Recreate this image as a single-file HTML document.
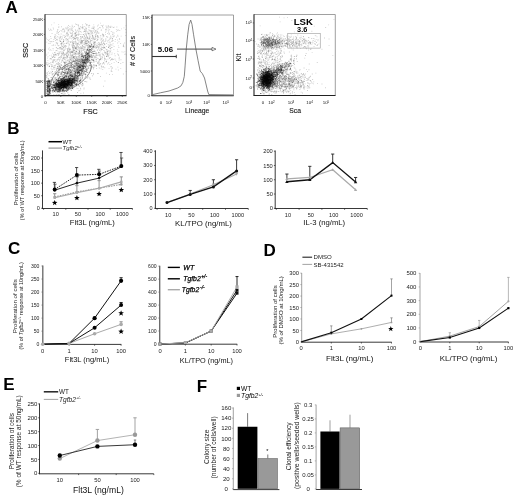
<!DOCTYPE html>
<html><head><meta charset="utf-8"><style>
html,body{margin:0;padding:0;background:#fff;width:520px;height:497px;overflow:hidden}
svg{display:block}
text{font-family:"Liberation Sans", sans-serif}
</style></head><body>
<svg style="will-change:transform" width="520" height="497" viewBox="0 0 520 497" font-family='"Liberation Sans", sans-serif'>
<defs><filter id="bl" x="0" y="0" width="1" height="1"><feGaussianBlur stdDeviation="0.45"/></filter></defs>
<rect width="520" height="497" fill="#fff"/>
<text x="5.60" y="13.20" font-size="17" font-weight="bold">A</text>
<g filter="url(#bl)">
<path d="M64.3 84.7h0.9v0.9h-0.9zM64.7 83.2h0.9v0.9h-0.9zM62.3 90.2h0.9v0.9h-0.9zM61.4 84.7h0.9v0.9h-0.9zM57.3 87.4h0.9v0.9h-0.9zM64.0 82.4h0.9v0.9h-0.9zM59.5 82.1h0.9v0.9h-0.9zM63.9 84.2h0.9v0.9h-0.9zM69.1 81.7h0.9v0.9h-0.9zM62.7 84.6h0.9v0.9h-0.9zM62.2 86.7h0.9v0.9h-0.9zM58.8 87.3h0.9v0.9h-0.9zM60.6 84.1h0.9v0.9h-0.9zM61.7 84.2h0.9v0.9h-0.9zM70.2 79.2h0.9v0.9h-0.9zM68.4 87.6h0.9v0.9h-0.9zM71.0 84.4h0.9v0.9h-0.9zM64.8 78.4h0.9v0.9h-0.9zM59.2 84.9h0.9v0.9h-0.9zM68.4 79.9h0.9v0.9h-0.9zM65.3 83.4h0.9v0.9h-0.9zM68.1 81.4h0.9v0.9h-0.9zM59.2 83.1h0.9v0.9h-0.9zM62.8 83.2h0.9v0.9h-0.9zM56.4 85.0h0.9v0.9h-0.9zM55.6 88.7h0.9v0.9h-0.9zM61.0 85.0h0.9v0.9h-0.9zM69.4 81.4h0.9v0.9h-0.9zM65.7 81.1h0.9v0.9h-0.9zM69.1 81.8h0.9v0.9h-0.9zM60.4 84.4h0.9v0.9h-0.9zM75.8 85.2h0.9v0.9h-0.9zM71.9 79.3h0.9v0.9h-0.9zM61.5 80.6h0.9v0.9h-0.9zM63.5 80.8h0.9v0.9h-0.9zM55.8 85.9h0.9v0.9h-0.9zM63.8 85.0h0.9v0.9h-0.9zM62.6 84.8h0.9v0.9h-0.9zM64.4 82.0h0.9v0.9h-0.9zM62.9 87.0h0.9v0.9h-0.9zM75.6 84.5h0.9v0.9h-0.9zM69.4 81.6h0.9v0.9h-0.9zM62.3 85.8h0.9v0.9h-0.9zM64.2 85.5h0.9v0.9h-0.9zM68.7 80.0h0.9v0.9h-0.9zM57.7 85.5h0.9v0.9h-0.9zM62.4 83.1h0.9v0.9h-0.9zM60.5 85.7h0.9v0.9h-0.9zM63.4 81.6h0.9v0.9h-0.9zM70.9 75.4h0.9v0.9h-0.9zM56.7 87.2h0.9v0.9h-0.9zM68.7 85.8h0.9v0.9h-0.9zM63.7 77.3h0.9v0.9h-0.9zM61.4 88.8h0.9v0.9h-0.9zM74.2 83.0h0.9v0.9h-0.9zM72.7 81.6h0.9v0.9h-0.9zM63.7 82.1h0.9v0.9h-0.9zM67.4 84.3h0.9v0.9h-0.9zM80.0 80.1h0.9v0.9h-0.9zM61.3 81.3h0.9v0.9h-0.9zM62.4 81.9h0.9v0.9h-0.9zM66.7 83.6h0.9v0.9h-0.9zM79.2 80.8h0.9v0.9h-0.9zM67.0 85.0h0.9v0.9h-0.9zM66.0 83.0h0.9v0.9h-0.9zM66.1 87.6h0.9v0.9h-0.9zM67.2 86.3h0.9v0.9h-0.9zM70.7 79.6h0.9v0.9h-0.9zM59.1 86.5h0.9v0.9h-0.9zM63.2 84.1h0.9v0.9h-0.9zM54.5 82.7h0.9v0.9h-0.9zM60.7 83.0h0.9v0.9h-0.9zM62.4 78.0h0.9v0.9h-0.9zM59.1 85.3h0.9v0.9h-0.9zM70.9 83.5h0.9v0.9h-0.9zM67.6 82.5h0.9v0.9h-0.9zM60.3 83.6h0.9v0.9h-0.9zM59.0 88.6h0.9v0.9h-0.9zM75.9 80.2h0.9v0.9h-0.9zM62.6 84.3h0.9v0.9h-0.9zM71.7 81.2h0.9v0.9h-0.9zM62.2 86.0h0.9v0.9h-0.9zM55.4 87.2h0.9v0.9h-0.9zM67.2 90.3h0.9v0.9h-0.9zM72.1 84.1h0.9v0.9h-0.9zM75.6 80.1h0.9v0.9h-0.9zM63.7 83.1h0.9v0.9h-0.9zM61.4 86.5h0.9v0.9h-0.9zM62.8 82.3h0.9v0.9h-0.9zM68.7 85.9h0.9v0.9h-0.9zM70.8 80.8h0.9v0.9h-0.9zM60.8 80.7h0.9v0.9h-0.9z" fill="#000" fill-opacity="0.5"/>
<path d="M61.7 82.4h0.9v0.9h-0.9zM49.8 87.7h0.9v0.9h-0.9zM67.1 79.6h0.9v0.9h-0.9zM71.5 83.2h0.9v0.9h-0.9zM53.0 82.4h0.9v0.9h-0.9zM61.6 79.4h0.9v0.9h-0.9zM70.7 81.1h0.9v0.9h-0.9zM60.3 86.6h0.9v0.9h-0.9zM67.6 84.8h0.9v0.9h-0.9zM58.0 82.0h0.9v0.9h-0.9zM63.6 84.4h0.9v0.9h-0.9zM61.2 88.0h0.9v0.9h-0.9zM55.5 91.4h0.9v0.9h-0.9zM62.9 84.7h0.9v0.9h-0.9zM71.2 85.6h0.9v0.9h-0.9zM67.3 83.0h0.9v0.9h-0.9zM69.5 80.7h0.9v0.9h-0.9zM71.9 82.8h0.9v0.9h-0.9zM57.3 82.9h0.9v0.9h-0.9zM62.3 79.9h0.9v0.9h-0.9zM64.9 83.8h0.9v0.9h-0.9zM57.6 81.1h0.9v0.9h-0.9zM62.2 83.1h0.9v0.9h-0.9zM65.5 78.8h0.9v0.9h-0.9zM70.6 80.6h0.9v0.9h-0.9zM64.0 84.9h0.9v0.9h-0.9zM70.7 87.0h0.9v0.9h-0.9zM69.2 79.6h0.9v0.9h-0.9zM53.8 83.8h0.9v0.9h-0.9zM69.7 87.6h0.9v0.9h-0.9zM52.5 91.6h0.9v0.9h-0.9zM71.8 83.1h0.9v0.9h-0.9zM64.0 82.6h0.9v0.9h-0.9zM59.1 83.3h0.9v0.9h-0.9zM54.4 86.7h0.9v0.9h-0.9zM64.6 83.3h0.9v0.9h-0.9zM70.2 80.4h0.9v0.9h-0.9zM62.3 81.5h0.9v0.9h-0.9zM66.2 85.2h0.9v0.9h-0.9zM70.1 80.6h0.9v0.9h-0.9zM52.5 85.5h0.9v0.9h-0.9zM69.7 82.0h0.9v0.9h-0.9zM64.4 84.0h0.9v0.9h-0.9zM73.7 81.0h0.9v0.9h-0.9zM61.0 87.5h0.9v0.9h-0.9zM62.9 84.9h0.9v0.9h-0.9zM62.4 83.1h0.9v0.9h-0.9zM61.1 88.2h0.9v0.9h-0.9zM63.8 84.4h0.9v0.9h-0.9zM62.4 85.2h0.9v0.9h-0.9zM60.8 84.2h0.9v0.9h-0.9zM61.4 83.1h0.9v0.9h-0.9zM59.9 84.2h0.9v0.9h-0.9zM63.6 83.8h0.9v0.9h-0.9zM63.3 83.7h0.9v0.9h-0.9zM64.1 80.0h0.9v0.9h-0.9zM55.7 83.5h0.9v0.9h-0.9zM61.0 86.8h0.9v0.9h-0.9zM73.1 78.2h0.9v0.9h-0.9zM66.1 87.8h0.9v0.9h-0.9zM65.0 84.9h0.9v0.9h-0.9zM70.6 81.8h0.9v0.9h-0.9zM63.7 83.6h0.9v0.9h-0.9zM70.4 79.8h0.9v0.9h-0.9zM70.6 78.2h0.9v0.9h-0.9zM65.0 81.1h0.9v0.9h-0.9zM67.7 82.7h0.9v0.9h-0.9zM62.1 87.7h0.9v0.9h-0.9zM68.1 80.2h0.9v0.9h-0.9zM60.8 79.2h0.9v0.9h-0.9zM56.6 85.6h0.9v0.9h-0.9zM66.8 85.8h0.9v0.9h-0.9zM67.1 81.0h0.9v0.9h-0.9zM55.2 83.3h0.9v0.9h-0.9zM55.8 88.1h0.9v0.9h-0.9zM57.3 91.6h0.9v0.9h-0.9zM65.0 83.7h0.9v0.9h-0.9zM66.7 86.1h0.9v0.9h-0.9zM68.2 79.7h0.9v0.9h-0.9zM63.5 84.2h0.9v0.9h-0.9zM74.7 77.7h0.9v0.9h-0.9zM58.7 85.5h0.9v0.9h-0.9zM55.9 83.6h0.9v0.9h-0.9zM62.7 78.7h0.9v0.9h-0.9zM63.7 79.2h0.9v0.9h-0.9zM60.0 85.7h0.9v0.9h-0.9zM58.9 82.6h0.9v0.9h-0.9zM59.0 91.6h0.9v0.9h-0.9zM63.2 85.6h0.9v0.9h-0.9zM60.0 89.8h0.9v0.9h-0.9zM61.6 82.2h0.9v0.9h-0.9zM54.8 82.7h0.9v0.9h-0.9z" fill="#000" fill-opacity="0.5"/>
<path d="M60.6 82.5h0.9v0.9h-0.9zM63.8 84.4h0.9v0.9h-0.9zM64.9 85.3h0.9v0.9h-0.9zM61.9 83.7h0.9v0.9h-0.9zM61.5 82.4h0.9v0.9h-0.9zM58.2 87.1h0.9v0.9h-0.9zM69.3 82.1h0.9v0.9h-0.9zM60.9 84.7h0.9v0.9h-0.9zM69.3 84.6h0.9v0.9h-0.9zM62.2 82.0h0.9v0.9h-0.9zM63.4 87.4h0.9v0.9h-0.9zM57.0 86.2h0.9v0.9h-0.9zM70.1 84.3h0.9v0.9h-0.9zM55.1 86.6h0.9v0.9h-0.9zM65.9 84.8h0.9v0.9h-0.9zM55.2 88.3h0.9v0.9h-0.9zM66.7 82.7h0.9v0.9h-0.9zM71.0 80.4h0.9v0.9h-0.9zM64.5 86.3h0.9v0.9h-0.9zM66.6 80.1h0.9v0.9h-0.9zM73.5 77.7h0.9v0.9h-0.9zM61.8 84.7h0.9v0.9h-0.9zM65.3 83.5h0.9v0.9h-0.9zM66.7 83.7h0.9v0.9h-0.9zM67.0 87.7h0.9v0.9h-0.9zM54.4 86.5h0.9v0.9h-0.9zM63.1 84.2h0.9v0.9h-0.9zM59.5 86.2h0.9v0.9h-0.9zM67.0 80.8h0.9v0.9h-0.9zM62.4 83.6h0.9v0.9h-0.9zM66.4 86.2h0.9v0.9h-0.9zM61.6 88.9h0.9v0.9h-0.9zM70.4 76.3h0.9v0.9h-0.9zM57.7 87.5h0.9v0.9h-0.9zM62.9 82.4h0.9v0.9h-0.9zM53.9 86.4h0.9v0.9h-0.9zM54.3 86.8h0.9v0.9h-0.9zM64.7 86.2h0.9v0.9h-0.9zM64.6 85.1h0.9v0.9h-0.9zM66.8 84.9h0.9v0.9h-0.9zM68.3 84.6h0.9v0.9h-0.9zM64.0 85.6h0.9v0.9h-0.9zM60.8 80.1h0.9v0.9h-0.9zM63.8 81.4h0.9v0.9h-0.9zM68.4 81.4h0.9v0.9h-0.9zM65.3 82.9h0.9v0.9h-0.9zM67.7 81.5h0.9v0.9h-0.9zM57.7 80.0h0.9v0.9h-0.9zM76.0 77.3h0.9v0.9h-0.9zM61.2 82.8h0.9v0.9h-0.9zM53.7 85.3h0.9v0.9h-0.9zM62.4 85.4h0.9v0.9h-0.9zM58.8 86.4h0.9v0.9h-0.9zM68.7 84.8h0.9v0.9h-0.9zM64.6 84.3h0.9v0.9h-0.9zM73.4 85.6h0.9v0.9h-0.9zM59.7 80.4h0.9v0.9h-0.9zM65.5 78.5h0.9v0.9h-0.9zM73.4 85.0h0.9v0.9h-0.9zM60.1 86.0h0.9v0.9h-0.9zM55.5 84.8h0.9v0.9h-0.9zM76.2 77.6h0.9v0.9h-0.9zM58.5 83.5h0.9v0.9h-0.9zM65.5 81.0h0.9v0.9h-0.9zM66.2 87.3h0.9v0.9h-0.9zM64.8 87.2h0.9v0.9h-0.9zM76.5 81.3h0.9v0.9h-0.9zM61.6 84.0h0.9v0.9h-0.9zM63.8 87.2h0.9v0.9h-0.9zM68.5 81.3h0.9v0.9h-0.9zM61.8 83.4h0.9v0.9h-0.9zM66.8 85.9h0.9v0.9h-0.9zM67.1 77.8h0.9v0.9h-0.9zM68.7 80.4h0.9v0.9h-0.9zM69.3 83.3h0.9v0.9h-0.9zM59.5 86.3h0.9v0.9h-0.9zM59.2 87.3h0.9v0.9h-0.9zM65.1 86.9h0.9v0.9h-0.9zM66.5 84.9h0.9v0.9h-0.9zM70.2 82.1h0.9v0.9h-0.9zM66.9 80.2h0.9v0.9h-0.9zM59.0 87.8h0.9v0.9h-0.9zM68.4 80.5h0.9v0.9h-0.9zM60.4 85.6h0.9v0.9h-0.9zM59.2 88.5h0.9v0.9h-0.9zM57.7 84.2h0.9v0.9h-0.9zM62.8 79.6h0.9v0.9h-0.9zM58.1 80.1h0.9v0.9h-0.9zM68.3 83.2h0.9v0.9h-0.9zM59.2 86.5h0.9v0.9h-0.9zM53.5 86.8h0.9v0.9h-0.9zM67.3 80.7h0.9v0.9h-0.9z" fill="#000" fill-opacity="0.5"/>
<path d="M65.5 87.2h0.9v0.9h-0.9zM55.2 85.9h0.9v0.9h-0.9zM63.6 86.0h0.9v0.9h-0.9zM64.0 88.2h0.9v0.9h-0.9zM66.9 89.2h0.9v0.9h-0.9zM53.2 90.3h0.9v0.9h-0.9zM59.9 84.6h0.9v0.9h-0.9zM56.9 83.2h0.9v0.9h-0.9zM62.9 88.6h0.9v0.9h-0.9zM55.5 88.5h0.9v0.9h-0.9zM61.9 78.7h0.9v0.9h-0.9zM62.8 80.8h0.9v0.9h-0.9zM67.7 82.9h0.9v0.9h-0.9zM60.1 87.9h0.9v0.9h-0.9zM74.5 79.6h0.9v0.9h-0.9zM52.1 84.4h0.9v0.9h-0.9zM61.6 83.9h0.9v0.9h-0.9zM61.4 81.8h0.9v0.9h-0.9zM55.7 87.0h0.9v0.9h-0.9zM54.1 87.4h0.9v0.9h-0.9zM54.6 84.6h0.9v0.9h-0.9zM63.5 83.9h0.9v0.9h-0.9zM56.6 86.9h0.9v0.9h-0.9zM65.9 84.4h0.9v0.9h-0.9zM72.6 80.6h0.9v0.9h-0.9zM60.0 83.1h0.9v0.9h-0.9zM66.3 86.9h0.9v0.9h-0.9zM60.8 87.0h0.9v0.9h-0.9zM63.4 84.8h0.9v0.9h-0.9zM71.0 82.8h0.9v0.9h-0.9zM74.8 80.1h0.9v0.9h-0.9zM63.6 83.9h0.9v0.9h-0.9zM59.9 84.0h0.9v0.9h-0.9zM58.7 80.4h0.9v0.9h-0.9zM63.9 82.3h0.9v0.9h-0.9zM68.8 83.8h0.9v0.9h-0.9zM64.2 84.2h0.9v0.9h-0.9zM58.5 85.3h0.9v0.9h-0.9zM59.3 79.8h0.9v0.9h-0.9zM60.8 86.1h0.9v0.9h-0.9zM68.0 82.4h0.9v0.9h-0.9zM69.5 81.1h0.9v0.9h-0.9zM60.8 79.0h0.9v0.9h-0.9zM67.0 82.2h0.9v0.9h-0.9zM56.5 82.4h0.9v0.9h-0.9zM68.3 76.5h0.9v0.9h-0.9zM60.5 81.9h0.9v0.9h-0.9zM58.2 80.5h0.9v0.9h-0.9zM63.2 83.8h0.9v0.9h-0.9zM63.7 84.1h0.9v0.9h-0.9zM64.7 86.2h0.9v0.9h-0.9zM68.5 85.6h0.9v0.9h-0.9zM70.1 80.5h0.9v0.9h-0.9zM71.2 82.3h0.9v0.9h-0.9zM61.1 85.0h0.9v0.9h-0.9zM64.0 83.4h0.9v0.9h-0.9zM55.2 82.7h0.9v0.9h-0.9zM62.7 85.6h0.9v0.9h-0.9zM72.5 80.9h0.9v0.9h-0.9zM58.1 83.0h0.9v0.9h-0.9zM59.5 87.7h0.9v0.9h-0.9zM63.7 78.8h0.9v0.9h-0.9zM58.2 85.0h0.9v0.9h-0.9zM59.7 83.8h0.9v0.9h-0.9zM62.5 83.4h0.9v0.9h-0.9zM69.3 82.1h0.9v0.9h-0.9zM62.7 86.6h0.9v0.9h-0.9zM66.2 86.2h0.9v0.9h-0.9zM61.4 85.5h0.9v0.9h-0.9zM61.4 84.2h0.9v0.9h-0.9zM62.6 78.6h0.9v0.9h-0.9zM65.8 86.7h0.9v0.9h-0.9zM67.6 82.0h0.9v0.9h-0.9zM76.5 79.7h0.9v0.9h-0.9zM69.1 80.6h0.9v0.9h-0.9zM66.3 87.1h0.9v0.9h-0.9zM52.5 87.0h0.9v0.9h-0.9zM69.3 84.1h0.9v0.9h-0.9zM73.2 78.7h0.9v0.9h-0.9zM62.9 83.6h0.9v0.9h-0.9zM73.6 79.6h0.9v0.9h-0.9zM64.4 83.4h0.9v0.9h-0.9zM64.2 85.7h0.9v0.9h-0.9zM56.4 84.4h0.9v0.9h-0.9zM73.6 81.3h0.9v0.9h-0.9zM65.6 81.9h0.9v0.9h-0.9zM64.6 83.8h0.9v0.9h-0.9zM63.2 83.9h0.9v0.9h-0.9zM68.9 80.7h0.9v0.9h-0.9zM70.9 83.4h0.9v0.9h-0.9zM60.7 86.6h0.9v0.9h-0.9zM63.8 82.4h0.9v0.9h-0.9z" fill="#000" fill-opacity="0.5"/>
<path d="M60.8 83.5h0.9v0.9h-0.9zM57.9 84.0h0.9v0.9h-0.9zM64.2 85.8h0.9v0.9h-0.9zM61.4 84.1h0.9v0.9h-0.9zM58.9 84.1h0.9v0.9h-0.9zM55.2 89.3h0.9v0.9h-0.9zM61.0 85.1h0.9v0.9h-0.9zM70.8 80.1h0.9v0.9h-0.9zM58.0 88.6h0.9v0.9h-0.9zM64.0 85.1h0.9v0.9h-0.9zM58.5 80.6h0.9v0.9h-0.9zM74.7 84.2h0.9v0.9h-0.9zM65.0 83.0h0.9v0.9h-0.9zM60.3 86.9h0.9v0.9h-0.9zM59.6 81.9h0.9v0.9h-0.9zM69.3 84.0h0.9v0.9h-0.9zM55.6 83.1h0.9v0.9h-0.9zM77.7 78.5h0.9v0.9h-0.9zM59.6 82.9h0.9v0.9h-0.9zM68.7 78.1h0.9v0.9h-0.9zM57.4 88.5h0.9v0.9h-0.9zM57.8 86.1h0.9v0.9h-0.9zM56.1 85.2h0.9v0.9h-0.9zM60.2 84.7h0.9v0.9h-0.9zM61.6 81.4h0.9v0.9h-0.9zM51.4 87.7h0.9v0.9h-0.9zM65.1 87.7h0.9v0.9h-0.9zM64.6 81.2h0.9v0.9h-0.9zM67.1 82.0h0.9v0.9h-0.9zM67.2 81.4h0.9v0.9h-0.9zM53.4 85.4h0.9v0.9h-0.9zM62.5 84.8h0.9v0.9h-0.9zM68.2 84.2h0.9v0.9h-0.9zM67.7 82.3h0.9v0.9h-0.9zM66.4 81.1h0.9v0.9h-0.9zM62.8 82.0h0.9v0.9h-0.9zM71.5 82.2h0.9v0.9h-0.9zM66.7 80.1h0.9v0.9h-0.9zM69.5 83.9h0.9v0.9h-0.9zM63.3 82.8h0.9v0.9h-0.9zM67.1 84.7h0.9v0.9h-0.9zM62.5 84.1h0.9v0.9h-0.9zM65.4 81.5h0.9v0.9h-0.9zM68.5 82.2h0.9v0.9h-0.9zM58.2 79.9h0.9v0.9h-0.9zM63.4 82.3h0.9v0.9h-0.9zM62.9 81.9h0.9v0.9h-0.9zM64.7 86.7h0.9v0.9h-0.9zM67.3 85.7h0.9v0.9h-0.9zM61.9 79.6h0.9v0.9h-0.9zM69.3 81.8h0.9v0.9h-0.9zM71.7 84.5h0.9v0.9h-0.9zM59.6 91.2h0.9v0.9h-0.9zM60.2 83.9h0.9v0.9h-0.9zM71.3 76.6h0.9v0.9h-0.9zM56.0 89.4h0.9v0.9h-0.9zM65.4 84.6h0.9v0.9h-0.9zM59.0 79.9h0.9v0.9h-0.9zM57.3 86.0h0.9v0.9h-0.9zM58.6 90.0h0.9v0.9h-0.9zM74.1 82.7h0.9v0.9h-0.9zM58.4 89.7h0.9v0.9h-0.9zM62.3 86.7h0.9v0.9h-0.9zM63.3 84.7h0.9v0.9h-0.9zM64.2 82.7h0.9v0.9h-0.9zM64.2 83.6h0.9v0.9h-0.9zM65.5 81.0h0.9v0.9h-0.9zM50.9 86.4h0.9v0.9h-0.9zM57.6 84.0h0.9v0.9h-0.9zM63.1 85.4h0.9v0.9h-0.9zM65.4 79.5h0.9v0.9h-0.9zM70.7 81.3h0.9v0.9h-0.9zM67.6 80.1h0.9v0.9h-0.9zM61.2 87.2h0.9v0.9h-0.9zM59.6 88.2h0.9v0.9h-0.9zM62.4 87.4h0.9v0.9h-0.9zM61.6 84.1h0.9v0.9h-0.9zM67.1 84.0h0.9v0.9h-0.9zM67.6 83.5h0.9v0.9h-0.9zM65.1 81.1h0.9v0.9h-0.9zM64.5 86.4h0.9v0.9h-0.9zM65.8 82.7h0.9v0.9h-0.9zM68.1 81.6h0.9v0.9h-0.9zM62.3 85.6h0.9v0.9h-0.9zM70.3 80.0h0.9v0.9h-0.9zM63.0 89.0h0.9v0.9h-0.9zM59.5 82.8h0.9v0.9h-0.9zM74.1 79.4h0.9v0.9h-0.9zM63.9 79.7h0.9v0.9h-0.9zM58.3 84.1h0.9v0.9h-0.9zM57.2 90.4h0.9v0.9h-0.9zM65.7 87.2h0.9v0.9h-0.9z" fill="#000" fill-opacity="0.5"/>
<path d="M67.0 83.9h0.9v0.9h-0.9zM69.1 79.9h0.9v0.9h-0.9zM71.2 79.5h0.9v0.9h-0.9zM65.8 83.0h0.9v0.9h-0.9zM65.6 84.8h0.9v0.9h-0.9zM60.1 87.6h0.9v0.9h-0.9zM61.7 84.0h0.9v0.9h-0.9zM65.6 83.3h0.9v0.9h-0.9zM67.5 85.2h0.9v0.9h-0.9zM58.0 84.4h0.9v0.9h-0.9zM45.8 89.2h0.9v0.9h-0.9zM62.2 86.8h0.9v0.9h-0.9zM62.9 84.5h0.9v0.9h-0.9zM72.0 80.2h0.9v0.9h-0.9zM65.5 87.5h0.9v0.9h-0.9zM61.7 80.1h0.9v0.9h-0.9zM68.2 82.0h0.9v0.9h-0.9zM72.1 79.3h0.9v0.9h-0.9zM68.2 81.0h0.9v0.9h-0.9zM57.4 84.3h0.9v0.9h-0.9zM67.6 80.0h0.9v0.9h-0.9zM64.9 87.2h0.9v0.9h-0.9zM60.6 79.5h0.9v0.9h-0.9zM67.9 83.8h0.9v0.9h-0.9zM60.6 86.4h0.9v0.9h-0.9zM69.2 83.2h0.9v0.9h-0.9zM58.6 85.5h0.9v0.9h-0.9zM64.1 83.0h0.9v0.9h-0.9zM65.9 80.8h0.9v0.9h-0.9zM76.0 84.4h0.9v0.9h-0.9zM57.0 85.2h0.9v0.9h-0.9zM61.6 84.7h0.9v0.9h-0.9zM70.2 77.4h0.9v0.9h-0.9zM66.0 83.6h0.9v0.9h-0.9zM64.7 86.5h0.9v0.9h-0.9zM66.9 81.3h0.9v0.9h-0.9zM67.5 79.7h0.9v0.9h-0.9zM64.1 81.0h0.9v0.9h-0.9zM64.9 83.9h0.9v0.9h-0.9zM61.4 85.1h0.9v0.9h-0.9zM64.5 86.7h0.9v0.9h-0.9zM63.7 81.6h0.9v0.9h-0.9zM59.9 84.9h0.9v0.9h-0.9zM71.7 75.7h0.9v0.9h-0.9zM67.5 81.0h0.9v0.9h-0.9zM64.9 84.3h0.9v0.9h-0.9zM63.9 86.9h0.9v0.9h-0.9zM66.3 79.4h0.9v0.9h-0.9zM60.6 83.0h0.9v0.9h-0.9zM62.4 82.2h0.9v0.9h-0.9zM62.2 82.3h0.9v0.9h-0.9zM72.0 82.9h0.9v0.9h-0.9zM60.4 81.9h0.9v0.9h-0.9zM67.3 84.4h0.9v0.9h-0.9zM64.6 81.3h0.9v0.9h-0.9zM79.4 80.4h0.9v0.9h-0.9zM73.6 76.4h0.9v0.9h-0.9zM63.1 86.4h0.9v0.9h-0.9zM50.5 84.2h0.9v0.9h-0.9zM77.3 80.5h0.9v0.9h-0.9zM63.4 88.3h0.9v0.9h-0.9zM59.3 87.2h0.9v0.9h-0.9zM61.6 84.3h0.9v0.9h-0.9zM65.2 79.5h0.9v0.9h-0.9zM71.8 78.6h0.9v0.9h-0.9zM62.5 90.0h0.9v0.9h-0.9zM64.3 83.4h0.9v0.9h-0.9zM57.4 83.3h0.9v0.9h-0.9zM63.1 90.4h0.9v0.9h-0.9zM56.2 84.2h0.9v0.9h-0.9zM60.0 84.3h0.9v0.9h-0.9zM72.0 81.5h0.9v0.9h-0.9zM62.6 90.7h0.9v0.9h-0.9zM74.2 81.6h0.9v0.9h-0.9zM56.3 80.8h0.9v0.9h-0.9zM61.0 88.2h0.9v0.9h-0.9zM64.6 80.4h0.9v0.9h-0.9zM65.5 84.1h0.9v0.9h-0.9zM58.4 86.0h0.9v0.9h-0.9zM61.2 84.9h0.9v0.9h-0.9zM69.9 78.8h0.9v0.9h-0.9zM56.1 88.5h0.9v0.9h-0.9zM63.5 81.9h0.9v0.9h-0.9zM62.3 82.2h0.9v0.9h-0.9zM63.0 84.4h0.9v0.9h-0.9zM69.4 84.3h0.9v0.9h-0.9zM58.1 91.3h0.9v0.9h-0.9zM64.5 85.5h0.9v0.9h-0.9zM68.3 82.9h0.9v0.9h-0.9zM61.4 84.8h0.9v0.9h-0.9zM65.3 82.9h0.9v0.9h-0.9zM60.0 84.5h0.9v0.9h-0.9z" fill="#000" fill-opacity="0.5"/>
<path d="M63.7 81.5h0.9v0.9h-0.9zM64.6 86.2h0.9v0.9h-0.9zM64.7 82.5h0.9v0.9h-0.9zM61.9 81.7h0.9v0.9h-0.9zM62.9 83.8h0.9v0.9h-0.9zM63.3 80.0h0.9v0.9h-0.9zM55.8 84.8h0.9v0.9h-0.9zM61.1 83.6h0.9v0.9h-0.9zM75.6 83.9h0.9v0.9h-0.9zM57.8 83.8h0.9v0.9h-0.9zM71.3 81.5h0.9v0.9h-0.9zM63.7 76.9h0.9v0.9h-0.9zM72.7 82.4h0.9v0.9h-0.9zM60.9 85.7h0.9v0.9h-0.9zM68.4 79.8h0.9v0.9h-0.9zM61.4 83.1h0.9v0.9h-0.9zM66.1 86.0h0.9v0.9h-0.9zM63.4 79.6h0.9v0.9h-0.9zM71.5 79.1h0.9v0.9h-0.9zM58.2 87.2h0.9v0.9h-0.9zM56.1 85.9h0.9v0.9h-0.9zM74.1 80.0h0.9v0.9h-0.9zM64.6 84.2h0.9v0.9h-0.9zM63.8 79.9h0.9v0.9h-0.9zM66.3 83.5h0.9v0.9h-0.9zM60.7 85.2h0.9v0.9h-0.9zM63.6 86.3h0.9v0.9h-0.9zM68.4 80.6h0.9v0.9h-0.9zM61.1 82.2h0.9v0.9h-0.9zM67.7 84.5h0.9v0.9h-0.9zM62.7 79.0h0.9v0.9h-0.9zM57.8 85.2h0.9v0.9h-0.9zM67.8 81.8h0.9v0.9h-0.9zM67.5 82.8h0.9v0.9h-0.9zM77.1 76.4h0.9v0.9h-0.9zM56.9 84.4h0.9v0.9h-0.9zM70.6 87.4h0.9v0.9h-0.9zM72.2 87.4h0.9v0.9h-0.9zM69.2 80.8h0.9v0.9h-0.9zM63.7 82.6h0.9v0.9h-0.9zM52.2 90.0h0.9v0.9h-0.9zM69.2 81.0h0.9v0.9h-0.9zM64.2 80.0h0.9v0.9h-0.9zM63.2 86.7h0.9v0.9h-0.9zM68.3 87.6h0.9v0.9h-0.9zM58.5 84.2h0.9v0.9h-0.9zM66.4 84.5h0.9v0.9h-0.9zM61.4 89.9h0.9v0.9h-0.9zM54.2 85.0h0.9v0.9h-0.9zM61.2 85.6h0.9v0.9h-0.9zM66.0 82.6h0.9v0.9h-0.9zM55.5 86.7h0.9v0.9h-0.9zM65.7 84.6h0.9v0.9h-0.9zM72.0 82.2h0.9v0.9h-0.9zM65.8 85.7h0.9v0.9h-0.9zM71.4 82.8h0.9v0.9h-0.9zM61.1 87.6h0.9v0.9h-0.9zM70.7 75.5h0.9v0.9h-0.9zM63.6 81.4h0.9v0.9h-0.9zM60.7 87.1h0.9v0.9h-0.9zM57.1 90.7h0.9v0.9h-0.9zM62.7 81.6h0.9v0.9h-0.9zM58.8 90.4h0.9v0.9h-0.9zM76.1 82.9h0.9v0.9h-0.9zM67.7 79.1h0.9v0.9h-0.9zM63.0 81.1h0.9v0.9h-0.9zM52.8 87.6h0.9v0.9h-0.9zM58.4 83.6h0.9v0.9h-0.9zM61.3 83.5h0.9v0.9h-0.9zM65.7 83.8h0.9v0.9h-0.9zM56.5 82.9h0.9v0.9h-0.9zM63.7 81.6h0.9v0.9h-0.9zM58.8 83.9h0.9v0.9h-0.9zM57.7 87.3h0.9v0.9h-0.9zM68.9 80.2h0.9v0.9h-0.9zM59.5 84.6h0.9v0.9h-0.9zM67.0 82.4h0.9v0.9h-0.9zM68.9 80.8h0.9v0.9h-0.9zM60.5 78.8h0.9v0.9h-0.9zM60.8 84.8h0.9v0.9h-0.9zM60.9 81.3h0.9v0.9h-0.9zM65.4 83.1h0.9v0.9h-0.9zM74.1 82.1h0.9v0.9h-0.9zM67.8 81.1h0.9v0.9h-0.9zM64.9 79.4h0.9v0.9h-0.9zM67.3 84.1h0.9v0.9h-0.9zM58.1 90.5h0.9v0.9h-0.9zM72.6 80.7h0.9v0.9h-0.9zM62.8 87.7h0.9v0.9h-0.9zM69.1 78.6h0.9v0.9h-0.9zM59.4 83.5h0.9v0.9h-0.9zM60.4 87.7h0.9v0.9h-0.9z" fill="#000" fill-opacity="0.5"/>
<path d="M64.5 85.8h0.9v0.9h-0.9zM60.7 84.9h0.9v0.9h-0.9zM63.6 80.8h0.9v0.9h-0.9zM63.5 82.9h0.9v0.9h-0.9zM68.3 83.9h0.9v0.9h-0.9zM72.1 85.0h0.9v0.9h-0.9zM72.4 79.1h0.9v0.9h-0.9zM67.2 82.0h0.9v0.9h-0.9zM56.3 82.1h0.9v0.9h-0.9zM64.4 81.7h0.9v0.9h-0.9zM56.8 84.0h0.9v0.9h-0.9zM65.3 83.4h0.9v0.9h-0.9zM63.2 82.7h0.9v0.9h-0.9zM63.1 81.6h0.9v0.9h-0.9zM58.9 84.5h0.9v0.9h-0.9zM69.5 88.3h0.9v0.9h-0.9zM53.9 85.5h0.9v0.9h-0.9zM62.8 87.2h0.9v0.9h-0.9zM65.9 82.7h0.9v0.9h-0.9zM59.0 83.8h0.9v0.9h-0.9zM69.1 74.4h0.9v0.9h-0.9zM59.8 85.4h0.9v0.9h-0.9zM62.8 83.3h0.9v0.9h-0.9zM68.0 85.8h0.9v0.9h-0.9zM68.7 80.1h0.9v0.9h-0.9zM65.7 75.8h0.9v0.9h-0.9zM68.4 78.2h0.9v0.9h-0.9zM62.7 87.8h0.9v0.9h-0.9zM70.1 81.7h0.9v0.9h-0.9zM53.5 89.6h0.9v0.9h-0.9zM64.5 79.6h0.9v0.9h-0.9zM76.4 79.3h0.9v0.9h-0.9zM60.9 86.6h0.9v0.9h-0.9zM71.1 82.6h0.9v0.9h-0.9zM60.7 82.9h0.9v0.9h-0.9zM72.1 81.7h0.9v0.9h-0.9zM68.4 83.1h0.9v0.9h-0.9zM74.8 79.5h0.9v0.9h-0.9zM60.0 84.9h0.9v0.9h-0.9zM62.7 87.6h0.9v0.9h-0.9zM59.2 88.4h0.9v0.9h-0.9zM65.8 81.1h0.9v0.9h-0.9zM53.5 84.9h0.9v0.9h-0.9zM61.4 82.8h0.9v0.9h-0.9zM69.4 78.9h0.9v0.9h-0.9zM68.6 83.3h0.9v0.9h-0.9zM66.0 83.4h0.9v0.9h-0.9zM65.7 83.4h0.9v0.9h-0.9zM67.0 83.0h0.9v0.9h-0.9zM68.3 84.9h0.9v0.9h-0.9zM68.9 87.1h0.9v0.9h-0.9zM65.4 82.4h0.9v0.9h-0.9zM60.9 87.3h0.9v0.9h-0.9zM71.1 85.6h0.9v0.9h-0.9zM64.4 86.0h0.9v0.9h-0.9zM59.8 89.2h0.9v0.9h-0.9zM62.5 83.6h0.9v0.9h-0.9zM77.2 76.1h0.9v0.9h-0.9zM63.0 84.1h0.9v0.9h-0.9zM62.9 86.6h0.9v0.9h-0.9zM58.0 78.5h0.9v0.9h-0.9zM61.6 83.4h0.9v0.9h-0.9zM68.4 87.4h0.9v0.9h-0.9zM67.7 81.6h0.9v0.9h-0.9zM67.7 82.4h0.9v0.9h-0.9zM62.0 86.8h0.9v0.9h-0.9zM62.0 83.5h0.9v0.9h-0.9zM64.9 81.2h0.9v0.9h-0.9zM60.8 84.7h0.9v0.9h-0.9zM61.4 83.3h0.9v0.9h-0.9zM58.5 86.0h0.9v0.9h-0.9zM63.1 86.5h0.9v0.9h-0.9zM61.6 82.1h0.9v0.9h-0.9zM71.1 80.1h0.9v0.9h-0.9zM61.1 81.2h0.9v0.9h-0.9zM74.6 81.0h0.9v0.9h-0.9zM59.2 82.0h0.9v0.9h-0.9zM73.4 80.3h0.9v0.9h-0.9zM67.7 84.1h0.9v0.9h-0.9zM62.5 90.1h0.9v0.9h-0.9zM64.7 83.5h0.9v0.9h-0.9zM70.5 85.0h0.9v0.9h-0.9zM58.0 86.2h0.9v0.9h-0.9zM60.1 81.6h0.9v0.9h-0.9zM70.3 85.4h0.9v0.9h-0.9zM71.9 81.1h0.9v0.9h-0.9zM66.9 81.9h0.9v0.9h-0.9zM70.1 83.2h0.9v0.9h-0.9zM65.3 75.7h0.9v0.9h-0.9zM67.1 84.6h0.9v0.9h-0.9zM57.4 84.9h0.9v0.9h-0.9zM57.4 83.3h0.9v0.9h-0.9z" fill="#000" fill-opacity="0.5"/>
<path d="M56.3 85.5h0.9v0.9h-0.9zM64.7 83.9h0.9v0.9h-0.9zM60.7 84.7h0.9v0.9h-0.9zM70.9 83.3h0.9v0.9h-0.9zM58.3 85.9h0.9v0.9h-0.9zM63.4 83.5h0.9v0.9h-0.9zM58.6 86.9h0.9v0.9h-0.9zM63.2 84.4h0.9v0.9h-0.9zM67.5 79.9h0.9v0.9h-0.9zM66.2 84.1h0.9v0.9h-0.9zM70.3 82.1h0.9v0.9h-0.9zM63.5 81.2h0.9v0.9h-0.9zM62.0 89.2h0.9v0.9h-0.9zM68.3 88.0h0.9v0.9h-0.9zM65.4 82.9h0.9v0.9h-0.9zM64.5 81.7h0.9v0.9h-0.9zM65.3 84.6h0.9v0.9h-0.9zM58.1 89.1h0.9v0.9h-0.9zM60.4 86.9h0.9v0.9h-0.9zM66.5 81.0h0.9v0.9h-0.9zM65.9 80.3h0.9v0.9h-0.9zM60.0 83.4h0.9v0.9h-0.9zM61.1 82.4h0.9v0.9h-0.9zM69.7 82.6h0.9v0.9h-0.9zM64.3 85.9h0.9v0.9h-0.9zM63.8 85.6h0.9v0.9h-0.9zM59.3 86.6h0.9v0.9h-0.9zM78.0 84.4h0.9v0.9h-0.9zM59.7 84.6h0.9v0.9h-0.9zM63.3 85.4h0.9v0.9h-0.9zM65.5 83.1h0.9v0.9h-0.9zM63.2 85.8h0.9v0.9h-0.9zM57.1 80.8h0.9v0.9h-0.9zM66.5 84.2h0.9v0.9h-0.9zM67.3 79.6h0.9v0.9h-0.9zM69.9 80.5h0.9v0.9h-0.9zM66.4 88.1h0.9v0.9h-0.9zM68.1 82.8h0.9v0.9h-0.9zM69.2 78.3h0.9v0.9h-0.9zM66.0 85.7h0.9v0.9h-0.9zM62.0 82.3h0.9v0.9h-0.9zM66.3 84.2h0.9v0.9h-0.9zM52.0 85.7h0.9v0.9h-0.9zM61.3 81.2h0.9v0.9h-0.9zM69.8 85.1h0.9v0.9h-0.9zM62.1 90.3h0.9v0.9h-0.9zM63.0 83.5h0.9v0.9h-0.9zM71.9 87.9h0.9v0.9h-0.9zM58.1 85.1h0.9v0.9h-0.9zM62.1 87.2h0.9v0.9h-0.9zM62.5 80.4h0.9v0.9h-0.9zM68.6 81.3h0.9v0.9h-0.9zM60.5 82.7h0.9v0.9h-0.9zM63.6 80.0h0.9v0.9h-0.9zM56.3 89.9h0.9v0.9h-0.9zM57.1 85.9h0.9v0.9h-0.9zM73.0 79.8h0.9v0.9h-0.9zM70.3 85.1h0.9v0.9h-0.9zM75.7 83.3h0.9v0.9h-0.9zM65.8 84.1h0.9v0.9h-0.9zM79.9 82.6h0.9v0.9h-0.9zM62.0 86.8h0.9v0.9h-0.9zM69.7 86.1h0.9v0.9h-0.9zM64.0 85.6h0.9v0.9h-0.9zM49.5 89.3h0.9v0.9h-0.9zM67.5 82.3h0.9v0.9h-0.9zM54.5 86.5h0.9v0.9h-0.9zM65.1 84.8h0.9v0.9h-0.9zM67.7 83.2h0.9v0.9h-0.9zM59.4 85.5h0.9v0.9h-0.9zM67.7 84.2h0.9v0.9h-0.9zM57.4 88.2h0.9v0.9h-0.9zM72.0 85.9h0.9v0.9h-0.9zM60.7 88.0h0.9v0.9h-0.9zM55.7 83.8h0.9v0.9h-0.9zM66.6 89.3h0.9v0.9h-0.9zM57.9 87.2h0.9v0.9h-0.9zM69.3 81.8h0.9v0.9h-0.9zM60.4 81.6h0.9v0.9h-0.9zM71.6 82.5h0.9v0.9h-0.9zM61.5 83.0h0.9v0.9h-0.9zM57.4 84.3h0.9v0.9h-0.9zM68.3 83.8h0.9v0.9h-0.9zM60.3 87.2h0.9v0.9h-0.9zM56.5 83.0h0.9v0.9h-0.9zM73.3 78.0h0.9v0.9h-0.9zM58.6 88.8h0.9v0.9h-0.9zM62.5 84.8h0.9v0.9h-0.9zM62.9 80.4h0.9v0.9h-0.9zM67.5 84.0h0.9v0.9h-0.9zM63.9 83.6h0.9v0.9h-0.9z" fill="#000" fill-opacity="0.5"/>
<path d="M52.5 84.6h0.9v0.9h-0.9zM57.4 86.6h0.9v0.9h-0.9zM69.9 85.0h0.9v0.9h-0.9zM64.5 85.7h0.9v0.9h-0.9zM63.3 81.4h0.9v0.9h-0.9zM62.3 81.9h0.9v0.9h-0.9zM70.4 77.7h0.9v0.9h-0.9zM71.0 83.3h0.9v0.9h-0.9zM64.7 86.1h0.9v0.9h-0.9zM73.8 76.6h0.9v0.9h-0.9zM64.2 83.8h0.9v0.9h-0.9zM62.4 84.1h0.9v0.9h-0.9zM66.8 83.2h0.9v0.9h-0.9zM62.4 84.0h0.9v0.9h-0.9zM65.4 84.3h0.9v0.9h-0.9zM57.6 86.2h0.9v0.9h-0.9zM62.9 87.3h0.9v0.9h-0.9zM64.9 80.8h0.9v0.9h-0.9zM63.7 85.8h0.9v0.9h-0.9zM65.5 80.8h0.9v0.9h-0.9zM68.7 79.3h0.9v0.9h-0.9zM62.8 81.6h0.9v0.9h-0.9zM62.0 83.2h0.9v0.9h-0.9zM56.3 89.4h0.9v0.9h-0.9zM68.1 85.5h0.9v0.9h-0.9zM69.2 86.8h0.9v0.9h-0.9zM59.1 81.6h0.9v0.9h-0.9zM64.5 84.4h0.9v0.9h-0.9zM63.4 86.2h0.9v0.9h-0.9zM67.4 81.8h0.9v0.9h-0.9zM62.2 84.4h0.9v0.9h-0.9zM66.9 79.9h0.9v0.9h-0.9zM60.7 81.1h0.9v0.9h-0.9zM55.9 86.5h0.9v0.9h-0.9zM61.3 84.9h0.9v0.9h-0.9zM68.6 80.7h0.9v0.9h-0.9zM58.8 85.6h0.9v0.9h-0.9zM65.9 87.6h0.9v0.9h-0.9zM69.9 80.1h0.9v0.9h-0.9zM71.1 83.1h0.9v0.9h-0.9zM65.2 81.0h0.9v0.9h-0.9zM63.5 89.8h0.9v0.9h-0.9zM71.7 78.3h0.9v0.9h-0.9zM66.8 89.7h0.9v0.9h-0.9zM59.1 83.2h0.9v0.9h-0.9zM75.3 75.8h0.9v0.9h-0.9zM67.2 79.8h0.9v0.9h-0.9zM71.2 81.8h0.9v0.9h-0.9zM64.6 85.2h0.9v0.9h-0.9zM71.4 84.4h0.9v0.9h-0.9zM58.0 82.1h0.9v0.9h-0.9zM60.2 89.4h0.9v0.9h-0.9zM65.7 85.5h0.9v0.9h-0.9zM56.3 82.8h0.9v0.9h-0.9zM61.3 86.7h0.9v0.9h-0.9zM66.3 85.6h0.9v0.9h-0.9zM56.5 83.1h0.9v0.9h-0.9zM69.5 82.4h0.9v0.9h-0.9zM64.8 87.0h0.9v0.9h-0.9zM66.8 81.4h0.9v0.9h-0.9zM58.5 86.5h0.9v0.9h-0.9zM67.0 81.3h0.9v0.9h-0.9zM63.3 86.2h0.9v0.9h-0.9zM64.8 79.0h0.9v0.9h-0.9zM57.6 85.1h0.9v0.9h-0.9zM60.3 85.4h0.9v0.9h-0.9zM63.9 84.3h0.9v0.9h-0.9zM60.0 85.8h0.9v0.9h-0.9zM75.4 80.4h0.9v0.9h-0.9zM69.5 79.1h0.9v0.9h-0.9zM57.9 84.0h0.9v0.9h-0.9zM66.1 84.0h0.9v0.9h-0.9zM58.6 81.2h0.9v0.9h-0.9zM63.8 81.0h0.9v0.9h-0.9zM62.4 85.6h0.9v0.9h-0.9zM65.2 81.3h0.9v0.9h-0.9zM58.8 86.1h0.9v0.9h-0.9zM64.5 89.5h0.9v0.9h-0.9zM72.3 81.7h0.9v0.9h-0.9zM65.7 89.5h0.9v0.9h-0.9zM61.2 82.9h0.9v0.9h-0.9zM73.7 84.4h0.9v0.9h-0.9zM75.2 83.7h0.9v0.9h-0.9zM55.1 87.0h0.9v0.9h-0.9zM65.3 81.7h0.9v0.9h-0.9zM61.4 81.1h0.9v0.9h-0.9zM72.6 78.3h0.9v0.9h-0.9zM63.3 81.7h0.9v0.9h-0.9zM72.0 88.0h0.9v0.9h-0.9zM72.7 82.2h0.9v0.9h-0.9zM56.1 86.2h0.9v0.9h-0.9z" fill="#000" fill-opacity="0.5"/>
<path d="M53.8 87.1h0.9v0.9h-0.9zM70.0 77.5h0.9v0.9h-0.9zM56.1 84.7h0.9v0.9h-0.9zM63.1 87.2h0.9v0.9h-0.9zM64.7 81.4h0.9v0.9h-0.9zM69.5 80.5h0.9v0.9h-0.9zM62.3 82.9h0.9v0.9h-0.9zM65.6 81.9h0.9v0.9h-0.9zM53.2 82.1h0.9v0.9h-0.9zM68.8 82.0h0.9v0.9h-0.9zM64.9 85.9h0.9v0.9h-0.9zM70.8 82.5h0.9v0.9h-0.9zM61.1 82.0h0.9v0.9h-0.9zM58.6 86.9h0.9v0.9h-0.9zM62.3 84.5h0.9v0.9h-0.9zM62.0 81.5h0.9v0.9h-0.9zM64.1 80.6h0.9v0.9h-0.9zM60.9 83.9h0.9v0.9h-0.9zM62.8 81.4h0.9v0.9h-0.9zM55.8 81.9h0.9v0.9h-0.9zM61.1 80.9h0.9v0.9h-0.9zM67.2 82.5h0.9v0.9h-0.9zM63.4 80.9h0.9v0.9h-0.9zM60.9 78.1h0.9v0.9h-0.9zM65.9 82.5h0.9v0.9h-0.9zM70.5 82.5h0.9v0.9h-0.9zM70.1 83.1h0.9v0.9h-0.9zM72.2 80.7h0.9v0.9h-0.9zM54.4 84.6h0.9v0.9h-0.9zM55.1 88.3h0.9v0.9h-0.9zM60.5 83.6h0.9v0.9h-0.9zM63.7 86.7h0.9v0.9h-0.9zM60.8 86.2h0.9v0.9h-0.9zM62.8 85.0h0.9v0.9h-0.9zM57.8 83.6h0.9v0.9h-0.9zM65.4 90.4h0.9v0.9h-0.9zM67.2 84.9h0.9v0.9h-0.9zM57.7 89.2h0.9v0.9h-0.9zM59.1 89.3h0.9v0.9h-0.9zM75.6 77.5h0.9v0.9h-0.9zM57.6 82.0h0.9v0.9h-0.9zM67.6 87.6h0.9v0.9h-0.9zM66.3 79.4h0.9v0.9h-0.9zM69.3 79.0h0.9v0.9h-0.9zM62.0 80.3h0.9v0.9h-0.9zM67.9 89.5h0.9v0.9h-0.9zM71.3 81.4h0.9v0.9h-0.9zM66.5 84.8h0.9v0.9h-0.9zM60.5 84.6h0.9v0.9h-0.9zM71.4 80.9h0.9v0.9h-0.9zM58.6 89.6h0.9v0.9h-0.9zM67.8 83.2h0.9v0.9h-0.9zM60.8 86.1h0.9v0.9h-0.9zM71.9 78.8h0.9v0.9h-0.9zM62.7 77.3h0.9v0.9h-0.9zM66.6 84.1h0.9v0.9h-0.9zM66.1 84.1h0.9v0.9h-0.9zM58.2 87.8h0.9v0.9h-0.9zM59.5 84.7h0.9v0.9h-0.9zM60.3 80.6h0.9v0.9h-0.9zM62.9 84.7h0.9v0.9h-0.9zM59.3 86.5h0.9v0.9h-0.9zM77.7 75.6h0.9v0.9h-0.9zM70.8 89.8h0.9v0.9h-0.9zM71.6 78.1h0.9v0.9h-0.9zM53.4 84.1h0.9v0.9h-0.9zM58.2 87.9h0.9v0.9h-0.9zM73.4 81.5h0.9v0.9h-0.9zM72.1 81.8h0.9v0.9h-0.9zM73.1 83.0h0.9v0.9h-0.9zM59.4 86.9h0.9v0.9h-0.9zM51.9 88.1h0.9v0.9h-0.9zM71.4 84.4h0.9v0.9h-0.9zM61.3 82.9h0.9v0.9h-0.9zM52.1 90.4h0.9v0.9h-0.9zM67.0 79.7h0.9v0.9h-0.9zM70.7 84.4h0.9v0.9h-0.9zM61.2 81.5h0.9v0.9h-0.9zM70.8 85.4h0.9v0.9h-0.9zM65.7 83.1h0.9v0.9h-0.9zM68.2 86.7h0.9v0.9h-0.9zM58.9 82.6h0.9v0.9h-0.9zM61.0 84.9h0.9v0.9h-0.9zM67.6 81.7h0.9v0.9h-0.9zM51.8 90.7h0.9v0.9h-0.9zM62.6 85.9h0.9v0.9h-0.9zM63.3 87.2h0.9v0.9h-0.9zM69.4 78.2h0.9v0.9h-0.9zM61.2 85.2h0.9v0.9h-0.9zM69.2 83.7h0.9v0.9h-0.9zM59.3 86.2h0.9v0.9h-0.9z" fill="#000" fill-opacity="0.5"/>
<path d="M57.3 87.2h0.9v0.9h-0.9zM68.8 82.6h0.9v0.9h-0.9zM65.8 77.8h0.9v0.9h-0.9zM64.5 85.4h0.9v0.9h-0.9zM69.5 82.5h0.9v0.9h-0.9zM63.0 82.2h0.9v0.9h-0.9zM55.1 89.3h0.9v0.9h-0.9zM57.3 89.1h0.9v0.9h-0.9zM65.5 83.6h0.9v0.9h-0.9zM62.6 80.5h0.9v0.9h-0.9zM67.2 83.4h0.9v0.9h-0.9zM65.3 87.7h0.9v0.9h-0.9zM64.4 86.3h0.9v0.9h-0.9zM56.2 83.8h0.9v0.9h-0.9zM65.1 83.4h0.9v0.9h-0.9zM63.6 81.0h0.9v0.9h-0.9zM59.6 87.8h0.9v0.9h-0.9zM63.3 82.8h0.9v0.9h-0.9zM63.5 84.3h0.9v0.9h-0.9zM73.9 79.5h0.9v0.9h-0.9zM59.9 89.3h0.9v0.9h-0.9zM65.2 83.1h0.9v0.9h-0.9zM65.4 83.9h0.9v0.9h-0.9zM64.7 79.6h0.9v0.9h-0.9zM65.1 80.8h0.9v0.9h-0.9zM66.3 85.3h0.9v0.9h-0.9zM66.3 81.9h0.9v0.9h-0.9zM58.8 86.2h0.9v0.9h-0.9zM64.2 90.9h0.9v0.9h-0.9zM59.7 84.7h0.9v0.9h-0.9zM54.8 87.3h0.9v0.9h-0.9zM65.6 83.8h0.9v0.9h-0.9zM67.1 87.3h0.9v0.9h-0.9zM58.0 90.7h0.9v0.9h-0.9zM59.5 79.8h0.9v0.9h-0.9zM67.7 81.3h0.9v0.9h-0.9zM61.9 85.6h0.9v0.9h-0.9zM65.0 87.5h0.9v0.9h-0.9zM62.3 81.0h0.9v0.9h-0.9zM68.1 81.6h0.9v0.9h-0.9zM64.3 85.3h0.9v0.9h-0.9zM68.6 80.5h0.9v0.9h-0.9zM65.3 82.6h0.9v0.9h-0.9zM58.9 84.7h0.9v0.9h-0.9zM69.9 75.2h0.9v0.9h-0.9zM68.5 83.0h0.9v0.9h-0.9zM59.5 84.3h0.9v0.9h-0.9zM59.7 82.6h0.9v0.9h-0.9zM53.1 84.8h0.9v0.9h-0.9zM63.8 86.4h0.9v0.9h-0.9zM63.9 79.8h0.9v0.9h-0.9zM70.0 84.8h0.9v0.9h-0.9zM66.0 91.1h0.9v0.9h-0.9zM71.2 83.0h0.9v0.9h-0.9zM60.1 86.0h0.9v0.9h-0.9zM58.7 82.4h0.9v0.9h-0.9zM55.6 84.3h0.9v0.9h-0.9zM57.9 79.3h0.9v0.9h-0.9zM67.9 79.2h0.9v0.9h-0.9zM60.3 81.4h0.9v0.9h-0.9zM55.3 85.3h0.9v0.9h-0.9zM64.4 86.7h0.9v0.9h-0.9zM71.9 85.8h0.9v0.9h-0.9zM54.6 90.2h0.9v0.9h-0.9zM59.4 89.8h0.9v0.9h-0.9zM68.0 81.2h0.9v0.9h-0.9zM57.0 85.9h0.9v0.9h-0.9zM60.4 85.1h0.9v0.9h-0.9zM66.0 79.3h0.9v0.9h-0.9zM62.2 86.8h0.9v0.9h-0.9zM54.0 91.1h0.9v0.9h-0.9zM66.9 80.8h0.9v0.9h-0.9zM69.5 85.2h0.9v0.9h-0.9zM65.7 83.7h0.9v0.9h-0.9zM56.6 83.7h0.9v0.9h-0.9zM71.2 84.7h0.9v0.9h-0.9zM72.2 80.2h0.9v0.9h-0.9zM59.8 84.6h0.9v0.9h-0.9zM61.9 87.0h0.9v0.9h-0.9zM65.9 84.1h0.9v0.9h-0.9zM53.4 87.5h0.9v0.9h-0.9zM60.1 84.0h0.9v0.9h-0.9zM57.2 87.2h0.9v0.9h-0.9zM64.3 80.8h0.9v0.9h-0.9zM64.4 82.5h0.9v0.9h-0.9zM71.3 79.5h0.9v0.9h-0.9zM67.6 88.2h0.9v0.9h-0.9zM71.2 84.0h0.9v0.9h-0.9zM62.9 85.4h0.9v0.9h-0.9zM72.1 75.8h0.9v0.9h-0.9zM74.7 81.8h0.9v0.9h-0.9z" fill="#000" fill-opacity="0.5"/>
<path d="M74.3 73.9h0.9v0.9h-0.9zM89.2 56.1h0.9v0.9h-0.9zM82.2 72.7h0.9v0.9h-0.9zM79.1 72.1h0.9v0.9h-0.9zM80.9 74.8h0.9v0.9h-0.9zM79.5 67.6h0.9v0.9h-0.9zM79.4 63.5h0.9v0.9h-0.9zM86.8 50.1h0.9v0.9h-0.9zM84.6 54.7h0.9v0.9h-0.9zM90.4 61.4h0.9v0.9h-0.9zM87.3 54.1h0.9v0.9h-0.9zM78.8 67.7h0.9v0.9h-0.9zM87.3 60.1h0.9v0.9h-0.9zM76.8 64.9h0.9v0.9h-0.9zM85.6 64.0h0.9v0.9h-0.9zM79.0 69.5h0.9v0.9h-0.9zM85.4 54.7h0.9v0.9h-0.9zM89.5 56.1h0.9v0.9h-0.9zM93.1 46.0h0.9v0.9h-0.9zM86.7 61.3h0.9v0.9h-0.9zM77.5 72.0h0.9v0.9h-0.9zM82.9 68.7h0.9v0.9h-0.9zM90.9 50.2h0.9v0.9h-0.9zM81.8 60.6h0.9v0.9h-0.9zM81.5 65.4h0.9v0.9h-0.9zM89.2 56.1h0.9v0.9h-0.9zM77.9 71.6h0.9v0.9h-0.9zM80.1 66.0h0.9v0.9h-0.9zM82.7 65.4h0.9v0.9h-0.9zM88.5 38.7h0.9v0.9h-0.9z" fill="#000" fill-opacity="0.4"/>
<path d="M90.3 62.1h0.9v0.9h-0.9zM76.9 75.4h0.9v0.9h-0.9zM89.0 51.5h0.9v0.9h-0.9zM79.5 65.2h0.9v0.9h-0.9zM86.0 54.4h0.9v0.9h-0.9zM81.6 72.6h0.9v0.9h-0.9zM78.3 75.3h0.9v0.9h-0.9zM78.2 66.0h0.9v0.9h-0.9zM86.7 58.1h0.9v0.9h-0.9zM82.4 66.4h0.9v0.9h-0.9zM84.4 61.5h0.9v0.9h-0.9zM79.7 69.8h0.9v0.9h-0.9zM87.7 55.8h0.9v0.9h-0.9zM88.2 61.5h0.9v0.9h-0.9zM82.0 68.0h0.9v0.9h-0.9zM85.5 66.4h0.9v0.9h-0.9zM83.7 67.6h0.9v0.9h-0.9zM83.3 59.7h0.9v0.9h-0.9zM81.0 71.8h0.9v0.9h-0.9zM86.6 59.9h0.9v0.9h-0.9zM77.1 72.2h0.9v0.9h-0.9zM79.3 72.7h0.9v0.9h-0.9zM79.1 66.1h0.9v0.9h-0.9zM72.9 81.4h0.9v0.9h-0.9zM85.6 58.4h0.9v0.9h-0.9zM79.6 70.2h0.9v0.9h-0.9zM74.6 76.8h0.9v0.9h-0.9zM87.8 55.5h0.9v0.9h-0.9zM89.2 60.1h0.9v0.9h-0.9zM92.2 52.8h0.9v0.9h-0.9z" fill="#000" fill-opacity="0.4"/>
<path d="M80.8 73.0h0.9v0.9h-0.9zM78.4 69.8h0.9v0.9h-0.9zM87.2 58.7h0.9v0.9h-0.9zM84.1 59.9h0.9v0.9h-0.9zM84.9 55.7h0.9v0.9h-0.9zM84.9 64.6h0.9v0.9h-0.9zM84.1 59.9h0.9v0.9h-0.9zM92.4 51.0h0.9v0.9h-0.9zM74.2 76.7h0.9v0.9h-0.9zM79.3 57.7h0.9v0.9h-0.9zM84.7 61.1h0.9v0.9h-0.9zM74.8 74.8h0.9v0.9h-0.9zM86.9 56.1h0.9v0.9h-0.9zM77.5 81.0h0.9v0.9h-0.9zM83.3 57.3h0.9v0.9h-0.9zM88.7 50.4h0.9v0.9h-0.9zM81.9 58.8h0.9v0.9h-0.9zM84.9 60.1h0.9v0.9h-0.9zM76.4 69.2h0.9v0.9h-0.9zM79.2 74.0h0.9v0.9h-0.9zM80.1 64.3h0.9v0.9h-0.9zM79.2 66.9h0.9v0.9h-0.9zM73.1 76.6h0.9v0.9h-0.9zM77.7 71.0h0.9v0.9h-0.9zM84.9 66.3h0.9v0.9h-0.9zM85.9 54.0h0.9v0.9h-0.9zM81.8 70.7h0.9v0.9h-0.9zM81.3 65.2h0.9v0.9h-0.9zM86.3 61.3h0.9v0.9h-0.9z" fill="#000" fill-opacity="0.4"/>
<path d="M81.8 60.2h0.9v0.9h-0.9zM85.4 54.4h0.9v0.9h-0.9zM87.3 49.2h0.9v0.9h-0.9zM87.2 54.8h0.9v0.9h-0.9zM87.2 53.7h0.9v0.9h-0.9zM82.1 65.7h0.9v0.9h-0.9zM75.1 72.1h0.9v0.9h-0.9zM83.7 55.9h0.9v0.9h-0.9zM79.2 67.1h0.9v0.9h-0.9zM82.1 61.7h0.9v0.9h-0.9zM75.4 68.1h0.9v0.9h-0.9zM85.3 58.5h0.9v0.9h-0.9zM88.2 52.8h0.9v0.9h-0.9zM85.5 70.7h0.9v0.9h-0.9zM82.0 60.6h0.9v0.9h-0.9zM89.6 49.7h0.9v0.9h-0.9zM84.1 60.2h0.9v0.9h-0.9zM83.9 55.1h0.9v0.9h-0.9zM94.5 41.6h0.9v0.9h-0.9zM91.0 44.3h0.9v0.9h-0.9zM74.3 74.2h0.9v0.9h-0.9zM82.9 58.5h0.9v0.9h-0.9zM84.6 58.5h0.9v0.9h-0.9zM79.3 64.6h0.9v0.9h-0.9zM77.8 68.6h0.9v0.9h-0.9zM81.6 70.7h0.9v0.9h-0.9zM79.6 66.3h0.9v0.9h-0.9zM86.0 59.1h0.9v0.9h-0.9zM82.0 69.3h0.9v0.9h-0.9z" fill="#000" fill-opacity="0.4"/>
<path d="M81.4 65.6h0.9v0.9h-0.9zM78.5 62.7h0.9v0.9h-0.9zM87.1 53.0h0.9v0.9h-0.9zM82.0 66.2h0.9v0.9h-0.9zM78.9 70.0h0.9v0.9h-0.9zM83.2 65.4h0.9v0.9h-0.9zM78.6 64.8h0.9v0.9h-0.9zM83.2 61.8h0.9v0.9h-0.9zM79.6 74.3h0.9v0.9h-0.9zM88.2 51.4h0.9v0.9h-0.9zM76.0 67.2h0.9v0.9h-0.9zM80.7 58.3h0.9v0.9h-0.9zM77.1 82.6h0.9v0.9h-0.9zM84.4 59.6h0.9v0.9h-0.9zM88.4 54.9h0.9v0.9h-0.9zM86.4 61.1h0.9v0.9h-0.9zM80.5 70.9h0.9v0.9h-0.9zM83.2 62.3h0.9v0.9h-0.9zM87.1 58.0h0.9v0.9h-0.9zM84.3 65.5h0.9v0.9h-0.9zM85.0 59.7h0.9v0.9h-0.9zM89.7 46.7h0.9v0.9h-0.9zM77.2 72.6h0.9v0.9h-0.9zM78.2 72.9h0.9v0.9h-0.9zM87.8 57.4h0.9v0.9h-0.9zM87.1 49.0h0.9v0.9h-0.9zM75.0 73.8h0.9v0.9h-0.9zM83.1 72.3h0.9v0.9h-0.9zM82.7 61.7h0.9v0.9h-0.9z" fill="#000" fill-opacity="0.4"/>
<path d="M84.1 71.3h0.9v0.9h-0.9zM82.5 64.9h0.9v0.9h-0.9zM80.0 70.2h0.9v0.9h-0.9zM80.9 64.3h0.9v0.9h-0.9zM80.2 70.2h0.9v0.9h-0.9zM86.9 56.7h0.9v0.9h-0.9zM89.1 57.0h0.9v0.9h-0.9zM82.9 62.6h0.9v0.9h-0.9zM82.8 65.9h0.9v0.9h-0.9zM79.3 69.9h0.9v0.9h-0.9zM83.3 62.9h0.9v0.9h-0.9zM78.6 69.6h0.9v0.9h-0.9zM81.0 61.4h0.9v0.9h-0.9zM88.7 54.6h0.9v0.9h-0.9zM80.3 62.0h0.9v0.9h-0.9zM89.2 63.4h0.9v0.9h-0.9zM78.1 65.4h0.9v0.9h-0.9zM78.8 73.2h0.9v0.9h-0.9zM91.1 48.3h0.9v0.9h-0.9zM88.3 56.0h0.9v0.9h-0.9zM89.4 55.8h0.9v0.9h-0.9zM89.0 45.4h0.9v0.9h-0.9zM88.8 49.8h0.9v0.9h-0.9zM82.1 61.9h0.9v0.9h-0.9zM85.3 53.1h0.9v0.9h-0.9zM69.2 84.2h0.9v0.9h-0.9zM82.3 63.8h0.9v0.9h-0.9zM84.1 61.3h0.9v0.9h-0.9zM82.5 64.3h0.9v0.9h-0.9z" fill="#000" fill-opacity="0.4"/>
<path d="M75.8 80.2h0.9v0.9h-0.9zM78.6 68.8h0.9v0.9h-0.9zM80.1 64.3h0.9v0.9h-0.9zM82.9 67.7h0.9v0.9h-0.9zM83.8 62.0h0.9v0.9h-0.9zM78.6 68.5h0.9v0.9h-0.9zM96.6 40.2h0.9v0.9h-0.9zM84.3 58.7h0.9v0.9h-0.9zM81.8 67.5h0.9v0.9h-0.9zM82.5 61.5h0.9v0.9h-0.9zM77.4 78.5h0.9v0.9h-0.9zM81.9 62.6h0.9v0.9h-0.9zM80.3 64.3h0.9v0.9h-0.9zM82.0 69.3h0.9v0.9h-0.9zM81.9 61.7h0.9v0.9h-0.9zM81.5 60.2h0.9v0.9h-0.9zM82.0 74.8h0.9v0.9h-0.9zM82.3 62.8h0.9v0.9h-0.9zM85.9 52.1h0.9v0.9h-0.9zM77.3 77.8h0.9v0.9h-0.9zM83.0 67.1h0.9v0.9h-0.9zM83.0 57.1h0.9v0.9h-0.9zM83.4 69.9h0.9v0.9h-0.9zM84.6 59.0h0.9v0.9h-0.9zM88.5 54.8h0.9v0.9h-0.9zM78.5 72.0h0.9v0.9h-0.9zM86.4 53.2h0.9v0.9h-0.9zM91.3 51.9h0.9v0.9h-0.9zM84.6 62.3h0.9v0.9h-0.9z" fill="#000" fill-opacity="0.4"/>
<path d="M83.2 60.1h0.9v0.9h-0.9zM88.4 46.2h0.9v0.9h-0.9zM74.4 76.2h0.9v0.9h-0.9zM88.4 59.3h0.9v0.9h-0.9zM73.1 64.6h0.9v0.9h-0.9zM89.3 49.1h0.9v0.9h-0.9zM78.7 67.7h0.9v0.9h-0.9zM87.1 56.4h0.9v0.9h-0.9zM79.8 69.9h0.9v0.9h-0.9zM80.0 62.6h0.9v0.9h-0.9zM86.8 56.2h0.9v0.9h-0.9zM86.8 55.5h0.9v0.9h-0.9zM92.8 46.1h0.9v0.9h-0.9zM77.2 66.1h0.9v0.9h-0.9zM85.7 57.4h0.9v0.9h-0.9zM87.6 51.9h0.9v0.9h-0.9zM77.2 76.7h0.9v0.9h-0.9zM81.7 58.7h0.9v0.9h-0.9zM80.2 76.8h0.9v0.9h-0.9zM76.4 72.8h0.9v0.9h-0.9zM81.7 78.1h0.9v0.9h-0.9zM77.7 75.1h0.9v0.9h-0.9zM85.0 59.6h0.9v0.9h-0.9zM78.8 72.2h0.9v0.9h-0.9zM87.8 47.2h0.9v0.9h-0.9zM85.3 58.1h0.9v0.9h-0.9zM87.9 54.7h0.9v0.9h-0.9zM83.7 64.8h0.9v0.9h-0.9zM79.3 67.1h0.9v0.9h-0.9z" fill="#000" fill-opacity="0.4"/>
<path d="M85.4 63.1h0.9v0.9h-0.9zM77.0 71.7h0.9v0.9h-0.9zM93.1 53.1h0.9v0.9h-0.9zM75.1 77.6h0.9v0.9h-0.9zM79.5 60.8h0.9v0.9h-0.9zM84.8 67.5h0.9v0.9h-0.9zM67.4 92.4h0.9v0.9h-0.9zM81.5 65.9h0.9v0.9h-0.9zM85.5 58.6h0.9v0.9h-0.9zM83.7 66.2h0.9v0.9h-0.9zM93.8 51.1h0.9v0.9h-0.9zM83.1 63.4h0.9v0.9h-0.9zM77.6 77.4h0.9v0.9h-0.9zM90.7 45.8h0.9v0.9h-0.9zM81.5 71.4h0.9v0.9h-0.9zM75.5 63.1h0.9v0.9h-0.9zM86.9 58.9h0.9v0.9h-0.9zM83.7 64.4h0.9v0.9h-0.9zM90.2 51.4h0.9v0.9h-0.9zM84.7 58.5h0.9v0.9h-0.9zM87.5 53.1h0.9v0.9h-0.9zM83.2 56.4h0.9v0.9h-0.9zM77.3 67.1h0.9v0.9h-0.9zM89.4 46.7h0.9v0.9h-0.9zM83.3 61.4h0.9v0.9h-0.9zM80.4 69.6h0.9v0.9h-0.9zM78.8 61.5h0.9v0.9h-0.9zM77.2 72.0h0.9v0.9h-0.9zM82.6 55.4h0.9v0.9h-0.9z" fill="#000" fill-opacity="0.4"/>
<path d="M84.5 62.6h0.9v0.9h-0.9zM92.3 55.4h0.9v0.9h-0.9zM88.2 59.1h0.9v0.9h-0.9zM81.6 67.2h0.9v0.9h-0.9zM86.4 62.6h0.9v0.9h-0.9zM88.6 54.7h0.9v0.9h-0.9zM84.3 66.0h0.9v0.9h-0.9zM82.8 68.1h0.9v0.9h-0.9zM78.8 66.3h0.9v0.9h-0.9zM92.7 47.4h0.9v0.9h-0.9zM80.1 74.8h0.9v0.9h-0.9zM85.0 57.0h0.9v0.9h-0.9zM85.3 68.8h0.9v0.9h-0.9zM81.2 69.0h0.9v0.9h-0.9zM84.8 56.7h0.9v0.9h-0.9zM88.9 55.8h0.9v0.9h-0.9zM77.2 73.6h0.9v0.9h-0.9zM86.4 62.2h0.9v0.9h-0.9zM84.3 61.7h0.9v0.9h-0.9zM92.9 59.8h0.9v0.9h-0.9zM78.9 73.8h0.9v0.9h-0.9zM86.3 52.6h0.9v0.9h-0.9zM77.1 73.0h0.9v0.9h-0.9zM90.7 54.9h0.9v0.9h-0.9zM74.9 76.4h0.9v0.9h-0.9zM78.9 71.7h0.9v0.9h-0.9zM79.2 75.3h0.9v0.9h-0.9zM76.1 84.0h0.9v0.9h-0.9zM83.6 70.3h0.9v0.9h-0.9z" fill="#000" fill-opacity="0.4"/>
<path d="M81.7 55.5h0.9v0.9h-0.9zM82.9 59.9h0.9v0.9h-0.9zM80.7 67.8h0.9v0.9h-0.9zM80.1 66.8h0.9v0.9h-0.9zM83.3 60.8h0.9v0.9h-0.9zM86.2 69.3h0.9v0.9h-0.9zM86.8 58.9h0.9v0.9h-0.9zM82.5 66.1h0.9v0.9h-0.9zM84.4 62.4h0.9v0.9h-0.9zM86.6 62.4h0.9v0.9h-0.9zM85.7 60.2h0.9v0.9h-0.9zM88.6 54.4h0.9v0.9h-0.9zM74.0 70.2h0.9v0.9h-0.9zM73.7 75.5h0.9v0.9h-0.9zM87.2 53.3h0.9v0.9h-0.9zM88.4 57.7h0.9v0.9h-0.9zM85.2 63.1h0.9v0.9h-0.9zM74.9 72.2h0.9v0.9h-0.9zM83.3 70.9h0.9v0.9h-0.9zM87.7 57.6h0.9v0.9h-0.9zM73.6 78.7h0.9v0.9h-0.9zM84.3 62.8h0.9v0.9h-0.9zM82.8 65.7h0.9v0.9h-0.9zM87.5 49.9h0.9v0.9h-0.9zM86.7 53.4h0.9v0.9h-0.9zM85.9 71.7h0.9v0.9h-0.9zM89.2 51.8h0.9v0.9h-0.9zM76.5 80.4h0.9v0.9h-0.9zM70.3 85.9h0.9v0.9h-0.9z" fill="#000" fill-opacity="0.4"/>
<path d="M93.9 53.2h0.9v0.9h-0.9zM83.4 68.2h0.9v0.9h-0.9zM81.9 60.0h0.9v0.9h-0.9zM86.6 57.0h0.9v0.9h-0.9zM82.0 64.9h0.9v0.9h-0.9zM85.8 60.7h0.9v0.9h-0.9zM85.3 62.3h0.9v0.9h-0.9zM78.3 65.4h0.9v0.9h-0.9zM80.3 64.9h0.9v0.9h-0.9zM90.7 56.5h0.9v0.9h-0.9zM85.4 54.8h0.9v0.9h-0.9zM83.7 62.2h0.9v0.9h-0.9zM82.6 62.6h0.9v0.9h-0.9zM79.8 67.2h0.9v0.9h-0.9zM82.0 66.3h0.9v0.9h-0.9zM89.9 49.0h0.9v0.9h-0.9zM77.9 67.8h0.9v0.9h-0.9zM84.9 61.9h0.9v0.9h-0.9zM86.8 58.4h0.9v0.9h-0.9zM77.9 70.5h0.9v0.9h-0.9zM86.3 57.2h0.9v0.9h-0.9zM81.8 56.6h0.9v0.9h-0.9zM85.8 59.0h0.9v0.9h-0.9zM91.6 46.4h0.9v0.9h-0.9zM81.8 70.5h0.9v0.9h-0.9zM84.7 55.7h0.9v0.9h-0.9zM85.3 56.6h0.9v0.9h-0.9zM77.5 69.6h0.9v0.9h-0.9zM82.5 56.0h0.9v0.9h-0.9z" fill="#000" fill-opacity="0.4"/>
<path d="M78.6 66.3h0.9v0.9h-0.9zM76.9 65.2h0.9v0.9h-0.9zM74.7 61.9h0.9v0.9h-0.9zM70.5 64.5h0.9v0.9h-0.9zM72.0 87.4h0.9v0.9h-0.9zM67.3 72.3h0.9v0.9h-0.9zM85.6 62.1h0.9v0.9h-0.9zM83.6 67.7h0.9v0.9h-0.9zM78.4 82.2h0.9v0.9h-0.9zM70.4 73.9h0.9v0.9h-0.9zM72.2 75.0h0.9v0.9h-0.9zM67.9 68.2h0.9v0.9h-0.9zM73.1 73.4h0.9v0.9h-0.9zM77.9 77.7h0.9v0.9h-0.9zM82.7 66.7h0.9v0.9h-0.9zM55.4 73.6h0.9v0.9h-0.9zM51.7 78.6h0.9v0.9h-0.9zM65.3 72.2h0.9v0.9h-0.9zM69.5 69.1h0.9v0.9h-0.9zM59.1 84.6h0.9v0.9h-0.9zM62.1 84.5h0.9v0.9h-0.9zM58.3 69.0h0.9v0.9h-0.9zM56.3 78.9h0.9v0.9h-0.9zM68.6 74.3h0.9v0.9h-0.9zM52.4 88.8h0.9v0.9h-0.9zM70.2 74.3h0.9v0.9h-0.9zM71.1 76.2h0.9v0.9h-0.9zM65.9 73.8h0.9v0.9h-0.9zM68.3 76.1h0.9v0.9h-0.9zM66.3 79.4h0.9v0.9h-0.9zM76.5 64.8h0.9v0.9h-0.9zM67.2 56.2h0.9v0.9h-0.9zM55.6 87.8h0.9v0.9h-0.9zM72.6 79.1h0.9v0.9h-0.9zM73.9 72.8h0.9v0.9h-0.9zM58.4 74.8h0.9v0.9h-0.9zM74.6 62.1h0.9v0.9h-0.9zM58.8 69.6h0.9v0.9h-0.9zM63.0 75.5h0.9v0.9h-0.9zM64.5 65.3h0.9v0.9h-0.9zM84.9 66.4h0.9v0.9h-0.9zM75.1 79.5h0.9v0.9h-0.9zM69.3 78.6h0.9v0.9h-0.9zM55.0 71.4h0.9v0.9h-0.9zM78.4 71.8h0.9v0.9h-0.9zM61.6 72.4h0.9v0.9h-0.9zM66.2 69.1h0.9v0.9h-0.9zM91.6 65.7h0.9v0.9h-0.9zM50.2 90.0h0.9v0.9h-0.9zM65.7 82.1h0.9v0.9h-0.9zM61.2 93.1h0.9v0.9h-0.9zM79.0 64.8h0.9v0.9h-0.9zM61.5 80.0h0.9v0.9h-0.9zM55.4 87.8h0.9v0.9h-0.9zM68.3 78.1h0.9v0.9h-0.9zM49.2 79.7h0.9v0.9h-0.9zM75.7 73.7h0.9v0.9h-0.9zM58.4 82.6h0.9v0.9h-0.9z" fill="#000" fill-opacity="0.32"/>
<path d="M70.6 67.0h0.9v0.9h-0.9zM60.9 72.0h0.9v0.9h-0.9zM61.6 74.4h0.9v0.9h-0.9zM64.3 91.4h0.9v0.9h-0.9zM53.4 73.3h0.9v0.9h-0.9zM70.1 84.1h0.9v0.9h-0.9zM59.6 89.3h0.9v0.9h-0.9zM72.1 73.8h0.9v0.9h-0.9zM62.4 93.3h0.9v0.9h-0.9zM64.1 73.0h0.9v0.9h-0.9zM72.5 79.6h0.9v0.9h-0.9zM78.4 75.6h0.9v0.9h-0.9zM79.9 73.9h0.9v0.9h-0.9zM80.8 69.8h0.9v0.9h-0.9zM55.5 79.3h0.9v0.9h-0.9zM72.5 71.9h0.9v0.9h-0.9zM60.3 73.3h0.9v0.9h-0.9zM67.4 79.7h0.9v0.9h-0.9zM60.0 82.8h0.9v0.9h-0.9zM72.6 75.4h0.9v0.9h-0.9zM64.5 81.7h0.9v0.9h-0.9zM68.8 79.7h0.9v0.9h-0.9zM80.0 78.9h0.9v0.9h-0.9zM64.0 75.9h0.9v0.9h-0.9zM80.7 72.4h0.9v0.9h-0.9zM69.9 80.6h0.9v0.9h-0.9zM60.7 83.0h0.9v0.9h-0.9zM65.4 82.5h0.9v0.9h-0.9zM78.4 71.4h0.9v0.9h-0.9zM76.8 74.9h0.9v0.9h-0.9zM68.5 68.9h0.9v0.9h-0.9zM77.6 66.7h0.9v0.9h-0.9zM86.7 77.7h0.9v0.9h-0.9zM76.4 72.3h0.9v0.9h-0.9zM80.4 66.9h0.9v0.9h-0.9zM67.7 70.6h0.9v0.9h-0.9zM63.9 74.2h0.9v0.9h-0.9zM74.0 66.1h0.9v0.9h-0.9zM90.9 66.1h0.9v0.9h-0.9zM73.8 80.0h0.9v0.9h-0.9zM71.6 76.1h0.9v0.9h-0.9zM63.8 74.7h0.9v0.9h-0.9zM61.3 76.4h0.9v0.9h-0.9zM91.8 59.2h0.9v0.9h-0.9zM74.6 64.1h0.9v0.9h-0.9zM60.1 78.5h0.9v0.9h-0.9zM63.2 68.0h0.9v0.9h-0.9zM58.7 78.5h0.9v0.9h-0.9zM78.5 72.4h0.9v0.9h-0.9zM58.0 72.1h0.9v0.9h-0.9zM72.7 84.8h0.9v0.9h-0.9zM73.0 82.0h0.9v0.9h-0.9zM65.6 66.7h0.9v0.9h-0.9zM83.0 73.7h0.9v0.9h-0.9zM66.8 79.4h0.9v0.9h-0.9zM63.9 62.2h0.9v0.9h-0.9zM51.4 78.9h0.9v0.9h-0.9zM68.4 75.3h0.9v0.9h-0.9zM50.6 83.8h0.9v0.9h-0.9z" fill="#000" fill-opacity="0.32"/>
<path d="M74.4 62.7h0.9v0.9h-0.9zM79.1 74.5h0.9v0.9h-0.9zM77.2 68.5h0.9v0.9h-0.9zM67.7 65.2h0.9v0.9h-0.9zM74.9 75.0h0.9v0.9h-0.9zM64.1 81.9h0.9v0.9h-0.9zM86.7 68.3h0.9v0.9h-0.9zM69.9 79.4h0.9v0.9h-0.9zM92.9 59.6h0.9v0.9h-0.9zM81.3 68.5h0.9v0.9h-0.9zM71.9 87.1h0.9v0.9h-0.9zM64.4 81.5h0.9v0.9h-0.9zM79.4 80.3h0.9v0.9h-0.9zM60.2 79.6h0.9v0.9h-0.9zM67.8 72.5h0.9v0.9h-0.9zM86.9 72.0h0.9v0.9h-0.9zM81.6 52.8h0.9v0.9h-0.9zM69.3 61.6h0.9v0.9h-0.9zM85.1 70.9h0.9v0.9h-0.9zM75.1 78.5h0.9v0.9h-0.9zM71.4 79.9h0.9v0.9h-0.9zM55.1 72.8h0.9v0.9h-0.9zM66.5 78.9h0.9v0.9h-0.9zM60.4 88.3h0.9v0.9h-0.9zM86.3 59.9h0.9v0.9h-0.9zM86.4 70.3h0.9v0.9h-0.9zM69.9 75.0h0.9v0.9h-0.9zM75.6 71.2h0.9v0.9h-0.9zM66.5 66.0h0.9v0.9h-0.9zM93.0 64.6h0.9v0.9h-0.9zM70.0 71.9h0.9v0.9h-0.9zM90.0 65.1h0.9v0.9h-0.9zM59.0 77.0h0.9v0.9h-0.9zM65.8 69.3h0.9v0.9h-0.9zM88.1 49.9h0.9v0.9h-0.9zM61.9 71.4h0.9v0.9h-0.9zM74.9 73.3h0.9v0.9h-0.9zM60.1 67.3h0.9v0.9h-0.9zM95.6 64.8h0.9v0.9h-0.9zM52.7 80.4h0.9v0.9h-0.9zM62.4 78.2h0.9v0.9h-0.9zM79.8 60.0h0.9v0.9h-0.9zM70.2 68.9h0.9v0.9h-0.9zM45.6 82.7h0.9v0.9h-0.9zM89.8 51.3h0.9v0.9h-0.9zM71.0 75.4h0.9v0.9h-0.9zM73.5 73.2h0.9v0.9h-0.9zM74.4 77.9h0.9v0.9h-0.9zM62.9 77.4h0.9v0.9h-0.9zM88.2 66.9h0.9v0.9h-0.9zM76.7 74.2h0.9v0.9h-0.9zM76.1 76.0h0.9v0.9h-0.9zM63.4 84.2h0.9v0.9h-0.9zM57.8 79.9h0.9v0.9h-0.9zM70.7 83.4h0.9v0.9h-0.9zM74.4 61.1h0.9v0.9h-0.9zM85.8 69.2h0.9v0.9h-0.9zM66.3 80.5h0.9v0.9h-0.9z" fill="#000" fill-opacity="0.32"/>
<path d="M70.6 80.9h0.9v0.9h-0.9zM96.1 65.1h0.9v0.9h-0.9zM64.4 65.6h0.9v0.9h-0.9zM72.3 69.7h0.9v0.9h-0.9zM70.9 65.2h0.9v0.9h-0.9zM93.6 57.7h0.9v0.9h-0.9zM70.7 75.4h0.9v0.9h-0.9zM57.6 78.1h0.9v0.9h-0.9zM59.3 71.9h0.9v0.9h-0.9zM69.4 72.6h0.9v0.9h-0.9zM66.3 75.1h0.9v0.9h-0.9zM96.5 54.8h0.9v0.9h-0.9zM74.9 69.9h0.9v0.9h-0.9zM52.2 87.3h0.9v0.9h-0.9zM83.3 61.6h0.9v0.9h-0.9zM69.2 67.0h0.9v0.9h-0.9zM70.0 74.3h0.9v0.9h-0.9zM87.4 62.0h0.9v0.9h-0.9zM75.2 72.6h0.9v0.9h-0.9zM73.3 79.2h0.9v0.9h-0.9zM66.3 76.6h0.9v0.9h-0.9zM85.2 74.5h0.9v0.9h-0.9zM60.7 78.4h0.9v0.9h-0.9zM65.9 79.7h0.9v0.9h-0.9zM58.7 65.5h0.9v0.9h-0.9zM50.4 80.6h0.9v0.9h-0.9zM57.9 77.9h0.9v0.9h-0.9zM61.2 78.2h0.9v0.9h-0.9zM74.4 68.7h0.9v0.9h-0.9zM77.0 59.4h0.9v0.9h-0.9zM53.9 81.3h0.9v0.9h-0.9zM65.8 73.1h0.9v0.9h-0.9zM74.1 77.8h0.9v0.9h-0.9zM76.5 61.6h0.9v0.9h-0.9zM81.0 73.6h0.9v0.9h-0.9zM75.2 72.0h0.9v0.9h-0.9zM85.9 70.5h0.9v0.9h-0.9zM73.5 75.5h0.9v0.9h-0.9zM77.2 69.3h0.9v0.9h-0.9zM71.0 77.8h0.9v0.9h-0.9zM84.8 55.2h0.9v0.9h-0.9zM53.0 88.9h0.9v0.9h-0.9zM73.7 56.0h0.9v0.9h-0.9zM75.8 62.1h0.9v0.9h-0.9zM68.8 82.6h0.9v0.9h-0.9zM69.8 78.1h0.9v0.9h-0.9zM69.5 73.2h0.9v0.9h-0.9zM66.9 73.0h0.9v0.9h-0.9zM75.3 59.1h0.9v0.9h-0.9zM68.2 79.8h0.9v0.9h-0.9zM89.9 62.6h0.9v0.9h-0.9zM68.2 83.5h0.9v0.9h-0.9zM76.4 77.6h0.9v0.9h-0.9zM80.0 65.7h0.9v0.9h-0.9zM65.5 76.1h0.9v0.9h-0.9zM54.9 77.6h0.9v0.9h-0.9zM55.4 84.0h0.9v0.9h-0.9zM70.7 71.9h0.9v0.9h-0.9z" fill="#000" fill-opacity="0.32"/>
<path d="M57.3 80.2h0.9v0.9h-0.9zM71.8 71.2h0.9v0.9h-0.9zM64.0 67.4h0.9v0.9h-0.9zM77.5 63.0h0.9v0.9h-0.9zM72.3 77.7h0.9v0.9h-0.9zM69.8 69.9h0.9v0.9h-0.9zM71.2 68.6h0.9v0.9h-0.9zM68.8 79.8h0.9v0.9h-0.9zM65.0 82.7h0.9v0.9h-0.9zM78.8 74.6h0.9v0.9h-0.9zM65.1 72.2h0.9v0.9h-0.9zM65.0 72.4h0.9v0.9h-0.9zM60.1 78.4h0.9v0.9h-0.9zM76.1 68.6h0.9v0.9h-0.9zM66.9 85.3h0.9v0.9h-0.9zM66.4 71.5h0.9v0.9h-0.9zM68.5 73.7h0.9v0.9h-0.9zM72.6 80.0h0.9v0.9h-0.9zM58.3 81.2h0.9v0.9h-0.9zM62.7 83.6h0.9v0.9h-0.9zM67.2 78.4h0.9v0.9h-0.9zM59.0 65.5h0.9v0.9h-0.9zM73.0 81.5h0.9v0.9h-0.9zM71.5 67.1h0.9v0.9h-0.9zM67.2 72.8h0.9v0.9h-0.9zM57.2 90.8h0.9v0.9h-0.9zM68.2 67.9h0.9v0.9h-0.9zM63.8 85.7h0.9v0.9h-0.9zM62.0 68.8h0.9v0.9h-0.9zM62.4 87.2h0.9v0.9h-0.9zM81.6 76.2h0.9v0.9h-0.9zM64.1 72.0h0.9v0.9h-0.9zM57.7 74.4h0.9v0.9h-0.9zM70.4 63.4h0.9v0.9h-0.9zM72.0 68.9h0.9v0.9h-0.9zM63.5 77.3h0.9v0.9h-0.9zM64.9 68.5h0.9v0.9h-0.9zM63.3 77.5h0.9v0.9h-0.9zM65.8 76.0h0.9v0.9h-0.9zM83.3 57.3h0.9v0.9h-0.9zM56.8 80.0h0.9v0.9h-0.9zM77.9 84.7h0.9v0.9h-0.9zM66.1 78.4h0.9v0.9h-0.9zM65.6 71.2h0.9v0.9h-0.9zM66.8 76.3h0.9v0.9h-0.9zM77.2 70.5h0.9v0.9h-0.9zM74.2 77.7h0.9v0.9h-0.9zM87.7 76.4h0.9v0.9h-0.9zM74.6 62.9h0.9v0.9h-0.9zM79.2 56.7h0.9v0.9h-0.9zM83.1 62.3h0.9v0.9h-0.9zM78.2 72.1h0.9v0.9h-0.9zM62.1 76.0h0.9v0.9h-0.9zM70.8 70.9h0.9v0.9h-0.9zM73.3 76.8h0.9v0.9h-0.9z" fill="#000" fill-opacity="0.32"/>
<path d="M67.1 66.2h0.9v0.9h-0.9zM73.9 71.1h0.9v0.9h-0.9zM74.4 73.6h0.9v0.9h-0.9zM54.5 86.8h0.9v0.9h-0.9zM56.3 79.1h0.9v0.9h-0.9zM84.6 55.0h0.9v0.9h-0.9zM77.4 83.7h0.9v0.9h-0.9zM62.9 72.0h0.9v0.9h-0.9zM67.0 67.7h0.9v0.9h-0.9zM77.0 67.5h0.9v0.9h-0.9zM72.2 75.8h0.9v0.9h-0.9zM74.3 71.1h0.9v0.9h-0.9zM59.3 90.2h0.9v0.9h-0.9zM59.7 82.0h0.9v0.9h-0.9zM71.5 66.1h0.9v0.9h-0.9zM85.7 65.5h0.9v0.9h-0.9zM86.0 65.1h0.9v0.9h-0.9zM70.0 81.4h0.9v0.9h-0.9zM68.6 70.5h0.9v0.9h-0.9zM70.9 70.4h0.9v0.9h-0.9zM68.4 76.6h0.9v0.9h-0.9zM90.7 62.2h0.9v0.9h-0.9zM84.2 62.6h0.9v0.9h-0.9zM73.4 70.8h0.9v0.9h-0.9zM56.8 68.1h0.9v0.9h-0.9zM48.9 90.9h0.9v0.9h-0.9zM78.7 73.1h0.9v0.9h-0.9zM56.0 81.4h0.9v0.9h-0.9zM47.7 88.0h0.9v0.9h-0.9zM61.6 74.5h0.9v0.9h-0.9zM67.1 74.1h0.9v0.9h-0.9zM60.5 74.0h0.9v0.9h-0.9zM58.4 63.5h0.9v0.9h-0.9zM78.5 61.2h0.9v0.9h-0.9zM77.7 61.1h0.9v0.9h-0.9zM74.1 67.6h0.9v0.9h-0.9zM83.9 65.7h0.9v0.9h-0.9zM62.6 91.5h0.9v0.9h-0.9zM57.6 73.5h0.9v0.9h-0.9zM73.6 65.7h0.9v0.9h-0.9zM84.8 74.0h0.9v0.9h-0.9zM70.5 79.8h0.9v0.9h-0.9zM76.5 63.4h0.9v0.9h-0.9zM66.1 76.8h0.9v0.9h-0.9zM82.5 65.1h0.9v0.9h-0.9zM58.3 86.1h0.9v0.9h-0.9zM55.4 84.5h0.9v0.9h-0.9zM74.1 73.4h0.9v0.9h-0.9zM75.7 74.9h0.9v0.9h-0.9zM78.0 72.4h0.9v0.9h-0.9zM76.0 75.0h0.9v0.9h-0.9zM78.1 66.6h0.9v0.9h-0.9zM54.1 81.6h0.9v0.9h-0.9zM56.5 86.3h0.9v0.9h-0.9zM61.0 68.9h0.9v0.9h-0.9zM80.6 64.6h0.9v0.9h-0.9zM76.4 64.3h0.9v0.9h-0.9zM65.2 72.5h0.9v0.9h-0.9z" fill="#000" fill-opacity="0.32"/>
<path d="M83.1 67.3h0.9v0.9h-0.9zM88.2 68.1h0.9v0.9h-0.9zM76.9 84.2h0.9v0.9h-0.9zM68.7 73.1h0.9v0.9h-0.9zM71.3 78.3h0.9v0.9h-0.9zM70.3 72.5h0.9v0.9h-0.9zM47.3 90.4h0.9v0.9h-0.9zM68.8 78.0h0.9v0.9h-0.9zM82.1 70.6h0.9v0.9h-0.9zM69.5 72.1h0.9v0.9h-0.9zM61.8 69.4h0.9v0.9h-0.9zM89.1 65.1h0.9v0.9h-0.9zM71.7 75.0h0.9v0.9h-0.9zM65.6 62.1h0.9v0.9h-0.9zM52.9 81.3h0.9v0.9h-0.9zM50.1 83.5h0.9v0.9h-0.9zM73.6 68.5h0.9v0.9h-0.9zM64.8 76.7h0.9v0.9h-0.9zM88.8 53.0h0.9v0.9h-0.9zM68.2 69.2h0.9v0.9h-0.9zM74.0 78.1h0.9v0.9h-0.9zM69.9 69.6h0.9v0.9h-0.9zM81.4 65.7h0.9v0.9h-0.9zM76.9 72.2h0.9v0.9h-0.9zM54.4 71.7h0.9v0.9h-0.9zM73.5 66.2h0.9v0.9h-0.9zM57.0 74.6h0.9v0.9h-0.9zM83.0 66.3h0.9v0.9h-0.9zM93.3 55.2h0.9v0.9h-0.9zM64.6 67.1h0.9v0.9h-0.9zM69.1 65.4h0.9v0.9h-0.9zM81.8 59.3h0.9v0.9h-0.9zM71.7 72.6h0.9v0.9h-0.9zM81.9 67.5h0.9v0.9h-0.9zM73.2 60.1h0.9v0.9h-0.9zM77.8 76.9h0.9v0.9h-0.9zM79.3 77.7h0.9v0.9h-0.9zM75.0 76.5h0.9v0.9h-0.9zM76.2 62.5h0.9v0.9h-0.9zM82.2 74.7h0.9v0.9h-0.9zM77.4 70.9h0.9v0.9h-0.9zM76.7 64.4h0.9v0.9h-0.9zM74.1 65.2h0.9v0.9h-0.9zM67.1 72.0h0.9v0.9h-0.9zM85.3 73.6h0.9v0.9h-0.9zM59.7 77.9h0.9v0.9h-0.9zM60.9 72.9h0.9v0.9h-0.9zM53.4 94.4h0.9v0.9h-0.9zM65.8 68.3h0.9v0.9h-0.9zM77.6 80.2h0.9v0.9h-0.9zM68.7 75.0h0.9v0.9h-0.9zM69.9 73.5h0.9v0.9h-0.9zM90.6 64.6h0.9v0.9h-0.9zM80.7 67.8h0.9v0.9h-0.9zM48.8 66.0h0.9v0.9h-0.9zM55.1 80.8h0.9v0.9h-0.9zM58.8 68.6h0.9v0.9h-0.9z" fill="#000" fill-opacity="0.32"/>
<path d="M54.3 84.6h0.9v0.9h-0.9zM59.1 76.6h0.9v0.9h-0.9zM77.5 73.1h0.9v0.9h-0.9zM75.0 74.9h0.9v0.9h-0.9zM76.3 69.4h0.9v0.9h-0.9zM76.3 70.8h0.9v0.9h-0.9zM70.8 65.7h0.9v0.9h-0.9zM80.2 66.9h0.9v0.9h-0.9zM79.6 74.7h0.9v0.9h-0.9zM63.1 88.3h0.9v0.9h-0.9zM62.4 84.9h0.9v0.9h-0.9zM74.7 69.1h0.9v0.9h-0.9zM97.5 73.1h0.9v0.9h-0.9zM72.5 77.1h0.9v0.9h-0.9zM85.4 70.8h0.9v0.9h-0.9zM76.3 69.7h0.9v0.9h-0.9zM46.8 84.6h0.9v0.9h-0.9zM70.4 74.5h0.9v0.9h-0.9zM71.9 78.9h0.9v0.9h-0.9zM93.1 73.6h0.9v0.9h-0.9zM50.4 90.1h0.9v0.9h-0.9zM67.3 86.6h0.9v0.9h-0.9zM64.6 74.5h0.9v0.9h-0.9zM82.9 68.7h0.9v0.9h-0.9zM74.7 71.2h0.9v0.9h-0.9zM62.9 71.9h0.9v0.9h-0.9zM71.1 73.9h0.9v0.9h-0.9zM84.5 62.9h0.9v0.9h-0.9zM58.3 82.0h0.9v0.9h-0.9zM70.9 74.2h0.9v0.9h-0.9zM78.0 68.5h0.9v0.9h-0.9zM91.4 59.4h0.9v0.9h-0.9zM98.9 59.3h0.9v0.9h-0.9zM85.0 76.3h0.9v0.9h-0.9zM69.6 82.9h0.9v0.9h-0.9zM62.5 71.4h0.9v0.9h-0.9zM72.7 79.2h0.9v0.9h-0.9zM59.7 66.2h0.9v0.9h-0.9zM78.0 63.0h0.9v0.9h-0.9zM48.3 81.8h0.9v0.9h-0.9zM64.8 75.4h0.9v0.9h-0.9zM54.4 87.6h0.9v0.9h-0.9zM89.8 69.8h0.9v0.9h-0.9zM73.5 78.6h0.9v0.9h-0.9zM90.4 67.5h0.9v0.9h-0.9zM74.1 78.8h0.9v0.9h-0.9zM69.7 75.6h0.9v0.9h-0.9zM76.5 72.5h0.9v0.9h-0.9zM98.6 63.8h0.9v0.9h-0.9zM76.8 72.1h0.9v0.9h-0.9zM79.6 61.2h0.9v0.9h-0.9zM79.3 79.7h0.9v0.9h-0.9zM71.8 78.0h0.9v0.9h-0.9zM80.6 84.2h0.9v0.9h-0.9zM73.1 57.1h0.9v0.9h-0.9zM57.4 68.4h0.9v0.9h-0.9zM67.1 69.2h0.9v0.9h-0.9zM67.3 71.3h0.9v0.9h-0.9z" fill="#000" fill-opacity="0.32"/>
<path d="M59.8 76.3h0.9v0.9h-0.9zM85.1 65.7h0.9v0.9h-0.9zM70.8 72.0h0.9v0.9h-0.9zM47.4 87.6h0.9v0.9h-0.9zM79.8 67.7h0.9v0.9h-0.9zM75.3 67.2h0.9v0.9h-0.9zM63.4 94.4h0.9v0.9h-0.9zM91.0 58.7h0.9v0.9h-0.9zM81.2 66.0h0.9v0.9h-0.9zM82.3 83.5h0.9v0.9h-0.9zM80.0 78.6h0.9v0.9h-0.9zM55.2 83.7h0.9v0.9h-0.9zM64.5 85.6h0.9v0.9h-0.9zM68.5 68.1h0.9v0.9h-0.9zM69.5 83.2h0.9v0.9h-0.9zM81.2 56.1h0.9v0.9h-0.9zM59.8 83.8h0.9v0.9h-0.9zM71.7 80.1h0.9v0.9h-0.9zM58.7 81.2h0.9v0.9h-0.9zM67.4 78.8h0.9v0.9h-0.9zM58.9 90.6h0.9v0.9h-0.9zM55.5 77.5h0.9v0.9h-0.9zM90.0 70.5h0.9v0.9h-0.9zM93.0 67.7h0.9v0.9h-0.9zM80.6 69.2h0.9v0.9h-0.9zM72.6 61.1h0.9v0.9h-0.9zM61.7 80.8h0.9v0.9h-0.9zM62.0 69.4h0.9v0.9h-0.9zM82.7 64.0h0.9v0.9h-0.9zM56.4 79.0h0.9v0.9h-0.9zM72.6 67.3h0.9v0.9h-0.9zM64.3 85.2h0.9v0.9h-0.9zM67.0 80.2h0.9v0.9h-0.9zM79.7 72.9h0.9v0.9h-0.9zM62.0 80.1h0.9v0.9h-0.9zM66.1 74.9h0.9v0.9h-0.9zM86.0 63.5h0.9v0.9h-0.9zM74.3 75.0h0.9v0.9h-0.9zM48.2 79.2h0.9v0.9h-0.9zM72.2 70.2h0.9v0.9h-0.9zM68.4 94.0h0.9v0.9h-0.9zM64.4 76.3h0.9v0.9h-0.9zM73.3 74.4h0.9v0.9h-0.9zM64.2 67.8h0.9v0.9h-0.9zM60.0 82.2h0.9v0.9h-0.9zM47.8 78.1h0.9v0.9h-0.9zM66.3 73.5h0.9v0.9h-0.9zM63.8 72.1h0.9v0.9h-0.9zM86.3 81.4h0.9v0.9h-0.9zM68.4 69.0h0.9v0.9h-0.9zM51.2 87.5h0.9v0.9h-0.9zM60.8 71.2h0.9v0.9h-0.9zM62.5 85.9h0.9v0.9h-0.9zM45.7 75.3h0.9v0.9h-0.9zM54.1 91.0h0.9v0.9h-0.9zM79.0 80.9h0.9v0.9h-0.9zM70.9 65.7h0.9v0.9h-0.9z" fill="#000" fill-opacity="0.32"/>
<path d="M68.3 70.0h0.9v0.9h-0.9zM71.7 81.5h0.9v0.9h-0.9zM83.7 72.5h0.9v0.9h-0.9zM57.3 73.9h0.9v0.9h-0.9zM74.3 60.7h0.9v0.9h-0.9zM68.2 70.4h0.9v0.9h-0.9zM73.4 86.9h0.9v0.9h-0.9zM106.1 56.0h0.9v0.9h-0.9zM51.3 76.9h0.9v0.9h-0.9zM61.8 78.7h0.9v0.9h-0.9zM73.6 77.8h0.9v0.9h-0.9zM64.6 84.8h0.9v0.9h-0.9zM77.8 71.5h0.9v0.9h-0.9zM80.6 61.5h0.9v0.9h-0.9zM71.9 83.8h0.9v0.9h-0.9zM74.8 66.1h0.9v0.9h-0.9zM68.2 69.4h0.9v0.9h-0.9zM70.5 74.9h0.9v0.9h-0.9zM82.2 83.0h0.9v0.9h-0.9zM71.9 81.9h0.9v0.9h-0.9zM46.3 83.2h0.9v0.9h-0.9zM67.5 72.6h0.9v0.9h-0.9zM68.2 72.3h0.9v0.9h-0.9zM64.7 80.3h0.9v0.9h-0.9zM73.5 85.8h0.9v0.9h-0.9zM77.4 70.5h0.9v0.9h-0.9zM69.0 85.2h0.9v0.9h-0.9zM76.6 70.1h0.9v0.9h-0.9zM64.3 84.6h0.9v0.9h-0.9zM72.8 66.9h0.9v0.9h-0.9zM82.4 54.8h0.9v0.9h-0.9zM55.4 79.8h0.9v0.9h-0.9zM58.2 77.2h0.9v0.9h-0.9zM57.2 66.1h0.9v0.9h-0.9zM61.6 82.2h0.9v0.9h-0.9zM65.5 82.0h0.9v0.9h-0.9zM71.6 73.3h0.9v0.9h-0.9zM64.3 76.9h0.9v0.9h-0.9zM80.9 64.9h0.9v0.9h-0.9zM70.5 85.8h0.9v0.9h-0.9zM68.5 76.5h0.9v0.9h-0.9zM62.2 80.9h0.9v0.9h-0.9zM67.5 78.1h0.9v0.9h-0.9zM63.9 82.5h0.9v0.9h-0.9zM63.7 79.7h0.9v0.9h-0.9zM68.5 78.5h0.9v0.9h-0.9zM90.7 53.9h0.9v0.9h-0.9zM69.4 67.2h0.9v0.9h-0.9zM78.9 70.9h0.9v0.9h-0.9zM73.0 65.6h0.9v0.9h-0.9zM66.7 84.9h0.9v0.9h-0.9zM64.5 93.3h0.9v0.9h-0.9zM64.3 78.3h0.9v0.9h-0.9zM64.6 85.4h0.9v0.9h-0.9zM70.7 59.5h0.9v0.9h-0.9zM64.1 78.4h0.9v0.9h-0.9zM61.8 72.4h0.9v0.9h-0.9z" fill="#000" fill-opacity="0.32"/>
<path d="M77.5 63.6h0.9v0.9h-0.9zM65.1 75.4h0.9v0.9h-0.9zM60.3 88.5h0.9v0.9h-0.9zM64.0 77.3h0.9v0.9h-0.9zM56.6 89.1h0.9v0.9h-0.9zM62.7 78.1h0.9v0.9h-0.9zM75.7 70.5h0.9v0.9h-0.9zM73.4 68.0h0.9v0.9h-0.9zM86.3 67.8h0.9v0.9h-0.9zM78.2 66.5h0.9v0.9h-0.9zM87.0 69.4h0.9v0.9h-0.9zM75.4 82.4h0.9v0.9h-0.9zM74.8 70.5h0.9v0.9h-0.9zM53.7 77.5h0.9v0.9h-0.9zM73.4 68.3h0.9v0.9h-0.9zM83.3 64.1h0.9v0.9h-0.9zM71.4 84.5h0.9v0.9h-0.9zM66.0 69.4h0.9v0.9h-0.9zM60.7 80.2h0.9v0.9h-0.9zM74.7 71.3h0.9v0.9h-0.9zM58.5 94.1h0.9v0.9h-0.9zM81.9 48.3h0.9v0.9h-0.9zM86.9 59.5h0.9v0.9h-0.9zM80.8 70.2h0.9v0.9h-0.9zM68.1 79.8h0.9v0.9h-0.9zM72.1 75.9h0.9v0.9h-0.9zM52.1 71.1h0.9v0.9h-0.9zM75.9 75.3h0.9v0.9h-0.9zM77.0 92.2h0.9v0.9h-0.9zM83.7 72.7h0.9v0.9h-0.9zM85.0 61.4h0.9v0.9h-0.9zM55.8 94.4h0.9v0.9h-0.9zM81.9 76.9h0.9v0.9h-0.9zM74.6 73.9h0.9v0.9h-0.9zM67.6 65.5h0.9v0.9h-0.9zM63.3 74.2h0.9v0.9h-0.9zM78.4 72.0h0.9v0.9h-0.9zM92.5 59.8h0.9v0.9h-0.9zM76.2 78.1h0.9v0.9h-0.9zM64.6 70.7h0.9v0.9h-0.9zM56.6 79.9h0.9v0.9h-0.9zM76.8 58.7h0.9v0.9h-0.9zM75.6 80.8h0.9v0.9h-0.9zM65.7 83.6h0.9v0.9h-0.9zM81.4 73.9h0.9v0.9h-0.9zM76.8 75.8h0.9v0.9h-0.9zM68.7 76.9h0.9v0.9h-0.9zM75.6 66.2h0.9v0.9h-0.9zM81.4 56.2h0.9v0.9h-0.9zM80.8 69.3h0.9v0.9h-0.9zM67.2 79.3h0.9v0.9h-0.9zM76.1 80.8h0.9v0.9h-0.9zM75.7 69.8h0.9v0.9h-0.9zM80.3 70.2h0.9v0.9h-0.9zM81.5 61.1h0.9v0.9h-0.9zM61.1 85.1h0.9v0.9h-0.9z" fill="#000" fill-opacity="0.32"/>
<path d="M79.9 66.7h0.9v0.9h-0.9zM58.5 67.7h0.9v0.9h-0.9zM78.6 75.0h0.9v0.9h-0.9zM62.3 68.8h0.9v0.9h-0.9zM54.7 82.5h0.9v0.9h-0.9zM64.5 69.3h0.9v0.9h-0.9zM77.1 73.7h0.9v0.9h-0.9zM69.5 71.1h0.9v0.9h-0.9zM52.5 79.3h0.9v0.9h-0.9zM63.1 77.5h0.9v0.9h-0.9zM80.4 72.8h0.9v0.9h-0.9zM88.4 65.6h0.9v0.9h-0.9zM73.3 78.9h0.9v0.9h-0.9zM75.5 64.5h0.9v0.9h-0.9zM78.3 63.4h0.9v0.9h-0.9zM57.0 76.4h0.9v0.9h-0.9zM57.9 74.8h0.9v0.9h-0.9zM77.0 69.7h0.9v0.9h-0.9zM68.1 76.2h0.9v0.9h-0.9zM57.2 83.8h0.9v0.9h-0.9zM76.2 74.9h0.9v0.9h-0.9zM56.1 83.8h0.9v0.9h-0.9zM63.9 67.4h0.9v0.9h-0.9zM69.8 66.9h0.9v0.9h-0.9zM64.5 69.3h0.9v0.9h-0.9zM67.9 76.7h0.9v0.9h-0.9zM77.2 68.9h0.9v0.9h-0.9zM68.9 70.8h0.9v0.9h-0.9zM51.5 83.8h0.9v0.9h-0.9zM81.1 70.0h0.9v0.9h-0.9zM83.9 61.5h0.9v0.9h-0.9zM72.0 64.0h0.9v0.9h-0.9zM92.2 75.4h0.9v0.9h-0.9zM60.6 84.8h0.9v0.9h-0.9zM91.4 67.0h0.9v0.9h-0.9zM64.3 82.1h0.9v0.9h-0.9zM57.5 90.7h0.9v0.9h-0.9zM77.5 65.5h0.9v0.9h-0.9zM81.2 62.5h0.9v0.9h-0.9zM81.3 79.5h0.9v0.9h-0.9zM60.2 88.1h0.9v0.9h-0.9zM74.8 60.9h0.9v0.9h-0.9zM76.6 67.6h0.9v0.9h-0.9zM74.7 72.8h0.9v0.9h-0.9zM64.2 87.3h0.9v0.9h-0.9zM85.0 67.1h0.9v0.9h-0.9zM58.6 82.9h0.9v0.9h-0.9zM84.5 73.8h0.9v0.9h-0.9zM57.0 80.3h0.9v0.9h-0.9zM79.4 66.3h0.9v0.9h-0.9zM68.2 80.1h0.9v0.9h-0.9zM86.6 65.9h0.9v0.9h-0.9zM58.6 78.1h0.9v0.9h-0.9zM74.0 76.8h0.9v0.9h-0.9zM64.5 83.2h0.9v0.9h-0.9zM57.4 74.7h0.9v0.9h-0.9zM66.3 79.6h0.9v0.9h-0.9z" fill="#000" fill-opacity="0.32"/>
<path d="M96.5 45.4h0.9v0.9h-0.9zM78.5 41.8h0.9v0.9h-0.9zM87.3 66.4h0.9v0.9h-0.9zM95.6 32.4h0.9v0.9h-0.9zM58.4 73.6h0.9v0.9h-0.9zM68.3 38.4h0.9v0.9h-0.9zM76.0 64.6h0.9v0.9h-0.9zM70.1 53.4h0.9v0.9h-0.9zM71.5 73.8h0.9v0.9h-0.9zM54.5 56.9h0.9v0.9h-0.9zM49.8 91.5h0.9v0.9h-0.9zM51.8 64.4h0.9v0.9h-0.9zM57.7 62.5h0.9v0.9h-0.9zM118.2 55.1h0.9v0.9h-0.9zM64.5 70.5h0.9v0.9h-0.9zM79.3 28.5h0.9v0.9h-0.9zM93.2 52.9h0.9v0.9h-0.9zM97.9 54.9h0.9v0.9h-0.9zM102.1 25.6h0.9v0.9h-0.9zM59.9 47.5h0.9v0.9h-0.9zM73.6 48.2h0.9v0.9h-0.9zM72.4 37.7h0.9v0.9h-0.9zM72.2 67.1h0.9v0.9h-0.9zM86.4 60.3h0.9v0.9h-0.9zM86.0 43.6h0.9v0.9h-0.9zM73.6 57.6h0.9v0.9h-0.9zM63.3 43.6h0.9v0.9h-0.9zM55.8 47.2h0.9v0.9h-0.9zM64.3 87.6h0.9v0.9h-0.9zM49.9 41.3h0.9v0.9h-0.9zM106.2 43.0h0.9v0.9h-0.9zM75.1 53.4h0.9v0.9h-0.9zM67.2 41.6h0.9v0.9h-0.9zM64.7 71.5h0.9v0.9h-0.9zM102.6 34.6h0.9v0.9h-0.9zM79.9 48.0h0.9v0.9h-0.9zM98.6 65.0h0.9v0.9h-0.9zM81.3 53.8h0.9v0.9h-0.9zM102.1 46.9h0.9v0.9h-0.9zM63.2 44.6h0.9v0.9h-0.9zM71.3 63.0h0.9v0.9h-0.9zM106.0 61.0h0.9v0.9h-0.9zM73.4 54.1h0.9v0.9h-0.9zM62.3 68.7h0.9v0.9h-0.9zM55.7 37.4h0.9v0.9h-0.9zM108.7 50.4h0.9v0.9h-0.9zM65.3 61.3h0.9v0.9h-0.9zM76.7 63.0h0.9v0.9h-0.9zM83.1 73.6h0.9v0.9h-0.9zM110.6 70.5h0.9v0.9h-0.9zM78.7 66.4h0.9v0.9h-0.9zM70.6 67.7h0.9v0.9h-0.9zM68.1 51.5h0.9v0.9h-0.9zM83.6 61.4h0.9v0.9h-0.9zM52.4 56.5h0.9v0.9h-0.9zM85.8 28.8h0.9v0.9h-0.9zM91.8 51.4h0.9v0.9h-0.9zM79.1 53.0h0.9v0.9h-0.9zM59.8 58.6h0.9v0.9h-0.9zM92.4 46.3h0.9v0.9h-0.9zM78.9 59.0h0.9v0.9h-0.9zM82.0 53.7h0.9v0.9h-0.9zM108.7 32.7h0.9v0.9h-0.9zM85.6 42.8h0.9v0.9h-0.9zM67.3 39.0h0.9v0.9h-0.9zM66.0 28.4h0.9v0.9h-0.9zM72.8 47.4h0.9v0.9h-0.9zM50.5 79.3h0.9v0.9h-0.9zM69.6 48.3h0.9v0.9h-0.9zM97.8 61.4h0.9v0.9h-0.9zM70.8 44.4h0.9v0.9h-0.9zM51.3 29.9h0.9v0.9h-0.9zM108.0 31.5h0.9v0.9h-0.9zM80.0 80.0h0.9v0.9h-0.9zM62.9 39.2h0.9v0.9h-0.9zM72.2 77.1h0.9v0.9h-0.9zM101.8 44.1h0.9v0.9h-0.9zM57.3 36.1h0.9v0.9h-0.9zM67.0 66.9h0.9v0.9h-0.9zM78.4 71.2h0.9v0.9h-0.9zM80.6 63.1h0.9v0.9h-0.9zM75.6 72.1h0.9v0.9h-0.9zM59.1 67.3h0.9v0.9h-0.9zM90.6 56.2h0.9v0.9h-0.9zM66.8 32.6h0.9v0.9h-0.9zM78.4 28.4h0.9v0.9h-0.9zM68.8 37.7h0.9v0.9h-0.9zM84.7 38.9h0.9v0.9h-0.9zM104.1 63.5h0.9v0.9h-0.9zM55.4 50.3h0.9v0.9h-0.9zM56.6 63.7h0.9v0.9h-0.9zM91.4 73.2h0.9v0.9h-0.9zM101.3 38.5h0.9v0.9h-0.9zM91.8 53.4h0.9v0.9h-0.9zM77.6 62.2h0.9v0.9h-0.9zM102.6 27.6h0.9v0.9h-0.9zM63.1 48.5h0.9v0.9h-0.9zM108.8 45.0h0.9v0.9h-0.9zM77.9 52.6h0.9v0.9h-0.9zM70.3 59.0h0.9v0.9h-0.9zM61.7 48.6h0.9v0.9h-0.9zM72.1 37.2h0.9v0.9h-0.9zM88.4 52.7h0.9v0.9h-0.9zM86.8 45.7h0.9v0.9h-0.9zM66.1 42.7h0.9v0.9h-0.9zM63.2 61.7h0.9v0.9h-0.9zM63.7 64.7h0.9v0.9h-0.9zM87.0 48.5h0.9v0.9h-0.9zM112.8 36.3h0.9v0.9h-0.9zM90.2 46.5h0.9v0.9h-0.9zM88.9 51.2h0.9v0.9h-0.9zM61.8 58.7h0.9v0.9h-0.9zM111.6 47.0h0.9v0.9h-0.9zM52.5 57.2h0.9v0.9h-0.9zM47.8 52.4h0.9v0.9h-0.9zM98.7 52.1h0.9v0.9h-0.9zM75.7 79.5h0.9v0.9h-0.9zM102.5 27.2h0.9v0.9h-0.9zM87.3 43.0h0.9v0.9h-0.9zM99.7 27.3h0.9v0.9h-0.9zM92.7 26.6h0.9v0.9h-0.9zM91.4 27.7h0.9v0.9h-0.9zM71.7 35.0h0.9v0.9h-0.9zM56.8 31.5h0.9v0.9h-0.9zM64.0 64.3h0.9v0.9h-0.9zM113.8 26.7h0.9v0.9h-0.9zM73.0 56.0h0.9v0.9h-0.9zM96.9 35.3h0.9v0.9h-0.9zM94.4 47.0h0.9v0.9h-0.9zM63.9 45.4h0.9v0.9h-0.9zM86.0 56.8h0.9v0.9h-0.9zM89.9 36.5h0.9v0.9h-0.9zM69.7 63.2h0.9v0.9h-0.9zM110.4 49.8h0.9v0.9h-0.9zM80.8 70.7h0.9v0.9h-0.9zM62.9 69.3h0.9v0.9h-0.9zM48.8 85.0h0.9v0.9h-0.9zM65.2 63.1h0.9v0.9h-0.9zM68.6 43.6h0.9v0.9h-0.9zM100.0 58.5h0.9v0.9h-0.9zM90.6 40.3h0.9v0.9h-0.9zM57.0 39.3h0.9v0.9h-0.9zM67.0 51.2h0.9v0.9h-0.9zM100.9 48.3h0.9v0.9h-0.9zM71.5 54.8h0.9v0.9h-0.9zM78.1 46.6h0.9v0.9h-0.9zM93.9 41.9h0.9v0.9h-0.9zM86.5 30.9h0.9v0.9h-0.9zM88.9 58.4h0.9v0.9h-0.9zM89.4 45.1h0.9v0.9h-0.9zM74.8 53.3h0.9v0.9h-0.9zM50.5 94.4h0.9v0.9h-0.9zM54.8 44.8h0.9v0.9h-0.9zM109.9 48.3h0.9v0.9h-0.9zM92.3 65.8h0.9v0.9h-0.9zM69.6 63.5h0.9v0.9h-0.9zM63.9 30.6h0.9v0.9h-0.9zM54.3 78.8h0.9v0.9h-0.9zM68.9 76.3h0.9v0.9h-0.9zM94.7 61.2h0.9v0.9h-0.9zM48.8 38.9h0.9v0.9h-0.9zM80.1 41.3h0.9v0.9h-0.9zM81.0 69.4h0.9v0.9h-0.9zM111.0 47.0h0.9v0.9h-0.9zM88.8 59.6h0.9v0.9h-0.9zM64.3 30.9h0.9v0.9h-0.9zM77.7 58.4h0.9v0.9h-0.9zM90.6 32.1h0.9v0.9h-0.9zM84.0 31.1h0.9v0.9h-0.9zM78.8 44.7h0.9v0.9h-0.9zM79.2 51.3h0.9v0.9h-0.9zM53.9 74.7h0.9v0.9h-0.9z" fill="#000" fill-opacity="0.19"/>
<path d="M95.6 57.2h0.9v0.9h-0.9zM76.9 49.2h0.9v0.9h-0.9zM104.1 43.8h0.9v0.9h-0.9zM79.8 81.0h0.9v0.9h-0.9zM67.7 61.8h0.9v0.9h-0.9zM117.4 66.7h0.9v0.9h-0.9zM67.9 34.6h0.9v0.9h-0.9zM107.2 63.5h0.9v0.9h-0.9zM46.3 82.4h0.9v0.9h-0.9zM72.5 30.8h0.9v0.9h-0.9zM90.8 55.6h0.9v0.9h-0.9zM60.1 40.9h0.9v0.9h-0.9zM92.9 45.4h0.9v0.9h-0.9zM67.0 52.0h0.9v0.9h-0.9zM92.0 39.5h0.9v0.9h-0.9zM58.3 71.9h0.9v0.9h-0.9zM98.5 32.6h0.9v0.9h-0.9zM53.2 62.3h0.9v0.9h-0.9zM90.3 39.8h0.9v0.9h-0.9zM120.2 43.0h0.9v0.9h-0.9zM77.6 42.8h0.9v0.9h-0.9zM63.3 57.1h0.9v0.9h-0.9zM67.1 85.0h0.9v0.9h-0.9zM89.4 29.8h0.9v0.9h-0.9zM88.4 41.7h0.9v0.9h-0.9zM68.3 53.9h0.9v0.9h-0.9zM76.1 53.4h0.9v0.9h-0.9zM84.1 29.5h0.9v0.9h-0.9zM80.2 69.0h0.9v0.9h-0.9zM85.0 56.7h0.9v0.9h-0.9zM86.9 59.0h0.9v0.9h-0.9zM110.1 59.8h0.9v0.9h-0.9zM117.8 62.1h0.9v0.9h-0.9zM89.9 46.6h0.9v0.9h-0.9zM59.2 37.3h0.9v0.9h-0.9zM83.3 49.0h0.9v0.9h-0.9zM87.4 58.2h0.9v0.9h-0.9zM112.0 74.2h0.9v0.9h-0.9zM74.5 68.7h0.9v0.9h-0.9zM103.5 35.6h0.9v0.9h-0.9zM49.3 83.9h0.9v0.9h-0.9zM109.9 57.1h0.9v0.9h-0.9zM96.8 47.0h0.9v0.9h-0.9zM122.5 62.0h0.9v0.9h-0.9zM50.6 49.9h0.9v0.9h-0.9zM78.9 63.9h0.9v0.9h-0.9zM103.6 47.3h0.9v0.9h-0.9zM72.8 57.4h0.9v0.9h-0.9zM88.5 59.7h0.9v0.9h-0.9zM88.7 29.7h0.9v0.9h-0.9zM85.0 46.6h0.9v0.9h-0.9zM60.6 37.7h0.9v0.9h-0.9zM120.3 67.9h0.9v0.9h-0.9zM93.1 51.2h0.9v0.9h-0.9zM66.9 56.7h0.9v0.9h-0.9zM67.2 31.7h0.9v0.9h-0.9zM95.3 47.7h0.9v0.9h-0.9zM71.7 28.4h0.9v0.9h-0.9zM71.8 26.1h0.9v0.9h-0.9zM76.2 47.8h0.9v0.9h-0.9zM87.0 57.6h0.9v0.9h-0.9zM107.5 53.3h0.9v0.9h-0.9zM91.7 28.2h0.9v0.9h-0.9zM118.0 29.6h0.9v0.9h-0.9zM71.9 32.0h0.9v0.9h-0.9zM52.8 44.8h0.9v0.9h-0.9zM59.5 63.2h0.9v0.9h-0.9zM50.2 36.1h0.9v0.9h-0.9zM57.3 42.4h0.9v0.9h-0.9zM75.2 23.6h0.9v0.9h-0.9zM65.7 68.8h0.9v0.9h-0.9zM103.3 62.0h0.9v0.9h-0.9zM88.3 33.4h0.9v0.9h-0.9zM77.4 61.3h0.9v0.9h-0.9zM80.4 43.5h0.9v0.9h-0.9zM103.4 42.8h0.9v0.9h-0.9zM93.1 43.1h0.9v0.9h-0.9zM89.4 49.2h0.9v0.9h-0.9zM69.4 65.8h0.9v0.9h-0.9zM74.7 65.1h0.9v0.9h-0.9zM80.8 63.0h0.9v0.9h-0.9zM92.4 47.0h0.9v0.9h-0.9zM76.4 34.6h0.9v0.9h-0.9zM60.4 63.9h0.9v0.9h-0.9zM59.6 57.3h0.9v0.9h-0.9zM54.5 56.6h0.9v0.9h-0.9zM81.7 76.5h0.9v0.9h-0.9zM111.6 70.9h0.9v0.9h-0.9zM75.7 62.7h0.9v0.9h-0.9zM56.4 72.8h0.9v0.9h-0.9zM82.0 45.0h0.9v0.9h-0.9zM95.4 56.0h0.9v0.9h-0.9zM76.4 60.8h0.9v0.9h-0.9zM86.4 50.7h0.9v0.9h-0.9zM83.7 41.8h0.9v0.9h-0.9zM61.4 53.3h0.9v0.9h-0.9zM88.5 27.0h0.9v0.9h-0.9zM65.8 55.2h0.9v0.9h-0.9zM108.2 62.4h0.9v0.9h-0.9zM79.2 48.5h0.9v0.9h-0.9zM65.8 53.4h0.9v0.9h-0.9zM67.1 60.0h0.9v0.9h-0.9zM66.5 57.8h0.9v0.9h-0.9zM76.1 53.8h0.9v0.9h-0.9zM59.9 91.4h0.9v0.9h-0.9zM63.8 31.5h0.9v0.9h-0.9zM84.1 35.9h0.9v0.9h-0.9zM76.0 31.7h0.9v0.9h-0.9zM79.0 55.8h0.9v0.9h-0.9zM72.1 42.3h0.9v0.9h-0.9zM85.5 36.8h0.9v0.9h-0.9zM76.9 30.4h0.9v0.9h-0.9zM87.5 48.1h0.9v0.9h-0.9zM53.5 67.1h0.9v0.9h-0.9zM73.0 43.4h0.9v0.9h-0.9zM74.9 52.4h0.9v0.9h-0.9zM67.5 50.0h0.9v0.9h-0.9zM64.3 73.3h0.9v0.9h-0.9zM63.0 47.1h0.9v0.9h-0.9zM72.9 48.6h0.9v0.9h-0.9zM56.1 39.1h0.9v0.9h-0.9zM53.8 79.7h0.9v0.9h-0.9zM87.5 38.2h0.9v0.9h-0.9zM98.7 67.4h0.9v0.9h-0.9zM86.2 40.4h0.9v0.9h-0.9zM102.3 69.1h0.9v0.9h-0.9zM82.9 39.8h0.9v0.9h-0.9zM108.1 46.8h0.9v0.9h-0.9zM105.4 53.9h0.9v0.9h-0.9zM99.6 63.8h0.9v0.9h-0.9zM82.2 24.3h0.9v0.9h-0.9zM79.3 40.6h0.9v0.9h-0.9zM105.7 30.5h0.9v0.9h-0.9zM103.9 56.8h0.9v0.9h-0.9zM61.4 49.3h0.9v0.9h-0.9zM97.6 62.9h0.9v0.9h-0.9zM63.1 72.1h0.9v0.9h-0.9zM79.0 51.4h0.9v0.9h-0.9zM63.5 61.9h0.9v0.9h-0.9zM102.6 66.0h0.9v0.9h-0.9zM118.7 58.0h0.9v0.9h-0.9zM109.1 74.1h0.9v0.9h-0.9zM53.8 69.2h0.9v0.9h-0.9zM79.0 50.9h0.9v0.9h-0.9zM79.0 50.3h0.9v0.9h-0.9zM86.9 61.9h0.9v0.9h-0.9zM88.1 29.4h0.9v0.9h-0.9zM90.5 54.9h0.9v0.9h-0.9zM97.0 45.6h0.9v0.9h-0.9zM89.9 56.5h0.9v0.9h-0.9zM62.5 65.6h0.9v0.9h-0.9zM66.2 57.6h0.9v0.9h-0.9zM69.3 31.7h0.9v0.9h-0.9zM66.8 57.0h0.9v0.9h-0.9zM74.8 42.6h0.9v0.9h-0.9zM81.0 72.5h0.9v0.9h-0.9zM67.7 63.7h0.9v0.9h-0.9zM51.1 66.3h0.9v0.9h-0.9zM78.2 55.9h0.9v0.9h-0.9zM92.3 46.6h0.9v0.9h-0.9zM100.0 22.7h0.9v0.9h-0.9zM91.5 44.2h0.9v0.9h-0.9zM80.0 51.9h0.9v0.9h-0.9zM63.0 28.7h0.9v0.9h-0.9zM101.1 29.6h0.9v0.9h-0.9zM78.8 47.1h0.9v0.9h-0.9zM59.4 51.8h0.9v0.9h-0.9zM73.1 70.8h0.9v0.9h-0.9zM61.8 75.3h0.9v0.9h-0.9zM56.0 70.3h0.9v0.9h-0.9zM77.0 49.3h0.9v0.9h-0.9zM58.3 27.2h0.9v0.9h-0.9zM58.9 39.9h0.9v0.9h-0.9zM100.7 68.4h0.9v0.9h-0.9zM74.5 33.1h0.9v0.9h-0.9zM84.2 81.1h0.9v0.9h-0.9zM104.7 58.1h0.9v0.9h-0.9zM83.8 37.7h0.9v0.9h-0.9zM82.2 71.0h0.9v0.9h-0.9zM92.1 49.1h0.9v0.9h-0.9zM98.0 52.0h0.9v0.9h-0.9zM88.0 59.8h0.9v0.9h-0.9zM64.4 77.5h0.9v0.9h-0.9z" fill="#000" fill-opacity="0.19"/>
<path d="M75.1 48.2h0.9v0.9h-0.9zM46.8 39.2h0.9v0.9h-0.9zM84.3 47.3h0.9v0.9h-0.9zM95.4 46.4h0.9v0.9h-0.9zM92.0 57.4h0.9v0.9h-0.9zM62.9 66.4h0.9v0.9h-0.9zM91.2 39.9h0.9v0.9h-0.9zM68.1 29.5h0.9v0.9h-0.9zM92.1 32.0h0.9v0.9h-0.9zM81.0 54.3h0.9v0.9h-0.9zM94.8 54.9h0.9v0.9h-0.9zM100.5 35.4h0.9v0.9h-0.9zM63.1 41.0h0.9v0.9h-0.9zM68.4 78.6h0.9v0.9h-0.9zM120.3 63.0h0.9v0.9h-0.9zM64.2 76.1h0.9v0.9h-0.9zM86.1 24.8h0.9v0.9h-0.9zM72.4 50.7h0.9v0.9h-0.9zM68.4 85.9h0.9v0.9h-0.9zM102.9 39.5h0.9v0.9h-0.9zM107.0 51.6h0.9v0.9h-0.9zM90.7 43.3h0.9v0.9h-0.9zM75.2 54.3h0.9v0.9h-0.9zM105.6 25.6h0.9v0.9h-0.9zM95.1 38.8h0.9v0.9h-0.9zM85.9 59.0h0.9v0.9h-0.9zM111.8 38.4h0.9v0.9h-0.9zM83.7 70.4h0.9v0.9h-0.9zM70.3 54.0h0.9v0.9h-0.9zM64.1 63.0h0.9v0.9h-0.9zM50.6 58.3h0.9v0.9h-0.9zM107.4 54.4h0.9v0.9h-0.9zM81.6 36.3h0.9v0.9h-0.9zM97.8 57.9h0.9v0.9h-0.9zM61.2 55.3h0.9v0.9h-0.9zM72.1 56.2h0.9v0.9h-0.9zM79.6 28.5h0.9v0.9h-0.9zM75.8 46.9h0.9v0.9h-0.9zM68.9 47.8h0.9v0.9h-0.9zM95.3 45.8h0.9v0.9h-0.9zM87.0 39.8h0.9v0.9h-0.9zM92.8 41.3h0.9v0.9h-0.9zM82.1 55.6h0.9v0.9h-0.9zM56.0 63.3h0.9v0.9h-0.9zM83.9 47.7h0.9v0.9h-0.9zM61.0 38.9h0.9v0.9h-0.9zM70.8 57.8h0.9v0.9h-0.9zM102.1 56.5h0.9v0.9h-0.9zM74.5 57.2h0.9v0.9h-0.9zM54.6 37.4h0.9v0.9h-0.9zM75.7 34.3h0.9v0.9h-0.9zM104.4 44.3h0.9v0.9h-0.9zM67.0 49.6h0.9v0.9h-0.9zM63.4 54.9h0.9v0.9h-0.9zM78.4 59.0h0.9v0.9h-0.9zM62.1 46.2h0.9v0.9h-0.9zM109.9 44.2h0.9v0.9h-0.9zM59.0 89.6h0.9v0.9h-0.9zM103.3 47.9h0.9v0.9h-0.9zM111.3 41.0h0.9v0.9h-0.9zM84.7 31.0h0.9v0.9h-0.9zM73.6 49.9h0.9v0.9h-0.9zM87.3 54.0h0.9v0.9h-0.9zM65.8 85.9h0.9v0.9h-0.9zM50.2 48.9h0.9v0.9h-0.9zM83.4 46.0h0.9v0.9h-0.9zM82.7 27.4h0.9v0.9h-0.9zM67.8 48.4h0.9v0.9h-0.9zM125.3 29.0h0.9v0.9h-0.9zM55.4 35.2h0.9v0.9h-0.9zM61.4 78.9h0.9v0.9h-0.9zM90.2 39.7h0.9v0.9h-0.9zM59.7 35.7h0.9v0.9h-0.9zM48.2 43.2h0.9v0.9h-0.9zM103.6 46.8h0.9v0.9h-0.9zM94.6 43.9h0.9v0.9h-0.9zM56.1 32.7h0.9v0.9h-0.9zM95.2 58.7h0.9v0.9h-0.9zM70.0 41.9h0.9v0.9h-0.9zM75.7 69.6h0.9v0.9h-0.9zM101.1 42.1h0.9v0.9h-0.9zM57.5 53.2h0.9v0.9h-0.9zM73.7 45.1h0.9v0.9h-0.9zM72.9 47.1h0.9v0.9h-0.9zM76.1 51.1h0.9v0.9h-0.9zM102.7 54.9h0.9v0.9h-0.9zM51.1 64.6h0.9v0.9h-0.9zM105.0 41.2h0.9v0.9h-0.9zM60.3 41.1h0.9v0.9h-0.9zM71.4 50.7h0.9v0.9h-0.9zM76.3 59.6h0.9v0.9h-0.9zM55.8 42.1h0.9v0.9h-0.9zM64.6 57.3h0.9v0.9h-0.9zM79.3 53.0h0.9v0.9h-0.9zM75.4 33.6h0.9v0.9h-0.9zM81.9 58.1h0.9v0.9h-0.9zM77.9 40.4h0.9v0.9h-0.9zM92.1 35.1h0.9v0.9h-0.9zM69.4 26.1h0.9v0.9h-0.9zM60.6 73.7h0.9v0.9h-0.9zM61.9 82.5h0.9v0.9h-0.9zM61.3 38.7h0.9v0.9h-0.9zM88.2 44.8h0.9v0.9h-0.9zM49.4 93.9h0.9v0.9h-0.9zM51.6 45.2h0.9v0.9h-0.9zM73.0 49.8h0.9v0.9h-0.9zM80.2 56.2h0.9v0.9h-0.9zM109.8 38.4h0.9v0.9h-0.9zM87.0 53.7h0.9v0.9h-0.9zM67.3 72.5h0.9v0.9h-0.9zM78.6 28.2h0.9v0.9h-0.9zM67.3 64.9h0.9v0.9h-0.9zM80.1 31.2h0.9v0.9h-0.9zM104.3 67.3h0.9v0.9h-0.9zM66.8 84.2h0.9v0.9h-0.9zM94.3 41.9h0.9v0.9h-0.9zM60.5 79.8h0.9v0.9h-0.9zM76.6 47.4h0.9v0.9h-0.9zM74.3 47.2h0.9v0.9h-0.9zM69.9 70.1h0.9v0.9h-0.9zM95.3 34.3h0.9v0.9h-0.9zM66.8 42.7h0.9v0.9h-0.9zM97.9 61.5h0.9v0.9h-0.9zM121.5 51.4h0.9v0.9h-0.9zM111.7 67.1h0.9v0.9h-0.9zM116.2 30.9h0.9v0.9h-0.9zM81.9 40.8h0.9v0.9h-0.9zM110.3 35.5h0.9v0.9h-0.9zM73.2 36.8h0.9v0.9h-0.9zM109.4 47.9h0.9v0.9h-0.9zM58.7 68.3h0.9v0.9h-0.9zM50.4 62.0h0.9v0.9h-0.9zM65.8 52.3h0.9v0.9h-0.9zM68.3 68.3h0.9v0.9h-0.9zM63.4 28.6h0.9v0.9h-0.9zM55.2 54.4h0.9v0.9h-0.9zM60.9 73.5h0.9v0.9h-0.9zM90.2 50.1h0.9v0.9h-0.9zM69.7 30.4h0.9v0.9h-0.9zM51.4 41.3h0.9v0.9h-0.9zM72.9 31.2h0.9v0.9h-0.9zM101.0 43.3h0.9v0.9h-0.9zM93.9 26.6h0.9v0.9h-0.9zM58.4 45.0h0.9v0.9h-0.9zM49.0 66.1h0.9v0.9h-0.9zM74.0 58.2h0.9v0.9h-0.9zM60.8 46.6h0.9v0.9h-0.9zM81.2 51.2h0.9v0.9h-0.9zM106.0 55.5h0.9v0.9h-0.9zM94.1 56.6h0.9v0.9h-0.9zM109.8 38.0h0.9v0.9h-0.9zM68.4 51.3h0.9v0.9h-0.9zM71.0 56.1h0.9v0.9h-0.9zM59.4 38.6h0.9v0.9h-0.9zM80.9 55.6h0.9v0.9h-0.9zM72.8 52.8h0.9v0.9h-0.9zM53.4 80.4h0.9v0.9h-0.9zM104.7 59.1h0.9v0.9h-0.9zM80.7 78.9h0.9v0.9h-0.9zM73.6 50.7h0.9v0.9h-0.9zM110.9 66.2h0.9v0.9h-0.9zM93.8 43.4h0.9v0.9h-0.9zM60.8 43.0h0.9v0.9h-0.9zM73.5 49.6h0.9v0.9h-0.9zM76.9 52.5h0.9v0.9h-0.9zM98.7 44.8h0.9v0.9h-0.9zM98.9 59.6h0.9v0.9h-0.9zM73.0 68.4h0.9v0.9h-0.9zM117.2 53.5h0.9v0.9h-0.9zM96.8 57.8h0.9v0.9h-0.9zM83.5 88.5h0.9v0.9h-0.9zM57.6 72.9h0.9v0.9h-0.9zM72.7 88.6h0.9v0.9h-0.9zM90.3 46.0h0.9v0.9h-0.9zM105.8 49.2h0.9v0.9h-0.9zM82.1 25.8h0.9v0.9h-0.9zM98.0 46.1h0.9v0.9h-0.9z" fill="#000" fill-opacity="0.19"/>
<path d="M81.5 42.1h0.9v0.9h-0.9zM68.3 68.7h0.9v0.9h-0.9zM75.7 31.6h0.9v0.9h-0.9zM100.3 56.5h0.9v0.9h-0.9zM69.0 60.9h0.9v0.9h-0.9zM76.1 63.2h0.9v0.9h-0.9zM78.4 50.1h0.9v0.9h-0.9zM63.0 74.6h0.9v0.9h-0.9zM83.5 56.5h0.9v0.9h-0.9zM64.9 53.9h0.9v0.9h-0.9zM82.5 55.1h0.9v0.9h-0.9zM81.5 64.2h0.9v0.9h-0.9zM79.6 50.8h0.9v0.9h-0.9zM46.5 62.0h0.9v0.9h-0.9zM70.8 72.2h0.9v0.9h-0.9zM122.9 45.0h0.9v0.9h-0.9zM74.4 82.6h0.9v0.9h-0.9zM104.6 52.8h0.9v0.9h-0.9zM108.1 47.1h0.9v0.9h-0.9zM70.9 63.2h0.9v0.9h-0.9zM77.6 53.8h0.9v0.9h-0.9zM83.7 31.2h0.9v0.9h-0.9zM85.7 43.0h0.9v0.9h-0.9zM105.9 59.5h0.9v0.9h-0.9zM69.6 56.5h0.9v0.9h-0.9zM60.1 37.1h0.9v0.9h-0.9zM83.5 44.0h0.9v0.9h-0.9zM78.6 48.5h0.9v0.9h-0.9zM66.5 68.4h0.9v0.9h-0.9zM64.5 57.3h0.9v0.9h-0.9zM100.3 49.8h0.9v0.9h-0.9zM64.8 75.4h0.9v0.9h-0.9zM75.9 85.5h0.9v0.9h-0.9zM64.7 65.8h0.9v0.9h-0.9zM48.6 74.9h0.9v0.9h-0.9zM69.0 50.2h0.9v0.9h-0.9zM53.7 67.3h0.9v0.9h-0.9zM85.1 39.9h0.9v0.9h-0.9zM58.9 71.3h0.9v0.9h-0.9zM62.9 55.6h0.9v0.9h-0.9zM88.2 48.5h0.9v0.9h-0.9zM62.0 53.3h0.9v0.9h-0.9zM63.0 52.1h0.9v0.9h-0.9zM99.9 43.7h0.9v0.9h-0.9zM89.2 49.7h0.9v0.9h-0.9zM64.4 36.8h0.9v0.9h-0.9zM69.6 57.6h0.9v0.9h-0.9zM74.9 48.6h0.9v0.9h-0.9zM74.9 47.4h0.9v0.9h-0.9zM112.7 34.6h0.9v0.9h-0.9zM98.7 43.7h0.9v0.9h-0.9zM63.8 78.7h0.9v0.9h-0.9zM66.4 38.5h0.9v0.9h-0.9zM71.2 61.5h0.9v0.9h-0.9zM96.1 47.7h0.9v0.9h-0.9zM114.5 58.6h0.9v0.9h-0.9zM85.1 52.7h0.9v0.9h-0.9zM46.5 53.7h0.9v0.9h-0.9zM65.8 64.1h0.9v0.9h-0.9zM97.4 37.1h0.9v0.9h-0.9zM82.1 41.9h0.9v0.9h-0.9zM84.2 28.9h0.9v0.9h-0.9zM79.3 65.4h0.9v0.9h-0.9zM53.0 54.2h0.9v0.9h-0.9zM52.6 48.0h0.9v0.9h-0.9zM66.8 29.4h0.9v0.9h-0.9zM76.4 37.3h0.9v0.9h-0.9zM67.3 65.2h0.9v0.9h-0.9zM82.6 79.5h0.9v0.9h-0.9zM83.9 68.4h0.9v0.9h-0.9zM89.2 43.3h0.9v0.9h-0.9zM68.1 66.7h0.9v0.9h-0.9zM85.6 43.7h0.9v0.9h-0.9zM71.0 38.4h0.9v0.9h-0.9zM88.7 59.9h0.9v0.9h-0.9zM70.0 59.2h0.9v0.9h-0.9zM76.0 71.3h0.9v0.9h-0.9zM93.6 45.9h0.9v0.9h-0.9zM72.3 65.8h0.9v0.9h-0.9zM59.6 47.5h0.9v0.9h-0.9zM73.1 43.7h0.9v0.9h-0.9zM86.7 65.1h0.9v0.9h-0.9zM71.0 36.1h0.9v0.9h-0.9zM66.9 39.3h0.9v0.9h-0.9zM83.8 35.0h0.9v0.9h-0.9zM84.1 51.3h0.9v0.9h-0.9zM83.7 65.4h0.9v0.9h-0.9zM83.2 34.1h0.9v0.9h-0.9zM71.0 51.4h0.9v0.9h-0.9zM70.6 57.8h0.9v0.9h-0.9zM105.2 52.6h0.9v0.9h-0.9zM118.8 56.8h0.9v0.9h-0.9zM102.9 61.9h0.9v0.9h-0.9zM73.8 50.1h0.9v0.9h-0.9zM45.9 63.9h0.9v0.9h-0.9zM70.5 51.4h0.9v0.9h-0.9zM57.6 64.3h0.9v0.9h-0.9zM100.8 65.5h0.9v0.9h-0.9zM87.8 51.9h0.9v0.9h-0.9zM80.8 52.5h0.9v0.9h-0.9zM77.0 44.8h0.9v0.9h-0.9zM72.4 44.6h0.9v0.9h-0.9zM54.7 52.7h0.9v0.9h-0.9zM111.2 63.2h0.9v0.9h-0.9zM78.3 58.7h0.9v0.9h-0.9zM50.7 82.0h0.9v0.9h-0.9zM85.8 31.4h0.9v0.9h-0.9zM91.7 34.6h0.9v0.9h-0.9zM98.1 47.5h0.9v0.9h-0.9zM79.0 50.4h0.9v0.9h-0.9zM81.5 40.6h0.9v0.9h-0.9zM72.9 37.2h0.9v0.9h-0.9zM94.4 44.6h0.9v0.9h-0.9zM82.3 52.5h0.9v0.9h-0.9zM66.1 54.7h0.9v0.9h-0.9zM74.1 71.3h0.9v0.9h-0.9zM84.1 35.6h0.9v0.9h-0.9zM54.6 90.4h0.9v0.9h-0.9zM91.2 32.7h0.9v0.9h-0.9zM81.3 43.1h0.9v0.9h-0.9zM71.9 58.6h0.9v0.9h-0.9zM68.7 57.1h0.9v0.9h-0.9zM81.6 27.6h0.9v0.9h-0.9zM78.7 71.0h0.9v0.9h-0.9zM75.5 43.1h0.9v0.9h-0.9zM65.6 53.3h0.9v0.9h-0.9zM76.4 48.8h0.9v0.9h-0.9zM87.1 44.9h0.9v0.9h-0.9zM111.9 38.6h0.9v0.9h-0.9zM76.8 43.2h0.9v0.9h-0.9zM107.8 28.5h0.9v0.9h-0.9zM90.9 56.8h0.9v0.9h-0.9zM99.1 42.9h0.9v0.9h-0.9zM53.3 81.4h0.9v0.9h-0.9zM104.1 58.0h0.9v0.9h-0.9zM56.0 71.6h0.9v0.9h-0.9zM109.4 54.4h0.9v0.9h-0.9zM83.6 87.5h0.9v0.9h-0.9zM76.8 80.4h0.9v0.9h-0.9zM64.6 73.3h0.9v0.9h-0.9zM66.7 73.1h0.9v0.9h-0.9zM81.0 60.9h0.9v0.9h-0.9zM85.7 41.1h0.9v0.9h-0.9zM123.6 46.4h0.9v0.9h-0.9zM52.2 66.2h0.9v0.9h-0.9zM64.0 58.7h0.9v0.9h-0.9zM102.9 35.5h0.9v0.9h-0.9zM59.7 68.8h0.9v0.9h-0.9zM85.4 48.9h0.9v0.9h-0.9zM61.8 53.8h0.9v0.9h-0.9zM94.3 38.8h0.9v0.9h-0.9zM52.5 59.5h0.9v0.9h-0.9zM105.6 52.8h0.9v0.9h-0.9zM76.1 51.4h0.9v0.9h-0.9zM70.1 78.4h0.9v0.9h-0.9zM85.3 40.9h0.9v0.9h-0.9zM78.0 31.3h0.9v0.9h-0.9zM62.6 34.7h0.9v0.9h-0.9zM112.4 32.7h0.9v0.9h-0.9zM73.6 62.5h0.9v0.9h-0.9zM87.6 66.4h0.9v0.9h-0.9zM68.7 49.0h0.9v0.9h-0.9zM85.6 51.0h0.9v0.9h-0.9zM61.7 60.7h0.9v0.9h-0.9zM49.6 43.1h0.9v0.9h-0.9zM75.8 56.7h0.9v0.9h-0.9zM93.7 29.1h0.9v0.9h-0.9zM81.9 85.1h0.9v0.9h-0.9zM94.9 50.8h0.9v0.9h-0.9zM70.4 64.5h0.9v0.9h-0.9zM75.6 79.1h0.9v0.9h-0.9zM78.7 44.0h0.9v0.9h-0.9zM63.6 77.4h0.9v0.9h-0.9zM62.0 29.3h0.9v0.9h-0.9zM82.5 42.8h0.9v0.9h-0.9zM63.9 50.0h0.9v0.9h-0.9zM60.4 67.3h0.9v0.9h-0.9zM97.8 43.9h0.9v0.9h-0.9z" fill="#000" fill-opacity="0.19"/>
<path d="M91.8 36.8h0.9v0.9h-0.9zM81.2 38.6h0.9v0.9h-0.9zM88.0 50.4h0.9v0.9h-0.9zM51.8 65.4h0.9v0.9h-0.9zM89.6 45.2h0.9v0.9h-0.9zM54.3 35.8h0.9v0.9h-0.9zM90.4 30.5h0.9v0.9h-0.9zM97.7 42.7h0.9v0.9h-0.9zM108.6 68.2h0.9v0.9h-0.9zM46.0 37.7h0.9v0.9h-0.9zM84.7 43.5h0.9v0.9h-0.9zM89.0 36.9h0.9v0.9h-0.9zM75.3 30.1h0.9v0.9h-0.9zM93.6 67.2h0.9v0.9h-0.9zM98.3 53.5h0.9v0.9h-0.9zM66.7 48.1h0.9v0.9h-0.9zM58.3 57.1h0.9v0.9h-0.9zM108.3 50.3h0.9v0.9h-0.9zM84.5 41.9h0.9v0.9h-0.9zM122.9 73.5h0.9v0.9h-0.9zM63.5 58.4h0.9v0.9h-0.9zM112.8 39.9h0.9v0.9h-0.9zM81.0 52.7h0.9v0.9h-0.9zM108.6 33.8h0.9v0.9h-0.9zM85.5 57.0h0.9v0.9h-0.9zM84.8 57.0h0.9v0.9h-0.9zM76.3 87.7h0.9v0.9h-0.9zM98.3 48.5h0.9v0.9h-0.9zM72.8 67.5h0.9v0.9h-0.9zM73.9 71.7h0.9v0.9h-0.9zM60.0 40.5h0.9v0.9h-0.9zM109.3 41.6h0.9v0.9h-0.9zM47.1 74.3h0.9v0.9h-0.9zM73.7 56.0h0.9v0.9h-0.9zM57.5 72.4h0.9v0.9h-0.9zM72.2 51.7h0.9v0.9h-0.9zM94.0 38.8h0.9v0.9h-0.9zM63.5 82.7h0.9v0.9h-0.9zM74.6 66.3h0.9v0.9h-0.9zM72.2 62.1h0.9v0.9h-0.9zM108.5 50.8h0.9v0.9h-0.9zM94.8 53.1h0.9v0.9h-0.9zM93.0 38.5h0.9v0.9h-0.9zM67.3 35.3h0.9v0.9h-0.9zM103.1 85.8h0.9v0.9h-0.9zM47.3 73.3h0.9v0.9h-0.9zM48.9 72.5h0.9v0.9h-0.9zM54.3 51.9h0.9v0.9h-0.9zM110.6 45.2h0.9v0.9h-0.9zM89.8 45.9h0.9v0.9h-0.9zM68.7 61.4h0.9v0.9h-0.9zM57.7 67.1h0.9v0.9h-0.9zM58.4 26.3h0.9v0.9h-0.9zM72.3 52.1h0.9v0.9h-0.9zM81.2 55.5h0.9v0.9h-0.9zM91.0 68.4h0.9v0.9h-0.9zM60.3 43.6h0.9v0.9h-0.9zM68.6 44.8h0.9v0.9h-0.9zM107.8 44.3h0.9v0.9h-0.9zM87.3 45.3h0.9v0.9h-0.9zM81.4 58.8h0.9v0.9h-0.9zM96.9 35.3h0.9v0.9h-0.9zM86.2 52.3h0.9v0.9h-0.9zM85.8 50.3h0.9v0.9h-0.9zM83.3 38.2h0.9v0.9h-0.9zM78.6 83.6h0.9v0.9h-0.9zM98.1 36.6h0.9v0.9h-0.9zM87.1 40.4h0.9v0.9h-0.9zM99.5 55.3h0.9v0.9h-0.9zM76.7 76.8h0.9v0.9h-0.9zM88.0 41.0h0.9v0.9h-0.9zM90.8 30.8h0.9v0.9h-0.9zM107.1 50.5h0.9v0.9h-0.9zM69.7 48.9h0.9v0.9h-0.9zM84.8 70.9h0.9v0.9h-0.9zM60.8 53.1h0.9v0.9h-0.9zM94.4 38.2h0.9v0.9h-0.9zM72.4 45.7h0.9v0.9h-0.9zM55.1 54.2h0.9v0.9h-0.9zM97.0 35.8h0.9v0.9h-0.9zM81.0 50.6h0.9v0.9h-0.9zM70.9 29.5h0.9v0.9h-0.9zM73.3 57.6h0.9v0.9h-0.9zM103.4 50.0h0.9v0.9h-0.9zM85.9 39.9h0.9v0.9h-0.9zM68.5 78.5h0.9v0.9h-0.9zM66.4 71.9h0.9v0.9h-0.9zM91.1 73.2h0.9v0.9h-0.9zM70.1 52.1h0.9v0.9h-0.9zM56.6 49.9h0.9v0.9h-0.9zM84.5 40.7h0.9v0.9h-0.9zM113.7 62.2h0.9v0.9h-0.9zM98.3 47.1h0.9v0.9h-0.9zM70.8 82.5h0.9v0.9h-0.9zM110.8 59.2h0.9v0.9h-0.9zM63.3 40.6h0.9v0.9h-0.9zM62.7 57.6h0.9v0.9h-0.9zM100.3 39.6h0.9v0.9h-0.9zM66.0 45.9h0.9v0.9h-0.9zM80.8 59.8h0.9v0.9h-0.9zM105.4 39.5h0.9v0.9h-0.9zM95.7 54.8h0.9v0.9h-0.9zM78.5 47.3h0.9v0.9h-0.9zM61.8 59.5h0.9v0.9h-0.9zM85.0 40.8h0.9v0.9h-0.9zM80.6 55.0h0.9v0.9h-0.9zM64.3 70.1h0.9v0.9h-0.9zM63.9 43.2h0.9v0.9h-0.9zM85.1 41.6h0.9v0.9h-0.9zM91.2 49.2h0.9v0.9h-0.9zM70.6 71.1h0.9v0.9h-0.9zM77.2 67.1h0.9v0.9h-0.9zM86.9 52.7h0.9v0.9h-0.9zM60.6 92.8h0.9v0.9h-0.9zM77.3 78.5h0.9v0.9h-0.9zM100.6 29.7h0.9v0.9h-0.9zM62.3 89.8h0.9v0.9h-0.9zM56.7 79.4h0.9v0.9h-0.9zM74.0 67.8h0.9v0.9h-0.9zM61.1 64.6h0.9v0.9h-0.9zM77.3 39.3h0.9v0.9h-0.9zM57.6 75.1h0.9v0.9h-0.9zM104.1 52.1h0.9v0.9h-0.9zM97.4 38.4h0.9v0.9h-0.9zM76.4 68.9h0.9v0.9h-0.9zM114.7 55.3h0.9v0.9h-0.9zM94.5 56.7h0.9v0.9h-0.9zM80.9 41.2h0.9v0.9h-0.9zM54.7 34.0h0.9v0.9h-0.9zM70.7 51.4h0.9v0.9h-0.9zM58.7 53.2h0.9v0.9h-0.9zM84.8 37.8h0.9v0.9h-0.9zM59.7 51.0h0.9v0.9h-0.9zM90.2 42.6h0.9v0.9h-0.9zM100.5 59.4h0.9v0.9h-0.9zM92.9 54.4h0.9v0.9h-0.9zM46.3 41.7h0.9v0.9h-0.9zM71.0 63.3h0.9v0.9h-0.9zM83.8 61.9h0.9v0.9h-0.9zM79.8 70.4h0.9v0.9h-0.9zM99.7 37.6h0.9v0.9h-0.9zM118.5 41.3h0.9v0.9h-0.9zM105.7 51.6h0.9v0.9h-0.9zM96.2 47.2h0.9v0.9h-0.9zM78.1 37.5h0.9v0.9h-0.9zM53.7 59.1h0.9v0.9h-0.9zM80.0 46.4h0.9v0.9h-0.9zM52.0 60.7h0.9v0.9h-0.9zM57.4 32.8h0.9v0.9h-0.9zM94.7 29.9h0.9v0.9h-0.9zM52.2 61.8h0.9v0.9h-0.9zM95.0 53.4h0.9v0.9h-0.9zM61.2 68.8h0.9v0.9h-0.9zM96.2 68.1h0.9v0.9h-0.9zM106.7 36.5h0.9v0.9h-0.9zM86.1 56.5h0.9v0.9h-0.9zM97.1 49.5h0.9v0.9h-0.9zM81.4 46.8h0.9v0.9h-0.9zM86.2 52.0h0.9v0.9h-0.9zM54.6 67.3h0.9v0.9h-0.9zM65.5 54.1h0.9v0.9h-0.9zM78.0 37.5h0.9v0.9h-0.9zM78.5 34.1h0.9v0.9h-0.9zM51.4 66.1h0.9v0.9h-0.9zM91.9 30.6h0.9v0.9h-0.9zM74.8 81.6h0.9v0.9h-0.9zM62.4 58.1h0.9v0.9h-0.9zM62.2 70.7h0.9v0.9h-0.9zM90.3 48.9h0.9v0.9h-0.9zM89.2 24.9h0.9v0.9h-0.9zM77.8 43.2h0.9v0.9h-0.9zM73.6 66.5h0.9v0.9h-0.9zM74.0 35.7h0.9v0.9h-0.9zM70.5 65.4h0.9v0.9h-0.9zM120.5 59.3h0.9v0.9h-0.9zM92.2 36.2h0.9v0.9h-0.9zM65.0 27.5h0.9v0.9h-0.9zM89.5 78.6h0.9v0.9h-0.9z" fill="#000" fill-opacity="0.19"/>
<path d="M53.8 65.1h0.9v0.9h-0.9zM77.3 37.8h0.9v0.9h-0.9zM80.4 92.9h0.9v0.9h-0.9zM57.1 66.5h0.9v0.9h-0.9zM88.5 44.9h0.9v0.9h-0.9zM97.5 35.4h0.9v0.9h-0.9zM77.7 25.0h0.9v0.9h-0.9zM75.5 58.6h0.9v0.9h-0.9zM109.2 29.3h0.9v0.9h-0.9zM60.4 29.9h0.9v0.9h-0.9zM63.8 54.0h0.9v0.9h-0.9zM75.2 43.9h0.9v0.9h-0.9zM117.5 51.0h0.9v0.9h-0.9zM68.2 70.6h0.9v0.9h-0.9zM95.6 37.9h0.9v0.9h-0.9zM90.4 49.0h0.9v0.9h-0.9zM65.5 59.8h0.9v0.9h-0.9zM88.4 51.2h0.9v0.9h-0.9zM92.8 42.2h0.9v0.9h-0.9zM77.5 58.3h0.9v0.9h-0.9zM93.2 36.4h0.9v0.9h-0.9zM72.6 74.6h0.9v0.9h-0.9zM61.3 48.1h0.9v0.9h-0.9zM61.5 54.6h0.9v0.9h-0.9zM101.7 58.6h0.9v0.9h-0.9zM83.1 31.4h0.9v0.9h-0.9zM59.1 76.3h0.9v0.9h-0.9zM69.2 69.3h0.9v0.9h-0.9zM102.3 52.7h0.9v0.9h-0.9zM62.1 70.9h0.9v0.9h-0.9zM72.4 41.3h0.9v0.9h-0.9zM64.2 63.2h0.9v0.9h-0.9zM72.2 65.7h0.9v0.9h-0.9zM102.9 24.7h0.9v0.9h-0.9zM55.2 61.4h0.9v0.9h-0.9zM101.9 49.0h0.9v0.9h-0.9zM102.8 39.5h0.9v0.9h-0.9zM75.2 72.5h0.9v0.9h-0.9zM46.8 72.0h0.9v0.9h-0.9zM63.8 67.6h0.9v0.9h-0.9zM78.8 30.6h0.9v0.9h-0.9zM73.0 56.7h0.9v0.9h-0.9zM50.5 77.1h0.9v0.9h-0.9zM78.2 48.4h0.9v0.9h-0.9zM110.9 37.4h0.9v0.9h-0.9zM95.1 36.1h0.9v0.9h-0.9zM70.9 66.8h0.9v0.9h-0.9zM84.9 55.8h0.9v0.9h-0.9zM72.2 48.6h0.9v0.9h-0.9zM90.8 53.8h0.9v0.9h-0.9zM87.6 31.6h0.9v0.9h-0.9zM99.6 63.4h0.9v0.9h-0.9zM53.5 87.6h0.9v0.9h-0.9zM74.0 37.9h0.9v0.9h-0.9zM76.0 24.1h0.9v0.9h-0.9zM87.4 40.0h0.9v0.9h-0.9zM101.8 40.3h0.9v0.9h-0.9zM55.5 80.2h0.9v0.9h-0.9zM96.1 61.2h0.9v0.9h-0.9zM86.3 54.3h0.9v0.9h-0.9zM87.0 46.8h0.9v0.9h-0.9zM83.4 50.0h0.9v0.9h-0.9zM92.9 52.7h0.9v0.9h-0.9zM88.8 48.3h0.9v0.9h-0.9zM78.1 76.2h0.9v0.9h-0.9zM80.3 33.9h0.9v0.9h-0.9zM51.4 41.2h0.9v0.9h-0.9zM125.6 31.9h0.9v0.9h-0.9zM95.7 34.3h0.9v0.9h-0.9zM57.5 73.9h0.9v0.9h-0.9zM72.0 34.5h0.9v0.9h-0.9zM80.6 26.8h0.9v0.9h-0.9zM86.0 28.1h0.9v0.9h-0.9zM71.6 83.1h0.9v0.9h-0.9zM99.9 35.3h0.9v0.9h-0.9zM63.4 59.4h0.9v0.9h-0.9zM99.4 45.5h0.9v0.9h-0.9zM69.7 29.2h0.9v0.9h-0.9zM51.6 33.0h0.9v0.9h-0.9zM62.5 68.1h0.9v0.9h-0.9zM87.5 59.3h0.9v0.9h-0.9zM51.9 80.1h0.9v0.9h-0.9zM62.9 53.1h0.9v0.9h-0.9zM85.0 31.6h0.9v0.9h-0.9zM90.2 34.4h0.9v0.9h-0.9zM69.1 58.6h0.9v0.9h-0.9zM77.2 80.4h0.9v0.9h-0.9zM91.4 50.8h0.9v0.9h-0.9zM67.5 75.6h0.9v0.9h-0.9zM96.6 32.4h0.9v0.9h-0.9zM88.6 49.3h0.9v0.9h-0.9zM67.1 81.4h0.9v0.9h-0.9zM81.1 40.0h0.9v0.9h-0.9zM109.3 52.6h0.9v0.9h-0.9zM61.8 89.0h0.9v0.9h-0.9zM63.9 46.7h0.9v0.9h-0.9zM69.6 79.1h0.9v0.9h-0.9zM71.5 36.0h0.9v0.9h-0.9zM100.2 63.1h0.9v0.9h-0.9zM47.7 63.8h0.9v0.9h-0.9zM64.9 81.9h0.9v0.9h-0.9zM108.1 25.5h0.9v0.9h-0.9zM67.8 60.0h0.9v0.9h-0.9zM92.8 42.2h0.9v0.9h-0.9zM61.0 73.2h0.9v0.9h-0.9zM88.1 58.1h0.9v0.9h-0.9zM81.6 54.2h0.9v0.9h-0.9zM67.3 49.4h0.9v0.9h-0.9zM87.6 58.4h0.9v0.9h-0.9zM54.1 60.2h0.9v0.9h-0.9zM74.7 41.5h0.9v0.9h-0.9zM110.6 37.4h0.9v0.9h-0.9zM75.1 38.4h0.9v0.9h-0.9zM81.2 56.4h0.9v0.9h-0.9zM54.2 54.5h0.9v0.9h-0.9zM80.4 42.4h0.9v0.9h-0.9zM79.9 36.5h0.9v0.9h-0.9zM71.8 33.7h0.9v0.9h-0.9zM67.4 35.7h0.9v0.9h-0.9zM113.4 49.2h0.9v0.9h-0.9zM80.1 87.8h0.9v0.9h-0.9zM70.9 65.0h0.9v0.9h-0.9zM102.8 54.6h0.9v0.9h-0.9zM60.0 75.8h0.9v0.9h-0.9zM63.5 61.0h0.9v0.9h-0.9zM70.7 54.9h0.9v0.9h-0.9zM116.4 26.5h0.9v0.9h-0.9zM93.8 45.1h0.9v0.9h-0.9zM69.8 55.3h0.9v0.9h-0.9zM101.9 49.2h0.9v0.9h-0.9zM100.0 48.2h0.9v0.9h-0.9zM86.5 42.5h0.9v0.9h-0.9zM89.1 60.5h0.9v0.9h-0.9zM93.4 47.2h0.9v0.9h-0.9zM111.7 68.0h0.9v0.9h-0.9zM75.2 39.5h0.9v0.9h-0.9zM76.2 51.1h0.9v0.9h-0.9zM61.3 56.6h0.9v0.9h-0.9zM96.8 45.8h0.9v0.9h-0.9zM65.1 45.5h0.9v0.9h-0.9zM74.4 52.8h0.9v0.9h-0.9zM65.9 63.8h0.9v0.9h-0.9zM70.3 59.6h0.9v0.9h-0.9zM58.7 76.4h0.9v0.9h-0.9zM53.2 59.6h0.9v0.9h-0.9zM48.2 62.7h0.9v0.9h-0.9zM100.2 51.4h0.9v0.9h-0.9zM81.4 69.4h0.9v0.9h-0.9zM83.0 66.1h0.9v0.9h-0.9zM74.8 32.5h0.9v0.9h-0.9zM67.8 30.5h0.9v0.9h-0.9zM74.8 34.9h0.9v0.9h-0.9zM93.3 24.4h0.9v0.9h-0.9zM118.0 54.2h0.9v0.9h-0.9zM60.8 43.0h0.9v0.9h-0.9zM84.9 56.9h0.9v0.9h-0.9zM109.4 64.0h0.9v0.9h-0.9zM90.3 41.7h0.9v0.9h-0.9zM87.1 58.2h0.9v0.9h-0.9zM64.3 45.9h0.9v0.9h-0.9zM105.2 29.3h0.9v0.9h-0.9zM74.4 32.4h0.9v0.9h-0.9zM74.8 48.2h0.9v0.9h-0.9zM107.2 51.6h0.9v0.9h-0.9zM87.5 59.4h0.9v0.9h-0.9zM56.6 79.5h0.9v0.9h-0.9zM81.2 68.2h0.9v0.9h-0.9zM88.0 53.0h0.9v0.9h-0.9zM85.5 45.3h0.9v0.9h-0.9zM75.3 32.2h0.9v0.9h-0.9zM78.3 90.3h0.9v0.9h-0.9zM109.5 46.5h0.9v0.9h-0.9zM112.2 34.0h0.9v0.9h-0.9zM87.6 41.8h0.9v0.9h-0.9zM92.2 56.5h0.9v0.9h-0.9z" fill="#000" fill-opacity="0.19"/>
<path d="M69.7 53.0h0.9v0.9h-0.9zM52.7 49.7h0.9v0.9h-0.9zM77.3 79.1h0.9v0.9h-0.9zM58.6 53.6h0.9v0.9h-0.9zM53.4 60.4h0.9v0.9h-0.9zM62.9 51.6h0.9v0.9h-0.9zM108.0 46.7h0.9v0.9h-0.9zM76.4 68.1h0.9v0.9h-0.9zM100.2 57.7h0.9v0.9h-0.9zM87.1 77.2h0.9v0.9h-0.9zM63.1 49.9h0.9v0.9h-0.9zM85.8 45.1h0.9v0.9h-0.9zM50.3 58.2h0.9v0.9h-0.9zM106.8 51.3h0.9v0.9h-0.9zM52.7 87.2h0.9v0.9h-0.9zM58.1 53.9h0.9v0.9h-0.9zM73.8 52.0h0.9v0.9h-0.9zM53.3 67.6h0.9v0.9h-0.9zM78.6 75.4h0.9v0.9h-0.9zM71.7 54.6h0.9v0.9h-0.9zM75.6 74.8h0.9v0.9h-0.9zM70.7 83.9h0.9v0.9h-0.9zM76.1 68.6h0.9v0.9h-0.9zM63.4 57.8h0.9v0.9h-0.9zM71.0 73.6h0.9v0.9h-0.9zM60.8 51.7h0.9v0.9h-0.9zM97.1 25.6h0.9v0.9h-0.9zM65.5 66.3h0.9v0.9h-0.9zM110.1 27.0h0.9v0.9h-0.9zM125.9 54.4h0.9v0.9h-0.9zM99.3 46.6h0.9v0.9h-0.9zM83.0 48.7h0.9v0.9h-0.9zM85.7 30.0h0.9v0.9h-0.9zM66.7 76.2h0.9v0.9h-0.9zM76.2 65.2h0.9v0.9h-0.9zM85.6 37.2h0.9v0.9h-0.9zM111.7 40.2h0.9v0.9h-0.9zM50.9 54.7h0.9v0.9h-0.9zM89.5 54.9h0.9v0.9h-0.9zM83.7 26.0h0.9v0.9h-0.9zM85.2 23.2h0.9v0.9h-0.9zM77.6 24.0h0.9v0.9h-0.9zM101.6 53.2h0.9v0.9h-0.9zM68.7 68.1h0.9v0.9h-0.9zM72.8 55.5h0.9v0.9h-0.9zM78.6 33.5h0.9v0.9h-0.9zM51.2 24.4h0.9v0.9h-0.9zM69.5 28.1h0.9v0.9h-0.9zM87.7 33.3h0.9v0.9h-0.9zM88.8 35.3h0.9v0.9h-0.9zM56.7 63.7h0.9v0.9h-0.9zM72.3 47.2h0.9v0.9h-0.9zM95.1 36.3h0.9v0.9h-0.9zM103.4 43.1h0.9v0.9h-0.9zM49.4 58.4h0.9v0.9h-0.9zM103.4 46.6h0.9v0.9h-0.9zM94.7 37.1h0.9v0.9h-0.9zM57.4 29.1h0.9v0.9h-0.9zM81.5 85.5h0.9v0.9h-0.9zM94.1 60.6h0.9v0.9h-0.9zM61.7 52.4h0.9v0.9h-0.9zM111.1 70.5h0.9v0.9h-0.9zM76.3 34.9h0.9v0.9h-0.9zM70.4 42.2h0.9v0.9h-0.9zM87.0 58.1h0.9v0.9h-0.9zM91.4 45.5h0.9v0.9h-0.9zM74.7 38.2h0.9v0.9h-0.9zM64.9 74.9h0.9v0.9h-0.9zM49.4 30.1h0.9v0.9h-0.9zM93.6 61.9h0.9v0.9h-0.9zM92.8 45.1h0.9v0.9h-0.9zM57.1 48.2h0.9v0.9h-0.9zM75.6 58.3h0.9v0.9h-0.9zM62.5 76.6h0.9v0.9h-0.9zM87.1 38.1h0.9v0.9h-0.9zM91.0 50.2h0.9v0.9h-0.9zM80.6 53.6h0.9v0.9h-0.9zM80.4 42.2h0.9v0.9h-0.9zM99.0 50.1h0.9v0.9h-0.9zM71.8 52.0h0.9v0.9h-0.9zM51.8 73.3h0.9v0.9h-0.9zM66.6 56.7h0.9v0.9h-0.9zM86.1 35.9h0.9v0.9h-0.9zM105.9 72.7h0.9v0.9h-0.9zM78.8 51.2h0.9v0.9h-0.9zM75.7 61.6h0.9v0.9h-0.9zM71.5 60.1h0.9v0.9h-0.9zM89.4 77.2h0.9v0.9h-0.9zM45.8 62.8h0.9v0.9h-0.9zM60.9 60.5h0.9v0.9h-0.9zM53.0 56.1h0.9v0.9h-0.9zM75.8 37.1h0.9v0.9h-0.9zM99.4 58.9h0.9v0.9h-0.9zM72.7 70.1h0.9v0.9h-0.9zM52.9 44.4h0.9v0.9h-0.9zM56.7 53.2h0.9v0.9h-0.9zM81.3 48.0h0.9v0.9h-0.9zM79.8 58.2h0.9v0.9h-0.9zM105.9 46.0h0.9v0.9h-0.9zM60.9 65.0h0.9v0.9h-0.9zM53.7 22.4h0.9v0.9h-0.9zM62.3 46.4h0.9v0.9h-0.9zM92.3 56.7h0.9v0.9h-0.9zM66.6 55.5h0.9v0.9h-0.9zM75.7 65.7h0.9v0.9h-0.9zM93.5 27.6h0.9v0.9h-0.9zM69.1 68.3h0.9v0.9h-0.9zM75.4 53.1h0.9v0.9h-0.9zM82.4 69.3h0.9v0.9h-0.9zM71.4 54.9h0.9v0.9h-0.9zM104.0 55.5h0.9v0.9h-0.9zM72.2 76.1h0.9v0.9h-0.9zM84.1 49.1h0.9v0.9h-0.9zM56.8 60.4h0.9v0.9h-0.9zM49.4 73.0h0.9v0.9h-0.9zM63.6 78.3h0.9v0.9h-0.9zM62.5 70.9h0.9v0.9h-0.9zM85.7 41.6h0.9v0.9h-0.9zM58.1 62.2h0.9v0.9h-0.9zM77.2 43.6h0.9v0.9h-0.9zM91.5 59.0h0.9v0.9h-0.9zM76.8 80.0h0.9v0.9h-0.9zM69.7 55.4h0.9v0.9h-0.9zM74.2 37.8h0.9v0.9h-0.9zM81.3 47.9h0.9v0.9h-0.9zM71.8 57.2h0.9v0.9h-0.9zM97.1 62.7h0.9v0.9h-0.9zM82.4 76.6h0.9v0.9h-0.9zM77.5 73.7h0.9v0.9h-0.9zM87.5 53.3h0.9v0.9h-0.9zM71.8 63.8h0.9v0.9h-0.9zM65.7 67.9h0.9v0.9h-0.9zM57.5 59.1h0.9v0.9h-0.9zM87.4 53.2h0.9v0.9h-0.9zM103.6 41.1h0.9v0.9h-0.9zM96.5 36.3h0.9v0.9h-0.9zM66.8 28.2h0.9v0.9h-0.9zM65.6 34.5h0.9v0.9h-0.9zM47.1 57.7h0.9v0.9h-0.9zM68.2 47.8h0.9v0.9h-0.9zM86.6 41.2h0.9v0.9h-0.9zM89.7 53.9h0.9v0.9h-0.9zM60.7 75.9h0.9v0.9h-0.9zM48.2 40.0h0.9v0.9h-0.9zM75.8 65.5h0.9v0.9h-0.9zM66.8 68.9h0.9v0.9h-0.9zM64.0 37.2h0.9v0.9h-0.9zM55.5 60.9h0.9v0.9h-0.9zM95.9 66.0h0.9v0.9h-0.9zM93.6 39.4h0.9v0.9h-0.9zM58.2 45.4h0.9v0.9h-0.9zM100.8 56.4h0.9v0.9h-0.9zM72.1 46.9h0.9v0.9h-0.9zM74.3 49.8h0.9v0.9h-0.9zM49.3 63.1h0.9v0.9h-0.9zM84.7 52.5h0.9v0.9h-0.9zM94.8 41.5h0.9v0.9h-0.9zM88.5 42.1h0.9v0.9h-0.9zM91.8 57.1h0.9v0.9h-0.9zM88.8 46.8h0.9v0.9h-0.9zM80.3 46.4h0.9v0.9h-0.9zM85.8 34.1h0.9v0.9h-0.9zM68.2 41.1h0.9v0.9h-0.9zM63.7 53.6h0.9v0.9h-0.9zM76.0 45.8h0.9v0.9h-0.9zM80.6 37.7h0.9v0.9h-0.9zM69.1 86.1h0.9v0.9h-0.9zM60.5 66.9h0.9v0.9h-0.9zM72.4 75.5h0.9v0.9h-0.9zM80.2 38.1h0.9v0.9h-0.9zM94.8 31.3h0.9v0.9h-0.9zM110.5 25.7h0.9v0.9h-0.9z" fill="#000" fill-opacity="0.19"/>
<path d="M88.7 36.7h0.9v0.9h-0.9zM74.4 82.1h0.9v0.9h-0.9zM50.6 38.1h0.9v0.9h-0.9zM81.5 34.2h0.9v0.9h-0.9zM105.1 52.0h0.9v0.9h-0.9zM70.2 35.7h0.9v0.9h-0.9zM67.1 63.4h0.9v0.9h-0.9zM93.1 47.0h0.9v0.9h-0.9zM47.3 65.3h0.9v0.9h-0.9zM89.4 33.0h0.9v0.9h-0.9zM81.3 71.1h0.9v0.9h-0.9zM83.1 34.2h0.9v0.9h-0.9zM66.8 56.4h0.9v0.9h-0.9zM81.2 36.7h0.9v0.9h-0.9zM94.3 45.9h0.9v0.9h-0.9zM52.3 52.8h0.9v0.9h-0.9zM86.9 36.5h0.9v0.9h-0.9zM94.0 43.4h0.9v0.9h-0.9zM104.0 47.4h0.9v0.9h-0.9zM93.0 37.3h0.9v0.9h-0.9zM70.1 66.4h0.9v0.9h-0.9zM72.9 51.3h0.9v0.9h-0.9zM83.8 39.6h0.9v0.9h-0.9zM85.9 50.4h0.9v0.9h-0.9zM75.1 33.4h0.9v0.9h-0.9zM68.5 66.7h0.9v0.9h-0.9zM68.9 49.4h0.9v0.9h-0.9zM79.9 54.1h0.9v0.9h-0.9zM49.5 82.4h0.9v0.9h-0.9zM85.0 52.3h0.9v0.9h-0.9zM84.1 46.7h0.9v0.9h-0.9zM57.4 48.3h0.9v0.9h-0.9zM54.4 54.3h0.9v0.9h-0.9zM71.7 33.0h0.9v0.9h-0.9zM74.0 37.5h0.9v0.9h-0.9zM109.7 45.5h0.9v0.9h-0.9zM54.9 38.1h0.9v0.9h-0.9zM109.5 37.6h0.9v0.9h-0.9zM52.7 27.4h0.9v0.9h-0.9zM77.3 65.8h0.9v0.9h-0.9zM75.0 32.7h0.9v0.9h-0.9zM100.8 25.0h0.9v0.9h-0.9zM45.9 74.7h0.9v0.9h-0.9zM100.1 58.8h0.9v0.9h-0.9zM68.5 51.1h0.9v0.9h-0.9zM64.3 29.5h0.9v0.9h-0.9zM68.6 64.5h0.9v0.9h-0.9zM55.3 84.7h0.9v0.9h-0.9zM117.9 69.5h0.9v0.9h-0.9zM83.4 56.7h0.9v0.9h-0.9zM84.3 52.1h0.9v0.9h-0.9zM66.0 55.7h0.9v0.9h-0.9zM70.3 37.6h0.9v0.9h-0.9zM108.7 46.0h0.9v0.9h-0.9zM108.4 62.4h0.9v0.9h-0.9zM65.1 38.6h0.9v0.9h-0.9zM68.9 44.3h0.9v0.9h-0.9zM92.1 35.6h0.9v0.9h-0.9zM88.9 45.7h0.9v0.9h-0.9zM88.3 53.2h0.9v0.9h-0.9zM58.0 47.9h0.9v0.9h-0.9zM67.5 63.4h0.9v0.9h-0.9zM74.2 75.4h0.9v0.9h-0.9zM73.1 82.1h0.9v0.9h-0.9zM46.2 72.8h0.9v0.9h-0.9zM63.7 74.4h0.9v0.9h-0.9zM74.7 41.4h0.9v0.9h-0.9zM91.4 44.3h0.9v0.9h-0.9zM82.8 47.7h0.9v0.9h-0.9zM59.7 79.9h0.9v0.9h-0.9zM105.1 34.2h0.9v0.9h-0.9zM47.7 78.4h0.9v0.9h-0.9zM84.6 32.9h0.9v0.9h-0.9zM86.8 58.9h0.9v0.9h-0.9zM61.5 43.5h0.9v0.9h-0.9zM124.5 51.3h0.9v0.9h-0.9zM60.3 47.3h0.9v0.9h-0.9zM84.2 50.8h0.9v0.9h-0.9zM85.6 53.4h0.9v0.9h-0.9zM59.0 63.4h0.9v0.9h-0.9zM96.6 54.7h0.9v0.9h-0.9zM102.8 45.2h0.9v0.9h-0.9zM77.1 37.3h0.9v0.9h-0.9zM50.7 59.2h0.9v0.9h-0.9zM97.5 28.8h0.9v0.9h-0.9zM52.1 57.1h0.9v0.9h-0.9zM73.3 49.5h0.9v0.9h-0.9zM67.8 70.4h0.9v0.9h-0.9zM55.7 59.6h0.9v0.9h-0.9zM81.6 45.7h0.9v0.9h-0.9zM50.5 63.8h0.9v0.9h-0.9zM77.4 39.2h0.9v0.9h-0.9zM92.3 33.1h0.9v0.9h-0.9zM91.1 30.6h0.9v0.9h-0.9zM85.4 51.6h0.9v0.9h-0.9zM81.4 41.0h0.9v0.9h-0.9zM74.5 64.9h0.9v0.9h-0.9zM125.5 25.3h0.9v0.9h-0.9zM78.6 53.9h0.9v0.9h-0.9zM87.6 72.2h0.9v0.9h-0.9zM96.1 53.6h0.9v0.9h-0.9zM72.7 42.9h0.9v0.9h-0.9zM75.2 56.3h0.9v0.9h-0.9zM99.2 54.0h0.9v0.9h-0.9zM116.9 49.4h0.9v0.9h-0.9zM79.0 82.7h0.9v0.9h-0.9zM72.7 45.2h0.9v0.9h-0.9zM72.0 57.5h0.9v0.9h-0.9zM100.4 44.1h0.9v0.9h-0.9zM86.6 74.4h0.9v0.9h-0.9zM69.1 83.5h0.9v0.9h-0.9zM93.6 44.0h0.9v0.9h-0.9zM65.7 40.3h0.9v0.9h-0.9zM110.0 26.4h0.9v0.9h-0.9zM93.2 28.2h0.9v0.9h-0.9zM98.1 42.2h0.9v0.9h-0.9zM88.9 37.9h0.9v0.9h-0.9zM111.4 58.9h0.9v0.9h-0.9zM64.4 69.3h0.9v0.9h-0.9zM72.1 54.3h0.9v0.9h-0.9zM111.5 58.9h0.9v0.9h-0.9zM108.1 39.8h0.9v0.9h-0.9zM58.5 63.7h0.9v0.9h-0.9zM99.5 55.7h0.9v0.9h-0.9zM84.8 42.5h0.9v0.9h-0.9zM76.6 81.9h0.9v0.9h-0.9zM66.5 60.8h0.9v0.9h-0.9zM49.2 49.7h0.9v0.9h-0.9zM64.9 35.9h0.9v0.9h-0.9zM93.5 42.7h0.9v0.9h-0.9zM49.1 65.3h0.9v0.9h-0.9zM101.6 37.8h0.9v0.9h-0.9zM48.0 28.5h0.9v0.9h-0.9zM56.9 43.6h0.9v0.9h-0.9zM67.9 55.2h0.9v0.9h-0.9zM83.2 53.4h0.9v0.9h-0.9zM70.8 82.1h0.9v0.9h-0.9zM91.0 33.4h0.9v0.9h-0.9zM56.1 49.9h0.9v0.9h-0.9zM84.9 52.2h0.9v0.9h-0.9zM91.1 44.6h0.9v0.9h-0.9zM51.3 72.2h0.9v0.9h-0.9zM106.3 49.6h0.9v0.9h-0.9zM68.9 52.0h0.9v0.9h-0.9zM109.2 33.4h0.9v0.9h-0.9zM103.1 34.5h0.9v0.9h-0.9zM87.4 48.6h0.9v0.9h-0.9zM55.0 40.0h0.9v0.9h-0.9zM87.6 71.8h0.9v0.9h-0.9zM70.7 32.9h0.9v0.9h-0.9zM95.6 52.0h0.9v0.9h-0.9zM81.1 58.4h0.9v0.9h-0.9zM68.6 28.9h0.9v0.9h-0.9zM80.7 65.1h0.9v0.9h-0.9zM76.2 41.8h0.9v0.9h-0.9zM91.0 52.2h0.9v0.9h-0.9zM113.6 32.6h0.9v0.9h-0.9zM106.4 27.3h0.9v0.9h-0.9zM85.8 55.9h0.9v0.9h-0.9zM75.1 50.8h0.9v0.9h-0.9zM75.4 51.8h0.9v0.9h-0.9zM102.2 33.4h0.9v0.9h-0.9zM56.1 47.3h0.9v0.9h-0.9zM90.1 60.2h0.9v0.9h-0.9zM52.0 74.1h0.9v0.9h-0.9zM71.3 51.8h0.9v0.9h-0.9zM112.6 42.9h0.9v0.9h-0.9zM116.0 61.2h0.9v0.9h-0.9zM96.6 43.4h0.9v0.9h-0.9zM76.4 47.3h0.9v0.9h-0.9zM50.5 29.2h0.9v0.9h-0.9zM123.2 43.8h0.9v0.9h-0.9zM76.3 58.4h0.9v0.9h-0.9zM92.6 26.7h0.9v0.9h-0.9zM73.1 37.7h0.9v0.9h-0.9z" fill="#000" fill-opacity="0.19"/>
<path d="M90.2 78.8h0.9v0.9h-0.9zM63.7 84.8h0.9v0.9h-0.9zM59.0 60.5h0.9v0.9h-0.9zM67.8 34.2h0.9v0.9h-0.9zM47.2 90.5h0.9v0.9h-0.9zM99.7 44.3h0.9v0.9h-0.9zM61.5 45.6h0.9v0.9h-0.9zM99.9 44.6h0.9v0.9h-0.9zM123.5 27.4h0.9v0.9h-0.9zM55.2 91.7h0.9v0.9h-0.9zM107.7 26.8h0.9v0.9h-0.9zM86.8 24.3h0.9v0.9h-0.9zM92.5 56.2h0.9v0.9h-0.9zM82.5 28.3h0.9v0.9h-0.9zM53.4 39.0h0.9v0.9h-0.9zM66.1 32.5h0.9v0.9h-0.9zM71.8 46.2h0.9v0.9h-0.9zM111.6 26.6h0.9v0.9h-0.9zM96.5 53.1h0.9v0.9h-0.9zM112.3 58.4h0.9v0.9h-0.9zM79.2 60.8h0.9v0.9h-0.9zM82.6 68.0h0.9v0.9h-0.9zM97.6 38.9h0.9v0.9h-0.9zM88.8 77.7h0.9v0.9h-0.9zM112.2 40.5h0.9v0.9h-0.9zM69.4 71.6h0.9v0.9h-0.9zM99.3 27.1h0.9v0.9h-0.9zM91.0 47.8h0.9v0.9h-0.9zM66.8 73.0h0.9v0.9h-0.9zM75.2 41.2h0.9v0.9h-0.9zM63.4 39.9h0.9v0.9h-0.9zM110.8 31.1h0.9v0.9h-0.9zM76.3 44.1h0.9v0.9h-0.9zM75.9 65.5h0.9v0.9h-0.9zM66.9 67.9h0.9v0.9h-0.9zM65.3 80.4h0.9v0.9h-0.9zM110.1 50.9h0.9v0.9h-0.9zM104.1 47.1h0.9v0.9h-0.9zM64.5 45.5h0.9v0.9h-0.9zM73.1 59.4h0.9v0.9h-0.9zM92.7 49.5h0.9v0.9h-0.9zM69.3 84.6h0.9v0.9h-0.9zM60.7 33.5h0.9v0.9h-0.9zM96.2 44.8h0.9v0.9h-0.9zM80.5 49.5h0.9v0.9h-0.9zM110.3 66.3h0.9v0.9h-0.9zM71.4 63.8h0.9v0.9h-0.9zM59.0 59.3h0.9v0.9h-0.9zM66.9 26.5h0.9v0.9h-0.9zM114.7 41.2h0.9v0.9h-0.9zM107.4 53.2h0.9v0.9h-0.9zM73.9 63.2h0.9v0.9h-0.9zM122.8 46.1h0.9v0.9h-0.9zM80.5 42.0h0.9v0.9h-0.9zM92.9 66.8h0.9v0.9h-0.9zM87.3 32.6h0.9v0.9h-0.9zM98.2 51.8h0.9v0.9h-0.9zM53.2 54.6h0.9v0.9h-0.9zM79.2 55.0h0.9v0.9h-0.9zM96.2 32.8h0.9v0.9h-0.9zM98.5 60.4h0.9v0.9h-0.9zM64.5 62.2h0.9v0.9h-0.9zM106.8 55.9h0.9v0.9h-0.9zM113.6 46.0h0.9v0.9h-0.9zM61.7 68.1h0.9v0.9h-0.9zM61.5 41.5h0.9v0.9h-0.9zM57.2 44.7h0.9v0.9h-0.9zM76.2 57.5h0.9v0.9h-0.9zM79.1 55.1h0.9v0.9h-0.9zM58.0 32.0h0.9v0.9h-0.9zM80.5 40.0h0.9v0.9h-0.9zM72.1 51.2h0.9v0.9h-0.9zM83.9 59.2h0.9v0.9h-0.9zM60.1 75.9h0.9v0.9h-0.9zM66.7 33.5h0.9v0.9h-0.9zM75.4 63.7h0.9v0.9h-0.9zM86.1 35.0h0.9v0.9h-0.9zM78.7 85.8h0.9v0.9h-0.9zM65.0 48.6h0.9v0.9h-0.9zM65.4 45.1h0.9v0.9h-0.9zM54.8 54.6h0.9v0.9h-0.9zM82.7 68.0h0.9v0.9h-0.9zM70.5 50.9h0.9v0.9h-0.9zM71.5 28.3h0.9v0.9h-0.9zM62.7 52.5h0.9v0.9h-0.9zM102.0 25.8h0.9v0.9h-0.9zM119.3 30.0h0.9v0.9h-0.9zM81.1 31.7h0.9v0.9h-0.9zM72.8 41.9h0.9v0.9h-0.9zM55.4 78.7h0.9v0.9h-0.9zM86.8 52.8h0.9v0.9h-0.9zM74.9 59.2h0.9v0.9h-0.9zM70.9 69.9h0.9v0.9h-0.9zM90.3 45.2h0.9v0.9h-0.9zM60.7 55.5h0.9v0.9h-0.9zM105.0 47.7h0.9v0.9h-0.9zM105.4 28.7h0.9v0.9h-0.9zM56.8 85.1h0.9v0.9h-0.9zM87.9 57.0h0.9v0.9h-0.9zM55.9 42.7h0.9v0.9h-0.9zM89.5 38.6h0.9v0.9h-0.9zM76.0 79.7h0.9v0.9h-0.9zM71.6 41.6h0.9v0.9h-0.9zM107.5 55.6h0.9v0.9h-0.9zM95.9 46.8h0.9v0.9h-0.9zM80.3 88.6h0.9v0.9h-0.9zM74.1 26.1h0.9v0.9h-0.9zM68.0 25.1h0.9v0.9h-0.9zM90.0 41.1h0.9v0.9h-0.9zM97.8 27.9h0.9v0.9h-0.9zM56.7 31.2h0.9v0.9h-0.9zM66.8 54.9h0.9v0.9h-0.9zM99.5 48.8h0.9v0.9h-0.9zM82.2 56.3h0.9v0.9h-0.9zM77.7 46.1h0.9v0.9h-0.9zM46.6 90.8h0.9v0.9h-0.9zM115.9 29.2h0.9v0.9h-0.9zM81.0 47.8h0.9v0.9h-0.9zM68.1 76.9h0.9v0.9h-0.9zM101.4 44.6h0.9v0.9h-0.9zM56.5 39.6h0.9v0.9h-0.9zM78.4 52.6h0.9v0.9h-0.9zM73.5 45.8h0.9v0.9h-0.9zM98.6 44.0h0.9v0.9h-0.9zM78.1 64.0h0.9v0.9h-0.9zM76.7 57.5h0.9v0.9h-0.9zM79.1 63.2h0.9v0.9h-0.9zM93.2 68.7h0.9v0.9h-0.9zM85.8 33.3h0.9v0.9h-0.9zM71.4 34.7h0.9v0.9h-0.9zM81.3 54.1h0.9v0.9h-0.9zM57.7 67.9h0.9v0.9h-0.9zM47.3 64.4h0.9v0.9h-0.9zM80.3 42.7h0.9v0.9h-0.9zM89.6 29.9h0.9v0.9h-0.9zM102.8 46.8h0.9v0.9h-0.9zM55.9 67.7h0.9v0.9h-0.9zM78.1 52.8h0.9v0.9h-0.9zM86.2 54.9h0.9v0.9h-0.9zM90.4 45.5h0.9v0.9h-0.9zM84.8 29.9h0.9v0.9h-0.9zM102.2 40.7h0.9v0.9h-0.9zM86.1 57.9h0.9v0.9h-0.9zM79.4 90.0h0.9v0.9h-0.9zM67.7 29.8h0.9v0.9h-0.9zM63.6 71.9h0.9v0.9h-0.9zM63.2 46.4h0.9v0.9h-0.9zM94.6 31.5h0.9v0.9h-0.9zM77.2 63.4h0.9v0.9h-0.9zM105.1 31.8h0.9v0.9h-0.9zM101.2 65.8h0.9v0.9h-0.9zM83.7 45.7h0.9v0.9h-0.9zM66.4 35.4h0.9v0.9h-0.9zM109.1 39.3h0.9v0.9h-0.9zM80.2 60.9h0.9v0.9h-0.9zM49.4 41.2h0.9v0.9h-0.9zM86.6 49.4h0.9v0.9h-0.9zM82.7 75.2h0.9v0.9h-0.9zM99.3 67.7h0.9v0.9h-0.9zM93.1 61.1h0.9v0.9h-0.9zM97.2 62.3h0.9v0.9h-0.9zM66.1 75.9h0.9v0.9h-0.9zM51.4 56.3h0.9v0.9h-0.9zM62.9 46.9h0.9v0.9h-0.9zM70.4 70.7h0.9v0.9h-0.9zM94.7 42.7h0.9v0.9h-0.9zM93.0 30.5h0.9v0.9h-0.9zM70.1 70.5h0.9v0.9h-0.9zM108.4 54.7h0.9v0.9h-0.9zM76.6 42.9h0.9v0.9h-0.9zM91.7 37.7h0.9v0.9h-0.9zM107.3 36.7h0.9v0.9h-0.9z" fill="#000" fill-opacity="0.19"/>
<path d="M112.4 44.7h0.9v0.9h-0.9zM102.4 34.6h0.9v0.9h-0.9zM94.0 64.5h0.9v0.9h-0.9zM83.9 59.4h0.9v0.9h-0.9zM90.8 52.3h0.9v0.9h-0.9zM58.8 52.4h0.9v0.9h-0.9zM82.3 50.0h0.9v0.9h-0.9zM65.8 66.0h0.9v0.9h-0.9zM61.7 48.1h0.9v0.9h-0.9zM63.4 50.4h0.9v0.9h-0.9zM60.0 90.0h0.9v0.9h-0.9zM94.8 35.0h0.9v0.9h-0.9zM87.7 51.9h0.9v0.9h-0.9zM71.5 29.6h0.9v0.9h-0.9zM63.7 77.2h0.9v0.9h-0.9zM68.5 77.0h0.9v0.9h-0.9zM61.1 88.0h0.9v0.9h-0.9zM73.5 41.6h0.9v0.9h-0.9zM84.0 77.5h0.9v0.9h-0.9zM102.4 54.0h0.9v0.9h-0.9zM89.2 48.8h0.9v0.9h-0.9zM70.4 64.9h0.9v0.9h-0.9zM73.5 41.0h0.9v0.9h-0.9zM50.5 71.6h0.9v0.9h-0.9zM71.7 24.8h0.9v0.9h-0.9zM77.6 57.6h0.9v0.9h-0.9zM82.7 84.5h0.9v0.9h-0.9zM101.0 66.7h0.9v0.9h-0.9zM67.2 71.1h0.9v0.9h-0.9zM62.5 31.4h0.9v0.9h-0.9zM92.5 60.1h0.9v0.9h-0.9zM122.7 51.7h0.9v0.9h-0.9zM57.2 29.8h0.9v0.9h-0.9zM109.2 57.3h0.9v0.9h-0.9zM80.0 72.5h0.9v0.9h-0.9zM62.5 28.5h0.9v0.9h-0.9zM56.7 43.1h0.9v0.9h-0.9zM92.5 61.9h0.9v0.9h-0.9zM80.6 43.4h0.9v0.9h-0.9zM80.1 68.7h0.9v0.9h-0.9zM74.8 47.5h0.9v0.9h-0.9zM84.7 43.2h0.9v0.9h-0.9zM89.6 46.0h0.9v0.9h-0.9zM96.5 29.7h0.9v0.9h-0.9zM87.9 54.1h0.9v0.9h-0.9zM75.6 48.1h0.9v0.9h-0.9zM51.6 73.5h0.9v0.9h-0.9zM70.5 77.7h0.9v0.9h-0.9zM83.0 92.6h0.9v0.9h-0.9zM93.5 59.4h0.9v0.9h-0.9zM115.5 68.7h0.9v0.9h-0.9zM85.1 81.0h0.9v0.9h-0.9zM119.2 39.1h0.9v0.9h-0.9zM67.2 48.5h0.9v0.9h-0.9zM74.9 55.5h0.9v0.9h-0.9zM87.1 36.8h0.9v0.9h-0.9zM77.6 44.2h0.9v0.9h-0.9zM72.6 26.8h0.9v0.9h-0.9zM72.3 45.8h0.9v0.9h-0.9zM64.9 64.5h0.9v0.9h-0.9zM78.0 25.7h0.9v0.9h-0.9zM69.6 51.4h0.9v0.9h-0.9zM117.3 34.8h0.9v0.9h-0.9zM46.2 77.3h0.9v0.9h-0.9zM76.5 64.1h0.9v0.9h-0.9zM67.6 59.0h0.9v0.9h-0.9zM66.3 42.8h0.9v0.9h-0.9zM67.8 27.3h0.9v0.9h-0.9zM104.5 80.5h0.9v0.9h-0.9zM79.8 81.8h0.9v0.9h-0.9zM61.2 44.8h0.9v0.9h-0.9zM81.8 36.7h0.9v0.9h-0.9zM55.8 53.9h0.9v0.9h-0.9zM102.9 63.1h0.9v0.9h-0.9zM75.3 35.9h0.9v0.9h-0.9zM76.8 46.3h0.9v0.9h-0.9zM82.6 50.2h0.9v0.9h-0.9zM74.8 60.2h0.9v0.9h-0.9zM63.7 35.0h0.9v0.9h-0.9zM61.6 77.7h0.9v0.9h-0.9zM80.0 56.9h0.9v0.9h-0.9zM64.3 79.1h0.9v0.9h-0.9zM112.6 36.3h0.9v0.9h-0.9zM57.7 51.4h0.9v0.9h-0.9zM76.9 68.0h0.9v0.9h-0.9zM64.1 55.2h0.9v0.9h-0.9zM91.2 55.6h0.9v0.9h-0.9zM99.4 42.3h0.9v0.9h-0.9zM75.6 35.3h0.9v0.9h-0.9zM107.3 53.4h0.9v0.9h-0.9zM69.4 60.3h0.9v0.9h-0.9zM85.4 26.8h0.9v0.9h-0.9zM58.3 53.5h0.9v0.9h-0.9zM106.6 53.5h0.9v0.9h-0.9zM106.2 36.1h0.9v0.9h-0.9zM57.4 59.3h0.9v0.9h-0.9zM78.0 25.5h0.9v0.9h-0.9zM74.9 29.2h0.9v0.9h-0.9zM70.9 56.7h0.9v0.9h-0.9zM80.1 26.2h0.9v0.9h-0.9zM67.9 72.4h0.9v0.9h-0.9zM52.5 68.7h0.9v0.9h-0.9zM92.4 35.5h0.9v0.9h-0.9zM87.8 41.3h0.9v0.9h-0.9zM89.1 45.8h0.9v0.9h-0.9zM76.4 51.4h0.9v0.9h-0.9zM81.9 40.1h0.9v0.9h-0.9zM73.6 54.2h0.9v0.9h-0.9zM114.2 53.3h0.9v0.9h-0.9zM77.7 70.6h0.9v0.9h-0.9zM56.9 53.4h0.9v0.9h-0.9zM72.1 47.3h0.9v0.9h-0.9zM76.7 62.3h0.9v0.9h-0.9zM83.1 39.9h0.9v0.9h-0.9zM82.1 37.1h0.9v0.9h-0.9zM124.2 42.6h0.9v0.9h-0.9zM118.0 62.1h0.9v0.9h-0.9zM72.2 30.2h0.9v0.9h-0.9zM105.4 38.3h0.9v0.9h-0.9zM56.8 62.7h0.9v0.9h-0.9zM70.2 77.3h0.9v0.9h-0.9zM60.8 62.1h0.9v0.9h-0.9zM100.9 49.6h0.9v0.9h-0.9zM115.3 59.7h0.9v0.9h-0.9zM59.0 47.5h0.9v0.9h-0.9zM58.2 23.9h0.9v0.9h-0.9zM94.9 65.3h0.9v0.9h-0.9zM86.1 38.7h0.9v0.9h-0.9zM113.1 27.1h0.9v0.9h-0.9zM82.6 65.2h0.9v0.9h-0.9zM101.2 46.6h0.9v0.9h-0.9zM73.5 44.9h0.9v0.9h-0.9zM89.2 24.7h0.9v0.9h-0.9zM66.7 75.0h0.9v0.9h-0.9zM71.8 51.3h0.9v0.9h-0.9zM73.2 43.4h0.9v0.9h-0.9zM97.8 32.8h0.9v0.9h-0.9zM99.9 58.6h0.9v0.9h-0.9zM68.3 46.6h0.9v0.9h-0.9zM64.3 56.5h0.9v0.9h-0.9zM88.6 34.2h0.9v0.9h-0.9zM103.2 42.3h0.9v0.9h-0.9zM82.7 36.7h0.9v0.9h-0.9zM71.7 51.6h0.9v0.9h-0.9zM61.0 26.3h0.9v0.9h-0.9zM97.0 31.0h0.9v0.9h-0.9zM63.0 41.1h0.9v0.9h-0.9zM74.8 65.4h0.9v0.9h-0.9zM47.8 79.7h0.9v0.9h-0.9zM107.6 41.7h0.9v0.9h-0.9zM91.3 56.9h0.9v0.9h-0.9zM81.6 82.2h0.9v0.9h-0.9zM81.9 70.4h0.9v0.9h-0.9zM57.9 55.1h0.9v0.9h-0.9zM94.0 32.3h0.9v0.9h-0.9zM62.1 37.5h0.9v0.9h-0.9zM70.1 72.1h0.9v0.9h-0.9zM77.7 61.5h0.9v0.9h-0.9zM46.0 54.7h0.9v0.9h-0.9zM53.8 90.0h0.9v0.9h-0.9zM125.7 71.0h0.9v0.9h-0.9zM81.9 45.8h0.9v0.9h-0.9zM104.0 59.4h0.9v0.9h-0.9zM69.1 75.2h0.9v0.9h-0.9zM95.2 30.2h0.9v0.9h-0.9zM80.6 47.0h0.9v0.9h-0.9zM88.7 32.7h0.9v0.9h-0.9zM69.6 78.3h0.9v0.9h-0.9zM57.7 65.8h0.9v0.9h-0.9zM120.7 35.7h0.9v0.9h-0.9zM101.9 56.8h0.9v0.9h-0.9zM111.1 68.7h0.9v0.9h-0.9zM94.1 49.8h0.9v0.9h-0.9zM66.5 52.8h0.9v0.9h-0.9zM52.2 61.8h0.9v0.9h-0.9zM107.2 54.1h0.9v0.9h-0.9zM59.9 65.5h0.9v0.9h-0.9zM64.6 59.0h0.9v0.9h-0.9zM61.6 48.8h0.9v0.9h-0.9z" fill="#000" fill-opacity="0.19"/>
<path d="M75.6 34.6h0.9v0.9h-0.9zM72.5 43.3h0.9v0.9h-0.9zM103.9 60.4h0.9v0.9h-0.9zM76.4 63.0h0.9v0.9h-0.9zM84.3 43.8h0.9v0.9h-0.9zM62.9 41.4h0.9v0.9h-0.9zM77.4 34.0h0.9v0.9h-0.9zM86.3 50.9h0.9v0.9h-0.9zM81.0 57.3h0.9v0.9h-0.9zM65.2 77.2h0.9v0.9h-0.9zM78.9 28.2h0.9v0.9h-0.9zM98.7 52.5h0.9v0.9h-0.9zM71.1 63.3h0.9v0.9h-0.9zM53.2 41.0h0.9v0.9h-0.9zM77.5 29.6h0.9v0.9h-0.9zM56.9 84.1h0.9v0.9h-0.9zM99.0 61.6h0.9v0.9h-0.9zM87.7 54.5h0.9v0.9h-0.9zM70.8 52.0h0.9v0.9h-0.9zM117.2 39.6h0.9v0.9h-0.9zM77.9 61.7h0.9v0.9h-0.9zM87.9 52.4h0.9v0.9h-0.9zM60.7 64.6h0.9v0.9h-0.9zM84.6 37.6h0.9v0.9h-0.9zM97.6 36.4h0.9v0.9h-0.9zM71.1 35.3h0.9v0.9h-0.9zM107.5 58.7h0.9v0.9h-0.9zM106.4 26.5h0.9v0.9h-0.9zM82.4 27.4h0.9v0.9h-0.9zM48.9 47.4h0.9v0.9h-0.9zM53.0 28.6h0.9v0.9h-0.9zM95.6 57.3h0.9v0.9h-0.9zM88.5 64.4h0.9v0.9h-0.9zM59.1 56.8h0.9v0.9h-0.9zM78.0 56.9h0.9v0.9h-0.9zM67.7 52.9h0.9v0.9h-0.9zM95.4 57.0h0.9v0.9h-0.9zM76.4 45.1h0.9v0.9h-0.9zM116.8 29.7h0.9v0.9h-0.9zM77.7 65.4h0.9v0.9h-0.9zM72.7 67.3h0.9v0.9h-0.9zM121.1 28.4h0.9v0.9h-0.9zM67.7 40.1h0.9v0.9h-0.9zM81.9 40.9h0.9v0.9h-0.9zM61.6 43.0h0.9v0.9h-0.9zM88.7 38.1h0.9v0.9h-0.9zM114.9 39.0h0.9v0.9h-0.9zM81.8 54.5h0.9v0.9h-0.9zM69.6 41.1h0.9v0.9h-0.9zM107.8 30.2h0.9v0.9h-0.9zM111.4 53.9h0.9v0.9h-0.9zM123.2 45.6h0.9v0.9h-0.9zM67.5 33.5h0.9v0.9h-0.9zM80.8 49.5h0.9v0.9h-0.9zM47.4 59.9h0.9v0.9h-0.9zM74.6 58.2h0.9v0.9h-0.9zM78.2 66.5h0.9v0.9h-0.9zM102.6 36.4h0.9v0.9h-0.9zM62.0 77.8h0.9v0.9h-0.9zM84.9 33.8h0.9v0.9h-0.9zM62.5 53.7h0.9v0.9h-0.9zM49.3 54.9h0.9v0.9h-0.9zM61.5 42.0h0.9v0.9h-0.9zM85.4 51.5h0.9v0.9h-0.9zM89.1 55.8h0.9v0.9h-0.9zM71.7 59.7h0.9v0.9h-0.9zM84.4 39.7h0.9v0.9h-0.9zM66.4 32.8h0.9v0.9h-0.9zM105.9 28.8h0.9v0.9h-0.9zM94.3 41.7h0.9v0.9h-0.9zM66.4 27.4h0.9v0.9h-0.9zM78.8 73.4h0.9v0.9h-0.9zM77.2 61.6h0.9v0.9h-0.9zM70.1 65.7h0.9v0.9h-0.9zM107.7 25.6h0.9v0.9h-0.9zM72.7 74.0h0.9v0.9h-0.9zM71.1 63.4h0.9v0.9h-0.9zM118.7 59.5h0.9v0.9h-0.9zM114.0 35.6h0.9v0.9h-0.9zM87.3 37.3h0.9v0.9h-0.9zM77.5 88.1h0.9v0.9h-0.9zM87.9 57.0h0.9v0.9h-0.9zM53.6 65.8h0.9v0.9h-0.9zM89.7 52.2h0.9v0.9h-0.9zM110.4 36.4h0.9v0.9h-0.9zM92.5 37.7h0.9v0.9h-0.9zM107.2 33.1h0.9v0.9h-0.9zM53.1 60.8h0.9v0.9h-0.9zM74.4 46.0h0.9v0.9h-0.9zM56.7 70.2h0.9v0.9h-0.9zM50.7 83.4h0.9v0.9h-0.9zM91.2 38.1h0.9v0.9h-0.9zM79.1 52.0h0.9v0.9h-0.9zM87.1 61.3h0.9v0.9h-0.9zM82.7 63.9h0.9v0.9h-0.9zM70.2 32.8h0.9v0.9h-0.9zM63.3 39.2h0.9v0.9h-0.9zM55.6 77.4h0.9v0.9h-0.9zM82.1 36.2h0.9v0.9h-0.9zM87.8 25.3h0.9v0.9h-0.9zM100.1 76.1h0.9v0.9h-0.9zM78.0 34.8h0.9v0.9h-0.9zM51.8 75.4h0.9v0.9h-0.9zM59.3 77.4h0.9v0.9h-0.9zM64.5 62.1h0.9v0.9h-0.9zM63.9 80.0h0.9v0.9h-0.9zM63.6 66.0h0.9v0.9h-0.9zM95.7 52.8h0.9v0.9h-0.9zM84.8 33.9h0.9v0.9h-0.9zM89.4 35.9h0.9v0.9h-0.9zM101.1 41.3h0.9v0.9h-0.9zM74.6 53.1h0.9v0.9h-0.9zM73.8 33.5h0.9v0.9h-0.9zM57.8 58.3h0.9v0.9h-0.9zM92.0 48.2h0.9v0.9h-0.9zM72.3 43.5h0.9v0.9h-0.9zM59.5 47.0h0.9v0.9h-0.9zM75.2 47.0h0.9v0.9h-0.9zM85.8 24.0h0.9v0.9h-0.9zM107.9 56.3h0.9v0.9h-0.9zM117.5 35.8h0.9v0.9h-0.9zM117.1 29.8h0.9v0.9h-0.9zM95.8 30.7h0.9v0.9h-0.9zM107.3 53.8h0.9v0.9h-0.9zM105.7 61.5h0.9v0.9h-0.9zM106.9 40.5h0.9v0.9h-0.9zM58.3 34.0h0.9v0.9h-0.9zM85.7 35.4h0.9v0.9h-0.9zM76.8 56.1h0.9v0.9h-0.9zM74.4 53.5h0.9v0.9h-0.9zM85.7 48.7h0.9v0.9h-0.9zM74.4 68.3h0.9v0.9h-0.9zM101.1 49.2h0.9v0.9h-0.9zM95.8 59.6h0.9v0.9h-0.9zM63.6 53.6h0.9v0.9h-0.9zM82.1 46.8h0.9v0.9h-0.9zM96.8 49.7h0.9v0.9h-0.9zM68.4 65.4h0.9v0.9h-0.9zM60.6 85.0h0.9v0.9h-0.9zM79.6 39.1h0.9v0.9h-0.9zM99.5 55.0h0.9v0.9h-0.9zM84.7 42.8h0.9v0.9h-0.9zM67.7 50.6h0.9v0.9h-0.9zM68.9 36.5h0.9v0.9h-0.9zM66.8 51.4h0.9v0.9h-0.9zM103.1 66.6h0.9v0.9h-0.9zM60.0 56.2h0.9v0.9h-0.9zM111.7 58.8h0.9v0.9h-0.9zM77.5 40.2h0.9v0.9h-0.9zM59.6 48.9h0.9v0.9h-0.9zM65.0 46.8h0.9v0.9h-0.9zM97.3 31.8h0.9v0.9h-0.9zM75.3 35.2h0.9v0.9h-0.9zM88.8 41.3h0.9v0.9h-0.9zM63.1 41.6h0.9v0.9h-0.9zM86.5 49.0h0.9v0.9h-0.9zM78.5 26.8h0.9v0.9h-0.9zM81.1 41.8h0.9v0.9h-0.9zM105.3 39.7h0.9v0.9h-0.9zM48.0 71.2h0.9v0.9h-0.9zM70.8 27.4h0.9v0.9h-0.9zM61.7 51.3h0.9v0.9h-0.9zM97.0 39.1h0.9v0.9h-0.9zM63.9 48.8h0.9v0.9h-0.9zM73.8 57.3h0.9v0.9h-0.9zM88.5 25.6h0.9v0.9h-0.9zM66.8 52.7h0.9v0.9h-0.9zM73.4 67.9h0.9v0.9h-0.9zM71.9 40.2h0.9v0.9h-0.9zM101.5 47.2h0.9v0.9h-0.9zM46.2 76.6h0.9v0.9h-0.9zM68.5 61.2h0.9v0.9h-0.9zM89.0 58.5h0.9v0.9h-0.9zM94.0 52.9h0.9v0.9h-0.9zM56.1 69.3h0.9v0.9h-0.9z" fill="#000" fill-opacity="0.19"/>
<path d="M89.8 46.5h0.9v0.9h-0.9zM83.7 61.8h0.9v0.9h-0.9zM85.7 38.5h0.9v0.9h-0.9zM94.1 65.5h0.9v0.9h-0.9zM124.4 54.2h0.9v0.9h-0.9zM59.3 66.0h0.9v0.9h-0.9zM54.9 65.4h0.9v0.9h-0.9zM56.7 93.7h0.9v0.9h-0.9zM94.4 56.3h0.9v0.9h-0.9zM79.0 85.6h0.9v0.9h-0.9zM72.6 59.6h0.9v0.9h-0.9zM84.8 28.2h0.9v0.9h-0.9zM76.2 59.7h0.9v0.9h-0.9zM50.7 68.2h0.9v0.9h-0.9zM47.5 56.3h0.9v0.9h-0.9zM53.3 55.5h0.9v0.9h-0.9zM83.1 46.6h0.9v0.9h-0.9zM73.0 39.0h0.9v0.9h-0.9zM73.5 39.0h0.9v0.9h-0.9zM64.6 63.5h0.9v0.9h-0.9zM73.7 84.4h0.9v0.9h-0.9zM102.6 54.0h0.9v0.9h-0.9zM69.6 49.0h0.9v0.9h-0.9zM111.6 52.6h0.9v0.9h-0.9zM106.6 48.9h0.9v0.9h-0.9zM109.0 26.6h0.9v0.9h-0.9zM101.9 63.6h0.9v0.9h-0.9zM76.1 56.3h0.9v0.9h-0.9zM89.7 56.4h0.9v0.9h-0.9zM75.7 38.2h0.9v0.9h-0.9zM70.6 41.2h0.9v0.9h-0.9zM72.0 55.1h0.9v0.9h-0.9zM88.4 60.0h0.9v0.9h-0.9zM48.0 48.5h0.9v0.9h-0.9zM72.5 49.8h0.9v0.9h-0.9zM66.1 38.3h0.9v0.9h-0.9zM76.9 77.9h0.9v0.9h-0.9zM54.5 59.2h0.9v0.9h-0.9zM69.4 76.3h0.9v0.9h-0.9zM81.9 44.7h0.9v0.9h-0.9zM96.1 59.1h0.9v0.9h-0.9zM78.6 52.5h0.9v0.9h-0.9zM71.8 52.4h0.9v0.9h-0.9zM79.8 69.0h0.9v0.9h-0.9zM59.5 40.8h0.9v0.9h-0.9zM88.4 46.7h0.9v0.9h-0.9zM117.2 42.6h0.9v0.9h-0.9zM113.1 59.1h0.9v0.9h-0.9zM61.5 36.0h0.9v0.9h-0.9zM116.0 36.8h0.9v0.9h-0.9zM125.3 35.0h0.9v0.9h-0.9zM111.3 58.2h0.9v0.9h-0.9zM80.4 47.7h0.9v0.9h-0.9zM118.9 38.1h0.9v0.9h-0.9zM107.5 55.0h0.9v0.9h-0.9zM60.0 67.0h0.9v0.9h-0.9zM64.6 90.5h0.9v0.9h-0.9zM65.6 42.9h0.9v0.9h-0.9zM64.6 70.0h0.9v0.9h-0.9zM89.7 30.9h0.9v0.9h-0.9zM68.9 59.6h0.9v0.9h-0.9zM75.1 36.2h0.9v0.9h-0.9zM54.0 36.5h0.9v0.9h-0.9zM92.7 37.8h0.9v0.9h-0.9zM76.9 68.3h0.9v0.9h-0.9zM83.1 55.6h0.9v0.9h-0.9zM75.5 47.8h0.9v0.9h-0.9zM70.7 64.3h0.9v0.9h-0.9zM80.4 68.2h0.9v0.9h-0.9zM54.9 64.5h0.9v0.9h-0.9zM97.9 24.5h0.9v0.9h-0.9zM111.6 59.4h0.9v0.9h-0.9zM57.6 37.4h0.9v0.9h-0.9zM81.6 40.4h0.9v0.9h-0.9zM71.6 44.8h0.9v0.9h-0.9zM117.9 45.4h0.9v0.9h-0.9zM64.3 87.0h0.9v0.9h-0.9zM105.7 61.1h0.9v0.9h-0.9zM56.3 73.8h0.9v0.9h-0.9zM83.0 68.5h0.9v0.9h-0.9zM64.8 36.2h0.9v0.9h-0.9zM51.5 69.3h0.9v0.9h-0.9zM104.3 43.5h0.9v0.9h-0.9zM92.7 28.1h0.9v0.9h-0.9zM77.8 32.6h0.9v0.9h-0.9zM80.0 69.3h0.9v0.9h-0.9zM73.2 47.7h0.9v0.9h-0.9zM59.4 72.2h0.9v0.9h-0.9zM90.8 43.6h0.9v0.9h-0.9zM60.9 44.2h0.9v0.9h-0.9zM108.9 58.0h0.9v0.9h-0.9zM80.2 69.0h0.9v0.9h-0.9zM46.7 76.6h0.9v0.9h-0.9zM83.7 64.4h0.9v0.9h-0.9zM57.3 87.8h0.9v0.9h-0.9zM74.5 80.0h0.9v0.9h-0.9zM62.9 67.7h0.9v0.9h-0.9zM65.0 67.3h0.9v0.9h-0.9zM56.3 54.8h0.9v0.9h-0.9zM64.6 73.1h0.9v0.9h-0.9zM73.5 58.5h0.9v0.9h-0.9zM63.0 66.3h0.9v0.9h-0.9zM59.3 38.4h0.9v0.9h-0.9zM101.5 48.5h0.9v0.9h-0.9zM94.9 52.9h0.9v0.9h-0.9zM81.5 75.2h0.9v0.9h-0.9zM79.1 68.7h0.9v0.9h-0.9zM70.4 49.7h0.9v0.9h-0.9zM85.2 28.7h0.9v0.9h-0.9zM76.2 57.1h0.9v0.9h-0.9zM78.0 55.8h0.9v0.9h-0.9zM100.2 53.8h0.9v0.9h-0.9zM88.0 33.0h0.9v0.9h-0.9zM64.3 61.9h0.9v0.9h-0.9zM124.8 53.6h0.9v0.9h-0.9zM110.3 48.2h0.9v0.9h-0.9zM102.4 66.9h0.9v0.9h-0.9zM53.9 37.6h0.9v0.9h-0.9zM60.7 57.1h0.9v0.9h-0.9zM86.2 43.1h0.9v0.9h-0.9zM112.0 38.1h0.9v0.9h-0.9zM105.9 52.7h0.9v0.9h-0.9zM74.3 46.5h0.9v0.9h-0.9zM102.0 63.2h0.9v0.9h-0.9zM68.3 42.5h0.9v0.9h-0.9zM61.1 79.3h0.9v0.9h-0.9zM79.6 31.4h0.9v0.9h-0.9zM70.5 57.6h0.9v0.9h-0.9zM86.9 43.7h0.9v0.9h-0.9zM79.2 54.7h0.9v0.9h-0.9zM79.0 70.9h0.9v0.9h-0.9zM94.5 47.4h0.9v0.9h-0.9zM46.7 63.8h0.9v0.9h-0.9zM109.7 42.3h0.9v0.9h-0.9zM111.3 43.9h0.9v0.9h-0.9zM63.0 57.6h0.9v0.9h-0.9zM55.2 35.9h0.9v0.9h-0.9zM62.2 60.1h0.9v0.9h-0.9zM97.8 62.6h0.9v0.9h-0.9zM67.7 54.6h0.9v0.9h-0.9zM67.8 54.0h0.9v0.9h-0.9zM89.6 57.6h0.9v0.9h-0.9zM61.2 30.5h0.9v0.9h-0.9zM55.7 68.7h0.9v0.9h-0.9zM75.9 49.5h0.9v0.9h-0.9zM70.3 32.4h0.9v0.9h-0.9zM101.2 58.2h0.9v0.9h-0.9zM59.9 35.9h0.9v0.9h-0.9zM50.0 28.7h0.9v0.9h-0.9zM104.2 50.8h0.9v0.9h-0.9zM54.0 56.9h0.9v0.9h-0.9zM78.5 54.5h0.9v0.9h-0.9zM70.9 70.5h0.9v0.9h-0.9zM84.6 47.5h0.9v0.9h-0.9zM81.9 27.0h0.9v0.9h-0.9zM79.5 67.6h0.9v0.9h-0.9zM50.5 58.2h0.9v0.9h-0.9zM67.6 54.3h0.9v0.9h-0.9zM77.4 53.6h0.9v0.9h-0.9zM65.3 57.4h0.9v0.9h-0.9zM100.9 38.7h0.9v0.9h-0.9zM80.0 36.0h0.9v0.9h-0.9zM75.2 38.0h0.9v0.9h-0.9zM77.5 64.0h0.9v0.9h-0.9zM69.8 65.7h0.9v0.9h-0.9zM101.9 43.4h0.9v0.9h-0.9zM73.6 43.2h0.9v0.9h-0.9zM109.7 51.5h0.9v0.9h-0.9zM54.4 52.0h0.9v0.9h-0.9zM59.1 31.1h0.9v0.9h-0.9zM92.0 47.4h0.9v0.9h-0.9zM90.8 59.7h0.9v0.9h-0.9zM109.5 43.7h0.9v0.9h-0.9zM112.4 31.8h0.9v0.9h-0.9zM88.0 44.0h0.9v0.9h-0.9zM102.4 34.0h0.9v0.9h-0.9zM118.4 47.0h0.9v0.9h-0.9z" fill="#000" fill-opacity="0.19"/>
<path d="M49.5 89.5h0.9v0.9h-0.9zM46.6 92.2h0.9v0.9h-0.9zM46.5 81.0h0.9v0.9h-0.9zM47.9 81.1h0.9v0.9h-0.9zM47.8 93.6h0.9v0.9h-0.9zM46.7 89.0h0.9v0.9h-0.9zM48.5 86.0h0.9v0.9h-0.9zM47.1 80.6h0.9v0.9h-0.9zM46.7 85.2h0.9v0.9h-0.9zM49.5 84.4h0.9v0.9h-0.9zM48.4 84.6h0.9v0.9h-0.9zM46.9 87.1h0.9v0.9h-0.9zM47.0 85.0h0.9v0.9h-0.9zM49.4 80.8h0.9v0.9h-0.9zM49.1 88.7h0.9v0.9h-0.9z" fill="#000" fill-opacity="0.35"/>
<path d="M47.0 81.7h0.9v0.9h-0.9zM46.3 80.9h0.9v0.9h-0.9zM49.4 83.0h0.9v0.9h-0.9zM47.8 88.6h0.9v0.9h-0.9zM49.8 92.9h0.9v0.9h-0.9zM49.3 80.1h0.9v0.9h-0.9zM48.6 85.6h0.9v0.9h-0.9zM49.0 81.0h0.9v0.9h-0.9zM47.4 85.9h0.9v0.9h-0.9zM48.8 81.1h0.9v0.9h-0.9zM49.0 87.9h0.9v0.9h-0.9zM47.7 84.6h0.9v0.9h-0.9zM48.8 88.4h0.9v0.9h-0.9zM48.2 91.4h0.9v0.9h-0.9zM49.0 91.9h0.9v0.9h-0.9z" fill="#000" fill-opacity="0.35"/>
<path d="M48.5 90.7h0.9v0.9h-0.9zM46.5 90.5h0.9v0.9h-0.9zM46.5 86.6h0.9v0.9h-0.9zM48.1 80.6h0.9v0.9h-0.9zM49.5 85.3h0.9v0.9h-0.9zM47.9 82.9h0.9v0.9h-0.9zM47.4 82.6h0.9v0.9h-0.9zM47.9 90.5h0.9v0.9h-0.9zM49.5 88.8h0.9v0.9h-0.9zM49.7 85.6h0.9v0.9h-0.9zM49.0 86.2h0.9v0.9h-0.9zM47.5 81.6h0.9v0.9h-0.9zM48.2 91.8h0.9v0.9h-0.9zM48.7 85.9h0.9v0.9h-0.9z" fill="#000" fill-opacity="0.35"/>
<path d="M49.3 86.8h0.9v0.9h-0.9zM46.8 90.8h0.9v0.9h-0.9zM48.4 93.3h0.9v0.9h-0.9zM49.6 89.2h0.9v0.9h-0.9zM49.5 91.9h0.9v0.9h-0.9zM49.7 80.6h0.9v0.9h-0.9zM46.9 88.3h0.9v0.9h-0.9zM47.0 83.2h0.9v0.9h-0.9zM48.1 80.0h0.9v0.9h-0.9zM47.0 82.2h0.9v0.9h-0.9zM47.9 90.9h0.9v0.9h-0.9zM47.2 86.5h0.9v0.9h-0.9zM49.5 92.8h0.9v0.9h-0.9zM47.5 82.3h0.9v0.9h-0.9z" fill="#000" fill-opacity="0.35"/>
<path d="M49.1 91.6h0.9v0.9h-0.9zM47.1 91.0h0.9v0.9h-0.9zM47.0 91.1h0.9v0.9h-0.9zM46.7 89.7h0.9v0.9h-0.9zM47.6 91.8h0.9v0.9h-0.9zM47.2 84.2h0.9v0.9h-0.9zM47.5 87.7h0.9v0.9h-0.9zM46.9 91.1h0.9v0.9h-0.9zM47.4 88.6h0.9v0.9h-0.9zM47.8 84.4h0.9v0.9h-0.9zM48.2 85.7h0.9v0.9h-0.9zM46.9 90.4h0.9v0.9h-0.9zM48.6 93.8h0.9v0.9h-0.9zM49.7 88.6h0.9v0.9h-0.9z" fill="#000" fill-opacity="0.35"/>
<path d="M48.9 81.6h0.9v0.9h-0.9zM46.8 83.7h0.9v0.9h-0.9zM48.8 84.5h0.9v0.9h-0.9zM48.4 85.5h0.9v0.9h-0.9zM49.4 90.3h0.9v0.9h-0.9zM48.5 88.3h0.9v0.9h-0.9zM49.0 80.2h0.9v0.9h-0.9zM47.2 86.0h0.9v0.9h-0.9zM48.9 89.5h0.9v0.9h-0.9zM49.0 80.5h0.9v0.9h-0.9zM46.6 93.4h0.9v0.9h-0.9zM48.4 83.0h0.9v0.9h-0.9zM48.6 84.2h0.9v0.9h-0.9zM49.7 90.9h0.9v0.9h-0.9z" fill="#000" fill-opacity="0.35"/>
<path d="M47.9 87.1h0.9v0.9h-0.9zM46.4 85.4h0.9v0.9h-0.9zM48.9 91.4h0.9v0.9h-0.9zM49.3 82.5h0.9v0.9h-0.9zM48.0 86.1h0.9v0.9h-0.9zM49.8 88.0h0.9v0.9h-0.9zM47.4 84.3h0.9v0.9h-0.9zM48.7 88.3h0.9v0.9h-0.9zM46.3 93.2h0.9v0.9h-0.9zM48.4 94.1h0.9v0.9h-0.9zM48.9 86.0h0.9v0.9h-0.9zM48.2 90.0h0.9v0.9h-0.9zM46.6 81.5h0.9v0.9h-0.9zM48.8 80.8h0.9v0.9h-0.9z" fill="#000" fill-opacity="0.35"/>
<path d="M49.3 84.6h0.9v0.9h-0.9zM47.2 89.4h0.9v0.9h-0.9zM49.1 91.7h0.9v0.9h-0.9zM46.7 87.5h0.9v0.9h-0.9zM48.4 85.3h0.9v0.9h-0.9zM48.7 88.8h0.9v0.9h-0.9zM49.1 81.7h0.9v0.9h-0.9zM49.3 92.1h0.9v0.9h-0.9zM48.9 89.4h0.9v0.9h-0.9zM48.0 85.9h0.9v0.9h-0.9zM47.3 83.2h0.9v0.9h-0.9zM47.7 84.5h0.9v0.9h-0.9zM46.3 80.4h0.9v0.9h-0.9zM47.1 86.0h0.9v0.9h-0.9z" fill="#000" fill-opacity="0.35"/>
<path d="M48.0 87.0h0.9v0.9h-0.9zM48.4 83.9h0.9v0.9h-0.9zM47.3 93.5h0.9v0.9h-0.9zM48.9 82.3h0.9v0.9h-0.9zM48.6 82.9h0.9v0.9h-0.9zM49.4 85.3h0.9v0.9h-0.9zM47.6 84.9h0.9v0.9h-0.9zM47.4 81.5h0.9v0.9h-0.9zM49.1 89.7h0.9v0.9h-0.9zM46.8 84.8h0.9v0.9h-0.9zM46.7 92.6h0.9v0.9h-0.9zM47.0 87.9h0.9v0.9h-0.9zM48.5 82.2h0.9v0.9h-0.9zM48.3 81.4h0.9v0.9h-0.9z" fill="#000" fill-opacity="0.35"/>
<path d="M47.3 94.2h0.9v0.9h-0.9zM48.9 87.3h0.9v0.9h-0.9zM46.9 90.2h0.9v0.9h-0.9zM49.2 85.5h0.9v0.9h-0.9zM48.9 91.6h0.9v0.9h-0.9zM49.6 93.3h0.9v0.9h-0.9zM49.1 82.4h0.9v0.9h-0.9zM47.5 80.3h0.9v0.9h-0.9zM48.0 81.4h0.9v0.9h-0.9zM49.6 90.0h0.9v0.9h-0.9zM46.5 81.0h0.9v0.9h-0.9zM49.0 91.5h0.9v0.9h-0.9zM49.0 90.4h0.9v0.9h-0.9zM48.7 93.8h0.9v0.9h-0.9z" fill="#000" fill-opacity="0.35"/>
<path d="M47.9 91.2h0.9v0.9h-0.9zM48.0 86.0h0.9v0.9h-0.9zM49.0 88.9h0.9v0.9h-0.9zM47.2 90.2h0.9v0.9h-0.9zM47.5 89.7h0.9v0.9h-0.9zM48.2 86.3h0.9v0.9h-0.9zM48.4 81.0h0.9v0.9h-0.9zM46.7 85.1h0.9v0.9h-0.9zM47.0 86.4h0.9v0.9h-0.9zM47.0 90.9h0.9v0.9h-0.9zM47.3 94.4h0.9v0.9h-0.9zM46.7 87.0h0.9v0.9h-0.9zM49.3 82.7h0.9v0.9h-0.9zM49.1 86.2h0.9v0.9h-0.9z" fill="#000" fill-opacity="0.35"/>
<path d="M49.2 92.8h0.9v0.9h-0.9zM49.5 81.1h0.9v0.9h-0.9zM48.7 89.7h0.9v0.9h-0.9zM47.5 80.5h0.9v0.9h-0.9zM47.6 94.0h0.9v0.9h-0.9zM46.9 83.4h0.9v0.9h-0.9zM49.6 85.4h0.9v0.9h-0.9zM48.2 93.8h0.9v0.9h-0.9zM47.1 83.1h0.9v0.9h-0.9zM48.8 89.8h0.9v0.9h-0.9zM46.8 94.4h0.9v0.9h-0.9zM47.6 89.5h0.9v0.9h-0.9zM49.8 91.1h0.9v0.9h-0.9zM48.6 86.8h0.9v0.9h-0.9z" fill="#000" fill-opacity="0.35"/>
</g>
<path d="M45 14.5H126.3V95.5" fill="none" stroke="#888" stroke-width="0.8"/>
<line x1="45.00" y1="14.30" x2="45.00" y2="95.80" stroke="#222" stroke-width="1.1"/>
<line x1="44.60" y1="95.60" x2="126.50" y2="95.60" stroke="#222" stroke-width="1.1"/>
<ellipse cx="71" cy="75.5" rx="23" ry="11.5" transform="rotate(-33 71 75.5)" fill="none" stroke="#555" stroke-width="0.6"/>
<text x="43.20" y="97.50" font-size="4.4" text-anchor="end" fill="#111">0</text>
<line x1="43.80" y1="96.00" x2="45.00" y2="96.00" stroke="#333" stroke-width="0.6"/>
<text x="43.20" y="82.50" font-size="4.4" text-anchor="end" fill="#111">50K</text>
<line x1="43.80" y1="81.00" x2="45.00" y2="81.00" stroke="#333" stroke-width="0.6"/>
<text x="43.20" y="67.10" font-size="4.4" text-anchor="end" fill="#111">100K</text>
<line x1="43.80" y1="65.60" x2="45.00" y2="65.60" stroke="#333" stroke-width="0.6"/>
<text x="43.20" y="51.50" font-size="4.4" text-anchor="end" fill="#111">150K</text>
<line x1="43.80" y1="50.00" x2="45.00" y2="50.00" stroke="#333" stroke-width="0.6"/>
<text x="43.20" y="35.90" font-size="4.4" text-anchor="end" fill="#111">200K</text>
<line x1="43.80" y1="34.40" x2="45.00" y2="34.40" stroke="#333" stroke-width="0.6"/>
<text x="43.20" y="20.90" font-size="4.4" text-anchor="end" fill="#111">250K</text>
<line x1="43.80" y1="19.40" x2="45.00" y2="19.40" stroke="#333" stroke-width="0.6"/>
<text x="45.60" y="104.00" font-size="4.4" text-anchor="middle" fill="#111">0</text>
<line x1="45.60" y1="95.60" x2="45.60" y2="97.00" stroke="#333" stroke-width="0.6"/>
<text x="60.80" y="104.00" font-size="4.4" text-anchor="middle" fill="#111">50K</text>
<line x1="60.80" y1="95.60" x2="60.80" y2="97.00" stroke="#333" stroke-width="0.6"/>
<text x="76.30" y="104.00" font-size="4.4" text-anchor="middle" fill="#111">100K</text>
<line x1="76.30" y1="95.60" x2="76.30" y2="97.00" stroke="#333" stroke-width="0.6"/>
<text x="91.70" y="104.00" font-size="4.4" text-anchor="middle" fill="#111">150K</text>
<line x1="91.70" y1="95.60" x2="91.70" y2="97.00" stroke="#333" stroke-width="0.6"/>
<text x="107.00" y="104.00" font-size="4.4" text-anchor="middle" fill="#111">200K</text>
<line x1="107.00" y1="95.60" x2="107.00" y2="97.00" stroke="#333" stroke-width="0.6"/>
<text x="122.30" y="104.00" font-size="4.4" text-anchor="middle" fill="#111">250K</text>
<line x1="122.30" y1="95.60" x2="122.30" y2="97.00" stroke="#333" stroke-width="0.6"/>
<text x="28.20" y="50.30" font-size="7.2" text-anchor="middle" fill="#111" transform="rotate(-90 28.2 50.3)" stroke="#111" stroke-width="0.15">SSC</text>
<text x="90.50" y="113.60" font-size="7.2" text-anchor="middle" fill="#111" stroke="#111" stroke-width="0.15">FSC</text>
<path d="M152 15H233.5V95.6" fill="none" stroke="#888" stroke-width="0.8"/>
<line x1="152.00" y1="14.80" x2="152.00" y2="95.80" stroke="#222" stroke-width="1.1"/>
<line x1="151.60" y1="95.70" x2="233.70" y2="95.70" stroke="#222" stroke-width="1.1"/>
<polyline points="152.60,94.60 160.40,92.80 169.00,91.00 177.70,88.00 181.10,85.80 182.90,82.30 184.30,76.30 185.10,65.90 186.30,48.60 187.70,34.80 189.10,24.40 190.70,20.10 192.00,24.40 193.60,34.80 195.80,48.60 198.10,60.70 200.20,71.10 202.40,73.70 204.50,78.00 206.20,85.00 207.60,91.00 208.80,94.60 233.00,94.90" fill="none" stroke="#666" stroke-width="0.8" stroke-linejoin="round"/>
<text x="150.00" y="19.00" font-size="4.4" text-anchor="end" fill="#111">15K</text>
<line x1="150.80" y1="17.50" x2="152.00" y2="17.50" stroke="#333" stroke-width="0.6"/>
<text x="150.00" y="45.90" font-size="4.4" text-anchor="end" fill="#111">10K</text>
<line x1="150.80" y1="44.40" x2="152.00" y2="44.40" stroke="#333" stroke-width="0.6"/>
<text x="150.00" y="72.50" font-size="4.4" text-anchor="end" fill="#111">5000</text>
<line x1="150.80" y1="71.00" x2="152.00" y2="71.00" stroke="#333" stroke-width="0.6"/>
<text x="150.00" y="97.10" font-size="4.4" text-anchor="end" fill="#111">0</text>
<line x1="150.80" y1="95.60" x2="152.00" y2="95.60" stroke="#333" stroke-width="0.6"/>
<text x="161.00" y="104.00" font-size="4.4" text-anchor="middle" fill="#111">0</text>
<text x="169.00" y="104.00" font-size="4.4" text-anchor="middle" fill="#111">10<tspan dy="-1.5" font-size="3">2</tspan></text>
<text x="189.00" y="104.00" font-size="4.4" text-anchor="middle" fill="#111">10<tspan dy="-1.5" font-size="3">3</tspan></text>
<text x="206.50" y="104.00" font-size="4.4" text-anchor="middle" fill="#111">10<tspan dy="-1.5" font-size="3">4</tspan></text>
<text x="225.80" y="104.00" font-size="4.4" text-anchor="middle" fill="#111">10<tspan dy="-1.5" font-size="3">5</tspan></text>
<text x="134.80" y="51.00" font-size="7.2" text-anchor="middle" fill="#111" transform="rotate(-90 134.8 51)" stroke="#111" stroke-width="0.1"># of Cells</text>
<text x="197.20" y="113.20" font-size="6.8" text-anchor="middle" fill="#111" stroke="#111" stroke-width="0.1">Lineage</text>
<line x1="152.00" y1="56.50" x2="176.30" y2="56.50" stroke="#333" stroke-width="1.1"/>
<line x1="176.30" y1="54.80" x2="176.30" y2="58.20" stroke="#333" stroke-width="0.9"/>
<text x="157.80" y="52.30" font-size="7.8" font-weight="bold">5.06</text>
<line x1="177.00" y1="49.10" x2="212.50" y2="49.10" stroke="#333" stroke-width="0.9"/>
<path d="M212 47.4L216 49.1L212 50.8Z" fill="#fff" stroke="#333" stroke-width="0.6"/>
<g filter="url(#bl)">
<path d="M268.2 78.7h0.9v0.9h-0.9zM266.7 78.8h0.9v0.9h-0.9zM273.7 77.2h0.9v0.9h-0.9zM275.3 75.9h0.9v0.9h-0.9zM260.3 75.6h0.9v0.9h-0.9zM267.1 82.9h0.9v0.9h-0.9zM264.5 70.5h0.9v0.9h-0.9zM267.8 84.5h0.9v0.9h-0.9zM263.3 78.6h0.9v0.9h-0.9zM269.3 82.1h0.9v0.9h-0.9zM270.1 77.8h0.9v0.9h-0.9zM267.9 75.4h0.9v0.9h-0.9zM265.7 76.4h0.9v0.9h-0.9zM265.5 78.7h0.9v0.9h-0.9zM268.7 83.9h0.9v0.9h-0.9zM263.6 81.4h0.9v0.9h-0.9zM266.2 83.8h0.9v0.9h-0.9zM267.1 88.4h0.9v0.9h-0.9zM266.9 79.4h0.9v0.9h-0.9zM265.7 75.6h0.9v0.9h-0.9zM264.5 75.7h0.9v0.9h-0.9zM266.8 74.9h0.9v0.9h-0.9zM267.5 75.3h0.9v0.9h-0.9zM262.0 78.2h0.9v0.9h-0.9zM267.2 80.4h0.9v0.9h-0.9zM261.8 78.7h0.9v0.9h-0.9zM262.9 79.0h0.9v0.9h-0.9zM259.2 80.8h0.9v0.9h-0.9zM269.4 80.2h0.9v0.9h-0.9zM266.7 84.2h0.9v0.9h-0.9zM264.1 83.1h0.9v0.9h-0.9zM271.3 77.9h0.9v0.9h-0.9zM267.5 77.1h0.9v0.9h-0.9zM266.2 84.9h0.9v0.9h-0.9zM263.0 77.3h0.9v0.9h-0.9zM262.4 78.9h0.9v0.9h-0.9zM266.5 77.1h0.9v0.9h-0.9zM268.3 82.4h0.9v0.9h-0.9zM264.8 79.6h0.9v0.9h-0.9zM271.2 83.6h0.9v0.9h-0.9zM272.2 77.8h0.9v0.9h-0.9zM267.9 74.8h0.9v0.9h-0.9zM269.8 82.2h0.9v0.9h-0.9zM261.3 76.6h0.9v0.9h-0.9zM267.9 82.2h0.9v0.9h-0.9zM273.6 69.1h0.9v0.9h-0.9zM263.3 74.4h0.9v0.9h-0.9zM268.0 75.7h0.9v0.9h-0.9zM267.4 72.4h0.9v0.9h-0.9zM266.1 69.3h0.9v0.9h-0.9zM270.5 72.6h0.9v0.9h-0.9zM265.2 74.7h0.9v0.9h-0.9zM266.7 71.9h0.9v0.9h-0.9zM265.8 75.3h0.9v0.9h-0.9zM268.4 70.4h0.9v0.9h-0.9zM265.3 79.0h0.9v0.9h-0.9zM265.2 77.4h0.9v0.9h-0.9zM264.2 84.0h0.9v0.9h-0.9zM263.9 77.0h0.9v0.9h-0.9zM262.9 76.4h0.9v0.9h-0.9zM267.7 80.9h0.9v0.9h-0.9zM260.9 82.7h0.9v0.9h-0.9zM261.5 77.2h0.9v0.9h-0.9zM266.6 70.9h0.9v0.9h-0.9zM269.6 85.7h0.9v0.9h-0.9zM266.3 66.7h0.9v0.9h-0.9zM257.7 84.6h0.9v0.9h-0.9zM267.8 90.2h0.9v0.9h-0.9zM267.3 87.3h0.9v0.9h-0.9zM262.9 79.9h0.9v0.9h-0.9zM267.9 72.5h0.9v0.9h-0.9zM266.8 81.1h0.9v0.9h-0.9zM270.7 70.4h0.9v0.9h-0.9zM264.4 74.7h0.9v0.9h-0.9zM264.6 81.8h0.9v0.9h-0.9zM270.1 84.4h0.9v0.9h-0.9zM266.7 76.7h0.9v0.9h-0.9zM268.1 70.6h0.9v0.9h-0.9zM265.8 78.7h0.9v0.9h-0.9zM269.1 86.8h0.9v0.9h-0.9zM261.9 74.2h0.9v0.9h-0.9zM264.8 77.6h0.9v0.9h-0.9zM262.4 79.3h0.9v0.9h-0.9zM263.6 76.9h0.9v0.9h-0.9zM264.0 75.3h0.9v0.9h-0.9zM262.9 84.8h0.9v0.9h-0.9zM267.8 86.1h0.9v0.9h-0.9zM265.6 75.9h0.9v0.9h-0.9zM261.1 80.6h0.9v0.9h-0.9zM267.7 79.2h0.9v0.9h-0.9zM268.0 80.1h0.9v0.9h-0.9zM267.5 87.0h0.9v0.9h-0.9zM266.9 84.0h0.9v0.9h-0.9zM263.7 72.6h0.9v0.9h-0.9zM267.7 71.3h0.9v0.9h-0.9zM266.3 83.4h0.9v0.9h-0.9zM262.5 76.0h0.9v0.9h-0.9zM261.3 75.8h0.9v0.9h-0.9zM261.7 83.7h0.9v0.9h-0.9zM265.8 80.9h0.9v0.9h-0.9zM274.7 82.5h0.9v0.9h-0.9zM265.4 74.4h0.9v0.9h-0.9zM260.6 76.3h0.9v0.9h-0.9zM273.4 75.9h0.9v0.9h-0.9zM264.0 74.7h0.9v0.9h-0.9zM266.1 71.2h0.9v0.9h-0.9zM267.0 78.6h0.9v0.9h-0.9zM265.8 76.6h0.9v0.9h-0.9zM266.8 80.1h0.9v0.9h-0.9zM272.8 79.0h0.9v0.9h-0.9zM268.6 75.8h0.9v0.9h-0.9zM265.2 76.2h0.9v0.9h-0.9zM266.7 70.8h0.9v0.9h-0.9zM263.5 83.3h0.9v0.9h-0.9zM262.4 92.4h0.9v0.9h-0.9zM264.3 74.3h0.9v0.9h-0.9zM267.9 71.9h0.9v0.9h-0.9zM268.4 76.6h0.9v0.9h-0.9zM259.3 77.5h0.9v0.9h-0.9zM267.8 73.8h0.9v0.9h-0.9zM268.9 84.3h0.9v0.9h-0.9zM271.0 83.3h0.9v0.9h-0.9zM267.1 85.0h0.9v0.9h-0.9zM268.1 75.9h0.9v0.9h-0.9zM269.0 76.3h0.9v0.9h-0.9zM273.1 75.6h0.9v0.9h-0.9zM264.1 77.6h0.9v0.9h-0.9zM271.2 72.3h0.9v0.9h-0.9zM269.4 76.1h0.9v0.9h-0.9zM259.4 79.3h0.9v0.9h-0.9zM264.7 70.3h0.9v0.9h-0.9zM265.7 80.3h0.9v0.9h-0.9zM271.7 85.9h0.9v0.9h-0.9zM267.9 72.2h0.9v0.9h-0.9zM267.9 79.2h0.9v0.9h-0.9zM261.3 72.9h0.9v0.9h-0.9zM269.5 82.4h0.9v0.9h-0.9zM267.5 82.6h0.9v0.9h-0.9zM265.8 77.6h0.9v0.9h-0.9zM267.5 76.2h0.9v0.9h-0.9zM269.5 80.0h0.9v0.9h-0.9zM263.1 75.6h0.9v0.9h-0.9z" fill="#000" fill-opacity="0.45"/>
<path d="M264.7 80.6h0.9v0.9h-0.9zM267.8 85.7h0.9v0.9h-0.9zM271.0 76.7h0.9v0.9h-0.9zM262.5 77.7h0.9v0.9h-0.9zM266.6 84.9h0.9v0.9h-0.9zM259.8 78.8h0.9v0.9h-0.9zM269.4 81.6h0.9v0.9h-0.9zM266.6 81.1h0.9v0.9h-0.9zM266.3 76.0h0.9v0.9h-0.9zM263.8 89.8h0.9v0.9h-0.9zM266.0 73.9h0.9v0.9h-0.9zM267.3 80.5h0.9v0.9h-0.9zM260.7 84.1h0.9v0.9h-0.9zM266.5 76.0h0.9v0.9h-0.9zM266.5 76.9h0.9v0.9h-0.9zM266.0 77.2h0.9v0.9h-0.9zM269.9 82.5h0.9v0.9h-0.9zM270.3 79.8h0.9v0.9h-0.9zM264.8 71.7h0.9v0.9h-0.9zM266.1 80.3h0.9v0.9h-0.9zM264.4 78.0h0.9v0.9h-0.9zM262.4 77.8h0.9v0.9h-0.9zM263.8 84.7h0.9v0.9h-0.9zM267.0 79.6h0.9v0.9h-0.9zM263.4 76.0h0.9v0.9h-0.9zM263.0 74.7h0.9v0.9h-0.9zM270.4 76.5h0.9v0.9h-0.9zM267.6 75.9h0.9v0.9h-0.9zM265.0 83.2h0.9v0.9h-0.9zM261.7 77.8h0.9v0.9h-0.9zM267.8 78.9h0.9v0.9h-0.9zM261.3 83.6h0.9v0.9h-0.9zM267.3 84.0h0.9v0.9h-0.9zM265.6 75.0h0.9v0.9h-0.9zM265.2 79.6h0.9v0.9h-0.9zM261.8 78.6h0.9v0.9h-0.9zM266.2 86.7h0.9v0.9h-0.9zM260.3 77.1h0.9v0.9h-0.9zM257.0 74.8h0.9v0.9h-0.9zM265.2 85.1h0.9v0.9h-0.9zM265.9 78.0h0.9v0.9h-0.9zM265.5 81.0h0.9v0.9h-0.9zM265.3 77.5h0.9v0.9h-0.9zM271.0 82.5h0.9v0.9h-0.9zM268.1 84.2h0.9v0.9h-0.9zM263.3 83.8h0.9v0.9h-0.9zM271.6 74.9h0.9v0.9h-0.9zM274.0 71.2h0.9v0.9h-0.9zM267.5 70.9h0.9v0.9h-0.9zM264.4 76.9h0.9v0.9h-0.9zM264.5 80.9h0.9v0.9h-0.9zM265.7 77.9h0.9v0.9h-0.9zM267.5 76.2h0.9v0.9h-0.9zM261.9 82.3h0.9v0.9h-0.9zM270.7 73.5h0.9v0.9h-0.9zM260.3 78.8h0.9v0.9h-0.9zM267.1 82.3h0.9v0.9h-0.9zM265.2 76.7h0.9v0.9h-0.9zM265.8 84.7h0.9v0.9h-0.9zM265.6 74.1h0.9v0.9h-0.9zM268.5 79.5h0.9v0.9h-0.9zM260.3 78.5h0.9v0.9h-0.9zM265.4 80.3h0.9v0.9h-0.9zM264.6 75.9h0.9v0.9h-0.9zM263.3 81.7h0.9v0.9h-0.9zM265.3 76.3h0.9v0.9h-0.9zM268.4 81.7h0.9v0.9h-0.9zM262.2 83.7h0.9v0.9h-0.9zM265.3 74.4h0.9v0.9h-0.9zM262.6 79.5h0.9v0.9h-0.9zM268.0 73.8h0.9v0.9h-0.9zM269.2 73.4h0.9v0.9h-0.9zM267.2 78.7h0.9v0.9h-0.9zM265.5 77.8h0.9v0.9h-0.9zM262.5 80.5h0.9v0.9h-0.9zM257.8 86.9h0.9v0.9h-0.9zM269.4 77.5h0.9v0.9h-0.9zM268.0 81.1h0.9v0.9h-0.9zM268.3 79.7h0.9v0.9h-0.9zM261.7 79.1h0.9v0.9h-0.9zM265.3 77.3h0.9v0.9h-0.9zM263.6 79.7h0.9v0.9h-0.9zM268.7 85.4h0.9v0.9h-0.9zM259.9 83.5h0.9v0.9h-0.9zM268.0 79.7h0.9v0.9h-0.9zM266.5 83.2h0.9v0.9h-0.9zM263.3 80.1h0.9v0.9h-0.9zM258.1 84.4h0.9v0.9h-0.9zM269.9 80.6h0.9v0.9h-0.9zM273.0 79.0h0.9v0.9h-0.9zM268.4 80.2h0.9v0.9h-0.9zM257.8 81.4h0.9v0.9h-0.9zM263.1 76.3h0.9v0.9h-0.9zM269.0 82.8h0.9v0.9h-0.9zM266.2 76.1h0.9v0.9h-0.9zM272.5 75.9h0.9v0.9h-0.9zM267.3 76.1h0.9v0.9h-0.9zM268.0 78.3h0.9v0.9h-0.9zM265.0 81.4h0.9v0.9h-0.9zM262.0 82.4h0.9v0.9h-0.9zM266.1 75.4h0.9v0.9h-0.9zM265.8 75.0h0.9v0.9h-0.9zM263.5 80.2h0.9v0.9h-0.9zM265.4 78.4h0.9v0.9h-0.9zM270.1 83.9h0.9v0.9h-0.9zM265.5 77.2h0.9v0.9h-0.9zM260.8 81.0h0.9v0.9h-0.9zM264.5 79.6h0.9v0.9h-0.9zM258.1 80.6h0.9v0.9h-0.9zM259.2 86.9h0.9v0.9h-0.9zM264.5 79.6h0.9v0.9h-0.9zM270.4 73.8h0.9v0.9h-0.9zM264.2 86.5h0.9v0.9h-0.9zM261.6 85.2h0.9v0.9h-0.9zM262.9 83.2h0.9v0.9h-0.9zM270.0 79.5h0.9v0.9h-0.9zM263.3 82.7h0.9v0.9h-0.9zM271.6 81.2h0.9v0.9h-0.9zM263.7 76.8h0.9v0.9h-0.9zM270.9 78.5h0.9v0.9h-0.9zM263.2 85.7h0.9v0.9h-0.9zM266.4 79.9h0.9v0.9h-0.9zM267.2 78.1h0.9v0.9h-0.9zM271.4 78.3h0.9v0.9h-0.9zM264.5 85.3h0.9v0.9h-0.9zM266.5 76.7h0.9v0.9h-0.9zM267.6 79.3h0.9v0.9h-0.9zM268.0 80.1h0.9v0.9h-0.9zM266.6 79.0h0.9v0.9h-0.9zM268.4 75.6h0.9v0.9h-0.9zM271.9 77.6h0.9v0.9h-0.9zM262.0 82.1h0.9v0.9h-0.9zM268.6 73.2h0.9v0.9h-0.9zM270.2 76.9h0.9v0.9h-0.9zM266.0 80.6h0.9v0.9h-0.9zM261.5 82.2h0.9v0.9h-0.9zM261.3 81.9h0.9v0.9h-0.9zM272.3 75.3h0.9v0.9h-0.9zM271.0 67.5h0.9v0.9h-0.9zM266.9 88.4h0.9v0.9h-0.9zM273.0 77.9h0.9v0.9h-0.9zM261.1 79.2h0.9v0.9h-0.9z" fill="#000" fill-opacity="0.45"/>
<path d="M266.9 85.6h0.9v0.9h-0.9zM265.8 75.3h0.9v0.9h-0.9zM269.6 83.0h0.9v0.9h-0.9zM267.1 77.9h0.9v0.9h-0.9zM265.4 80.7h0.9v0.9h-0.9zM263.0 77.6h0.9v0.9h-0.9zM265.8 74.0h0.9v0.9h-0.9zM266.7 86.4h0.9v0.9h-0.9zM260.6 76.5h0.9v0.9h-0.9zM269.4 73.9h0.9v0.9h-0.9zM266.5 75.6h0.9v0.9h-0.9zM262.5 81.1h0.9v0.9h-0.9zM266.0 75.4h0.9v0.9h-0.9zM265.4 83.2h0.9v0.9h-0.9zM262.9 81.8h0.9v0.9h-0.9zM268.3 82.8h0.9v0.9h-0.9zM268.1 69.5h0.9v0.9h-0.9zM263.5 77.9h0.9v0.9h-0.9zM257.2 88.5h0.9v0.9h-0.9zM257.1 82.3h0.9v0.9h-0.9zM267.8 73.1h0.9v0.9h-0.9zM263.7 72.5h0.9v0.9h-0.9zM260.3 76.5h0.9v0.9h-0.9zM266.9 76.3h0.9v0.9h-0.9zM268.1 76.9h0.9v0.9h-0.9zM273.1 86.7h0.9v0.9h-0.9zM264.3 76.2h0.9v0.9h-0.9zM265.3 76.6h0.9v0.9h-0.9zM267.6 79.2h0.9v0.9h-0.9zM271.4 74.1h0.9v0.9h-0.9zM262.4 78.6h0.9v0.9h-0.9zM270.2 70.3h0.9v0.9h-0.9zM263.7 81.0h0.9v0.9h-0.9zM260.1 78.7h0.9v0.9h-0.9zM264.2 81.1h0.9v0.9h-0.9zM263.9 79.4h0.9v0.9h-0.9zM270.9 80.3h0.9v0.9h-0.9zM269.2 72.5h0.9v0.9h-0.9zM269.8 74.5h0.9v0.9h-0.9zM265.2 72.3h0.9v0.9h-0.9zM267.7 83.0h0.9v0.9h-0.9zM261.9 83.0h0.9v0.9h-0.9zM261.6 90.5h0.9v0.9h-0.9zM270.9 76.9h0.9v0.9h-0.9zM268.7 82.9h0.9v0.9h-0.9zM262.3 83.4h0.9v0.9h-0.9zM266.8 84.6h0.9v0.9h-0.9zM270.7 70.9h0.9v0.9h-0.9zM269.0 71.7h0.9v0.9h-0.9zM263.1 83.3h0.9v0.9h-0.9zM266.3 76.4h0.9v0.9h-0.9zM262.3 81.0h0.9v0.9h-0.9zM267.7 75.3h0.9v0.9h-0.9zM266.5 76.9h0.9v0.9h-0.9zM270.2 81.0h0.9v0.9h-0.9zM268.9 85.0h0.9v0.9h-0.9zM262.9 78.4h0.9v0.9h-0.9zM267.7 82.3h0.9v0.9h-0.9zM264.0 87.0h0.9v0.9h-0.9zM270.6 79.7h0.9v0.9h-0.9zM269.0 81.9h0.9v0.9h-0.9zM266.9 84.7h0.9v0.9h-0.9zM266.4 78.4h0.9v0.9h-0.9zM267.3 74.3h0.9v0.9h-0.9zM270.6 83.2h0.9v0.9h-0.9zM266.9 79.4h0.9v0.9h-0.9zM266.7 76.7h0.9v0.9h-0.9zM263.8 76.2h0.9v0.9h-0.9zM259.7 80.8h0.9v0.9h-0.9zM263.5 78.9h0.9v0.9h-0.9zM269.5 69.2h0.9v0.9h-0.9zM270.5 81.0h0.9v0.9h-0.9zM269.3 73.0h0.9v0.9h-0.9zM262.5 83.1h0.9v0.9h-0.9zM262.1 78.6h0.9v0.9h-0.9zM272.9 75.7h0.9v0.9h-0.9zM264.2 77.8h0.9v0.9h-0.9zM269.5 73.1h0.9v0.9h-0.9zM271.4 71.4h0.9v0.9h-0.9zM266.7 71.3h0.9v0.9h-0.9zM264.2 79.6h0.9v0.9h-0.9zM266.9 74.7h0.9v0.9h-0.9zM263.6 86.8h0.9v0.9h-0.9zM263.4 84.0h0.9v0.9h-0.9zM268.5 72.9h0.9v0.9h-0.9zM259.3 76.9h0.9v0.9h-0.9zM261.0 79.5h0.9v0.9h-0.9zM264.9 89.4h0.9v0.9h-0.9zM266.4 83.5h0.9v0.9h-0.9zM266.7 87.2h0.9v0.9h-0.9zM262.2 79.3h0.9v0.9h-0.9zM264.4 80.8h0.9v0.9h-0.9zM271.5 78.0h0.9v0.9h-0.9zM268.9 79.4h0.9v0.9h-0.9zM268.8 82.6h0.9v0.9h-0.9zM265.9 76.8h0.9v0.9h-0.9zM265.8 78.2h0.9v0.9h-0.9zM267.5 79.8h0.9v0.9h-0.9zM270.6 75.4h0.9v0.9h-0.9zM263.8 81.4h0.9v0.9h-0.9zM262.2 81.2h0.9v0.9h-0.9zM266.6 82.0h0.9v0.9h-0.9zM267.7 69.0h0.9v0.9h-0.9zM266.9 73.8h0.9v0.9h-0.9zM258.7 84.1h0.9v0.9h-0.9zM265.1 80.2h0.9v0.9h-0.9zM265.8 84.2h0.9v0.9h-0.9zM265.4 76.7h0.9v0.9h-0.9zM258.6 86.8h0.9v0.9h-0.9zM267.8 87.7h0.9v0.9h-0.9zM266.0 79.3h0.9v0.9h-0.9zM264.8 84.4h0.9v0.9h-0.9zM258.2 84.8h0.9v0.9h-0.9zM267.2 75.4h0.9v0.9h-0.9zM257.7 76.7h0.9v0.9h-0.9zM266.8 71.8h0.9v0.9h-0.9zM267.9 79.5h0.9v0.9h-0.9zM265.8 77.2h0.9v0.9h-0.9zM258.9 85.1h0.9v0.9h-0.9zM263.2 69.0h0.9v0.9h-0.9zM258.1 77.8h0.9v0.9h-0.9zM256.9 80.7h0.9v0.9h-0.9zM268.7 79.0h0.9v0.9h-0.9zM270.9 72.0h0.9v0.9h-0.9zM261.6 73.3h0.9v0.9h-0.9zM272.1 79.0h0.9v0.9h-0.9zM264.4 76.5h0.9v0.9h-0.9zM264.2 79.0h0.9v0.9h-0.9zM265.5 82.4h0.9v0.9h-0.9zM263.6 77.2h0.9v0.9h-0.9zM268.8 75.8h0.9v0.9h-0.9zM269.1 76.9h0.9v0.9h-0.9zM261.3 80.8h0.9v0.9h-0.9zM268.3 77.9h0.9v0.9h-0.9zM269.5 76.5h0.9v0.9h-0.9zM267.0 78.9h0.9v0.9h-0.9zM264.9 74.9h0.9v0.9h-0.9zM262.9 85.3h0.9v0.9h-0.9zM262.8 75.0h0.9v0.9h-0.9zM269.1 74.3h0.9v0.9h-0.9zM265.9 74.6h0.9v0.9h-0.9zM264.3 74.6h0.9v0.9h-0.9z" fill="#000" fill-opacity="0.45"/>
<path d="M263.6 80.7h0.9v0.9h-0.9zM260.7 85.5h0.9v0.9h-0.9zM263.1 87.5h0.9v0.9h-0.9zM265.0 72.3h0.9v0.9h-0.9zM270.4 86.1h0.9v0.9h-0.9zM262.0 85.7h0.9v0.9h-0.9zM267.5 78.5h0.9v0.9h-0.9zM266.3 84.8h0.9v0.9h-0.9zM270.9 84.2h0.9v0.9h-0.9zM265.6 78.4h0.9v0.9h-0.9zM268.7 82.5h0.9v0.9h-0.9zM268.6 78.8h0.9v0.9h-0.9zM263.9 79.1h0.9v0.9h-0.9zM264.7 76.6h0.9v0.9h-0.9zM267.9 84.1h0.9v0.9h-0.9zM266.5 80.0h0.9v0.9h-0.9zM267.4 78.5h0.9v0.9h-0.9zM265.8 79.9h0.9v0.9h-0.9zM272.1 77.8h0.9v0.9h-0.9zM273.1 75.8h0.9v0.9h-0.9zM268.7 73.5h0.9v0.9h-0.9zM265.7 79.5h0.9v0.9h-0.9zM267.7 79.8h0.9v0.9h-0.9zM275.1 71.6h0.9v0.9h-0.9zM274.4 80.9h0.9v0.9h-0.9zM262.9 86.4h0.9v0.9h-0.9zM263.6 79.0h0.9v0.9h-0.9zM262.5 75.1h0.9v0.9h-0.9zM265.6 79.6h0.9v0.9h-0.9zM266.4 80.8h0.9v0.9h-0.9zM268.0 79.1h0.9v0.9h-0.9zM261.2 75.6h0.9v0.9h-0.9zM266.3 73.0h0.9v0.9h-0.9zM266.7 83.1h0.9v0.9h-0.9zM267.9 71.8h0.9v0.9h-0.9zM262.3 78.9h0.9v0.9h-0.9zM268.4 81.9h0.9v0.9h-0.9zM271.0 73.9h0.9v0.9h-0.9zM272.9 71.7h0.9v0.9h-0.9zM268.2 80.2h0.9v0.9h-0.9zM264.5 83.7h0.9v0.9h-0.9zM262.6 77.2h0.9v0.9h-0.9zM266.0 78.7h0.9v0.9h-0.9zM262.1 74.4h0.9v0.9h-0.9zM262.5 82.3h0.9v0.9h-0.9zM263.2 83.4h0.9v0.9h-0.9zM268.9 81.7h0.9v0.9h-0.9zM262.5 71.6h0.9v0.9h-0.9zM267.0 83.5h0.9v0.9h-0.9zM273.0 82.0h0.9v0.9h-0.9zM264.9 85.8h0.9v0.9h-0.9zM264.8 80.8h0.9v0.9h-0.9zM263.5 80.5h0.9v0.9h-0.9zM262.7 73.1h0.9v0.9h-0.9zM265.0 79.6h0.9v0.9h-0.9zM264.5 75.9h0.9v0.9h-0.9zM270.5 69.9h0.9v0.9h-0.9zM259.8 88.4h0.9v0.9h-0.9zM269.7 76.4h0.9v0.9h-0.9zM271.6 74.7h0.9v0.9h-0.9zM260.1 78.0h0.9v0.9h-0.9zM265.7 74.9h0.9v0.9h-0.9zM270.8 74.8h0.9v0.9h-0.9zM259.2 80.0h0.9v0.9h-0.9zM263.5 76.9h0.9v0.9h-0.9zM264.7 91.6h0.9v0.9h-0.9zM265.1 71.5h0.9v0.9h-0.9zM272.0 81.8h0.9v0.9h-0.9zM261.2 84.5h0.9v0.9h-0.9zM269.7 75.8h0.9v0.9h-0.9zM268.9 89.1h0.9v0.9h-0.9zM265.8 74.7h0.9v0.9h-0.9zM266.2 74.4h0.9v0.9h-0.9zM263.0 85.4h0.9v0.9h-0.9zM262.8 76.9h0.9v0.9h-0.9zM268.8 73.1h0.9v0.9h-0.9zM265.1 80.9h0.9v0.9h-0.9zM266.3 80.8h0.9v0.9h-0.9zM269.5 77.2h0.9v0.9h-0.9zM263.3 75.7h0.9v0.9h-0.9zM269.1 81.2h0.9v0.9h-0.9zM263.6 86.7h0.9v0.9h-0.9zM266.6 84.0h0.9v0.9h-0.9zM269.8 75.7h0.9v0.9h-0.9zM266.6 77.3h0.9v0.9h-0.9zM265.1 81.9h0.9v0.9h-0.9zM263.4 77.6h0.9v0.9h-0.9zM263.9 81.1h0.9v0.9h-0.9zM270.5 82.9h0.9v0.9h-0.9zM264.6 83.2h0.9v0.9h-0.9zM267.4 81.2h0.9v0.9h-0.9zM268.1 74.9h0.9v0.9h-0.9zM267.5 71.5h0.9v0.9h-0.9zM267.6 85.4h0.9v0.9h-0.9zM269.6 84.8h0.9v0.9h-0.9zM270.2 83.0h0.9v0.9h-0.9zM264.9 74.4h0.9v0.9h-0.9zM267.3 75.3h0.9v0.9h-0.9zM265.6 76.0h0.9v0.9h-0.9zM265.7 83.3h0.9v0.9h-0.9zM257.4 75.6h0.9v0.9h-0.9zM270.2 79.3h0.9v0.9h-0.9zM271.4 68.6h0.9v0.9h-0.9zM271.2 86.7h0.9v0.9h-0.9zM265.7 80.4h0.9v0.9h-0.9zM268.2 82.8h0.9v0.9h-0.9zM264.4 78.1h0.9v0.9h-0.9zM259.2 85.6h0.9v0.9h-0.9zM268.4 78.9h0.9v0.9h-0.9zM268.8 80.7h0.9v0.9h-0.9zM262.5 81.3h0.9v0.9h-0.9zM264.9 74.0h0.9v0.9h-0.9zM264.8 82.6h0.9v0.9h-0.9zM266.6 76.2h0.9v0.9h-0.9zM270.6 72.7h0.9v0.9h-0.9zM268.8 84.5h0.9v0.9h-0.9zM265.5 78.9h0.9v0.9h-0.9zM263.1 74.5h0.9v0.9h-0.9zM263.6 79.4h0.9v0.9h-0.9zM265.1 85.4h0.9v0.9h-0.9zM266.6 79.0h0.9v0.9h-0.9zM262.2 80.1h0.9v0.9h-0.9zM265.2 76.3h0.9v0.9h-0.9zM267.3 79.8h0.9v0.9h-0.9zM267.5 83.1h0.9v0.9h-0.9zM260.9 77.2h0.9v0.9h-0.9zM256.7 86.4h0.9v0.9h-0.9zM266.8 81.7h0.9v0.9h-0.9zM265.1 76.9h0.9v0.9h-0.9zM263.5 85.6h0.9v0.9h-0.9zM268.9 73.2h0.9v0.9h-0.9zM263.1 82.0h0.9v0.9h-0.9zM265.3 80.0h0.9v0.9h-0.9zM265.3 78.6h0.9v0.9h-0.9zM262.6 83.5h0.9v0.9h-0.9zM262.2 76.8h0.9v0.9h-0.9zM266.4 78.7h0.9v0.9h-0.9zM274.4 77.9h0.9v0.9h-0.9zM263.6 84.9h0.9v0.9h-0.9zM262.8 72.3h0.9v0.9h-0.9zM261.8 78.7h0.9v0.9h-0.9zM268.3 79.2h0.9v0.9h-0.9z" fill="#000" fill-opacity="0.45"/>
<path d="M269.6 75.2h0.9v0.9h-0.9zM264.8 72.2h0.9v0.9h-0.9zM263.4 76.9h0.9v0.9h-0.9zM266.1 75.4h0.9v0.9h-0.9zM265.4 75.7h0.9v0.9h-0.9zM268.0 79.1h0.9v0.9h-0.9zM268.2 75.4h0.9v0.9h-0.9zM265.8 76.7h0.9v0.9h-0.9zM269.7 79.7h0.9v0.9h-0.9zM272.5 76.3h0.9v0.9h-0.9zM266.5 76.3h0.9v0.9h-0.9zM270.6 74.5h0.9v0.9h-0.9zM264.4 78.4h0.9v0.9h-0.9zM268.3 75.9h0.9v0.9h-0.9zM265.6 76.9h0.9v0.9h-0.9zM272.0 79.6h0.9v0.9h-0.9zM269.0 85.6h0.9v0.9h-0.9zM261.5 84.8h0.9v0.9h-0.9zM274.5 72.4h0.9v0.9h-0.9zM269.5 85.7h0.9v0.9h-0.9zM265.5 77.4h0.9v0.9h-0.9zM265.6 70.2h0.9v0.9h-0.9zM268.4 75.8h0.9v0.9h-0.9zM261.1 84.5h0.9v0.9h-0.9zM262.5 82.5h0.9v0.9h-0.9zM269.8 84.0h0.9v0.9h-0.9zM264.2 77.0h0.9v0.9h-0.9zM270.6 72.7h0.9v0.9h-0.9zM266.9 77.4h0.9v0.9h-0.9zM256.7 83.9h0.9v0.9h-0.9zM273.2 71.6h0.9v0.9h-0.9zM262.3 77.0h0.9v0.9h-0.9zM264.4 81.3h0.9v0.9h-0.9zM268.1 79.9h0.9v0.9h-0.9zM265.6 74.4h0.9v0.9h-0.9zM267.3 76.5h0.9v0.9h-0.9zM265.7 81.9h0.9v0.9h-0.9zM269.7 80.8h0.9v0.9h-0.9zM271.3 77.8h0.9v0.9h-0.9zM265.5 83.1h0.9v0.9h-0.9zM262.4 81.1h0.9v0.9h-0.9zM263.5 93.3h0.9v0.9h-0.9zM264.4 76.1h0.9v0.9h-0.9zM271.8 75.5h0.9v0.9h-0.9zM260.4 88.4h0.9v0.9h-0.9zM268.6 77.4h0.9v0.9h-0.9zM267.1 72.3h0.9v0.9h-0.9zM268.9 76.0h0.9v0.9h-0.9zM259.9 79.9h0.9v0.9h-0.9zM258.9 81.3h0.9v0.9h-0.9zM257.2 83.4h0.9v0.9h-0.9zM262.6 71.1h0.9v0.9h-0.9zM272.3 73.9h0.9v0.9h-0.9zM267.1 78.5h0.9v0.9h-0.9zM264.1 77.4h0.9v0.9h-0.9zM263.5 75.2h0.9v0.9h-0.9zM270.8 78.5h0.9v0.9h-0.9zM269.4 73.3h0.9v0.9h-0.9zM263.9 78.3h0.9v0.9h-0.9zM269.6 90.3h0.9v0.9h-0.9zM268.7 79.5h0.9v0.9h-0.9zM260.4 81.5h0.9v0.9h-0.9zM274.0 78.2h0.9v0.9h-0.9zM274.4 70.9h0.9v0.9h-0.9zM265.0 79.2h0.9v0.9h-0.9zM264.9 77.0h0.9v0.9h-0.9zM272.0 85.2h0.9v0.9h-0.9zM271.1 82.0h0.9v0.9h-0.9zM266.0 83.0h0.9v0.9h-0.9zM261.0 77.2h0.9v0.9h-0.9zM268.9 76.1h0.9v0.9h-0.9zM265.0 76.1h0.9v0.9h-0.9zM264.0 81.4h0.9v0.9h-0.9zM271.0 74.6h0.9v0.9h-0.9zM266.7 84.7h0.9v0.9h-0.9zM265.5 79.4h0.9v0.9h-0.9zM265.1 71.4h0.9v0.9h-0.9zM270.1 77.4h0.9v0.9h-0.9zM266.7 76.9h0.9v0.9h-0.9zM271.5 80.6h0.9v0.9h-0.9zM268.3 84.3h0.9v0.9h-0.9zM262.4 71.4h0.9v0.9h-0.9zM263.7 74.7h0.9v0.9h-0.9zM265.0 81.6h0.9v0.9h-0.9zM264.3 75.8h0.9v0.9h-0.9zM263.4 83.7h0.9v0.9h-0.9zM267.1 78.2h0.9v0.9h-0.9zM267.3 79.0h0.9v0.9h-0.9zM271.3 81.8h0.9v0.9h-0.9zM267.2 79.6h0.9v0.9h-0.9zM263.5 86.7h0.9v0.9h-0.9zM263.0 80.2h0.9v0.9h-0.9zM267.5 72.1h0.9v0.9h-0.9zM270.2 72.8h0.9v0.9h-0.9zM269.4 82.1h0.9v0.9h-0.9zM265.4 81.9h0.9v0.9h-0.9zM265.5 79.7h0.9v0.9h-0.9zM268.0 84.2h0.9v0.9h-0.9zM267.0 81.8h0.9v0.9h-0.9zM267.5 72.4h0.9v0.9h-0.9zM262.1 76.7h0.9v0.9h-0.9zM264.6 76.9h0.9v0.9h-0.9zM265.6 75.4h0.9v0.9h-0.9zM266.1 76.6h0.9v0.9h-0.9zM261.6 85.9h0.9v0.9h-0.9zM266.3 81.3h0.9v0.9h-0.9zM267.7 71.2h0.9v0.9h-0.9zM260.4 84.8h0.9v0.9h-0.9zM268.0 80.0h0.9v0.9h-0.9zM265.3 74.2h0.9v0.9h-0.9zM261.8 81.6h0.9v0.9h-0.9zM265.9 77.2h0.9v0.9h-0.9zM260.6 86.9h0.9v0.9h-0.9zM273.4 81.5h0.9v0.9h-0.9zM259.5 77.5h0.9v0.9h-0.9zM266.3 82.5h0.9v0.9h-0.9zM267.9 77.7h0.9v0.9h-0.9zM261.0 78.4h0.9v0.9h-0.9zM268.1 82.2h0.9v0.9h-0.9zM265.7 75.6h0.9v0.9h-0.9zM269.4 77.7h0.9v0.9h-0.9zM261.1 82.1h0.9v0.9h-0.9zM267.5 86.2h0.9v0.9h-0.9zM273.7 68.4h0.9v0.9h-0.9zM263.5 73.3h0.9v0.9h-0.9zM264.7 74.8h0.9v0.9h-0.9zM265.2 77.1h0.9v0.9h-0.9zM270.0 79.7h0.9v0.9h-0.9zM262.0 77.0h0.9v0.9h-0.9zM265.6 77.8h0.9v0.9h-0.9zM262.9 72.9h0.9v0.9h-0.9zM268.7 83.1h0.9v0.9h-0.9zM262.8 70.7h0.9v0.9h-0.9zM261.0 72.2h0.9v0.9h-0.9zM266.1 74.8h0.9v0.9h-0.9zM268.2 80.0h0.9v0.9h-0.9zM266.2 92.2h0.9v0.9h-0.9zM267.7 71.8h0.9v0.9h-0.9zM273.5 83.7h0.9v0.9h-0.9zM261.5 82.8h0.9v0.9h-0.9zM262.3 79.2h0.9v0.9h-0.9zM267.7 78.4h0.9v0.9h-0.9z" fill="#000" fill-opacity="0.45"/>
<path d="M267.7 74.8h0.9v0.9h-0.9zM265.8 83.7h0.9v0.9h-0.9zM264.3 74.6h0.9v0.9h-0.9zM265.9 73.6h0.9v0.9h-0.9zM269.3 80.7h0.9v0.9h-0.9zM270.8 79.7h0.9v0.9h-0.9zM260.7 84.7h0.9v0.9h-0.9zM266.0 80.6h0.9v0.9h-0.9zM270.4 76.8h0.9v0.9h-0.9zM266.4 83.5h0.9v0.9h-0.9zM257.5 73.7h0.9v0.9h-0.9zM268.9 78.6h0.9v0.9h-0.9zM265.2 84.9h0.9v0.9h-0.9zM268.2 82.7h0.9v0.9h-0.9zM265.6 84.6h0.9v0.9h-0.9zM267.0 81.1h0.9v0.9h-0.9zM266.2 85.3h0.9v0.9h-0.9zM263.1 81.2h0.9v0.9h-0.9zM267.7 82.6h0.9v0.9h-0.9zM267.6 86.9h0.9v0.9h-0.9zM263.7 85.2h0.9v0.9h-0.9zM266.2 82.7h0.9v0.9h-0.9zM262.4 71.5h0.9v0.9h-0.9zM268.9 75.9h0.9v0.9h-0.9zM264.0 80.1h0.9v0.9h-0.9zM271.3 79.0h0.9v0.9h-0.9zM267.9 77.3h0.9v0.9h-0.9zM267.8 68.0h0.9v0.9h-0.9zM265.9 66.4h0.9v0.9h-0.9zM264.0 77.6h0.9v0.9h-0.9zM274.6 80.2h0.9v0.9h-0.9zM271.3 94.4h0.9v0.9h-0.9zM266.7 84.1h0.9v0.9h-0.9zM271.2 75.3h0.9v0.9h-0.9zM262.3 76.6h0.9v0.9h-0.9zM265.0 72.9h0.9v0.9h-0.9zM268.1 80.1h0.9v0.9h-0.9zM265.9 71.1h0.9v0.9h-0.9zM263.5 75.8h0.9v0.9h-0.9zM265.3 78.1h0.9v0.9h-0.9zM263.3 81.4h0.9v0.9h-0.9zM260.1 78.5h0.9v0.9h-0.9zM268.9 76.6h0.9v0.9h-0.9zM262.3 83.0h0.9v0.9h-0.9zM266.4 81.7h0.9v0.9h-0.9zM263.9 77.4h0.9v0.9h-0.9zM266.1 80.9h0.9v0.9h-0.9zM265.0 74.0h0.9v0.9h-0.9zM263.3 83.2h0.9v0.9h-0.9zM263.8 77.9h0.9v0.9h-0.9zM267.9 74.7h0.9v0.9h-0.9zM266.3 73.6h0.9v0.9h-0.9zM264.9 79.8h0.9v0.9h-0.9zM260.4 72.6h0.9v0.9h-0.9zM272.1 77.2h0.9v0.9h-0.9zM264.4 81.1h0.9v0.9h-0.9zM268.9 78.8h0.9v0.9h-0.9zM264.3 82.3h0.9v0.9h-0.9zM264.5 77.7h0.9v0.9h-0.9zM263.3 77.8h0.9v0.9h-0.9zM271.5 78.0h0.9v0.9h-0.9zM266.3 76.6h0.9v0.9h-0.9zM261.8 81.3h0.9v0.9h-0.9zM264.7 82.5h0.9v0.9h-0.9zM266.8 77.4h0.9v0.9h-0.9zM270.0 71.3h0.9v0.9h-0.9zM268.2 81.5h0.9v0.9h-0.9zM270.0 79.6h0.9v0.9h-0.9zM263.0 75.8h0.9v0.9h-0.9zM267.9 81.0h0.9v0.9h-0.9zM264.4 83.1h0.9v0.9h-0.9zM267.5 75.7h0.9v0.9h-0.9zM266.5 76.5h0.9v0.9h-0.9zM270.8 73.7h0.9v0.9h-0.9zM261.3 73.9h0.9v0.9h-0.9zM269.2 75.7h0.9v0.9h-0.9zM259.7 82.4h0.9v0.9h-0.9zM266.1 88.0h0.9v0.9h-0.9zM268.4 78.8h0.9v0.9h-0.9zM265.6 78.5h0.9v0.9h-0.9zM264.0 79.5h0.9v0.9h-0.9zM268.9 73.1h0.9v0.9h-0.9zM261.7 85.9h0.9v0.9h-0.9zM265.9 85.9h0.9v0.9h-0.9zM264.4 82.3h0.9v0.9h-0.9zM265.7 72.4h0.9v0.9h-0.9zM270.5 76.6h0.9v0.9h-0.9zM269.4 79.9h0.9v0.9h-0.9zM274.5 75.0h0.9v0.9h-0.9zM272.5 76.2h0.9v0.9h-0.9zM263.9 79.0h0.9v0.9h-0.9zM264.9 82.1h0.9v0.9h-0.9zM265.8 85.6h0.9v0.9h-0.9zM261.8 71.1h0.9v0.9h-0.9zM267.1 77.4h0.9v0.9h-0.9zM265.3 77.6h0.9v0.9h-0.9zM265.2 69.1h0.9v0.9h-0.9zM265.5 74.4h0.9v0.9h-0.9zM264.0 80.5h0.9v0.9h-0.9zM262.8 76.7h0.9v0.9h-0.9zM267.5 73.1h0.9v0.9h-0.9zM263.3 74.6h0.9v0.9h-0.9zM264.2 78.0h0.9v0.9h-0.9zM267.4 73.5h0.9v0.9h-0.9zM266.0 84.5h0.9v0.9h-0.9zM264.7 74.0h0.9v0.9h-0.9zM276.3 71.9h0.9v0.9h-0.9zM267.5 83.7h0.9v0.9h-0.9zM264.6 78.0h0.9v0.9h-0.9zM269.7 84.4h0.9v0.9h-0.9zM266.1 73.4h0.9v0.9h-0.9zM265.5 85.0h0.9v0.9h-0.9zM262.9 77.6h0.9v0.9h-0.9zM264.6 78.9h0.9v0.9h-0.9zM268.1 85.0h0.9v0.9h-0.9zM256.2 73.6h0.9v0.9h-0.9zM255.7 85.3h0.9v0.9h-0.9zM265.7 79.7h0.9v0.9h-0.9zM268.0 77.4h0.9v0.9h-0.9zM266.3 74.8h0.9v0.9h-0.9zM264.2 83.7h0.9v0.9h-0.9zM264.7 77.3h0.9v0.9h-0.9zM272.4 72.8h0.9v0.9h-0.9zM267.0 82.9h0.9v0.9h-0.9zM265.1 85.2h0.9v0.9h-0.9zM266.3 72.6h0.9v0.9h-0.9zM266.4 81.5h0.9v0.9h-0.9zM263.3 89.5h0.9v0.9h-0.9zM263.5 82.3h0.9v0.9h-0.9zM267.5 71.5h0.9v0.9h-0.9zM264.9 75.4h0.9v0.9h-0.9zM264.9 78.4h0.9v0.9h-0.9zM266.8 77.9h0.9v0.9h-0.9zM262.0 88.2h0.9v0.9h-0.9zM267.5 77.4h0.9v0.9h-0.9zM269.5 80.0h0.9v0.9h-0.9zM265.8 85.6h0.9v0.9h-0.9zM264.5 74.1h0.9v0.9h-0.9zM266.7 82.1h0.9v0.9h-0.9zM267.1 78.9h0.9v0.9h-0.9zM262.8 82.8h0.9v0.9h-0.9zM267.4 79.4h0.9v0.9h-0.9z" fill="#000" fill-opacity="0.45"/>
<path d="M265.0 80.5h0.9v0.9h-0.9zM262.3 77.2h0.9v0.9h-0.9zM266.1 74.2h0.9v0.9h-0.9zM270.0 82.0h0.9v0.9h-0.9zM264.7 77.3h0.9v0.9h-0.9zM264.1 77.3h0.9v0.9h-0.9zM263.1 77.9h0.9v0.9h-0.9zM265.7 87.8h0.9v0.9h-0.9zM264.1 80.7h0.9v0.9h-0.9zM263.5 78.5h0.9v0.9h-0.9zM266.4 82.0h0.9v0.9h-0.9zM263.9 75.4h0.9v0.9h-0.9zM261.8 79.1h0.9v0.9h-0.9zM259.5 74.0h0.9v0.9h-0.9zM267.1 80.2h0.9v0.9h-0.9zM264.0 69.2h0.9v0.9h-0.9zM266.0 78.6h0.9v0.9h-0.9zM268.2 74.3h0.9v0.9h-0.9zM264.0 76.1h0.9v0.9h-0.9zM260.8 80.8h0.9v0.9h-0.9zM270.3 85.0h0.9v0.9h-0.9zM265.3 76.8h0.9v0.9h-0.9zM264.0 81.7h0.9v0.9h-0.9zM263.5 76.9h0.9v0.9h-0.9zM266.8 75.5h0.9v0.9h-0.9zM266.8 74.9h0.9v0.9h-0.9zM270.8 76.8h0.9v0.9h-0.9zM263.8 80.0h0.9v0.9h-0.9zM266.1 77.6h0.9v0.9h-0.9zM273.8 72.3h0.9v0.9h-0.9zM264.5 70.1h0.9v0.9h-0.9zM265.1 82.4h0.9v0.9h-0.9zM264.4 76.9h0.9v0.9h-0.9zM266.9 81.5h0.9v0.9h-0.9zM270.6 74.7h0.9v0.9h-0.9zM264.5 80.4h0.9v0.9h-0.9zM272.4 78.8h0.9v0.9h-0.9zM265.2 78.2h0.9v0.9h-0.9zM266.6 74.1h0.9v0.9h-0.9zM266.7 82.1h0.9v0.9h-0.9zM264.5 76.3h0.9v0.9h-0.9zM275.2 78.4h0.9v0.9h-0.9zM264.2 75.7h0.9v0.9h-0.9zM265.6 77.7h0.9v0.9h-0.9zM260.9 82.5h0.9v0.9h-0.9zM270.0 79.8h0.9v0.9h-0.9zM265.7 73.9h0.9v0.9h-0.9zM262.3 73.3h0.9v0.9h-0.9zM264.6 76.6h0.9v0.9h-0.9zM268.3 80.6h0.9v0.9h-0.9zM268.1 79.0h0.9v0.9h-0.9zM264.9 80.6h0.9v0.9h-0.9zM266.0 76.2h0.9v0.9h-0.9zM263.5 90.4h0.9v0.9h-0.9zM269.7 75.0h0.9v0.9h-0.9zM267.4 74.2h0.9v0.9h-0.9zM265.3 77.7h0.9v0.9h-0.9zM265.7 82.3h0.9v0.9h-0.9zM268.3 80.4h0.9v0.9h-0.9zM265.0 81.0h0.9v0.9h-0.9zM269.9 73.9h0.9v0.9h-0.9zM264.5 79.5h0.9v0.9h-0.9zM268.2 85.3h0.9v0.9h-0.9zM264.1 71.4h0.9v0.9h-0.9zM267.5 85.7h0.9v0.9h-0.9zM269.7 77.1h0.9v0.9h-0.9zM260.4 76.4h0.9v0.9h-0.9zM269.0 88.6h0.9v0.9h-0.9zM266.2 83.0h0.9v0.9h-0.9zM262.5 82.4h0.9v0.9h-0.9zM269.4 77.0h0.9v0.9h-0.9zM266.6 80.2h0.9v0.9h-0.9zM270.2 80.4h0.9v0.9h-0.9zM270.6 81.7h0.9v0.9h-0.9zM261.6 83.3h0.9v0.9h-0.9zM267.2 74.6h0.9v0.9h-0.9zM262.6 75.6h0.9v0.9h-0.9zM265.3 76.6h0.9v0.9h-0.9zM269.2 75.8h0.9v0.9h-0.9zM263.6 78.9h0.9v0.9h-0.9zM264.2 81.4h0.9v0.9h-0.9zM274.2 74.1h0.9v0.9h-0.9zM260.9 68.9h0.9v0.9h-0.9zM269.4 81.3h0.9v0.9h-0.9zM272.1 81.0h0.9v0.9h-0.9zM259.6 83.1h0.9v0.9h-0.9zM264.4 80.1h0.9v0.9h-0.9zM265.9 79.7h0.9v0.9h-0.9zM269.0 81.2h0.9v0.9h-0.9zM266.4 71.1h0.9v0.9h-0.9zM268.2 74.7h0.9v0.9h-0.9zM262.7 87.9h0.9v0.9h-0.9zM267.1 80.1h0.9v0.9h-0.9zM268.8 72.9h0.9v0.9h-0.9zM267.3 74.8h0.9v0.9h-0.9zM266.7 76.6h0.9v0.9h-0.9zM262.6 80.0h0.9v0.9h-0.9zM267.6 75.6h0.9v0.9h-0.9zM260.2 78.6h0.9v0.9h-0.9zM270.9 78.0h0.9v0.9h-0.9zM261.7 83.1h0.9v0.9h-0.9zM273.1 77.0h0.9v0.9h-0.9zM270.0 75.7h0.9v0.9h-0.9zM264.2 81.6h0.9v0.9h-0.9zM262.2 80.7h0.9v0.9h-0.9zM267.5 81.5h0.9v0.9h-0.9zM263.0 76.2h0.9v0.9h-0.9zM266.4 81.0h0.9v0.9h-0.9zM268.2 75.7h0.9v0.9h-0.9zM268.5 74.4h0.9v0.9h-0.9zM267.2 74.3h0.9v0.9h-0.9zM265.2 81.2h0.9v0.9h-0.9zM272.7 74.7h0.9v0.9h-0.9zM272.1 75.9h0.9v0.9h-0.9zM263.6 79.8h0.9v0.9h-0.9zM266.6 79.4h0.9v0.9h-0.9zM270.1 79.1h0.9v0.9h-0.9zM262.6 75.8h0.9v0.9h-0.9zM267.2 78.0h0.9v0.9h-0.9zM264.1 79.4h0.9v0.9h-0.9zM267.0 74.1h0.9v0.9h-0.9zM270.0 84.5h0.9v0.9h-0.9zM271.1 74.7h0.9v0.9h-0.9zM263.7 84.4h0.9v0.9h-0.9zM269.0 68.5h0.9v0.9h-0.9zM257.5 85.7h0.9v0.9h-0.9zM268.1 76.1h0.9v0.9h-0.9zM263.0 76.6h0.9v0.9h-0.9zM269.3 76.1h0.9v0.9h-0.9zM266.2 72.3h0.9v0.9h-0.9zM264.6 80.4h0.9v0.9h-0.9zM268.3 83.3h0.9v0.9h-0.9zM262.8 74.0h0.9v0.9h-0.9zM268.0 82.7h0.9v0.9h-0.9zM266.6 78.6h0.9v0.9h-0.9zM267.9 81.4h0.9v0.9h-0.9zM265.1 80.0h0.9v0.9h-0.9zM267.2 73.4h0.9v0.9h-0.9zM272.3 75.7h0.9v0.9h-0.9zM269.0 79.6h0.9v0.9h-0.9zM257.3 78.3h0.9v0.9h-0.9zM262.3 78.7h0.9v0.9h-0.9z" fill="#000" fill-opacity="0.45"/>
<path d="M261.7 73.4h0.9v0.9h-0.9zM262.3 74.5h0.9v0.9h-0.9zM263.3 85.5h0.9v0.9h-0.9zM272.9 78.1h0.9v0.9h-0.9zM267.5 78.2h0.9v0.9h-0.9zM265.0 78.7h0.9v0.9h-0.9zM272.7 71.9h0.9v0.9h-0.9zM268.9 79.8h0.9v0.9h-0.9zM261.5 77.8h0.9v0.9h-0.9zM259.6 77.5h0.9v0.9h-0.9zM259.0 65.6h0.9v0.9h-0.9zM270.7 77.4h0.9v0.9h-0.9zM264.5 76.3h0.9v0.9h-0.9zM261.7 81.5h0.9v0.9h-0.9zM263.0 80.1h0.9v0.9h-0.9zM265.6 82.8h0.9v0.9h-0.9zM263.9 76.8h0.9v0.9h-0.9zM266.4 79.0h0.9v0.9h-0.9zM262.8 78.1h0.9v0.9h-0.9zM260.1 88.4h0.9v0.9h-0.9zM271.7 78.9h0.9v0.9h-0.9zM257.5 80.8h0.9v0.9h-0.9zM264.6 86.0h0.9v0.9h-0.9zM274.3 83.3h0.9v0.9h-0.9zM270.7 80.4h0.9v0.9h-0.9zM269.6 73.7h0.9v0.9h-0.9zM261.2 87.2h0.9v0.9h-0.9zM266.0 79.0h0.9v0.9h-0.9zM269.7 81.9h0.9v0.9h-0.9zM268.3 77.2h0.9v0.9h-0.9zM268.4 82.1h0.9v0.9h-0.9zM269.3 79.1h0.9v0.9h-0.9zM265.7 81.7h0.9v0.9h-0.9zM263.8 86.5h0.9v0.9h-0.9zM259.8 76.4h0.9v0.9h-0.9zM265.6 79.5h0.9v0.9h-0.9zM268.3 89.5h0.9v0.9h-0.9zM266.5 76.2h0.9v0.9h-0.9zM262.3 75.4h0.9v0.9h-0.9zM269.3 80.3h0.9v0.9h-0.9zM272.4 75.2h0.9v0.9h-0.9zM269.5 80.7h0.9v0.9h-0.9zM264.8 79.3h0.9v0.9h-0.9zM267.3 79.5h0.9v0.9h-0.9zM271.9 72.9h0.9v0.9h-0.9zM260.1 93.0h0.9v0.9h-0.9zM270.3 74.8h0.9v0.9h-0.9zM263.3 76.3h0.9v0.9h-0.9zM263.6 83.6h0.9v0.9h-0.9zM265.4 79.5h0.9v0.9h-0.9zM270.9 75.7h0.9v0.9h-0.9zM267.9 85.7h0.9v0.9h-0.9zM274.1 76.4h0.9v0.9h-0.9zM266.2 67.7h0.9v0.9h-0.9zM264.8 82.5h0.9v0.9h-0.9zM267.6 82.9h0.9v0.9h-0.9zM265.9 82.4h0.9v0.9h-0.9zM272.7 84.6h0.9v0.9h-0.9zM270.1 76.3h0.9v0.9h-0.9zM261.3 79.6h0.9v0.9h-0.9zM266.8 76.3h0.9v0.9h-0.9zM264.9 84.0h0.9v0.9h-0.9zM270.4 82.2h0.9v0.9h-0.9zM266.6 77.8h0.9v0.9h-0.9zM266.2 71.9h0.9v0.9h-0.9zM262.6 74.1h0.9v0.9h-0.9zM265.4 84.6h0.9v0.9h-0.9zM269.3 77.5h0.9v0.9h-0.9zM261.9 79.9h0.9v0.9h-0.9zM264.6 82.7h0.9v0.9h-0.9zM269.5 83.7h0.9v0.9h-0.9zM261.6 88.6h0.9v0.9h-0.9zM261.0 72.9h0.9v0.9h-0.9zM265.6 68.5h0.9v0.9h-0.9zM262.6 81.1h0.9v0.9h-0.9zM266.6 82.0h0.9v0.9h-0.9zM261.6 81.6h0.9v0.9h-0.9zM266.9 71.9h0.9v0.9h-0.9zM265.4 84.4h0.9v0.9h-0.9zM267.8 71.6h0.9v0.9h-0.9zM265.3 77.7h0.9v0.9h-0.9zM262.6 75.5h0.9v0.9h-0.9zM268.6 80.2h0.9v0.9h-0.9zM269.3 76.4h0.9v0.9h-0.9zM270.9 80.7h0.9v0.9h-0.9zM269.6 76.3h0.9v0.9h-0.9zM265.9 80.1h0.9v0.9h-0.9zM260.1 74.1h0.9v0.9h-0.9zM268.2 73.7h0.9v0.9h-0.9zM264.8 83.2h0.9v0.9h-0.9zM261.8 80.9h0.9v0.9h-0.9zM263.1 87.7h0.9v0.9h-0.9zM264.4 81.1h0.9v0.9h-0.9zM262.8 78.2h0.9v0.9h-0.9zM267.5 78.8h0.9v0.9h-0.9zM265.0 80.1h0.9v0.9h-0.9zM260.0 81.2h0.9v0.9h-0.9zM265.6 82.2h0.9v0.9h-0.9zM267.2 78.9h0.9v0.9h-0.9zM264.9 83.9h0.9v0.9h-0.9zM264.4 78.1h0.9v0.9h-0.9zM264.0 80.8h0.9v0.9h-0.9zM263.4 81.2h0.9v0.9h-0.9zM270.2 83.7h0.9v0.9h-0.9zM266.7 77.7h0.9v0.9h-0.9zM273.2 79.5h0.9v0.9h-0.9zM260.8 79.1h0.9v0.9h-0.9zM266.4 81.5h0.9v0.9h-0.9zM267.2 84.2h0.9v0.9h-0.9zM265.3 75.8h0.9v0.9h-0.9zM264.7 77.8h0.9v0.9h-0.9zM265.0 76.3h0.9v0.9h-0.9zM258.8 76.6h0.9v0.9h-0.9zM259.2 83.2h0.9v0.9h-0.9zM259.5 85.3h0.9v0.9h-0.9zM264.1 79.4h0.9v0.9h-0.9zM272.4 74.2h0.9v0.9h-0.9zM262.9 82.6h0.9v0.9h-0.9zM257.5 81.2h0.9v0.9h-0.9zM262.7 82.3h0.9v0.9h-0.9zM268.2 78.9h0.9v0.9h-0.9zM262.5 74.4h0.9v0.9h-0.9zM264.4 81.1h0.9v0.9h-0.9zM272.0 84.5h0.9v0.9h-0.9zM269.6 79.6h0.9v0.9h-0.9zM266.9 74.5h0.9v0.9h-0.9zM260.9 76.5h0.9v0.9h-0.9zM264.1 81.9h0.9v0.9h-0.9zM266.1 85.0h0.9v0.9h-0.9zM269.2 69.1h0.9v0.9h-0.9zM263.3 82.4h0.9v0.9h-0.9zM269.7 80.4h0.9v0.9h-0.9zM269.3 77.5h0.9v0.9h-0.9zM261.7 81.8h0.9v0.9h-0.9zM267.2 83.4h0.9v0.9h-0.9zM262.7 84.2h0.9v0.9h-0.9zM265.0 76.4h0.9v0.9h-0.9zM269.3 79.3h0.9v0.9h-0.9zM264.4 79.0h0.9v0.9h-0.9zM267.3 75.0h0.9v0.9h-0.9zM266.3 78.8h0.9v0.9h-0.9zM265.3 77.3h0.9v0.9h-0.9z" fill="#000" fill-opacity="0.45"/>
<path d="M263.4 78.5h0.9v0.9h-0.9zM271.3 81.0h0.9v0.9h-0.9zM262.0 71.7h0.9v0.9h-0.9zM266.7 77.7h0.9v0.9h-0.9zM265.6 77.5h0.9v0.9h-0.9zM269.1 79.0h0.9v0.9h-0.9zM268.4 79.7h0.9v0.9h-0.9zM272.3 82.0h0.9v0.9h-0.9zM265.2 86.5h0.9v0.9h-0.9zM259.5 75.2h0.9v0.9h-0.9zM267.9 74.4h0.9v0.9h-0.9zM265.9 75.7h0.9v0.9h-0.9zM270.7 83.0h0.9v0.9h-0.9zM270.7 74.4h0.9v0.9h-0.9zM269.1 75.2h0.9v0.9h-0.9zM267.5 76.7h0.9v0.9h-0.9zM265.7 83.7h0.9v0.9h-0.9zM264.7 82.2h0.9v0.9h-0.9zM269.3 84.4h0.9v0.9h-0.9zM264.5 72.6h0.9v0.9h-0.9zM270.9 79.8h0.9v0.9h-0.9zM261.8 81.0h0.9v0.9h-0.9zM266.3 79.7h0.9v0.9h-0.9zM262.5 79.0h0.9v0.9h-0.9zM270.2 78.3h0.9v0.9h-0.9zM264.0 80.4h0.9v0.9h-0.9zM271.1 80.4h0.9v0.9h-0.9zM261.8 80.3h0.9v0.9h-0.9zM267.9 87.5h0.9v0.9h-0.9zM267.3 75.2h0.9v0.9h-0.9zM265.6 78.4h0.9v0.9h-0.9zM260.1 82.3h0.9v0.9h-0.9zM267.0 74.5h0.9v0.9h-0.9zM266.1 85.3h0.9v0.9h-0.9zM276.8 78.9h0.9v0.9h-0.9zM270.8 78.6h0.9v0.9h-0.9zM272.9 82.0h0.9v0.9h-0.9zM264.5 82.6h0.9v0.9h-0.9zM268.9 81.6h0.9v0.9h-0.9zM270.0 68.3h0.9v0.9h-0.9zM261.7 80.4h0.9v0.9h-0.9zM261.0 79.3h0.9v0.9h-0.9zM264.8 77.5h0.9v0.9h-0.9zM264.9 79.7h0.9v0.9h-0.9zM264.9 76.2h0.9v0.9h-0.9zM261.3 76.4h0.9v0.9h-0.9zM268.2 77.0h0.9v0.9h-0.9zM267.7 67.6h0.9v0.9h-0.9zM258.7 80.0h0.9v0.9h-0.9zM267.7 81.7h0.9v0.9h-0.9zM270.2 75.1h0.9v0.9h-0.9zM269.4 75.8h0.9v0.9h-0.9zM267.8 76.4h0.9v0.9h-0.9zM269.1 76.8h0.9v0.9h-0.9zM261.6 78.7h0.9v0.9h-0.9zM264.3 76.6h0.9v0.9h-0.9zM266.5 73.1h0.9v0.9h-0.9zM271.8 83.1h0.9v0.9h-0.9zM264.9 71.6h0.9v0.9h-0.9zM269.2 76.6h0.9v0.9h-0.9zM264.4 72.0h0.9v0.9h-0.9zM258.1 80.6h0.9v0.9h-0.9zM265.9 80.5h0.9v0.9h-0.9zM262.2 85.6h0.9v0.9h-0.9zM267.5 79.4h0.9v0.9h-0.9zM267.0 83.4h0.9v0.9h-0.9zM262.8 79.6h0.9v0.9h-0.9zM266.4 74.9h0.9v0.9h-0.9zM262.8 82.4h0.9v0.9h-0.9zM263.1 80.7h0.9v0.9h-0.9zM268.6 78.4h0.9v0.9h-0.9zM265.7 80.8h0.9v0.9h-0.9zM267.2 81.5h0.9v0.9h-0.9zM266.6 72.7h0.9v0.9h-0.9zM266.2 72.0h0.9v0.9h-0.9zM265.1 83.8h0.9v0.9h-0.9zM262.9 83.6h0.9v0.9h-0.9zM263.1 85.6h0.9v0.9h-0.9zM270.2 78.2h0.9v0.9h-0.9zM260.6 93.1h0.9v0.9h-0.9zM271.9 79.5h0.9v0.9h-0.9zM268.8 83.3h0.9v0.9h-0.9zM257.2 74.6h0.9v0.9h-0.9zM263.6 81.0h0.9v0.9h-0.9zM261.5 78.0h0.9v0.9h-0.9zM270.0 79.2h0.9v0.9h-0.9zM266.6 75.4h0.9v0.9h-0.9zM262.1 85.5h0.9v0.9h-0.9zM269.9 79.2h0.9v0.9h-0.9zM264.6 82.4h0.9v0.9h-0.9zM268.3 80.3h0.9v0.9h-0.9zM263.3 80.8h0.9v0.9h-0.9zM263.3 76.2h0.9v0.9h-0.9zM265.0 72.8h0.9v0.9h-0.9zM262.9 65.6h0.9v0.9h-0.9zM265.3 85.3h0.9v0.9h-0.9zM264.2 78.7h0.9v0.9h-0.9zM266.5 85.4h0.9v0.9h-0.9zM261.7 77.0h0.9v0.9h-0.9zM264.0 79.4h0.9v0.9h-0.9zM264.2 81.8h0.9v0.9h-0.9zM266.1 82.0h0.9v0.9h-0.9zM266.9 82.0h0.9v0.9h-0.9zM271.3 75.3h0.9v0.9h-0.9zM264.4 75.0h0.9v0.9h-0.9zM262.7 79.0h0.9v0.9h-0.9zM264.6 78.6h0.9v0.9h-0.9zM267.1 85.9h0.9v0.9h-0.9zM268.3 84.8h0.9v0.9h-0.9zM268.6 66.2h0.9v0.9h-0.9zM267.8 83.0h0.9v0.9h-0.9zM268.0 76.3h0.9v0.9h-0.9zM264.9 74.0h0.9v0.9h-0.9zM268.7 77.4h0.9v0.9h-0.9zM262.8 84.0h0.9v0.9h-0.9zM264.6 75.3h0.9v0.9h-0.9zM270.2 80.8h0.9v0.9h-0.9zM263.1 70.7h0.9v0.9h-0.9zM264.8 75.9h0.9v0.9h-0.9zM262.1 81.1h0.9v0.9h-0.9zM263.7 80.7h0.9v0.9h-0.9zM267.1 77.9h0.9v0.9h-0.9zM263.3 72.1h0.9v0.9h-0.9zM267.2 85.5h0.9v0.9h-0.9zM266.1 73.2h0.9v0.9h-0.9zM266.6 85.3h0.9v0.9h-0.9zM264.2 75.6h0.9v0.9h-0.9zM271.4 73.8h0.9v0.9h-0.9zM266.9 73.4h0.9v0.9h-0.9zM262.2 78.9h0.9v0.9h-0.9zM263.2 81.1h0.9v0.9h-0.9zM263.5 79.4h0.9v0.9h-0.9zM266.1 86.6h0.9v0.9h-0.9zM269.4 83.2h0.9v0.9h-0.9zM264.9 72.6h0.9v0.9h-0.9zM266.4 82.7h0.9v0.9h-0.9zM270.0 81.9h0.9v0.9h-0.9zM264.2 82.6h0.9v0.9h-0.9zM269.4 70.6h0.9v0.9h-0.9zM264.1 78.3h0.9v0.9h-0.9zM262.0 85.9h0.9v0.9h-0.9z" fill="#000" fill-opacity="0.45"/>
<path d="M263.3 79.8h0.9v0.9h-0.9zM265.3 78.9h0.9v0.9h-0.9zM263.6 75.9h0.9v0.9h-0.9zM266.6 77.7h0.9v0.9h-0.9zM259.3 85.2h0.9v0.9h-0.9zM264.8 83.2h0.9v0.9h-0.9zM265.4 79.9h0.9v0.9h-0.9zM266.8 81.3h0.9v0.9h-0.9zM263.4 80.1h0.9v0.9h-0.9zM271.3 82.1h0.9v0.9h-0.9zM266.1 76.6h0.9v0.9h-0.9zM262.5 82.4h0.9v0.9h-0.9zM264.4 80.7h0.9v0.9h-0.9zM264.1 77.9h0.9v0.9h-0.9zM273.0 76.4h0.9v0.9h-0.9zM263.2 81.9h0.9v0.9h-0.9zM262.9 81.7h0.9v0.9h-0.9zM261.7 89.6h0.9v0.9h-0.9zM266.3 84.1h0.9v0.9h-0.9zM269.1 82.5h0.9v0.9h-0.9zM266.6 80.2h0.9v0.9h-0.9zM264.4 77.7h0.9v0.9h-0.9zM268.9 71.3h0.9v0.9h-0.9zM262.4 84.9h0.9v0.9h-0.9zM263.0 72.0h0.9v0.9h-0.9zM264.1 79.9h0.9v0.9h-0.9zM268.5 81.0h0.9v0.9h-0.9zM262.2 82.0h0.9v0.9h-0.9zM266.9 75.0h0.9v0.9h-0.9zM272.0 75.0h0.9v0.9h-0.9zM267.3 77.1h0.9v0.9h-0.9zM265.1 80.7h0.9v0.9h-0.9zM259.7 82.7h0.9v0.9h-0.9zM269.4 78.9h0.9v0.9h-0.9zM267.6 77.3h0.9v0.9h-0.9zM266.2 82.9h0.9v0.9h-0.9zM267.6 71.7h0.9v0.9h-0.9zM263.5 77.2h0.9v0.9h-0.9zM271.4 77.4h0.9v0.9h-0.9zM272.1 73.0h0.9v0.9h-0.9zM265.8 76.7h0.9v0.9h-0.9zM263.2 78.4h0.9v0.9h-0.9zM262.3 83.6h0.9v0.9h-0.9zM263.9 78.0h0.9v0.9h-0.9zM262.4 84.4h0.9v0.9h-0.9zM269.2 74.6h0.9v0.9h-0.9zM258.7 84.4h0.9v0.9h-0.9zM262.5 83.4h0.9v0.9h-0.9zM266.9 76.2h0.9v0.9h-0.9zM276.4 66.8h0.9v0.9h-0.9zM266.2 81.6h0.9v0.9h-0.9zM268.4 76.4h0.9v0.9h-0.9zM268.4 68.0h0.9v0.9h-0.9zM261.0 79.6h0.9v0.9h-0.9zM260.3 71.3h0.9v0.9h-0.9zM267.6 70.9h0.9v0.9h-0.9zM264.9 73.3h0.9v0.9h-0.9zM262.0 84.5h0.9v0.9h-0.9zM260.8 75.0h0.9v0.9h-0.9zM259.5 73.6h0.9v0.9h-0.9zM266.4 80.8h0.9v0.9h-0.9zM264.5 77.9h0.9v0.9h-0.9zM266.8 76.4h0.9v0.9h-0.9zM270.3 83.1h0.9v0.9h-0.9zM268.5 76.4h0.9v0.9h-0.9zM269.9 82.2h0.9v0.9h-0.9zM265.6 79.2h0.9v0.9h-0.9zM267.8 82.3h0.9v0.9h-0.9zM266.1 78.0h0.9v0.9h-0.9zM271.1 77.6h0.9v0.9h-0.9zM267.3 76.3h0.9v0.9h-0.9zM267.0 78.8h0.9v0.9h-0.9zM266.8 80.6h0.9v0.9h-0.9zM271.3 74.4h0.9v0.9h-0.9zM267.9 73.9h0.9v0.9h-0.9zM268.2 81.0h0.9v0.9h-0.9zM263.5 79.4h0.9v0.9h-0.9zM263.4 77.1h0.9v0.9h-0.9zM267.1 77.3h0.9v0.9h-0.9zM268.4 78.9h0.9v0.9h-0.9zM261.1 78.0h0.9v0.9h-0.9zM267.7 80.6h0.9v0.9h-0.9zM263.8 83.9h0.9v0.9h-0.9zM268.6 74.4h0.9v0.9h-0.9zM268.7 86.1h0.9v0.9h-0.9zM267.6 72.6h0.9v0.9h-0.9zM268.3 80.0h0.9v0.9h-0.9zM267.3 83.0h0.9v0.9h-0.9zM263.9 75.6h0.9v0.9h-0.9zM262.6 83.4h0.9v0.9h-0.9zM261.6 76.5h0.9v0.9h-0.9zM271.4 74.5h0.9v0.9h-0.9zM274.6 75.3h0.9v0.9h-0.9zM268.7 81.9h0.9v0.9h-0.9zM264.5 76.2h0.9v0.9h-0.9zM269.0 79.2h0.9v0.9h-0.9zM263.1 80.5h0.9v0.9h-0.9zM268.7 74.6h0.9v0.9h-0.9zM261.2 83.8h0.9v0.9h-0.9zM267.7 76.3h0.9v0.9h-0.9zM268.9 83.4h0.9v0.9h-0.9zM264.6 73.4h0.9v0.9h-0.9zM267.4 77.8h0.9v0.9h-0.9zM263.2 74.8h0.9v0.9h-0.9zM265.7 74.5h0.9v0.9h-0.9zM266.8 79.2h0.9v0.9h-0.9zM262.5 80.0h0.9v0.9h-0.9zM269.5 83.0h0.9v0.9h-0.9zM265.2 85.8h0.9v0.9h-0.9zM268.1 78.1h0.9v0.9h-0.9zM270.6 78.2h0.9v0.9h-0.9zM265.0 71.7h0.9v0.9h-0.9zM264.7 83.7h0.9v0.9h-0.9zM265.7 77.1h0.9v0.9h-0.9zM262.0 78.3h0.9v0.9h-0.9zM269.5 78.0h0.9v0.9h-0.9zM270.0 81.5h0.9v0.9h-0.9zM266.5 72.2h0.9v0.9h-0.9zM267.8 77.4h0.9v0.9h-0.9zM264.8 73.7h0.9v0.9h-0.9zM269.7 76.4h0.9v0.9h-0.9zM261.7 85.6h0.9v0.9h-0.9zM266.2 84.6h0.9v0.9h-0.9zM269.8 81.0h0.9v0.9h-0.9zM261.0 75.2h0.9v0.9h-0.9zM265.9 79.8h0.9v0.9h-0.9zM271.6 74.5h0.9v0.9h-0.9zM273.6 83.4h0.9v0.9h-0.9zM261.1 70.0h0.9v0.9h-0.9zM268.4 87.7h0.9v0.9h-0.9zM268.3 76.8h0.9v0.9h-0.9zM267.1 79.6h0.9v0.9h-0.9zM276.4 75.1h0.9v0.9h-0.9zM272.2 77.1h0.9v0.9h-0.9zM264.0 73.0h0.9v0.9h-0.9zM268.6 75.6h0.9v0.9h-0.9zM266.8 73.0h0.9v0.9h-0.9zM269.5 72.1h0.9v0.9h-0.9zM260.4 85.1h0.9v0.9h-0.9zM264.3 80.2h0.9v0.9h-0.9z" fill="#000" fill-opacity="0.45"/>
<path d="M264.0 75.8h0.9v0.9h-0.9zM267.2 78.6h0.9v0.9h-0.9zM268.6 82.9h0.9v0.9h-0.9zM268.0 69.9h0.9v0.9h-0.9zM268.4 86.5h0.9v0.9h-0.9zM266.0 83.2h0.9v0.9h-0.9zM265.0 68.0h0.9v0.9h-0.9zM266.4 73.7h0.9v0.9h-0.9zM264.7 75.9h0.9v0.9h-0.9zM266.2 79.5h0.9v0.9h-0.9zM270.3 71.2h0.9v0.9h-0.9zM271.8 86.6h0.9v0.9h-0.9zM264.8 83.7h0.9v0.9h-0.9zM264.2 81.7h0.9v0.9h-0.9zM269.5 78.8h0.9v0.9h-0.9zM267.2 71.6h0.9v0.9h-0.9zM275.4 75.0h0.9v0.9h-0.9zM271.0 75.8h0.9v0.9h-0.9zM258.0 86.2h0.9v0.9h-0.9zM266.1 79.4h0.9v0.9h-0.9zM262.5 74.9h0.9v0.9h-0.9zM267.7 70.7h0.9v0.9h-0.9zM269.4 74.4h0.9v0.9h-0.9zM265.7 84.7h0.9v0.9h-0.9zM264.7 77.5h0.9v0.9h-0.9zM273.4 76.0h0.9v0.9h-0.9zM263.7 81.4h0.9v0.9h-0.9zM267.4 77.3h0.9v0.9h-0.9zM269.6 76.9h0.9v0.9h-0.9zM266.7 81.5h0.9v0.9h-0.9zM269.3 82.6h0.9v0.9h-0.9zM269.5 75.9h0.9v0.9h-0.9zM270.5 76.8h0.9v0.9h-0.9zM271.3 85.5h0.9v0.9h-0.9zM267.3 86.1h0.9v0.9h-0.9zM267.5 81.1h0.9v0.9h-0.9zM263.1 89.8h0.9v0.9h-0.9zM267.8 79.2h0.9v0.9h-0.9zM265.5 77.1h0.9v0.9h-0.9zM263.1 90.1h0.9v0.9h-0.9zM263.2 88.2h0.9v0.9h-0.9zM260.4 80.7h0.9v0.9h-0.9zM266.9 77.5h0.9v0.9h-0.9zM269.6 74.7h0.9v0.9h-0.9zM274.6 76.0h0.9v0.9h-0.9zM266.7 76.9h0.9v0.9h-0.9zM267.5 81.7h0.9v0.9h-0.9zM264.6 77.8h0.9v0.9h-0.9zM264.1 82.2h0.9v0.9h-0.9zM264.1 74.9h0.9v0.9h-0.9zM264.9 81.0h0.9v0.9h-0.9zM269.0 74.0h0.9v0.9h-0.9zM269.1 78.1h0.9v0.9h-0.9zM266.4 73.8h0.9v0.9h-0.9zM263.6 81.8h0.9v0.9h-0.9zM265.6 81.4h0.9v0.9h-0.9zM269.6 74.7h0.9v0.9h-0.9zM262.6 82.0h0.9v0.9h-0.9zM266.6 77.8h0.9v0.9h-0.9zM263.9 81.7h0.9v0.9h-0.9zM265.6 72.6h0.9v0.9h-0.9zM265.2 78.1h0.9v0.9h-0.9zM269.3 88.3h0.9v0.9h-0.9zM266.4 77.3h0.9v0.9h-0.9zM268.3 75.3h0.9v0.9h-0.9zM263.3 81.0h0.9v0.9h-0.9zM263.4 80.3h0.9v0.9h-0.9zM263.1 82.9h0.9v0.9h-0.9zM266.5 85.1h0.9v0.9h-0.9zM264.8 82.0h0.9v0.9h-0.9zM267.9 76.7h0.9v0.9h-0.9zM267.0 86.1h0.9v0.9h-0.9zM263.6 78.0h0.9v0.9h-0.9zM264.9 80.8h0.9v0.9h-0.9zM267.6 83.0h0.9v0.9h-0.9zM271.4 74.3h0.9v0.9h-0.9zM267.5 83.7h0.9v0.9h-0.9zM269.4 82.3h0.9v0.9h-0.9zM265.8 78.8h0.9v0.9h-0.9zM269.5 75.2h0.9v0.9h-0.9zM267.8 76.9h0.9v0.9h-0.9zM272.5 72.1h0.9v0.9h-0.9zM260.7 74.9h0.9v0.9h-0.9zM266.9 75.4h0.9v0.9h-0.9zM260.9 87.8h0.9v0.9h-0.9zM264.4 79.0h0.9v0.9h-0.9zM267.6 85.5h0.9v0.9h-0.9zM268.5 78.8h0.9v0.9h-0.9zM265.5 79.4h0.9v0.9h-0.9zM266.5 77.0h0.9v0.9h-0.9zM266.4 82.0h0.9v0.9h-0.9zM262.8 80.0h0.9v0.9h-0.9zM266.1 72.6h0.9v0.9h-0.9zM267.7 83.5h0.9v0.9h-0.9zM263.8 84.1h0.9v0.9h-0.9zM261.0 70.6h0.9v0.9h-0.9zM265.9 80.3h0.9v0.9h-0.9zM262.9 80.2h0.9v0.9h-0.9zM265.5 77.5h0.9v0.9h-0.9zM265.7 83.2h0.9v0.9h-0.9zM267.2 81.4h0.9v0.9h-0.9zM270.9 76.9h0.9v0.9h-0.9zM265.1 76.2h0.9v0.9h-0.9zM266.8 78.4h0.9v0.9h-0.9zM265.4 81.0h0.9v0.9h-0.9zM268.2 87.9h0.9v0.9h-0.9zM266.6 78.1h0.9v0.9h-0.9zM269.7 86.1h0.9v0.9h-0.9zM270.3 80.2h0.9v0.9h-0.9zM264.5 78.6h0.9v0.9h-0.9zM261.6 76.6h0.9v0.9h-0.9zM266.9 74.2h0.9v0.9h-0.9zM269.3 85.4h0.9v0.9h-0.9zM255.9 82.1h0.9v0.9h-0.9zM272.5 76.4h0.9v0.9h-0.9zM264.4 75.9h0.9v0.9h-0.9zM266.0 81.5h0.9v0.9h-0.9zM259.4 83.4h0.9v0.9h-0.9zM264.4 69.7h0.9v0.9h-0.9zM265.6 77.1h0.9v0.9h-0.9zM265.6 77.7h0.9v0.9h-0.9zM261.1 73.1h0.9v0.9h-0.9zM270.8 75.7h0.9v0.9h-0.9zM269.0 76.3h0.9v0.9h-0.9zM267.1 80.7h0.9v0.9h-0.9zM268.1 75.3h0.9v0.9h-0.9zM270.6 79.2h0.9v0.9h-0.9zM275.6 78.1h0.9v0.9h-0.9zM265.5 90.5h0.9v0.9h-0.9zM271.0 73.7h0.9v0.9h-0.9zM257.6 84.7h0.9v0.9h-0.9zM268.7 75.4h0.9v0.9h-0.9zM262.8 83.7h0.9v0.9h-0.9zM263.0 76.6h0.9v0.9h-0.9zM263.3 68.9h0.9v0.9h-0.9zM266.5 75.0h0.9v0.9h-0.9zM272.0 79.4h0.9v0.9h-0.9zM263.7 88.4h0.9v0.9h-0.9zM267.7 83.2h0.9v0.9h-0.9zM267.2 76.4h0.9v0.9h-0.9zM265.7 76.9h0.9v0.9h-0.9z" fill="#000" fill-opacity="0.45"/>
<path d="M267.8 80.7h0.9v0.9h-0.9zM263.7 72.5h0.9v0.9h-0.9zM267.5 80.1h0.9v0.9h-0.9zM264.5 81.6h0.9v0.9h-0.9zM265.6 79.2h0.9v0.9h-0.9zM268.2 73.2h0.9v0.9h-0.9zM272.7 79.2h0.9v0.9h-0.9zM267.0 77.6h0.9v0.9h-0.9zM258.5 72.3h0.9v0.9h-0.9zM272.6 83.1h0.9v0.9h-0.9zM263.3 82.5h0.9v0.9h-0.9zM267.0 82.6h0.9v0.9h-0.9zM264.1 80.6h0.9v0.9h-0.9zM268.7 82.3h0.9v0.9h-0.9zM267.7 75.6h0.9v0.9h-0.9zM268.2 80.5h0.9v0.9h-0.9zM265.4 78.7h0.9v0.9h-0.9zM256.7 82.2h0.9v0.9h-0.9zM267.6 73.0h0.9v0.9h-0.9zM266.2 87.0h0.9v0.9h-0.9zM265.2 80.3h0.9v0.9h-0.9zM277.1 74.3h0.9v0.9h-0.9zM262.2 88.9h0.9v0.9h-0.9zM264.3 88.0h0.9v0.9h-0.9zM265.8 81.1h0.9v0.9h-0.9zM271.6 77.0h0.9v0.9h-0.9zM265.7 84.8h0.9v0.9h-0.9zM271.6 78.4h0.9v0.9h-0.9zM263.7 85.0h0.9v0.9h-0.9zM266.2 77.5h0.9v0.9h-0.9zM267.8 71.4h0.9v0.9h-0.9zM271.7 80.7h0.9v0.9h-0.9zM271.2 79.9h0.9v0.9h-0.9zM266.4 78.4h0.9v0.9h-0.9zM264.3 84.0h0.9v0.9h-0.9zM264.2 87.6h0.9v0.9h-0.9zM262.9 70.7h0.9v0.9h-0.9zM267.2 86.6h0.9v0.9h-0.9zM266.2 81.1h0.9v0.9h-0.9zM267.0 71.5h0.9v0.9h-0.9zM263.1 76.7h0.9v0.9h-0.9zM258.5 75.9h0.9v0.9h-0.9zM267.2 78.9h0.9v0.9h-0.9zM266.9 73.5h0.9v0.9h-0.9zM270.0 78.6h0.9v0.9h-0.9zM260.8 79.5h0.9v0.9h-0.9zM261.7 76.9h0.9v0.9h-0.9zM264.5 74.8h0.9v0.9h-0.9zM266.7 86.5h0.9v0.9h-0.9zM268.4 79.9h0.9v0.9h-0.9zM262.8 82.4h0.9v0.9h-0.9zM269.9 81.3h0.9v0.9h-0.9zM260.8 84.8h0.9v0.9h-0.9zM261.8 76.6h0.9v0.9h-0.9zM269.4 74.8h0.9v0.9h-0.9zM272.2 80.8h0.9v0.9h-0.9zM270.8 80.2h0.9v0.9h-0.9zM269.2 75.2h0.9v0.9h-0.9zM263.7 87.7h0.9v0.9h-0.9zM265.5 73.0h0.9v0.9h-0.9zM262.4 81.3h0.9v0.9h-0.9zM268.4 80.4h0.9v0.9h-0.9zM266.5 77.8h0.9v0.9h-0.9zM269.4 78.6h0.9v0.9h-0.9zM267.9 87.5h0.9v0.9h-0.9zM263.3 89.5h0.9v0.9h-0.9zM268.9 71.1h0.9v0.9h-0.9zM262.4 87.0h0.9v0.9h-0.9zM264.2 84.8h0.9v0.9h-0.9zM267.8 81.5h0.9v0.9h-0.9zM270.2 80.6h0.9v0.9h-0.9zM267.2 75.5h0.9v0.9h-0.9zM263.5 74.5h0.9v0.9h-0.9zM266.0 80.0h0.9v0.9h-0.9zM271.7 75.5h0.9v0.9h-0.9zM268.1 70.9h0.9v0.9h-0.9zM262.7 76.1h0.9v0.9h-0.9zM267.3 77.5h0.9v0.9h-0.9zM269.4 82.4h0.9v0.9h-0.9zM265.5 82.7h0.9v0.9h-0.9zM265.3 83.3h0.9v0.9h-0.9zM265.5 85.3h0.9v0.9h-0.9zM268.8 83.1h0.9v0.9h-0.9zM263.0 84.0h0.9v0.9h-0.9zM264.8 75.2h0.9v0.9h-0.9zM267.6 76.8h0.9v0.9h-0.9zM266.0 75.6h0.9v0.9h-0.9zM271.8 79.6h0.9v0.9h-0.9zM264.5 74.4h0.9v0.9h-0.9zM271.5 80.5h0.9v0.9h-0.9zM269.6 82.1h0.9v0.9h-0.9zM268.4 85.9h0.9v0.9h-0.9zM270.4 79.1h0.9v0.9h-0.9zM270.8 80.0h0.9v0.9h-0.9zM265.7 72.9h0.9v0.9h-0.9zM265.0 76.7h0.9v0.9h-0.9zM259.2 80.1h0.9v0.9h-0.9zM272.5 78.7h0.9v0.9h-0.9zM265.2 80.8h0.9v0.9h-0.9zM269.7 78.1h0.9v0.9h-0.9zM261.0 83.1h0.9v0.9h-0.9zM265.6 79.4h0.9v0.9h-0.9zM267.2 85.6h0.9v0.9h-0.9zM272.4 76.0h0.9v0.9h-0.9zM262.4 72.9h0.9v0.9h-0.9zM268.0 76.2h0.9v0.9h-0.9zM266.6 82.4h0.9v0.9h-0.9zM262.6 79.2h0.9v0.9h-0.9zM265.9 85.3h0.9v0.9h-0.9zM268.3 74.8h0.9v0.9h-0.9zM265.4 78.1h0.9v0.9h-0.9zM266.0 74.2h0.9v0.9h-0.9zM262.0 77.2h0.9v0.9h-0.9zM264.9 81.7h0.9v0.9h-0.9zM270.9 78.4h0.9v0.9h-0.9zM270.8 79.8h0.9v0.9h-0.9zM269.0 82.0h0.9v0.9h-0.9zM269.7 85.2h0.9v0.9h-0.9zM266.3 84.4h0.9v0.9h-0.9zM272.7 76.6h0.9v0.9h-0.9zM267.8 73.5h0.9v0.9h-0.9zM264.9 81.0h0.9v0.9h-0.9zM266.5 79.5h0.9v0.9h-0.9zM261.3 83.1h0.9v0.9h-0.9zM266.6 82.9h0.9v0.9h-0.9zM269.1 73.7h0.9v0.9h-0.9zM259.8 79.8h0.9v0.9h-0.9zM270.1 78.5h0.9v0.9h-0.9zM263.2 79.4h0.9v0.9h-0.9zM265.8 80.1h0.9v0.9h-0.9zM258.7 83.5h0.9v0.9h-0.9zM267.8 76.3h0.9v0.9h-0.9zM262.7 72.6h0.9v0.9h-0.9zM262.9 78.1h0.9v0.9h-0.9zM266.8 75.8h0.9v0.9h-0.9zM267.7 81.1h0.9v0.9h-0.9zM264.1 78.1h0.9v0.9h-0.9zM265.9 81.1h0.9v0.9h-0.9zM258.2 79.0h0.9v0.9h-0.9zM270.6 74.9h0.9v0.9h-0.9zM265.6 81.8h0.9v0.9h-0.9z" fill="#000" fill-opacity="0.45"/>
<path d="M271.5 39.9h0.9v0.9h-0.9zM269.3 41.3h0.9v0.9h-0.9zM269.6 40.4h0.9v0.9h-0.9zM271.6 45.2h0.9v0.9h-0.9zM261.4 41.1h0.9v0.9h-0.9zM272.8 41.5h0.9v0.9h-0.9zM272.3 44.7h0.9v0.9h-0.9zM275.8 46.2h0.9v0.9h-0.9zM274.7 46.6h0.9v0.9h-0.9zM272.3 41.1h0.9v0.9h-0.9zM270.1 40.8h0.9v0.9h-0.9zM267.1 39.1h0.9v0.9h-0.9zM268.5 49.3h0.9v0.9h-0.9zM280.4 40.2h0.9v0.9h-0.9zM260.5 37.5h0.9v0.9h-0.9zM268.1 42.4h0.9v0.9h-0.9zM267.8 46.2h0.9v0.9h-0.9zM269.8 46.6h0.9v0.9h-0.9zM274.6 41.8h0.9v0.9h-0.9zM272.3 39.2h0.9v0.9h-0.9zM272.1 33.3h0.9v0.9h-0.9zM276.8 47.7h0.9v0.9h-0.9zM261.0 45.0h0.9v0.9h-0.9zM279.1 39.4h0.9v0.9h-0.9zM265.0 42.7h0.9v0.9h-0.9zM277.6 47.2h0.9v0.9h-0.9zM271.2 41.8h0.9v0.9h-0.9zM269.2 41.4h0.9v0.9h-0.9zM271.7 45.9h0.9v0.9h-0.9zM267.9 42.8h0.9v0.9h-0.9zM277.3 41.1h0.9v0.9h-0.9zM268.6 44.6h0.9v0.9h-0.9zM262.7 39.2h0.9v0.9h-0.9zM278.6 38.8h0.9v0.9h-0.9zM277.1 41.8h0.9v0.9h-0.9z" fill="#000" fill-opacity="0.22"/>
<path d="M263.8 45.6h0.9v0.9h-0.9zM265.0 43.1h0.9v0.9h-0.9zM260.8 43.3h0.9v0.9h-0.9zM265.9 46.0h0.9v0.9h-0.9zM276.4 45.0h0.9v0.9h-0.9zM271.3 44.3h0.9v0.9h-0.9zM266.6 39.4h0.9v0.9h-0.9zM277.6 40.8h0.9v0.9h-0.9zM275.2 39.3h0.9v0.9h-0.9zM270.8 43.1h0.9v0.9h-0.9zM272.2 34.8h0.9v0.9h-0.9zM272.8 44.5h0.9v0.9h-0.9zM273.4 41.0h0.9v0.9h-0.9zM274.2 43.4h0.9v0.9h-0.9zM263.7 37.6h0.9v0.9h-0.9zM266.7 43.6h0.9v0.9h-0.9zM271.6 40.1h0.9v0.9h-0.9zM260.3 42.6h0.9v0.9h-0.9zM270.0 40.0h0.9v0.9h-0.9zM274.0 35.1h0.9v0.9h-0.9zM276.9 35.3h0.9v0.9h-0.9zM267.9 45.2h0.9v0.9h-0.9zM270.5 47.4h0.9v0.9h-0.9zM273.0 47.5h0.9v0.9h-0.9zM262.7 44.7h0.9v0.9h-0.9zM272.4 41.6h0.9v0.9h-0.9zM270.7 37.0h0.9v0.9h-0.9zM271.8 43.1h0.9v0.9h-0.9zM265.1 43.3h0.9v0.9h-0.9zM271.8 42.7h0.9v0.9h-0.9zM278.1 42.8h0.9v0.9h-0.9zM279.7 42.0h0.9v0.9h-0.9zM265.5 41.9h0.9v0.9h-0.9zM260.4 39.0h0.9v0.9h-0.9zM264.7 39.6h0.9v0.9h-0.9z" fill="#000" fill-opacity="0.22"/>
<path d="M280.5 40.6h0.9v0.9h-0.9zM256.2 43.5h0.9v0.9h-0.9zM265.8 43.8h0.9v0.9h-0.9zM269.4 45.4h0.9v0.9h-0.9zM279.4 44.7h0.9v0.9h-0.9zM259.7 38.5h0.9v0.9h-0.9zM263.2 45.0h0.9v0.9h-0.9zM274.4 39.8h0.9v0.9h-0.9zM265.0 42.7h0.9v0.9h-0.9zM267.8 40.9h0.9v0.9h-0.9zM275.8 43.6h0.9v0.9h-0.9zM268.7 41.4h0.9v0.9h-0.9zM271.7 42.5h0.9v0.9h-0.9zM268.0 47.8h0.9v0.9h-0.9zM275.0 39.0h0.9v0.9h-0.9zM266.2 39.8h0.9v0.9h-0.9zM266.0 41.2h0.9v0.9h-0.9zM285.3 45.0h0.9v0.9h-0.9zM272.4 44.8h0.9v0.9h-0.9zM266.2 41.3h0.9v0.9h-0.9zM267.7 45.0h0.9v0.9h-0.9zM262.3 42.9h0.9v0.9h-0.9zM274.1 43.1h0.9v0.9h-0.9zM270.7 45.8h0.9v0.9h-0.9zM268.3 44.8h0.9v0.9h-0.9zM270.6 38.1h0.9v0.9h-0.9zM269.4 35.7h0.9v0.9h-0.9zM273.3 41.1h0.9v0.9h-0.9zM275.8 43.9h0.9v0.9h-0.9zM263.2 42.3h0.9v0.9h-0.9zM269.0 43.4h0.9v0.9h-0.9zM276.9 46.3h0.9v0.9h-0.9zM288.1 39.8h0.9v0.9h-0.9zM271.9 45.0h0.9v0.9h-0.9zM262.1 37.0h0.9v0.9h-0.9z" fill="#000" fill-opacity="0.22"/>
<path d="M276.5 43.0h0.9v0.9h-0.9zM258.3 44.6h0.9v0.9h-0.9zM275.8 41.9h0.9v0.9h-0.9zM275.3 42.6h0.9v0.9h-0.9zM266.2 36.9h0.9v0.9h-0.9zM270.1 45.7h0.9v0.9h-0.9zM263.3 36.0h0.9v0.9h-0.9zM266.8 42.5h0.9v0.9h-0.9zM274.7 43.2h0.9v0.9h-0.9zM273.8 41.4h0.9v0.9h-0.9zM267.5 39.0h0.9v0.9h-0.9zM277.9 42.1h0.9v0.9h-0.9zM267.5 41.5h0.9v0.9h-0.9zM273.9 41.8h0.9v0.9h-0.9zM262.9 40.2h0.9v0.9h-0.9zM276.7 39.3h0.9v0.9h-0.9zM272.6 40.2h0.9v0.9h-0.9zM264.8 42.2h0.9v0.9h-0.9zM266.7 44.5h0.9v0.9h-0.9zM259.6 39.8h0.9v0.9h-0.9zM270.8 43.6h0.9v0.9h-0.9zM274.3 39.1h0.9v0.9h-0.9zM271.2 38.0h0.9v0.9h-0.9zM266.7 40.8h0.9v0.9h-0.9zM268.0 44.6h0.9v0.9h-0.9zM274.4 44.2h0.9v0.9h-0.9zM269.0 39.0h0.9v0.9h-0.9zM261.4 40.8h0.9v0.9h-0.9zM260.8 42.7h0.9v0.9h-0.9zM273.1 36.9h0.9v0.9h-0.9zM281.4 41.0h0.9v0.9h-0.9zM264.2 42.6h0.9v0.9h-0.9zM260.9 43.7h0.9v0.9h-0.9zM264.9 44.9h0.9v0.9h-0.9zM276.4 44.6h0.9v0.9h-0.9z" fill="#000" fill-opacity="0.22"/>
<path d="M266.2 39.0h0.9v0.9h-0.9zM260.9 44.0h0.9v0.9h-0.9zM257.6 38.6h0.9v0.9h-0.9zM268.2 39.6h0.9v0.9h-0.9zM266.9 40.9h0.9v0.9h-0.9zM276.2 39.2h0.9v0.9h-0.9zM265.6 45.9h0.9v0.9h-0.9zM269.2 44.5h0.9v0.9h-0.9zM267.7 38.7h0.9v0.9h-0.9zM268.4 43.9h0.9v0.9h-0.9zM263.0 42.7h0.9v0.9h-0.9zM272.9 38.3h0.9v0.9h-0.9zM268.5 44.2h0.9v0.9h-0.9zM267.6 38.6h0.9v0.9h-0.9zM269.4 36.4h0.9v0.9h-0.9zM270.0 43.6h0.9v0.9h-0.9zM286.0 42.5h0.9v0.9h-0.9zM268.6 50.8h0.9v0.9h-0.9zM267.3 43.7h0.9v0.9h-0.9zM261.5 41.6h0.9v0.9h-0.9zM275.0 42.8h0.9v0.9h-0.9zM259.8 42.0h0.9v0.9h-0.9zM269.7 42.9h0.9v0.9h-0.9zM275.2 41.4h0.9v0.9h-0.9zM264.3 38.3h0.9v0.9h-0.9zM272.2 39.4h0.9v0.9h-0.9zM266.6 40.8h0.9v0.9h-0.9zM254.6 40.9h0.9v0.9h-0.9zM267.8 45.8h0.9v0.9h-0.9zM278.9 46.6h0.9v0.9h-0.9zM277.9 43.7h0.9v0.9h-0.9zM264.0 40.6h0.9v0.9h-0.9zM262.9 38.9h0.9v0.9h-0.9zM267.0 40.1h0.9v0.9h-0.9zM264.3 40.3h0.9v0.9h-0.9z" fill="#000" fill-opacity="0.22"/>
<path d="M268.3 40.3h0.9v0.9h-0.9zM284.2 40.8h0.9v0.9h-0.9zM277.8 42.6h0.9v0.9h-0.9zM270.9 42.4h0.9v0.9h-0.9zM265.6 44.8h0.9v0.9h-0.9zM270.0 39.3h0.9v0.9h-0.9zM270.0 42.5h0.9v0.9h-0.9zM259.3 45.5h0.9v0.9h-0.9zM277.2 41.3h0.9v0.9h-0.9zM258.6 45.9h0.9v0.9h-0.9zM270.9 42.4h0.9v0.9h-0.9zM266.5 34.8h0.9v0.9h-0.9zM279.0 46.2h0.9v0.9h-0.9zM262.7 43.7h0.9v0.9h-0.9zM273.5 44.2h0.9v0.9h-0.9zM268.2 44.7h0.9v0.9h-0.9zM263.5 42.1h0.9v0.9h-0.9zM266.2 40.9h0.9v0.9h-0.9zM269.2 44.6h0.9v0.9h-0.9zM268.6 44.2h0.9v0.9h-0.9zM262.8 43.0h0.9v0.9h-0.9zM268.2 42.4h0.9v0.9h-0.9zM275.8 43.3h0.9v0.9h-0.9zM271.0 42.2h0.9v0.9h-0.9zM273.6 40.1h0.9v0.9h-0.9zM273.8 40.1h0.9v0.9h-0.9zM274.9 45.8h0.9v0.9h-0.9zM265.4 44.5h0.9v0.9h-0.9zM269.3 48.2h0.9v0.9h-0.9zM270.9 48.6h0.9v0.9h-0.9zM270.9 42.0h0.9v0.9h-0.9zM272.4 37.7h0.9v0.9h-0.9zM268.0 41.9h0.9v0.9h-0.9zM268.2 47.1h0.9v0.9h-0.9zM279.0 39.4h0.9v0.9h-0.9z" fill="#000" fill-opacity="0.22"/>
<path d="M268.0 41.3h0.9v0.9h-0.9zM263.1 48.1h0.9v0.9h-0.9zM278.1 34.4h0.9v0.9h-0.9zM278.1 41.5h0.9v0.9h-0.9zM265.3 43.7h0.9v0.9h-0.9zM267.6 42.2h0.9v0.9h-0.9zM270.6 41.6h0.9v0.9h-0.9zM266.5 46.6h0.9v0.9h-0.9zM280.7 38.0h0.9v0.9h-0.9zM272.5 39.3h0.9v0.9h-0.9zM279.8 34.6h0.9v0.9h-0.9zM262.1 43.0h0.9v0.9h-0.9zM268.2 43.6h0.9v0.9h-0.9zM267.5 40.3h0.9v0.9h-0.9zM266.6 44.4h0.9v0.9h-0.9zM266.7 45.1h0.9v0.9h-0.9zM276.5 43.2h0.9v0.9h-0.9zM268.1 37.2h0.9v0.9h-0.9zM281.0 42.5h0.9v0.9h-0.9zM265.2 36.5h0.9v0.9h-0.9zM266.0 34.0h0.9v0.9h-0.9zM271.8 44.6h0.9v0.9h-0.9zM274.1 44.1h0.9v0.9h-0.9zM264.4 46.8h0.9v0.9h-0.9zM276.2 39.7h0.9v0.9h-0.9zM277.3 39.9h0.9v0.9h-0.9zM270.3 38.3h0.9v0.9h-0.9zM262.9 43.4h0.9v0.9h-0.9zM265.4 38.7h0.9v0.9h-0.9zM274.7 43.8h0.9v0.9h-0.9zM273.1 41.4h0.9v0.9h-0.9zM270.4 42.6h0.9v0.9h-0.9zM270.9 42.7h0.9v0.9h-0.9zM271.1 43.4h0.9v0.9h-0.9z" fill="#000" fill-opacity="0.22"/>
<path d="M263.3 44.6h0.9v0.9h-0.9zM267.3 38.1h0.9v0.9h-0.9zM269.2 41.2h0.9v0.9h-0.9zM272.0 47.3h0.9v0.9h-0.9zM274.4 36.0h0.9v0.9h-0.9zM267.8 39.9h0.9v0.9h-0.9zM268.9 37.1h0.9v0.9h-0.9zM276.5 37.9h0.9v0.9h-0.9zM268.0 39.7h0.9v0.9h-0.9zM268.9 45.8h0.9v0.9h-0.9zM265.9 39.3h0.9v0.9h-0.9zM277.2 40.9h0.9v0.9h-0.9zM265.8 38.2h0.9v0.9h-0.9zM272.9 40.7h0.9v0.9h-0.9zM261.1 40.0h0.9v0.9h-0.9zM261.1 37.4h0.9v0.9h-0.9zM268.1 39.6h0.9v0.9h-0.9zM267.2 40.4h0.9v0.9h-0.9zM266.9 42.2h0.9v0.9h-0.9zM268.4 43.6h0.9v0.9h-0.9zM279.0 43.3h0.9v0.9h-0.9zM267.2 42.9h0.9v0.9h-0.9zM269.4 40.9h0.9v0.9h-0.9zM273.1 39.2h0.9v0.9h-0.9zM267.1 40.8h0.9v0.9h-0.9zM278.6 37.3h0.9v0.9h-0.9zM268.1 36.6h0.9v0.9h-0.9zM265.0 47.6h0.9v0.9h-0.9zM266.4 39.5h0.9v0.9h-0.9zM272.2 44.0h0.9v0.9h-0.9zM268.6 43.6h0.9v0.9h-0.9zM269.3 45.4h0.9v0.9h-0.9zM261.3 42.3h0.9v0.9h-0.9zM268.7 41.1h0.9v0.9h-0.9z" fill="#000" fill-opacity="0.22"/>
<path d="M263.3 38.2h0.9v0.9h-0.9zM277.1 32.4h0.9v0.9h-0.9zM260.5 39.6h0.9v0.9h-0.9zM271.8 43.3h0.9v0.9h-0.9zM267.5 45.9h0.9v0.9h-0.9zM263.1 36.5h0.9v0.9h-0.9zM279.5 41.2h0.9v0.9h-0.9zM269.6 44.0h0.9v0.9h-0.9zM280.6 45.8h0.9v0.9h-0.9zM273.2 36.0h0.9v0.9h-0.9zM275.5 41.0h0.9v0.9h-0.9zM263.1 42.1h0.9v0.9h-0.9zM270.4 43.8h0.9v0.9h-0.9zM273.8 39.7h0.9v0.9h-0.9zM269.1 42.0h0.9v0.9h-0.9zM270.4 46.4h0.9v0.9h-0.9zM265.5 37.9h0.9v0.9h-0.9zM272.9 40.4h0.9v0.9h-0.9zM273.6 40.2h0.9v0.9h-0.9zM270.5 42.4h0.9v0.9h-0.9zM270.7 41.8h0.9v0.9h-0.9zM261.3 44.0h0.9v0.9h-0.9zM268.9 37.8h0.9v0.9h-0.9zM267.7 42.1h0.9v0.9h-0.9zM260.2 46.6h0.9v0.9h-0.9zM264.2 39.0h0.9v0.9h-0.9zM266.9 41.1h0.9v0.9h-0.9zM272.5 43.4h0.9v0.9h-0.9zM279.0 38.8h0.9v0.9h-0.9zM280.6 42.0h0.9v0.9h-0.9zM265.1 39.7h0.9v0.9h-0.9zM265.3 36.3h0.9v0.9h-0.9zM274.7 40.0h0.9v0.9h-0.9zM271.5 47.0h0.9v0.9h-0.9zM267.9 42.1h0.9v0.9h-0.9z" fill="#000" fill-opacity="0.22"/>
<path d="M275.2 44.2h0.9v0.9h-0.9zM261.3 37.4h0.9v0.9h-0.9zM275.6 43.5h0.9v0.9h-0.9zM279.2 42.1h0.9v0.9h-0.9zM274.8 42.2h0.9v0.9h-0.9zM268.8 42.4h0.9v0.9h-0.9zM276.9 36.6h0.9v0.9h-0.9zM265.3 39.3h0.9v0.9h-0.9zM267.1 35.4h0.9v0.9h-0.9zM264.1 42.4h0.9v0.9h-0.9zM264.6 42.5h0.9v0.9h-0.9zM276.6 41.3h0.9v0.9h-0.9zM269.7 44.5h0.9v0.9h-0.9zM267.0 44.8h0.9v0.9h-0.9zM276.6 40.7h0.9v0.9h-0.9zM279.2 39.0h0.9v0.9h-0.9zM267.0 42.6h0.9v0.9h-0.9zM272.8 44.2h0.9v0.9h-0.9zM275.6 42.8h0.9v0.9h-0.9zM277.0 40.7h0.9v0.9h-0.9zM280.0 42.7h0.9v0.9h-0.9zM272.3 42.3h0.9v0.9h-0.9zM261.6 44.6h0.9v0.9h-0.9zM264.9 44.7h0.9v0.9h-0.9zM269.0 45.1h0.9v0.9h-0.9zM268.5 33.9h0.9v0.9h-0.9zM265.8 46.2h0.9v0.9h-0.9zM272.5 48.9h0.9v0.9h-0.9zM274.3 41.7h0.9v0.9h-0.9zM269.7 43.0h0.9v0.9h-0.9zM264.3 40.7h0.9v0.9h-0.9zM270.2 39.5h0.9v0.9h-0.9zM268.7 37.4h0.9v0.9h-0.9zM265.0 39.5h0.9v0.9h-0.9zM261.0 41.9h0.9v0.9h-0.9z" fill="#000" fill-opacity="0.22"/>
<path d="M278.3 42.2h0.9v0.9h-0.9zM265.9 35.1h0.9v0.9h-0.9zM266.8 42.8h0.9v0.9h-0.9zM272.2 44.2h0.9v0.9h-0.9zM263.5 39.4h0.9v0.9h-0.9zM273.5 39.0h0.9v0.9h-0.9zM273.0 37.8h0.9v0.9h-0.9zM268.1 44.2h0.9v0.9h-0.9zM276.6 42.2h0.9v0.9h-0.9zM280.3 44.3h0.9v0.9h-0.9zM272.3 47.1h0.9v0.9h-0.9zM275.3 41.6h0.9v0.9h-0.9zM274.8 44.3h0.9v0.9h-0.9zM266.1 43.8h0.9v0.9h-0.9zM264.2 42.5h0.9v0.9h-0.9zM269.8 40.2h0.9v0.9h-0.9zM266.8 47.1h0.9v0.9h-0.9zM274.0 36.3h0.9v0.9h-0.9zM275.2 40.0h0.9v0.9h-0.9zM268.8 39.1h0.9v0.9h-0.9zM275.3 42.9h0.9v0.9h-0.9zM279.2 42.7h0.9v0.9h-0.9zM278.4 46.5h0.9v0.9h-0.9zM268.3 44.5h0.9v0.9h-0.9zM271.2 36.3h0.9v0.9h-0.9zM281.6 43.1h0.9v0.9h-0.9zM272.4 45.4h0.9v0.9h-0.9zM265.2 42.8h0.9v0.9h-0.9zM260.7 38.4h0.9v0.9h-0.9zM279.2 42.4h0.9v0.9h-0.9zM268.8 40.6h0.9v0.9h-0.9zM268.9 38.2h0.9v0.9h-0.9zM273.7 41.1h0.9v0.9h-0.9zM264.7 39.6h0.9v0.9h-0.9zM270.9 37.4h0.9v0.9h-0.9z" fill="#000" fill-opacity="0.22"/>
<path d="M266.2 45.5h0.9v0.9h-0.9zM274.6 45.1h0.9v0.9h-0.9zM276.8 38.2h0.9v0.9h-0.9zM269.2 38.1h0.9v0.9h-0.9zM270.4 45.9h0.9v0.9h-0.9zM265.7 45.9h0.9v0.9h-0.9zM262.4 42.6h0.9v0.9h-0.9zM275.1 40.4h0.9v0.9h-0.9zM263.4 36.8h0.9v0.9h-0.9zM268.8 43.7h0.9v0.9h-0.9zM271.5 40.4h0.9v0.9h-0.9zM262.9 38.8h0.9v0.9h-0.9zM269.1 37.4h0.9v0.9h-0.9zM272.9 41.8h0.9v0.9h-0.9zM270.9 43.3h0.9v0.9h-0.9zM257.8 44.1h0.9v0.9h-0.9zM272.1 40.4h0.9v0.9h-0.9zM278.6 44.6h0.9v0.9h-0.9zM264.5 39.4h0.9v0.9h-0.9zM266.6 45.2h0.9v0.9h-0.9zM279.4 40.6h0.9v0.9h-0.9zM268.1 43.4h0.9v0.9h-0.9zM265.3 46.8h0.9v0.9h-0.9zM265.2 38.6h0.9v0.9h-0.9zM272.4 45.4h0.9v0.9h-0.9zM271.8 39.0h0.9v0.9h-0.9zM268.4 44.7h0.9v0.9h-0.9zM270.9 39.6h0.9v0.9h-0.9zM270.6 43.5h0.9v0.9h-0.9zM267.8 42.7h0.9v0.9h-0.9zM273.1 38.7h0.9v0.9h-0.9zM264.7 38.5h0.9v0.9h-0.9zM280.8 39.6h0.9v0.9h-0.9zM273.7 39.2h0.9v0.9h-0.9zM272.4 38.7h0.9v0.9h-0.9z" fill="#000" fill-opacity="0.22"/>
<path d="M311.1 38.1h0.9v0.9h-0.9zM288.6 40.9h0.9v0.9h-0.9zM269.5 45.1h0.9v0.9h-0.9zM303.2 42.6h0.9v0.9h-0.9zM300.5 35.4h0.9v0.9h-0.9zM262.9 39.9h0.9v0.9h-0.9zM296.5 41.5h0.9v0.9h-0.9zM281.4 37.3h0.9v0.9h-0.9zM289.3 45.7h0.9v0.9h-0.9zM289.3 43.7h0.9v0.9h-0.9zM296.3 45.6h0.9v0.9h-0.9zM280.3 36.3h0.9v0.9h-0.9zM300.8 39.5h0.9v0.9h-0.9zM280.6 45.3h0.9v0.9h-0.9zM272.6 41.8h0.9v0.9h-0.9zM284.0 41.2h0.9v0.9h-0.9zM303.1 35.9h0.9v0.9h-0.9zM303.6 46.4h0.9v0.9h-0.9zM297.3 34.5h0.9v0.9h-0.9zM286.0 43.5h0.9v0.9h-0.9zM269.4 40.8h0.9v0.9h-0.9zM268.5 38.6h0.9v0.9h-0.9zM266.7 48.1h0.9v0.9h-0.9zM301.4 45.0h0.9v0.9h-0.9zM284.4 45.3h0.9v0.9h-0.9zM311.8 43.4h0.9v0.9h-0.9zM274.6 41.9h0.9v0.9h-0.9zM270.5 47.3h0.9v0.9h-0.9zM298.9 43.7h0.9v0.9h-0.9zM285.8 43.1h0.9v0.9h-0.9zM273.9 47.7h0.9v0.9h-0.9zM263.0 44.8h0.9v0.9h-0.9zM271.0 45.4h0.9v0.9h-0.9zM281.6 46.8h0.9v0.9h-0.9zM295.8 46.6h0.9v0.9h-0.9zM301.2 43.9h0.9v0.9h-0.9zM270.5 39.4h0.9v0.9h-0.9zM261.1 41.2h0.9v0.9h-0.9zM281.8 40.5h0.9v0.9h-0.9zM280.5 44.1h0.9v0.9h-0.9zM277.1 43.2h0.9v0.9h-0.9zM266.9 44.5h0.9v0.9h-0.9zM295.6 42.1h0.9v0.9h-0.9zM275.8 39.0h0.9v0.9h-0.9zM276.7 39.8h0.9v0.9h-0.9zM267.5 47.5h0.9v0.9h-0.9zM286.5 39.8h0.9v0.9h-0.9zM292.7 37.8h0.9v0.9h-0.9zM264.7 34.4h0.9v0.9h-0.9zM289.8 36.4h0.9v0.9h-0.9z" fill="#000" fill-opacity="0.18"/>
<path d="M277.3 46.8h0.9v0.9h-0.9zM277.8 44.9h0.9v0.9h-0.9zM299.8 36.9h0.9v0.9h-0.9zM312.8 40.1h0.9v0.9h-0.9zM295.2 38.7h0.9v0.9h-0.9zM307.9 47.5h0.9v0.9h-0.9zM262.7 44.6h0.9v0.9h-0.9zM305.0 46.6h0.9v0.9h-0.9zM296.1 43.3h0.9v0.9h-0.9zM307.8 42.5h0.9v0.9h-0.9zM276.3 43.9h0.9v0.9h-0.9zM315.5 35.4h0.9v0.9h-0.9zM264.1 41.6h0.9v0.9h-0.9zM265.2 43.8h0.9v0.9h-0.9zM297.0 45.4h0.9v0.9h-0.9zM264.5 41.5h0.9v0.9h-0.9zM290.1 46.7h0.9v0.9h-0.9zM273.5 42.8h0.9v0.9h-0.9zM289.7 45.6h0.9v0.9h-0.9zM304.6 38.7h0.9v0.9h-0.9zM292.4 44.9h0.9v0.9h-0.9zM266.1 41.5h0.9v0.9h-0.9zM261.8 46.0h0.9v0.9h-0.9zM294.0 45.5h0.9v0.9h-0.9zM308.0 37.1h0.9v0.9h-0.9zM264.8 44.0h0.9v0.9h-0.9zM275.1 41.2h0.9v0.9h-0.9zM282.4 45.7h0.9v0.9h-0.9zM265.1 41.6h0.9v0.9h-0.9zM266.7 41.8h0.9v0.9h-0.9zM272.2 34.9h0.9v0.9h-0.9zM305.3 42.5h0.9v0.9h-0.9zM295.2 42.6h0.9v0.9h-0.9zM273.2 47.7h0.9v0.9h-0.9zM303.9 46.2h0.9v0.9h-0.9zM299.4 43.8h0.9v0.9h-0.9zM293.0 47.4h0.9v0.9h-0.9zM290.1 44.2h0.9v0.9h-0.9zM289.7 40.5h0.9v0.9h-0.9zM309.1 41.9h0.9v0.9h-0.9zM264.1 42.8h0.9v0.9h-0.9zM293.3 38.7h0.9v0.9h-0.9zM262.0 36.0h0.9v0.9h-0.9zM283.0 35.6h0.9v0.9h-0.9zM307.0 40.7h0.9v0.9h-0.9zM270.2 42.9h0.9v0.9h-0.9zM277.0 35.7h0.9v0.9h-0.9zM262.3 37.2h0.9v0.9h-0.9zM282.2 40.0h0.9v0.9h-0.9zM263.8 34.6h0.9v0.9h-0.9z" fill="#000" fill-opacity="0.18"/>
<path d="M271.9 42.2h0.9v0.9h-0.9zM262.5 41.7h0.9v0.9h-0.9zM261.3 42.0h0.9v0.9h-0.9zM263.3 41.6h0.9v0.9h-0.9zM262.9 43.3h0.9v0.9h-0.9zM309.7 41.3h0.9v0.9h-0.9zM279.8 38.7h0.9v0.9h-0.9zM266.7 40.6h0.9v0.9h-0.9zM278.1 43.1h0.9v0.9h-0.9zM280.2 41.2h0.9v0.9h-0.9zM274.9 41.7h0.9v0.9h-0.9zM270.3 42.2h0.9v0.9h-0.9zM292.3 44.7h0.9v0.9h-0.9zM302.6 43.3h0.9v0.9h-0.9zM270.1 32.3h0.9v0.9h-0.9zM297.8 39.1h0.9v0.9h-0.9zM261.7 33.8h0.9v0.9h-0.9zM309.6 41.9h0.9v0.9h-0.9zM297.0 39.5h0.9v0.9h-0.9zM289.1 43.2h0.9v0.9h-0.9zM262.9 43.0h0.9v0.9h-0.9zM291.8 42.8h0.9v0.9h-0.9zM288.9 44.7h0.9v0.9h-0.9zM302.4 40.2h0.9v0.9h-0.9zM303.3 38.9h0.9v0.9h-0.9zM274.9 43.3h0.9v0.9h-0.9zM312.7 38.1h0.9v0.9h-0.9zM303.1 37.7h0.9v0.9h-0.9zM305.6 47.6h0.9v0.9h-0.9zM263.3 39.8h0.9v0.9h-0.9zM309.7 43.5h0.9v0.9h-0.9zM276.5 41.2h0.9v0.9h-0.9zM261.1 41.7h0.9v0.9h-0.9zM301.8 38.0h0.9v0.9h-0.9zM269.9 44.5h0.9v0.9h-0.9zM271.3 43.6h0.9v0.9h-0.9zM284.1 36.2h0.9v0.9h-0.9zM289.5 39.6h0.9v0.9h-0.9zM296.4 43.5h0.9v0.9h-0.9zM308.9 41.3h0.9v0.9h-0.9zM282.4 40.1h0.9v0.9h-0.9zM266.4 38.0h0.9v0.9h-0.9zM277.7 43.1h0.9v0.9h-0.9zM262.6 43.1h0.9v0.9h-0.9zM299.0 42.3h0.9v0.9h-0.9zM271.7 44.4h0.9v0.9h-0.9zM300.1 47.9h0.9v0.9h-0.9zM308.2 45.8h0.9v0.9h-0.9zM268.2 42.1h0.9v0.9h-0.9zM265.7 44.5h0.9v0.9h-0.9z" fill="#000" fill-opacity="0.18"/>
<path d="M265.2 39.2h0.9v0.9h-0.9zM314.9 43.8h0.9v0.9h-0.9zM282.6 45.4h0.9v0.9h-0.9zM269.1 43.0h0.9v0.9h-0.9zM291.3 44.1h0.9v0.9h-0.9zM279.2 39.6h0.9v0.9h-0.9zM261.7 46.7h0.9v0.9h-0.9zM296.7 43.2h0.9v0.9h-0.9zM287.3 43.8h0.9v0.9h-0.9zM299.8 44.0h0.9v0.9h-0.9zM278.7 46.4h0.9v0.9h-0.9zM263.1 45.3h0.9v0.9h-0.9zM261.4 38.8h0.9v0.9h-0.9zM276.9 43.6h0.9v0.9h-0.9zM266.9 46.2h0.9v0.9h-0.9zM265.3 41.6h0.9v0.9h-0.9zM265.4 39.1h0.9v0.9h-0.9zM296.5 40.7h0.9v0.9h-0.9zM293.5 43.4h0.9v0.9h-0.9zM272.2 43.8h0.9v0.9h-0.9zM277.2 46.4h0.9v0.9h-0.9zM272.5 45.2h0.9v0.9h-0.9zM275.3 40.4h0.9v0.9h-0.9zM309.9 49.0h0.9v0.9h-0.9zM281.8 43.9h0.9v0.9h-0.9zM271.4 42.5h0.9v0.9h-0.9zM261.2 38.5h0.9v0.9h-0.9zM264.7 42.4h0.9v0.9h-0.9zM287.4 42.8h0.9v0.9h-0.9zM308.6 37.3h0.9v0.9h-0.9zM292.2 43.0h0.9v0.9h-0.9zM295.5 41.7h0.9v0.9h-0.9zM287.1 44.1h0.9v0.9h-0.9zM299.2 37.5h0.9v0.9h-0.9zM278.9 40.6h0.9v0.9h-0.9zM265.8 42.4h0.9v0.9h-0.9zM315.1 43.7h0.9v0.9h-0.9zM285.1 43.0h0.9v0.9h-0.9zM301.7 41.1h0.9v0.9h-0.9zM268.7 47.4h0.9v0.9h-0.9zM267.0 46.3h0.9v0.9h-0.9zM265.7 40.8h0.9v0.9h-0.9zM270.6 44.7h0.9v0.9h-0.9zM272.2 44.4h0.9v0.9h-0.9zM274.9 42.1h0.9v0.9h-0.9zM279.1 47.7h0.9v0.9h-0.9zM276.4 33.5h0.9v0.9h-0.9zM267.1 37.9h0.9v0.9h-0.9zM272.3 42.2h0.9v0.9h-0.9zM296.0 38.6h0.9v0.9h-0.9z" fill="#000" fill-opacity="0.18"/>
<path d="M302.9 47.0h0.9v0.9h-0.9zM274.2 44.3h0.9v0.9h-0.9zM261.2 42.2h0.9v0.9h-0.9zM265.7 40.9h0.9v0.9h-0.9zM278.3 42.3h0.9v0.9h-0.9zM283.0 46.4h0.9v0.9h-0.9zM295.6 41.5h0.9v0.9h-0.9zM263.9 42.6h0.9v0.9h-0.9zM288.7 41.1h0.9v0.9h-0.9zM292.2 40.9h0.9v0.9h-0.9zM292.3 39.0h0.9v0.9h-0.9zM261.8 39.6h0.9v0.9h-0.9zM297.8 41.1h0.9v0.9h-0.9zM285.7 46.0h0.9v0.9h-0.9zM310.0 42.0h0.9v0.9h-0.9zM272.2 39.5h0.9v0.9h-0.9zM265.6 41.8h0.9v0.9h-0.9zM261.7 50.9h0.9v0.9h-0.9zM271.5 39.6h0.9v0.9h-0.9zM269.3 37.3h0.9v0.9h-0.9zM281.9 38.8h0.9v0.9h-0.9zM263.2 41.0h0.9v0.9h-0.9zM271.2 40.9h0.9v0.9h-0.9zM279.5 43.3h0.9v0.9h-0.9zM274.7 35.4h0.9v0.9h-0.9zM266.8 42.4h0.9v0.9h-0.9zM295.7 36.8h0.9v0.9h-0.9zM307.6 42.6h0.9v0.9h-0.9zM275.7 43.9h0.9v0.9h-0.9zM287.6 44.1h0.9v0.9h-0.9zM280.7 41.2h0.9v0.9h-0.9zM264.3 43.2h0.9v0.9h-0.9zM277.8 45.1h0.9v0.9h-0.9zM293.9 31.4h0.9v0.9h-0.9zM261.6 41.2h0.9v0.9h-0.9zM261.2 34.1h0.9v0.9h-0.9zM262.8 40.3h0.9v0.9h-0.9zM272.7 43.3h0.9v0.9h-0.9zM304.3 39.8h0.9v0.9h-0.9zM277.8 40.0h0.9v0.9h-0.9zM310.6 48.6h0.9v0.9h-0.9zM278.6 46.8h0.9v0.9h-0.9zM276.9 42.7h0.9v0.9h-0.9zM264.3 47.5h0.9v0.9h-0.9zM308.1 42.8h0.9v0.9h-0.9zM301.2 43.5h0.9v0.9h-0.9zM285.9 42.3h0.9v0.9h-0.9zM296.1 38.3h0.9v0.9h-0.9zM266.7 46.8h0.9v0.9h-0.9zM273.3 34.2h0.9v0.9h-0.9z" fill="#000" fill-opacity="0.18"/>
<path d="M307.2 44.9h0.9v0.9h-0.9zM271.9 46.4h0.9v0.9h-0.9zM300.1 38.6h0.9v0.9h-0.9zM265.6 44.1h0.9v0.9h-0.9zM278.9 42.8h0.9v0.9h-0.9zM296.2 37.4h0.9v0.9h-0.9zM274.3 42.0h0.9v0.9h-0.9zM271.6 43.1h0.9v0.9h-0.9zM285.1 43.3h0.9v0.9h-0.9zM291.9 42.2h0.9v0.9h-0.9zM291.3 48.4h0.9v0.9h-0.9zM262.2 42.4h0.9v0.9h-0.9zM312.4 42.1h0.9v0.9h-0.9zM272.8 40.4h0.9v0.9h-0.9zM305.3 39.9h0.9v0.9h-0.9zM279.4 45.8h0.9v0.9h-0.9zM285.7 39.7h0.9v0.9h-0.9zM294.6 45.9h0.9v0.9h-0.9zM271.7 40.7h0.9v0.9h-0.9zM287.0 43.0h0.9v0.9h-0.9zM310.4 48.4h0.9v0.9h-0.9zM279.5 42.7h0.9v0.9h-0.9zM293.0 40.8h0.9v0.9h-0.9zM313.6 46.0h0.9v0.9h-0.9zM268.3 40.3h0.9v0.9h-0.9zM278.0 37.5h0.9v0.9h-0.9zM278.1 36.2h0.9v0.9h-0.9zM266.0 38.9h0.9v0.9h-0.9zM269.4 41.8h0.9v0.9h-0.9zM290.8 44.0h0.9v0.9h-0.9zM277.5 42.2h0.9v0.9h-0.9zM273.9 40.7h0.9v0.9h-0.9zM271.6 40.8h0.9v0.9h-0.9zM298.5 44.2h0.9v0.9h-0.9zM289.8 39.3h0.9v0.9h-0.9zM277.4 41.6h0.9v0.9h-0.9zM299.0 46.3h0.9v0.9h-0.9zM291.2 41.4h0.9v0.9h-0.9zM309.9 43.0h0.9v0.9h-0.9zM263.6 40.8h0.9v0.9h-0.9zM270.7 41.7h0.9v0.9h-0.9zM286.5 40.0h0.9v0.9h-0.9zM292.7 42.7h0.9v0.9h-0.9zM282.2 43.5h0.9v0.9h-0.9zM306.1 48.3h0.9v0.9h-0.9zM297.1 47.4h0.9v0.9h-0.9zM262.6 47.3h0.9v0.9h-0.9zM292.8 49.6h0.9v0.9h-0.9zM262.7 43.6h0.9v0.9h-0.9zM264.4 38.8h0.9v0.9h-0.9z" fill="#000" fill-opacity="0.18"/>
<path d="M268.2 39.7h0.9v0.9h-0.9zM265.9 39.8h0.9v0.9h-0.9zM298.1 42.7h0.9v0.9h-0.9zM273.2 43.2h0.9v0.9h-0.9zM291.8 46.2h0.9v0.9h-0.9zM272.2 41.7h0.9v0.9h-0.9zM266.2 40.7h0.9v0.9h-0.9zM305.8 40.3h0.9v0.9h-0.9zM262.5 41.3h0.9v0.9h-0.9zM290.8 47.1h0.9v0.9h-0.9zM277.7 42.0h0.9v0.9h-0.9zM276.3 37.1h0.9v0.9h-0.9zM278.0 42.1h0.9v0.9h-0.9zM290.1 41.9h0.9v0.9h-0.9zM295.8 43.1h0.9v0.9h-0.9zM298.8 41.3h0.9v0.9h-0.9zM314.8 35.2h0.9v0.9h-0.9zM288.7 44.1h0.9v0.9h-0.9zM275.8 47.2h0.9v0.9h-0.9zM295.3 39.1h0.9v0.9h-0.9zM284.0 40.4h0.9v0.9h-0.9zM288.9 51.6h0.9v0.9h-0.9zM262.9 42.3h0.9v0.9h-0.9zM271.0 48.2h0.9v0.9h-0.9zM263.0 41.4h0.9v0.9h-0.9zM274.8 42.0h0.9v0.9h-0.9zM298.4 44.3h0.9v0.9h-0.9zM294.6 40.0h0.9v0.9h-0.9zM284.9 39.9h0.9v0.9h-0.9zM289.1 39.5h0.9v0.9h-0.9zM286.7 46.2h0.9v0.9h-0.9zM279.5 37.0h0.9v0.9h-0.9zM303.4 39.4h0.9v0.9h-0.9zM268.4 47.3h0.9v0.9h-0.9zM261.3 48.3h0.9v0.9h-0.9zM287.0 37.7h0.9v0.9h-0.9zM316.9 44.9h0.9v0.9h-0.9zM292.5 38.9h0.9v0.9h-0.9zM264.8 42.6h0.9v0.9h-0.9zM314.6 39.4h0.9v0.9h-0.9zM266.3 39.6h0.9v0.9h-0.9zM287.3 43.6h0.9v0.9h-0.9zM293.3 43.9h0.9v0.9h-0.9zM286.3 39.2h0.9v0.9h-0.9zM279.0 41.9h0.9v0.9h-0.9zM290.8 34.4h0.9v0.9h-0.9zM273.9 44.2h0.9v0.9h-0.9zM266.6 39.3h0.9v0.9h-0.9zM269.4 32.5h0.9v0.9h-0.9zM303.9 40.5h0.9v0.9h-0.9z" fill="#000" fill-opacity="0.18"/>
<path d="M303.8 38.8h0.9v0.9h-0.9zM283.7 48.4h0.9v0.9h-0.9zM277.0 42.8h0.9v0.9h-0.9zM280.8 46.2h0.9v0.9h-0.9zM271.4 41.1h0.9v0.9h-0.9zM266.3 44.3h0.9v0.9h-0.9zM271.4 44.1h0.9v0.9h-0.9zM286.7 44.1h0.9v0.9h-0.9zM268.4 41.1h0.9v0.9h-0.9zM269.0 37.7h0.9v0.9h-0.9zM286.5 40.2h0.9v0.9h-0.9zM296.2 37.3h0.9v0.9h-0.9zM292.0 45.0h0.9v0.9h-0.9zM272.3 38.9h0.9v0.9h-0.9zM305.9 41.3h0.9v0.9h-0.9zM297.9 44.4h0.9v0.9h-0.9zM290.0 37.2h0.9v0.9h-0.9zM310.1 43.1h0.9v0.9h-0.9zM298.9 43.1h0.9v0.9h-0.9zM268.6 46.1h0.9v0.9h-0.9zM315.2 40.8h0.9v0.9h-0.9zM293.1 41.6h0.9v0.9h-0.9zM295.1 40.9h0.9v0.9h-0.9zM266.5 37.4h0.9v0.9h-0.9zM285.7 43.3h0.9v0.9h-0.9zM276.4 44.5h0.9v0.9h-0.9zM263.7 42.0h0.9v0.9h-0.9zM271.5 45.2h0.9v0.9h-0.9zM308.4 41.9h0.9v0.9h-0.9zM267.1 42.4h0.9v0.9h-0.9zM265.3 40.0h0.9v0.9h-0.9zM263.5 41.7h0.9v0.9h-0.9zM264.9 46.6h0.9v0.9h-0.9zM291.0 43.1h0.9v0.9h-0.9zM275.4 46.3h0.9v0.9h-0.9zM300.8 36.8h0.9v0.9h-0.9zM286.1 42.4h0.9v0.9h-0.9zM303.9 41.4h0.9v0.9h-0.9zM316.3 39.2h0.9v0.9h-0.9zM262.9 41.6h0.9v0.9h-0.9zM305.5 44.2h0.9v0.9h-0.9zM276.0 39.1h0.9v0.9h-0.9zM265.2 44.9h0.9v0.9h-0.9zM277.5 43.5h0.9v0.9h-0.9zM269.2 46.5h0.9v0.9h-0.9zM297.2 46.2h0.9v0.9h-0.9zM308.0 40.0h0.9v0.9h-0.9zM266.2 37.7h0.9v0.9h-0.9zM289.0 36.6h0.9v0.9h-0.9zM313.6 37.9h0.9v0.9h-0.9z" fill="#000" fill-opacity="0.18"/>
<path d="M299.4 41.6h0.9v0.9h-0.9zM285.1 38.0h0.9v0.9h-0.9zM262.5 39.0h0.9v0.9h-0.9zM272.4 39.0h0.9v0.9h-0.9zM305.5 39.7h0.9v0.9h-0.9zM275.0 41.3h0.9v0.9h-0.9zM290.7 40.7h0.9v0.9h-0.9zM274.0 45.5h0.9v0.9h-0.9zM281.4 34.6h0.9v0.9h-0.9zM267.7 40.3h0.9v0.9h-0.9zM295.2 45.7h0.9v0.9h-0.9zM288.4 42.0h0.9v0.9h-0.9zM271.3 43.5h0.9v0.9h-0.9zM262.0 41.4h0.9v0.9h-0.9zM304.1 41.8h0.9v0.9h-0.9zM270.9 46.2h0.9v0.9h-0.9zM298.4 42.8h0.9v0.9h-0.9zM269.9 45.6h0.9v0.9h-0.9zM267.8 43.3h0.9v0.9h-0.9zM266.4 43.2h0.9v0.9h-0.9zM269.3 39.6h0.9v0.9h-0.9zM281.6 42.4h0.9v0.9h-0.9zM291.0 40.3h0.9v0.9h-0.9zM266.5 43.7h0.9v0.9h-0.9zM272.3 45.0h0.9v0.9h-0.9zM304.2 38.4h0.9v0.9h-0.9zM263.4 43.1h0.9v0.9h-0.9zM269.9 44.4h0.9v0.9h-0.9zM283.2 41.0h0.9v0.9h-0.9zM267.7 39.3h0.9v0.9h-0.9zM298.6 40.1h0.9v0.9h-0.9zM279.3 43.1h0.9v0.9h-0.9zM305.3 40.5h0.9v0.9h-0.9zM303.7 41.3h0.9v0.9h-0.9zM290.5 42.0h0.9v0.9h-0.9zM308.0 49.5h0.9v0.9h-0.9zM263.5 37.3h0.9v0.9h-0.9zM266.7 39.3h0.9v0.9h-0.9zM288.6 38.6h0.9v0.9h-0.9zM288.0 39.1h0.9v0.9h-0.9zM292.7 41.4h0.9v0.9h-0.9zM269.0 44.1h0.9v0.9h-0.9zM264.2 39.2h0.9v0.9h-0.9zM302.3 41.7h0.9v0.9h-0.9zM264.0 39.5h0.9v0.9h-0.9zM287.8 43.0h0.9v0.9h-0.9zM314.1 41.2h0.9v0.9h-0.9zM283.1 38.8h0.9v0.9h-0.9zM291.5 39.0h0.9v0.9h-0.9zM267.0 38.0h0.9v0.9h-0.9z" fill="#000" fill-opacity="0.18"/>
<path d="M293.7 44.5h0.9v0.9h-0.9zM304.2 43.2h0.9v0.9h-0.9zM296.2 46.5h0.9v0.9h-0.9zM287.8 42.4h0.9v0.9h-0.9zM274.1 47.1h0.9v0.9h-0.9zM264.2 40.6h0.9v0.9h-0.9zM285.9 43.0h0.9v0.9h-0.9zM296.3 40.4h0.9v0.9h-0.9zM316.6 36.4h0.9v0.9h-0.9zM292.7 41.4h0.9v0.9h-0.9zM310.7 43.9h0.9v0.9h-0.9zM275.8 44.4h0.9v0.9h-0.9zM312.3 40.7h0.9v0.9h-0.9zM268.6 39.4h0.9v0.9h-0.9zM277.5 46.7h0.9v0.9h-0.9zM283.5 45.3h0.9v0.9h-0.9zM293.2 36.5h0.9v0.9h-0.9zM287.6 35.8h0.9v0.9h-0.9zM286.6 36.9h0.9v0.9h-0.9zM310.6 42.2h0.9v0.9h-0.9zM299.3 41.1h0.9v0.9h-0.9zM264.5 38.1h0.9v0.9h-0.9zM297.2 42.4h0.9v0.9h-0.9zM299.0 45.0h0.9v0.9h-0.9zM268.6 42.8h0.9v0.9h-0.9zM314.5 43.5h0.9v0.9h-0.9zM270.4 36.9h0.9v0.9h-0.9zM316.5 45.0h0.9v0.9h-0.9zM269.1 39.5h0.9v0.9h-0.9zM289.3 46.8h0.9v0.9h-0.9zM261.5 47.8h0.9v0.9h-0.9zM291.3 41.8h0.9v0.9h-0.9zM288.8 43.4h0.9v0.9h-0.9zM289.4 44.9h0.9v0.9h-0.9zM310.2 42.0h0.9v0.9h-0.9zM298.9 40.6h0.9v0.9h-0.9zM266.9 44.7h0.9v0.9h-0.9zM283.5 38.3h0.9v0.9h-0.9zM304.4 46.3h0.9v0.9h-0.9zM271.1 42.5h0.9v0.9h-0.9zM274.6 42.6h0.9v0.9h-0.9zM281.9 43.1h0.9v0.9h-0.9zM266.7 41.8h0.9v0.9h-0.9zM281.8 39.9h0.9v0.9h-0.9zM290.1 39.7h0.9v0.9h-0.9zM277.3 40.3h0.9v0.9h-0.9zM269.0 40.1h0.9v0.9h-0.9zM308.3 44.5h0.9v0.9h-0.9zM288.4 41.0h0.9v0.9h-0.9zM284.2 45.2h0.9v0.9h-0.9z" fill="#000" fill-opacity="0.18"/>
<path d="M275.9 37.6h0.9v0.9h-0.9zM284.8 44.4h0.9v0.9h-0.9zM263.9 40.5h0.9v0.9h-0.9zM302.9 43.1h0.9v0.9h-0.9zM261.2 44.2h0.9v0.9h-0.9zM266.0 43.7h0.9v0.9h-0.9zM306.7 46.3h0.9v0.9h-0.9zM282.1 42.2h0.9v0.9h-0.9zM318.5 43.4h0.9v0.9h-0.9zM302.9 36.0h0.9v0.9h-0.9zM275.0 42.8h0.9v0.9h-0.9zM294.5 44.5h0.9v0.9h-0.9zM266.9 34.6h0.9v0.9h-0.9zM269.0 39.4h0.9v0.9h-0.9zM271.6 42.6h0.9v0.9h-0.9zM283.5 39.8h0.9v0.9h-0.9zM317.3 44.1h0.9v0.9h-0.9zM269.7 44.8h0.9v0.9h-0.9zM298.6 45.0h0.9v0.9h-0.9zM311.7 51.9h0.9v0.9h-0.9zM265.1 48.3h0.9v0.9h-0.9zM298.3 45.1h0.9v0.9h-0.9zM283.6 42.0h0.9v0.9h-0.9zM292.4 46.0h0.9v0.9h-0.9zM284.7 39.3h0.9v0.9h-0.9zM287.2 44.3h0.9v0.9h-0.9zM272.0 35.4h0.9v0.9h-0.9zM283.8 43.1h0.9v0.9h-0.9zM284.9 44.8h0.9v0.9h-0.9zM294.4 42.5h0.9v0.9h-0.9zM300.6 45.5h0.9v0.9h-0.9zM296.1 44.4h0.9v0.9h-0.9zM282.1 40.7h0.9v0.9h-0.9zM273.3 39.2h0.9v0.9h-0.9zM282.1 43.0h0.9v0.9h-0.9zM267.9 41.6h0.9v0.9h-0.9zM294.6 45.3h0.9v0.9h-0.9zM267.2 45.5h0.9v0.9h-0.9zM278.9 41.2h0.9v0.9h-0.9zM288.4 38.0h0.9v0.9h-0.9zM278.0 44.2h0.9v0.9h-0.9zM281.1 45.8h0.9v0.9h-0.9zM276.7 43.5h0.9v0.9h-0.9zM267.8 37.4h0.9v0.9h-0.9zM289.1 40.4h0.9v0.9h-0.9zM282.4 45.6h0.9v0.9h-0.9zM313.8 42.9h0.9v0.9h-0.9zM264.4 39.6h0.9v0.9h-0.9zM292.9 42.1h0.9v0.9h-0.9zM266.7 38.3h0.9v0.9h-0.9z" fill="#000" fill-opacity="0.18"/>
<path d="M289.4 45.9h0.9v0.9h-0.9zM295.5 42.3h0.9v0.9h-0.9zM267.9 38.9h0.9v0.9h-0.9zM268.7 43.1h0.9v0.9h-0.9zM263.4 41.7h0.9v0.9h-0.9zM267.6 38.3h0.9v0.9h-0.9zM304.5 46.3h0.9v0.9h-0.9zM292.5 44.9h0.9v0.9h-0.9zM271.3 44.6h0.9v0.9h-0.9zM280.0 38.3h0.9v0.9h-0.9zM271.7 41.8h0.9v0.9h-0.9zM264.2 46.0h0.9v0.9h-0.9zM272.4 44.7h0.9v0.9h-0.9zM286.2 35.6h0.9v0.9h-0.9zM297.5 43.2h0.9v0.9h-0.9zM296.5 47.5h0.9v0.9h-0.9zM268.3 45.7h0.9v0.9h-0.9zM277.7 40.1h0.9v0.9h-0.9zM293.0 39.9h0.9v0.9h-0.9zM276.8 44.7h0.9v0.9h-0.9zM278.9 42.6h0.9v0.9h-0.9zM298.8 40.5h0.9v0.9h-0.9zM274.9 40.8h0.9v0.9h-0.9zM261.3 44.6h0.9v0.9h-0.9zM303.0 38.9h0.9v0.9h-0.9zM267.7 49.7h0.9v0.9h-0.9zM290.9 36.3h0.9v0.9h-0.9zM274.6 42.5h0.9v0.9h-0.9zM280.4 48.6h0.9v0.9h-0.9zM283.9 43.6h0.9v0.9h-0.9zM293.1 43.8h0.9v0.9h-0.9zM276.0 43.2h0.9v0.9h-0.9zM305.4 43.0h0.9v0.9h-0.9zM287.4 44.4h0.9v0.9h-0.9zM270.0 40.1h0.9v0.9h-0.9zM281.2 41.2h0.9v0.9h-0.9zM266.7 44.3h0.9v0.9h-0.9zM261.6 41.6h0.9v0.9h-0.9zM284.9 46.0h0.9v0.9h-0.9zM272.1 43.8h0.9v0.9h-0.9zM269.4 37.7h0.9v0.9h-0.9zM309.3 42.7h0.9v0.9h-0.9zM291.7 42.9h0.9v0.9h-0.9zM295.3 36.1h0.9v0.9h-0.9zM262.6 36.2h0.9v0.9h-0.9zM272.6 42.2h0.9v0.9h-0.9zM304.6 41.8h0.9v0.9h-0.9zM300.1 41.6h0.9v0.9h-0.9zM295.4 44.0h0.9v0.9h-0.9zM295.8 42.9h0.9v0.9h-0.9z" fill="#000" fill-opacity="0.18"/>
<path d="M280.7 67.4h0.9v0.9h-0.9zM270.8 79.7h0.9v0.9h-0.9zM279.8 71.0h0.9v0.9h-0.9zM280.7 70.2h0.9v0.9h-0.9zM272.7 73.4h0.9v0.9h-0.9zM283.6 70.4h0.9v0.9h-0.9zM275.2 70.5h0.9v0.9h-0.9zM276.4 71.1h0.9v0.9h-0.9zM287.1 68.2h0.9v0.9h-0.9zM280.7 65.0h0.9v0.9h-0.9zM275.5 72.0h0.9v0.9h-0.9zM277.5 71.6h0.9v0.9h-0.9zM289.9 58.8h0.9v0.9h-0.9zM271.2 73.9h0.9v0.9h-0.9zM272.4 73.6h0.9v0.9h-0.9zM281.9 72.8h0.9v0.9h-0.9zM267.7 72.6h0.9v0.9h-0.9zM278.9 72.2h0.9v0.9h-0.9zM271.7 76.8h0.9v0.9h-0.9zM280.4 72.1h0.9v0.9h-0.9zM290.7 58.0h0.9v0.9h-0.9zM281.4 71.4h0.9v0.9h-0.9zM283.4 69.5h0.9v0.9h-0.9zM281.6 68.7h0.9v0.9h-0.9zM276.0 72.9h0.9v0.9h-0.9zM270.4 77.4h0.9v0.9h-0.9zM276.4 72.2h0.9v0.9h-0.9zM290.3 63.1h0.9v0.9h-0.9zM281.0 73.4h0.9v0.9h-0.9zM282.2 72.1h0.9v0.9h-0.9z" fill="#000" fill-opacity="0.3"/>
<path d="M293.9 56.1h0.9v0.9h-0.9zM289.7 59.7h0.9v0.9h-0.9zM278.9 69.0h0.9v0.9h-0.9zM284.3 67.2h0.9v0.9h-0.9zM269.1 73.5h0.9v0.9h-0.9zM281.0 67.7h0.9v0.9h-0.9zM272.9 72.6h0.9v0.9h-0.9zM286.8 61.9h0.9v0.9h-0.9zM290.4 58.7h0.9v0.9h-0.9zM279.9 68.3h0.9v0.9h-0.9zM284.9 62.1h0.9v0.9h-0.9zM275.0 73.8h0.9v0.9h-0.9zM275.1 74.4h0.9v0.9h-0.9zM274.6 69.9h0.9v0.9h-0.9zM285.7 69.1h0.9v0.9h-0.9zM278.7 69.0h0.9v0.9h-0.9zM273.2 72.8h0.9v0.9h-0.9zM284.1 67.9h0.9v0.9h-0.9zM278.7 70.2h0.9v0.9h-0.9zM265.7 74.3h0.9v0.9h-0.9zM284.1 63.2h0.9v0.9h-0.9zM271.4 71.6h0.9v0.9h-0.9zM269.0 73.8h0.9v0.9h-0.9zM278.0 67.0h0.9v0.9h-0.9zM276.3 68.8h0.9v0.9h-0.9zM273.9 69.6h0.9v0.9h-0.9zM274.3 73.9h0.9v0.9h-0.9zM281.6 72.6h0.9v0.9h-0.9zM286.3 69.8h0.9v0.9h-0.9zM278.2 69.9h0.9v0.9h-0.9z" fill="#000" fill-opacity="0.3"/>
<path d="M295.9 56.0h0.9v0.9h-0.9zM278.9 69.2h0.9v0.9h-0.9zM274.3 72.6h0.9v0.9h-0.9zM284.8 66.0h0.9v0.9h-0.9zM288.5 63.5h0.9v0.9h-0.9zM279.1 70.4h0.9v0.9h-0.9zM280.9 69.1h0.9v0.9h-0.9zM284.0 65.8h0.9v0.9h-0.9zM279.0 68.6h0.9v0.9h-0.9zM289.0 66.0h0.9v0.9h-0.9zM275.6 70.3h0.9v0.9h-0.9zM281.6 67.1h0.9v0.9h-0.9zM287.8 64.5h0.9v0.9h-0.9zM286.2 66.1h0.9v0.9h-0.9zM278.0 66.6h0.9v0.9h-0.9zM280.6 67.7h0.9v0.9h-0.9zM280.9 72.5h0.9v0.9h-0.9zM277.0 70.2h0.9v0.9h-0.9zM289.6 65.9h0.9v0.9h-0.9zM271.2 69.8h0.9v0.9h-0.9zM280.9 66.2h0.9v0.9h-0.9zM289.1 62.7h0.9v0.9h-0.9zM284.8 61.7h0.9v0.9h-0.9zM280.5 65.1h0.9v0.9h-0.9zM279.3 63.5h0.9v0.9h-0.9zM274.9 69.5h0.9v0.9h-0.9zM273.3 73.8h0.9v0.9h-0.9zM290.4 63.6h0.9v0.9h-0.9zM279.9 71.4h0.9v0.9h-0.9z" fill="#000" fill-opacity="0.3"/>
<path d="M278.4 70.9h0.9v0.9h-0.9zM275.5 70.3h0.9v0.9h-0.9zM262.0 82.2h0.9v0.9h-0.9zM288.2 65.1h0.9v0.9h-0.9zM281.3 71.5h0.9v0.9h-0.9zM285.5 66.3h0.9v0.9h-0.9zM296.1 58.4h0.9v0.9h-0.9zM305.1 55.2h0.9v0.9h-0.9zM287.4 65.4h0.9v0.9h-0.9zM285.5 64.2h0.9v0.9h-0.9zM277.7 69.1h0.9v0.9h-0.9zM282.1 66.7h0.9v0.9h-0.9zM278.0 64.9h0.9v0.9h-0.9zM285.1 65.3h0.9v0.9h-0.9zM282.3 68.4h0.9v0.9h-0.9zM285.8 72.8h0.9v0.9h-0.9zM290.1 63.0h0.9v0.9h-0.9zM277.2 67.8h0.9v0.9h-0.9zM288.9 69.3h0.9v0.9h-0.9zM280.4 69.6h0.9v0.9h-0.9zM280.5 68.9h0.9v0.9h-0.9zM269.5 77.9h0.9v0.9h-0.9zM289.2 64.8h0.9v0.9h-0.9zM278.9 68.8h0.9v0.9h-0.9zM268.0 77.3h0.9v0.9h-0.9zM285.0 66.4h0.9v0.9h-0.9zM274.3 75.9h0.9v0.9h-0.9zM285.6 69.1h0.9v0.9h-0.9zM278.5 70.0h0.9v0.9h-0.9z" fill="#000" fill-opacity="0.3"/>
<path d="M288.2 65.9h0.9v0.9h-0.9zM285.5 70.7h0.9v0.9h-0.9zM286.5 64.9h0.9v0.9h-0.9zM285.4 65.1h0.9v0.9h-0.9zM268.7 76.4h0.9v0.9h-0.9zM275.9 70.5h0.9v0.9h-0.9zM280.5 68.4h0.9v0.9h-0.9zM280.2 68.5h0.9v0.9h-0.9zM281.4 69.9h0.9v0.9h-0.9zM288.0 63.8h0.9v0.9h-0.9zM287.9 66.1h0.9v0.9h-0.9zM280.1 66.0h0.9v0.9h-0.9zM293.9 58.3h0.9v0.9h-0.9zM276.2 68.9h0.9v0.9h-0.9zM269.4 74.9h0.9v0.9h-0.9zM275.3 71.4h0.9v0.9h-0.9zM281.9 73.4h0.9v0.9h-0.9zM279.8 66.0h0.9v0.9h-0.9zM286.2 63.3h0.9v0.9h-0.9zM279.8 69.1h0.9v0.9h-0.9zM273.2 69.7h0.9v0.9h-0.9zM286.7 62.5h0.9v0.9h-0.9zM280.6 68.2h0.9v0.9h-0.9zM264.0 80.7h0.9v0.9h-0.9zM291.1 60.6h0.9v0.9h-0.9zM285.4 68.1h0.9v0.9h-0.9zM286.4 68.8h0.9v0.9h-0.9zM275.8 72.8h0.9v0.9h-0.9zM290.0 68.4h0.9v0.9h-0.9z" fill="#000" fill-opacity="0.3"/>
<path d="M276.9 69.8h0.9v0.9h-0.9zM280.6 68.9h0.9v0.9h-0.9zM275.2 76.1h0.9v0.9h-0.9zM269.8 74.0h0.9v0.9h-0.9zM280.0 69.8h0.9v0.9h-0.9zM273.6 70.4h0.9v0.9h-0.9zM277.9 69.4h0.9v0.9h-0.9zM269.4 74.1h0.9v0.9h-0.9zM278.4 72.9h0.9v0.9h-0.9zM281.4 69.4h0.9v0.9h-0.9zM281.3 70.7h0.9v0.9h-0.9zM288.8 62.7h0.9v0.9h-0.9zM284.1 67.4h0.9v0.9h-0.9zM279.3 64.2h0.9v0.9h-0.9zM276.8 68.1h0.9v0.9h-0.9zM276.8 64.9h0.9v0.9h-0.9zM281.7 70.9h0.9v0.9h-0.9zM272.1 69.9h0.9v0.9h-0.9zM272.8 75.9h0.9v0.9h-0.9zM287.3 67.6h0.9v0.9h-0.9zM275.4 71.9h0.9v0.9h-0.9zM271.5 74.2h0.9v0.9h-0.9zM271.0 71.5h0.9v0.9h-0.9zM293.0 59.7h0.9v0.9h-0.9zM280.2 64.8h0.9v0.9h-0.9zM278.3 72.1h0.9v0.9h-0.9zM272.8 69.6h0.9v0.9h-0.9zM275.9 68.7h0.9v0.9h-0.9zM281.2 69.1h0.9v0.9h-0.9z" fill="#000" fill-opacity="0.3"/>
<path d="M289.9 67.5h0.9v0.9h-0.9zM279.9 66.9h0.9v0.9h-0.9zM277.2 74.8h0.9v0.9h-0.9zM280.8 69.6h0.9v0.9h-0.9zM272.8 72.2h0.9v0.9h-0.9zM276.0 69.8h0.9v0.9h-0.9zM280.1 68.3h0.9v0.9h-0.9zM293.6 61.6h0.9v0.9h-0.9zM279.3 72.7h0.9v0.9h-0.9zM280.1 65.1h0.9v0.9h-0.9zM285.9 63.5h0.9v0.9h-0.9zM290.3 68.8h0.9v0.9h-0.9zM275.4 74.4h0.9v0.9h-0.9zM275.2 73.8h0.9v0.9h-0.9zM282.8 70.3h0.9v0.9h-0.9zM283.8 66.4h0.9v0.9h-0.9zM276.7 70.8h0.9v0.9h-0.9zM286.4 63.4h0.9v0.9h-0.9zM268.5 75.2h0.9v0.9h-0.9zM287.8 63.7h0.9v0.9h-0.9zM287.3 69.1h0.9v0.9h-0.9zM281.5 66.3h0.9v0.9h-0.9zM275.9 70.3h0.9v0.9h-0.9zM277.1 73.5h0.9v0.9h-0.9zM280.9 69.0h0.9v0.9h-0.9zM290.1 68.0h0.9v0.9h-0.9zM271.2 73.8h0.9v0.9h-0.9zM284.6 69.3h0.9v0.9h-0.9zM274.0 72.1h0.9v0.9h-0.9z" fill="#000" fill-opacity="0.3"/>
<path d="M277.9 74.0h0.9v0.9h-0.9zM283.5 65.3h0.9v0.9h-0.9zM277.1 68.5h0.9v0.9h-0.9zM281.8 72.4h0.9v0.9h-0.9zM280.3 71.0h0.9v0.9h-0.9zM283.5 63.3h0.9v0.9h-0.9zM285.4 66.9h0.9v0.9h-0.9zM278.1 70.1h0.9v0.9h-0.9zM281.6 68.7h0.9v0.9h-0.9zM282.1 63.1h0.9v0.9h-0.9zM276.2 73.4h0.9v0.9h-0.9zM290.2 62.6h0.9v0.9h-0.9zM289.4 63.0h0.9v0.9h-0.9zM285.5 65.4h0.9v0.9h-0.9zM285.4 63.0h0.9v0.9h-0.9zM266.9 76.4h0.9v0.9h-0.9zM277.3 68.7h0.9v0.9h-0.9zM275.3 74.3h0.9v0.9h-0.9zM276.7 69.0h0.9v0.9h-0.9zM282.0 72.0h0.9v0.9h-0.9zM269.5 76.9h0.9v0.9h-0.9zM274.7 73.8h0.9v0.9h-0.9zM286.4 62.0h0.9v0.9h-0.9zM271.4 74.3h0.9v0.9h-0.9zM282.5 65.2h0.9v0.9h-0.9zM280.6 67.8h0.9v0.9h-0.9zM287.7 66.2h0.9v0.9h-0.9zM293.0 63.1h0.9v0.9h-0.9zM281.6 64.4h0.9v0.9h-0.9z" fill="#000" fill-opacity="0.3"/>
<path d="M284.0 67.2h0.9v0.9h-0.9zM274.2 74.6h0.9v0.9h-0.9zM277.6 68.4h0.9v0.9h-0.9zM268.9 70.6h0.9v0.9h-0.9zM276.0 73.4h0.9v0.9h-0.9zM278.9 66.2h0.9v0.9h-0.9zM274.2 72.6h0.9v0.9h-0.9zM279.1 66.8h0.9v0.9h-0.9zM270.7 70.3h0.9v0.9h-0.9zM283.0 67.0h0.9v0.9h-0.9zM290.6 55.5h0.9v0.9h-0.9zM281.0 68.3h0.9v0.9h-0.9zM281.9 69.8h0.9v0.9h-0.9zM273.3 74.9h0.9v0.9h-0.9zM277.1 72.8h0.9v0.9h-0.9zM279.9 66.4h0.9v0.9h-0.9zM281.3 65.7h0.9v0.9h-0.9zM277.7 71.4h0.9v0.9h-0.9zM289.2 64.2h0.9v0.9h-0.9zM284.4 70.1h0.9v0.9h-0.9zM277.0 70.9h0.9v0.9h-0.9zM281.3 63.6h0.9v0.9h-0.9zM273.6 67.9h0.9v0.9h-0.9zM280.6 66.9h0.9v0.9h-0.9zM291.0 59.3h0.9v0.9h-0.9zM273.4 71.9h0.9v0.9h-0.9zM282.6 63.7h0.9v0.9h-0.9zM287.1 64.1h0.9v0.9h-0.9zM275.8 68.4h0.9v0.9h-0.9z" fill="#000" fill-opacity="0.3"/>
<path d="M270.6 70.9h0.9v0.9h-0.9zM266.6 75.8h0.9v0.9h-0.9zM279.5 70.8h0.9v0.9h-0.9zM277.9 68.3h0.9v0.9h-0.9zM266.4 78.8h0.9v0.9h-0.9zM285.7 66.4h0.9v0.9h-0.9zM281.7 67.2h0.9v0.9h-0.9zM281.4 69.6h0.9v0.9h-0.9zM270.5 76.4h0.9v0.9h-0.9zM279.1 66.4h0.9v0.9h-0.9zM277.0 73.1h0.9v0.9h-0.9zM281.0 66.0h0.9v0.9h-0.9zM287.5 66.8h0.9v0.9h-0.9zM275.1 71.7h0.9v0.9h-0.9zM277.4 69.6h0.9v0.9h-0.9zM286.3 63.3h0.9v0.9h-0.9zM279.8 70.3h0.9v0.9h-0.9zM279.3 70.5h0.9v0.9h-0.9zM279.7 71.8h0.9v0.9h-0.9zM276.9 70.8h0.9v0.9h-0.9zM283.1 69.4h0.9v0.9h-0.9zM272.3 72.8h0.9v0.9h-0.9zM280.9 68.4h0.9v0.9h-0.9zM278.2 67.6h0.9v0.9h-0.9zM288.2 60.7h0.9v0.9h-0.9zM280.3 69.5h0.9v0.9h-0.9zM287.8 66.2h0.9v0.9h-0.9zM269.4 73.7h0.9v0.9h-0.9zM282.5 70.1h0.9v0.9h-0.9z" fill="#000" fill-opacity="0.3"/>
<path d="M278.9 61.1h0.9v0.9h-0.9zM277.1 70.4h0.9v0.9h-0.9zM277.6 69.1h0.9v0.9h-0.9zM281.1 70.3h0.9v0.9h-0.9zM283.9 63.8h0.9v0.9h-0.9zM289.1 65.0h0.9v0.9h-0.9zM278.4 69.7h0.9v0.9h-0.9zM270.1 74.5h0.9v0.9h-0.9zM267.9 80.5h0.9v0.9h-0.9zM286.3 64.7h0.9v0.9h-0.9zM276.0 74.1h0.9v0.9h-0.9zM268.8 77.0h0.9v0.9h-0.9zM273.1 70.6h0.9v0.9h-0.9zM276.2 76.7h0.9v0.9h-0.9zM290.9 54.7h0.9v0.9h-0.9zM271.4 76.7h0.9v0.9h-0.9zM291.2 56.5h0.9v0.9h-0.9zM278.4 63.7h0.9v0.9h-0.9zM278.9 73.2h0.9v0.9h-0.9zM275.8 71.5h0.9v0.9h-0.9zM282.5 67.3h0.9v0.9h-0.9zM276.1 72.0h0.9v0.9h-0.9zM289.4 68.7h0.9v0.9h-0.9zM277.0 72.8h0.9v0.9h-0.9zM286.7 68.7h0.9v0.9h-0.9zM270.7 73.6h0.9v0.9h-0.9zM273.1 65.9h0.9v0.9h-0.9zM281.8 66.2h0.9v0.9h-0.9zM281.9 67.0h0.9v0.9h-0.9z" fill="#000" fill-opacity="0.3"/>
<path d="M277.1 72.1h0.9v0.9h-0.9zM268.2 73.4h0.9v0.9h-0.9zM280.4 69.9h0.9v0.9h-0.9zM296.4 54.8h0.9v0.9h-0.9zM278.1 70.2h0.9v0.9h-0.9zM273.3 73.3h0.9v0.9h-0.9zM284.3 66.9h0.9v0.9h-0.9zM260.0 76.5h0.9v0.9h-0.9zM276.2 67.5h0.9v0.9h-0.9zM284.5 64.0h0.9v0.9h-0.9zM279.8 65.5h0.9v0.9h-0.9zM282.4 72.0h0.9v0.9h-0.9zM272.9 65.5h0.9v0.9h-0.9zM288.6 61.2h0.9v0.9h-0.9zM274.7 69.9h0.9v0.9h-0.9zM279.3 69.8h0.9v0.9h-0.9zM281.3 70.1h0.9v0.9h-0.9zM290.8 65.2h0.9v0.9h-0.9zM293.0 60.5h0.9v0.9h-0.9zM282.1 66.3h0.9v0.9h-0.9zM290.4 63.3h0.9v0.9h-0.9zM285.6 70.8h0.9v0.9h-0.9zM282.2 65.1h0.9v0.9h-0.9zM273.5 71.4h0.9v0.9h-0.9zM293.6 60.1h0.9v0.9h-0.9zM277.8 68.6h0.9v0.9h-0.9zM274.6 71.9h0.9v0.9h-0.9zM294.0 63.8h0.9v0.9h-0.9zM271.4 69.7h0.9v0.9h-0.9z" fill="#000" fill-opacity="0.3"/>
<path d="M272.6 70.3h0.9v0.9h-0.9zM298.2 82.6h0.9v0.9h-0.9zM298.5 78.8h0.9v0.9h-0.9zM272.0 71.8h0.9v0.9h-0.9zM307.0 70.9h0.9v0.9h-0.9zM294.0 74.2h0.9v0.9h-0.9zM282.0 78.2h0.9v0.9h-0.9zM274.8 82.9h0.9v0.9h-0.9zM291.6 81.5h0.9v0.9h-0.9zM273.6 79.7h0.9v0.9h-0.9zM292.5 79.3h0.9v0.9h-0.9zM276.2 81.2h0.9v0.9h-0.9zM300.3 83.7h0.9v0.9h-0.9zM276.6 67.3h0.9v0.9h-0.9zM271.3 82.9h0.9v0.9h-0.9zM279.2 81.5h0.9v0.9h-0.9zM292.6 79.4h0.9v0.9h-0.9zM286.8 86.8h0.9v0.9h-0.9zM268.9 87.0h0.9v0.9h-0.9zM271.7 86.0h0.9v0.9h-0.9zM275.7 86.2h0.9v0.9h-0.9zM289.6 84.8h0.9v0.9h-0.9zM288.3 79.4h0.9v0.9h-0.9zM283.2 81.5h0.9v0.9h-0.9zM290.7 72.8h0.9v0.9h-0.9zM267.2 80.0h0.9v0.9h-0.9zM282.7 83.1h0.9v0.9h-0.9zM281.1 82.6h0.9v0.9h-0.9zM268.3 79.5h0.9v0.9h-0.9zM292.8 76.6h0.9v0.9h-0.9zM274.5 84.0h0.9v0.9h-0.9zM274.9 83.9h0.9v0.9h-0.9zM290.5 80.6h0.9v0.9h-0.9zM274.8 88.1h0.9v0.9h-0.9zM277.4 85.3h0.9v0.9h-0.9zM271.5 77.9h0.9v0.9h-0.9zM308.1 86.3h0.9v0.9h-0.9zM285.0 85.7h0.9v0.9h-0.9zM273.7 85.5h0.9v0.9h-0.9zM274.4 81.1h0.9v0.9h-0.9zM295.6 78.1h0.9v0.9h-0.9zM277.4 78.1h0.9v0.9h-0.9zM282.3 82.2h0.9v0.9h-0.9zM291.1 77.1h0.9v0.9h-0.9zM295.4 69.5h0.9v0.9h-0.9zM279.2 84.1h0.9v0.9h-0.9zM278.0 68.3h0.9v0.9h-0.9zM274.8 84.9h0.9v0.9h-0.9zM288.5 78.0h0.9v0.9h-0.9zM269.9 70.6h0.9v0.9h-0.9zM298.4 77.1h0.9v0.9h-0.9zM293.6 79.6h0.9v0.9h-0.9zM291.6 77.7h0.9v0.9h-0.9zM289.8 83.5h0.9v0.9h-0.9zM274.3 86.0h0.9v0.9h-0.9zM289.1 85.5h0.9v0.9h-0.9zM268.4 90.3h0.9v0.9h-0.9zM282.6 90.3h0.9v0.9h-0.9zM273.1 74.3h0.9v0.9h-0.9zM274.6 83.2h0.9v0.9h-0.9zM298.8 74.6h0.9v0.9h-0.9zM277.4 82.3h0.9v0.9h-0.9zM275.0 61.9h0.9v0.9h-0.9zM283.6 83.4h0.9v0.9h-0.9zM287.3 70.3h0.9v0.9h-0.9zM295.7 78.0h0.9v0.9h-0.9zM270.0 82.7h0.9v0.9h-0.9zM283.8 86.5h0.9v0.9h-0.9zM273.8 82.4h0.9v0.9h-0.9zM279.8 87.9h0.9v0.9h-0.9zM279.5 79.1h0.9v0.9h-0.9zM276.7 74.0h0.9v0.9h-0.9zM280.0 85.1h0.9v0.9h-0.9zM276.1 76.6h0.9v0.9h-0.9zM295.7 79.7h0.9v0.9h-0.9zM293.4 89.3h0.9v0.9h-0.9zM275.0 81.1h0.9v0.9h-0.9zM274.3 83.7h0.9v0.9h-0.9zM291.7 82.7h0.9v0.9h-0.9zM276.9 75.8h0.9v0.9h-0.9zM272.6 84.3h0.9v0.9h-0.9zM267.3 79.5h0.9v0.9h-0.9zM273.2 91.2h0.9v0.9h-0.9zM295.0 82.9h0.9v0.9h-0.9zM284.0 86.6h0.9v0.9h-0.9zM267.3 79.8h0.9v0.9h-0.9zM278.4 85.1h0.9v0.9h-0.9zM273.2 79.6h0.9v0.9h-0.9zM271.5 86.5h0.9v0.9h-0.9zM275.7 85.9h0.9v0.9h-0.9zM296.3 72.9h0.9v0.9h-0.9zM291.4 84.2h0.9v0.9h-0.9z" fill="#000" fill-opacity="0.22"/>
<path d="M268.1 80.9h0.9v0.9h-0.9zM297.7 82.0h0.9v0.9h-0.9zM288.9 85.7h0.9v0.9h-0.9zM277.0 82.1h0.9v0.9h-0.9zM309.7 80.1h0.9v0.9h-0.9zM273.7 83.8h0.9v0.9h-0.9zM290.5 78.1h0.9v0.9h-0.9zM277.0 74.4h0.9v0.9h-0.9zM271.3 72.9h0.9v0.9h-0.9zM274.8 82.9h0.9v0.9h-0.9zM279.2 74.7h0.9v0.9h-0.9zM268.3 82.4h0.9v0.9h-0.9zM272.6 82.4h0.9v0.9h-0.9zM294.2 75.9h0.9v0.9h-0.9zM275.9 79.9h0.9v0.9h-0.9zM285.3 72.7h0.9v0.9h-0.9zM286.8 74.2h0.9v0.9h-0.9zM267.8 79.8h0.9v0.9h-0.9zM268.3 79.5h0.9v0.9h-0.9zM283.7 76.5h0.9v0.9h-0.9zM287.5 85.2h0.9v0.9h-0.9zM304.0 86.5h0.9v0.9h-0.9zM280.8 76.6h0.9v0.9h-0.9zM281.5 85.1h0.9v0.9h-0.9zM273.0 77.2h0.9v0.9h-0.9zM272.9 79.6h0.9v0.9h-0.9zM277.8 71.8h0.9v0.9h-0.9zM278.8 86.5h0.9v0.9h-0.9zM271.9 86.5h0.9v0.9h-0.9zM273.0 73.7h0.9v0.9h-0.9zM299.5 77.1h0.9v0.9h-0.9zM276.6 82.2h0.9v0.9h-0.9zM276.0 86.5h0.9v0.9h-0.9zM281.2 85.5h0.9v0.9h-0.9zM281.9 74.4h0.9v0.9h-0.9zM277.2 75.7h0.9v0.9h-0.9zM291.8 72.0h0.9v0.9h-0.9zM275.9 85.7h0.9v0.9h-0.9zM281.2 87.3h0.9v0.9h-0.9zM281.3 88.1h0.9v0.9h-0.9zM278.6 88.6h0.9v0.9h-0.9zM299.9 86.0h0.9v0.9h-0.9zM279.1 70.4h0.9v0.9h-0.9zM267.7 77.3h0.9v0.9h-0.9zM274.6 79.6h0.9v0.9h-0.9zM278.0 78.3h0.9v0.9h-0.9zM280.0 72.0h0.9v0.9h-0.9zM269.6 80.4h0.9v0.9h-0.9zM271.6 79.0h0.9v0.9h-0.9zM273.8 71.7h0.9v0.9h-0.9zM285.8 83.2h0.9v0.9h-0.9zM285.6 81.4h0.9v0.9h-0.9zM271.5 84.9h0.9v0.9h-0.9zM289.6 79.0h0.9v0.9h-0.9zM290.7 80.7h0.9v0.9h-0.9zM272.7 87.8h0.9v0.9h-0.9zM273.0 76.6h0.9v0.9h-0.9zM280.7 78.2h0.9v0.9h-0.9zM291.3 87.6h0.9v0.9h-0.9zM283.0 86.3h0.9v0.9h-0.9zM272.9 82.5h0.9v0.9h-0.9zM289.0 85.7h0.9v0.9h-0.9zM273.1 81.0h0.9v0.9h-0.9zM297.5 83.2h0.9v0.9h-0.9zM282.7 77.6h0.9v0.9h-0.9zM283.6 82.9h0.9v0.9h-0.9zM294.5 78.3h0.9v0.9h-0.9zM281.9 78.7h0.9v0.9h-0.9zM269.5 89.0h0.9v0.9h-0.9zM290.8 84.5h0.9v0.9h-0.9zM271.9 80.3h0.9v0.9h-0.9zM308.3 78.9h0.9v0.9h-0.9zM272.3 82.7h0.9v0.9h-0.9zM285.6 75.9h0.9v0.9h-0.9zM292.1 91.3h0.9v0.9h-0.9zM273.4 73.6h0.9v0.9h-0.9zM282.9 75.0h0.9v0.9h-0.9zM283.1 80.9h0.9v0.9h-0.9zM292.3 78.8h0.9v0.9h-0.9zM267.3 80.7h0.9v0.9h-0.9zM274.6 82.2h0.9v0.9h-0.9zM271.1 79.9h0.9v0.9h-0.9zM300.7 73.6h0.9v0.9h-0.9zM278.1 91.0h0.9v0.9h-0.9zM282.5 74.1h0.9v0.9h-0.9zM278.6 81.6h0.9v0.9h-0.9zM290.0 68.6h0.9v0.9h-0.9zM278.3 76.2h0.9v0.9h-0.9zM289.1 83.5h0.9v0.9h-0.9zM272.5 80.1h0.9v0.9h-0.9zM275.7 92.1h0.9v0.9h-0.9zM276.3 89.7h0.9v0.9h-0.9z" fill="#000" fill-opacity="0.22"/>
<path d="M278.5 77.3h0.9v0.9h-0.9zM290.7 87.1h0.9v0.9h-0.9zM286.5 77.9h0.9v0.9h-0.9zM276.5 87.4h0.9v0.9h-0.9zM277.4 71.9h0.9v0.9h-0.9zM278.7 87.1h0.9v0.9h-0.9zM288.7 76.0h0.9v0.9h-0.9zM290.0 79.2h0.9v0.9h-0.9zM271.6 80.8h0.9v0.9h-0.9zM288.7 79.3h0.9v0.9h-0.9zM311.0 82.4h0.9v0.9h-0.9zM272.1 90.8h0.9v0.9h-0.9zM284.6 79.8h0.9v0.9h-0.9zM289.6 76.6h0.9v0.9h-0.9zM280.4 84.8h0.9v0.9h-0.9zM272.6 80.6h0.9v0.9h-0.9zM273.3 76.2h0.9v0.9h-0.9zM285.3 78.2h0.9v0.9h-0.9zM276.5 91.1h0.9v0.9h-0.9zM272.1 79.8h0.9v0.9h-0.9zM315.4 72.7h0.9v0.9h-0.9zM282.0 84.0h0.9v0.9h-0.9zM273.0 74.1h0.9v0.9h-0.9zM294.5 67.8h0.9v0.9h-0.9zM293.1 76.5h0.9v0.9h-0.9zM275.8 85.7h0.9v0.9h-0.9zM283.2 72.2h0.9v0.9h-0.9zM288.7 88.4h0.9v0.9h-0.9zM308.8 85.7h0.9v0.9h-0.9zM269.4 81.1h0.9v0.9h-0.9zM268.0 79.3h0.9v0.9h-0.9zM284.7 81.3h0.9v0.9h-0.9zM268.0 75.2h0.9v0.9h-0.9zM289.4 81.2h0.9v0.9h-0.9zM299.1 75.2h0.9v0.9h-0.9zM274.3 65.3h0.9v0.9h-0.9zM271.3 91.1h0.9v0.9h-0.9zM275.8 78.8h0.9v0.9h-0.9zM289.8 78.7h0.9v0.9h-0.9zM288.2 84.6h0.9v0.9h-0.9zM267.9 84.2h0.9v0.9h-0.9zM293.3 73.3h0.9v0.9h-0.9zM281.4 85.8h0.9v0.9h-0.9zM288.7 80.1h0.9v0.9h-0.9zM273.9 70.1h0.9v0.9h-0.9zM276.2 85.6h0.9v0.9h-0.9zM291.7 82.1h0.9v0.9h-0.9zM271.5 80.9h0.9v0.9h-0.9zM278.6 81.9h0.9v0.9h-0.9zM274.7 85.4h0.9v0.9h-0.9zM285.6 88.0h0.9v0.9h-0.9zM281.5 86.0h0.9v0.9h-0.9zM283.5 90.4h0.9v0.9h-0.9zM300.9 85.9h0.9v0.9h-0.9zM277.7 85.0h0.9v0.9h-0.9zM268.8 84.7h0.9v0.9h-0.9zM280.2 81.2h0.9v0.9h-0.9zM272.5 76.9h0.9v0.9h-0.9zM271.6 73.3h0.9v0.9h-0.9zM277.0 80.9h0.9v0.9h-0.9zM278.2 78.1h0.9v0.9h-0.9zM286.9 79.7h0.9v0.9h-0.9zM296.0 87.5h0.9v0.9h-0.9zM268.3 80.3h0.9v0.9h-0.9zM268.4 76.1h0.9v0.9h-0.9zM276.4 80.2h0.9v0.9h-0.9zM285.3 76.1h0.9v0.9h-0.9zM299.7 76.6h0.9v0.9h-0.9zM277.2 74.2h0.9v0.9h-0.9zM274.4 80.5h0.9v0.9h-0.9zM275.8 78.0h0.9v0.9h-0.9zM288.7 83.6h0.9v0.9h-0.9zM282.4 82.5h0.9v0.9h-0.9zM285.0 77.2h0.9v0.9h-0.9zM276.7 78.9h0.9v0.9h-0.9zM293.5 87.8h0.9v0.9h-0.9zM292.8 86.1h0.9v0.9h-0.9zM307.5 82.5h0.9v0.9h-0.9zM270.5 76.2h0.9v0.9h-0.9zM288.3 77.6h0.9v0.9h-0.9zM304.9 73.6h0.9v0.9h-0.9zM284.9 84.0h0.9v0.9h-0.9zM272.4 86.8h0.9v0.9h-0.9zM277.2 81.4h0.9v0.9h-0.9zM271.1 79.9h0.9v0.9h-0.9zM291.2 78.2h0.9v0.9h-0.9zM271.6 88.3h0.9v0.9h-0.9zM281.9 73.7h0.9v0.9h-0.9zM297.5 82.4h0.9v0.9h-0.9zM308.4 87.5h0.9v0.9h-0.9zM270.4 73.0h0.9v0.9h-0.9zM276.7 77.7h0.9v0.9h-0.9z" fill="#000" fill-opacity="0.22"/>
<path d="M270.3 91.2h0.9v0.9h-0.9zM271.4 85.9h0.9v0.9h-0.9zM280.0 89.7h0.9v0.9h-0.9zM293.7 78.4h0.9v0.9h-0.9zM271.3 84.4h0.9v0.9h-0.9zM308.5 69.3h0.9v0.9h-0.9zM286.2 77.5h0.9v0.9h-0.9zM286.5 78.6h0.9v0.9h-0.9zM271.5 73.4h0.9v0.9h-0.9zM276.3 86.2h0.9v0.9h-0.9zM306.0 77.9h0.9v0.9h-0.9zM285.1 90.7h0.9v0.9h-0.9zM288.3 77.2h0.9v0.9h-0.9zM271.6 80.4h0.9v0.9h-0.9zM282.6 77.3h0.9v0.9h-0.9zM276.5 74.0h0.9v0.9h-0.9zM290.1 85.0h0.9v0.9h-0.9zM270.9 88.6h0.9v0.9h-0.9zM282.1 78.8h0.9v0.9h-0.9zM272.2 86.9h0.9v0.9h-0.9zM291.0 78.8h0.9v0.9h-0.9zM288.7 83.8h0.9v0.9h-0.9zM273.8 78.8h0.9v0.9h-0.9zM289.5 75.7h0.9v0.9h-0.9zM276.2 76.9h0.9v0.9h-0.9zM274.7 84.3h0.9v0.9h-0.9zM289.7 81.9h0.9v0.9h-0.9zM275.9 84.8h0.9v0.9h-0.9zM289.1 90.7h0.9v0.9h-0.9zM279.5 74.5h0.9v0.9h-0.9zM271.9 67.0h0.9v0.9h-0.9zM295.6 78.9h0.9v0.9h-0.9zM294.6 74.9h0.9v0.9h-0.9zM280.7 68.8h0.9v0.9h-0.9zM275.6 83.9h0.9v0.9h-0.9zM284.5 82.0h0.9v0.9h-0.9zM274.3 87.2h0.9v0.9h-0.9zM303.0 80.7h0.9v0.9h-0.9zM280.3 81.3h0.9v0.9h-0.9zM289.8 72.0h0.9v0.9h-0.9zM286.3 79.5h0.9v0.9h-0.9zM275.5 90.8h0.9v0.9h-0.9zM277.2 84.3h0.9v0.9h-0.9zM271.5 83.3h0.9v0.9h-0.9zM271.2 76.6h0.9v0.9h-0.9zM300.8 87.0h0.9v0.9h-0.9zM292.0 86.9h0.9v0.9h-0.9zM273.0 78.4h0.9v0.9h-0.9zM294.2 83.6h0.9v0.9h-0.9zM299.4 89.1h0.9v0.9h-0.9zM272.2 79.5h0.9v0.9h-0.9zM271.5 81.8h0.9v0.9h-0.9zM273.7 73.0h0.9v0.9h-0.9zM288.9 78.5h0.9v0.9h-0.9zM283.4 83.3h0.9v0.9h-0.9zM271.6 78.0h0.9v0.9h-0.9zM280.5 84.2h0.9v0.9h-0.9zM276.0 76.7h0.9v0.9h-0.9zM310.1 75.8h0.9v0.9h-0.9zM301.5 81.4h0.9v0.9h-0.9zM283.2 80.2h0.9v0.9h-0.9zM297.9 81.1h0.9v0.9h-0.9zM279.7 76.3h0.9v0.9h-0.9zM279.3 85.2h0.9v0.9h-0.9zM267.4 81.5h0.9v0.9h-0.9zM283.2 73.3h0.9v0.9h-0.9zM271.3 76.8h0.9v0.9h-0.9zM289.9 72.9h0.9v0.9h-0.9zM311.8 73.5h0.9v0.9h-0.9zM292.3 65.0h0.9v0.9h-0.9zM285.2 78.4h0.9v0.9h-0.9zM281.7 80.6h0.9v0.9h-0.9zM272.2 79.9h0.9v0.9h-0.9zM275.1 79.6h0.9v0.9h-0.9zM304.5 76.6h0.9v0.9h-0.9zM300.3 87.5h0.9v0.9h-0.9zM281.3 87.5h0.9v0.9h-0.9zM272.5 76.3h0.9v0.9h-0.9zM267.4 87.3h0.9v0.9h-0.9zM286.2 77.5h0.9v0.9h-0.9zM279.9 76.1h0.9v0.9h-0.9zM288.6 84.2h0.9v0.9h-0.9zM283.0 92.4h0.9v0.9h-0.9zM301.8 82.8h0.9v0.9h-0.9zM269.6 87.2h0.9v0.9h-0.9zM280.8 84.3h0.9v0.9h-0.9zM297.0 80.2h0.9v0.9h-0.9zM312.2 79.1h0.9v0.9h-0.9zM302.6 85.1h0.9v0.9h-0.9zM272.6 78.3h0.9v0.9h-0.9zM284.7 86.0h0.9v0.9h-0.9z" fill="#000" fill-opacity="0.22"/>
<path d="M279.7 70.7h0.9v0.9h-0.9zM273.1 84.3h0.9v0.9h-0.9zM285.1 79.6h0.9v0.9h-0.9zM270.2 75.7h0.9v0.9h-0.9zM272.8 79.2h0.9v0.9h-0.9zM288.5 81.0h0.9v0.9h-0.9zM288.7 88.2h0.9v0.9h-0.9zM293.8 71.0h0.9v0.9h-0.9zM288.1 76.8h0.9v0.9h-0.9zM281.0 76.5h0.9v0.9h-0.9zM277.7 85.3h0.9v0.9h-0.9zM281.2 84.4h0.9v0.9h-0.9zM307.5 78.5h0.9v0.9h-0.9zM282.9 84.2h0.9v0.9h-0.9zM273.1 80.3h0.9v0.9h-0.9zM274.7 78.3h0.9v0.9h-0.9zM276.5 84.8h0.9v0.9h-0.9zM304.2 75.0h0.9v0.9h-0.9zM279.8 87.5h0.9v0.9h-0.9zM304.0 81.0h0.9v0.9h-0.9zM277.6 80.2h0.9v0.9h-0.9zM284.8 84.9h0.9v0.9h-0.9zM304.9 76.8h0.9v0.9h-0.9zM275.6 76.2h0.9v0.9h-0.9zM273.2 81.1h0.9v0.9h-0.9zM299.3 69.7h0.9v0.9h-0.9zM270.5 82.3h0.9v0.9h-0.9zM269.4 87.1h0.9v0.9h-0.9zM278.7 79.9h0.9v0.9h-0.9zM297.3 77.5h0.9v0.9h-0.9zM289.0 85.6h0.9v0.9h-0.9zM301.3 80.7h0.9v0.9h-0.9zM276.2 83.6h0.9v0.9h-0.9zM283.6 78.2h0.9v0.9h-0.9zM307.3 82.4h0.9v0.9h-0.9zM290.2 78.3h0.9v0.9h-0.9zM269.6 80.5h0.9v0.9h-0.9zM269.2 79.9h0.9v0.9h-0.9zM271.9 80.2h0.9v0.9h-0.9zM276.1 80.7h0.9v0.9h-0.9zM275.4 87.9h0.9v0.9h-0.9zM267.8 85.3h0.9v0.9h-0.9zM292.7 79.7h0.9v0.9h-0.9zM292.6 77.9h0.9v0.9h-0.9zM272.2 84.3h0.9v0.9h-0.9zM268.8 81.5h0.9v0.9h-0.9zM278.5 74.3h0.9v0.9h-0.9zM280.1 80.6h0.9v0.9h-0.9zM286.6 81.1h0.9v0.9h-0.9zM295.7 79.2h0.9v0.9h-0.9zM282.0 79.4h0.9v0.9h-0.9zM276.8 84.2h0.9v0.9h-0.9zM276.4 85.0h0.9v0.9h-0.9zM290.7 65.6h0.9v0.9h-0.9zM268.8 78.0h0.9v0.9h-0.9zM297.4 76.3h0.9v0.9h-0.9zM286.5 86.1h0.9v0.9h-0.9zM276.5 77.4h0.9v0.9h-0.9zM269.1 89.9h0.9v0.9h-0.9zM302.6 84.1h0.9v0.9h-0.9zM281.8 91.0h0.9v0.9h-0.9zM273.9 82.6h0.9v0.9h-0.9zM289.3 83.1h0.9v0.9h-0.9zM285.9 84.3h0.9v0.9h-0.9zM269.1 82.5h0.9v0.9h-0.9zM286.0 75.9h0.9v0.9h-0.9zM308.5 82.9h0.9v0.9h-0.9zM274.7 80.4h0.9v0.9h-0.9zM293.1 80.2h0.9v0.9h-0.9zM286.0 87.0h0.9v0.9h-0.9zM292.3 77.7h0.9v0.9h-0.9zM276.5 81.9h0.9v0.9h-0.9zM291.6 84.3h0.9v0.9h-0.9zM286.0 84.5h0.9v0.9h-0.9zM284.4 86.9h0.9v0.9h-0.9zM301.5 80.5h0.9v0.9h-0.9zM278.6 71.7h0.9v0.9h-0.9zM268.7 79.6h0.9v0.9h-0.9zM274.3 67.1h0.9v0.9h-0.9zM279.9 89.6h0.9v0.9h-0.9zM269.2 72.1h0.9v0.9h-0.9zM279.5 76.9h0.9v0.9h-0.9zM267.4 80.5h0.9v0.9h-0.9zM267.6 76.6h0.9v0.9h-0.9zM282.0 85.8h0.9v0.9h-0.9zM280.3 85.4h0.9v0.9h-0.9zM276.3 75.7h0.9v0.9h-0.9zM286.7 84.3h0.9v0.9h-0.9zM279.4 72.2h0.9v0.9h-0.9zM276.8 86.8h0.9v0.9h-0.9zM271.5 71.8h0.9v0.9h-0.9z" fill="#000" fill-opacity="0.22"/>
<path d="M276.0 81.3h0.9v0.9h-0.9zM272.5 77.0h0.9v0.9h-0.9zM295.6 94.9h0.9v0.9h-0.9zM282.2 79.3h0.9v0.9h-0.9zM301.8 76.6h0.9v0.9h-0.9zM300.2 79.8h0.9v0.9h-0.9zM275.2 75.8h0.9v0.9h-0.9zM288.9 81.1h0.9v0.9h-0.9zM279.0 79.9h0.9v0.9h-0.9zM294.4 82.9h0.9v0.9h-0.9zM302.8 84.1h0.9v0.9h-0.9zM292.7 85.8h0.9v0.9h-0.9zM290.7 80.5h0.9v0.9h-0.9zM268.8 87.5h0.9v0.9h-0.9zM289.1 77.7h0.9v0.9h-0.9zM300.2 76.6h0.9v0.9h-0.9zM273.6 82.8h0.9v0.9h-0.9zM282.0 85.3h0.9v0.9h-0.9zM269.4 84.0h0.9v0.9h-0.9zM294.1 84.7h0.9v0.9h-0.9zM274.9 77.5h0.9v0.9h-0.9zM285.8 83.7h0.9v0.9h-0.9zM276.6 80.9h0.9v0.9h-0.9zM271.6 73.1h0.9v0.9h-0.9zM280.7 80.8h0.9v0.9h-0.9zM276.1 79.7h0.9v0.9h-0.9zM296.2 78.7h0.9v0.9h-0.9zM302.0 74.7h0.9v0.9h-0.9zM285.0 89.5h0.9v0.9h-0.9zM282.8 77.9h0.9v0.9h-0.9zM289.7 92.7h0.9v0.9h-0.9zM274.3 90.3h0.9v0.9h-0.9zM288.8 83.2h0.9v0.9h-0.9zM281.2 78.1h0.9v0.9h-0.9zM278.9 81.6h0.9v0.9h-0.9zM270.9 74.9h0.9v0.9h-0.9zM302.9 82.9h0.9v0.9h-0.9zM277.3 80.4h0.9v0.9h-0.9zM274.2 84.3h0.9v0.9h-0.9zM279.1 75.6h0.9v0.9h-0.9zM278.9 76.5h0.9v0.9h-0.9zM293.1 80.8h0.9v0.9h-0.9zM292.3 82.1h0.9v0.9h-0.9zM269.8 86.3h0.9v0.9h-0.9zM288.7 82.7h0.9v0.9h-0.9zM271.2 72.9h0.9v0.9h-0.9zM303.2 81.4h0.9v0.9h-0.9zM281.1 72.3h0.9v0.9h-0.9zM297.2 79.9h0.9v0.9h-0.9zM272.3 79.2h0.9v0.9h-0.9zM297.7 86.2h0.9v0.9h-0.9zM275.3 78.5h0.9v0.9h-0.9zM273.1 81.8h0.9v0.9h-0.9zM279.1 76.3h0.9v0.9h-0.9zM298.8 86.9h0.9v0.9h-0.9zM290.8 81.1h0.9v0.9h-0.9zM295.9 78.9h0.9v0.9h-0.9zM285.0 75.3h0.9v0.9h-0.9zM277.7 80.0h0.9v0.9h-0.9zM296.5 71.3h0.9v0.9h-0.9zM270.1 81.2h0.9v0.9h-0.9zM295.2 87.0h0.9v0.9h-0.9zM295.3 79.5h0.9v0.9h-0.9zM299.2 86.8h0.9v0.9h-0.9zM269.7 83.9h0.9v0.9h-0.9zM277.8 80.4h0.9v0.9h-0.9zM309.7 83.2h0.9v0.9h-0.9zM273.0 70.7h0.9v0.9h-0.9zM301.9 81.3h0.9v0.9h-0.9zM283.6 70.2h0.9v0.9h-0.9zM271.2 91.4h0.9v0.9h-0.9zM270.5 75.8h0.9v0.9h-0.9zM299.9 86.5h0.9v0.9h-0.9zM288.2 74.0h0.9v0.9h-0.9zM283.0 90.0h0.9v0.9h-0.9zM274.5 79.8h0.9v0.9h-0.9zM298.3 77.7h0.9v0.9h-0.9zM292.3 73.7h0.9v0.9h-0.9zM281.9 72.7h0.9v0.9h-0.9zM288.2 79.4h0.9v0.9h-0.9zM289.8 80.3h0.9v0.9h-0.9zM272.1 74.8h0.9v0.9h-0.9zM280.2 81.4h0.9v0.9h-0.9zM287.0 86.2h0.9v0.9h-0.9zM268.0 77.2h0.9v0.9h-0.9zM298.6 81.8h0.9v0.9h-0.9zM284.9 78.7h0.9v0.9h-0.9zM267.3 83.7h0.9v0.9h-0.9zM273.6 74.7h0.9v0.9h-0.9zM301.1 80.1h0.9v0.9h-0.9zM284.7 71.4h0.9v0.9h-0.9z" fill="#000" fill-opacity="0.22"/>
<path d="M281.4 81.1h0.9v0.9h-0.9zM285.7 86.1h0.9v0.9h-0.9zM269.5 84.5h0.9v0.9h-0.9zM269.5 79.3h0.9v0.9h-0.9zM271.9 88.4h0.9v0.9h-0.9zM291.3 78.8h0.9v0.9h-0.9zM294.6 94.2h0.9v0.9h-0.9zM283.5 81.8h0.9v0.9h-0.9zM267.3 83.2h0.9v0.9h-0.9zM279.8 83.9h0.9v0.9h-0.9zM281.0 76.1h0.9v0.9h-0.9zM290.9 66.1h0.9v0.9h-0.9zM286.1 86.3h0.9v0.9h-0.9zM281.2 82.2h0.9v0.9h-0.9zM298.0 84.7h0.9v0.9h-0.9zM306.8 87.6h0.9v0.9h-0.9zM281.2 75.7h0.9v0.9h-0.9zM303.3 86.3h0.9v0.9h-0.9zM278.4 79.8h0.9v0.9h-0.9zM282.1 74.6h0.9v0.9h-0.9zM275.0 83.5h0.9v0.9h-0.9zM269.3 76.6h0.9v0.9h-0.9zM275.1 79.2h0.9v0.9h-0.9zM276.4 71.8h0.9v0.9h-0.9zM269.2 78.9h0.9v0.9h-0.9zM278.7 83.6h0.9v0.9h-0.9zM293.9 91.9h0.9v0.9h-0.9zM276.7 86.3h0.9v0.9h-0.9zM301.0 85.2h0.9v0.9h-0.9zM279.4 83.9h0.9v0.9h-0.9zM296.3 85.2h0.9v0.9h-0.9zM278.6 81.0h0.9v0.9h-0.9zM267.6 91.3h0.9v0.9h-0.9zM279.5 88.1h0.9v0.9h-0.9zM293.7 79.3h0.9v0.9h-0.9zM267.9 83.5h0.9v0.9h-0.9zM282.2 75.4h0.9v0.9h-0.9zM272.9 84.8h0.9v0.9h-0.9zM274.8 83.4h0.9v0.9h-0.9zM269.1 76.7h0.9v0.9h-0.9zM289.7 78.0h0.9v0.9h-0.9zM284.3 82.6h0.9v0.9h-0.9zM279.2 78.8h0.9v0.9h-0.9zM272.0 82.6h0.9v0.9h-0.9zM284.8 86.5h0.9v0.9h-0.9zM302.2 82.1h0.9v0.9h-0.9zM269.3 86.9h0.9v0.9h-0.9zM288.0 87.4h0.9v0.9h-0.9zM285.8 84.3h0.9v0.9h-0.9zM303.5 74.1h0.9v0.9h-0.9zM275.0 85.9h0.9v0.9h-0.9zM275.8 78.4h0.9v0.9h-0.9zM267.6 80.4h0.9v0.9h-0.9zM284.3 78.1h0.9v0.9h-0.9zM267.8 83.2h0.9v0.9h-0.9zM276.9 81.5h0.9v0.9h-0.9zM269.7 78.4h0.9v0.9h-0.9zM278.6 72.8h0.9v0.9h-0.9zM303.0 73.1h0.9v0.9h-0.9zM268.8 81.2h0.9v0.9h-0.9zM289.9 93.4h0.9v0.9h-0.9zM275.5 71.5h0.9v0.9h-0.9zM288.2 80.9h0.9v0.9h-0.9zM292.0 86.4h0.9v0.9h-0.9zM275.2 80.9h0.9v0.9h-0.9zM287.9 73.8h0.9v0.9h-0.9zM287.9 86.4h0.9v0.9h-0.9zM284.3 76.5h0.9v0.9h-0.9zM272.1 84.0h0.9v0.9h-0.9zM270.1 77.5h0.9v0.9h-0.9zM270.9 84.9h0.9v0.9h-0.9zM282.5 81.0h0.9v0.9h-0.9zM276.1 83.1h0.9v0.9h-0.9zM277.0 74.6h0.9v0.9h-0.9zM294.0 75.7h0.9v0.9h-0.9zM267.9 84.8h0.9v0.9h-0.9zM281.9 72.9h0.9v0.9h-0.9zM273.3 67.2h0.9v0.9h-0.9zM302.9 88.3h0.9v0.9h-0.9zM283.5 75.3h0.9v0.9h-0.9zM278.2 76.9h0.9v0.9h-0.9zM304.7 83.4h0.9v0.9h-0.9zM271.0 84.9h0.9v0.9h-0.9zM297.0 87.4h0.9v0.9h-0.9zM273.6 83.7h0.9v0.9h-0.9zM281.1 86.1h0.9v0.9h-0.9zM277.1 73.7h0.9v0.9h-0.9zM281.1 73.0h0.9v0.9h-0.9zM276.2 82.7h0.9v0.9h-0.9zM280.2 75.4h0.9v0.9h-0.9zM286.6 73.7h0.9v0.9h-0.9z" fill="#000" fill-opacity="0.22"/>
<path d="M273.0 81.4h0.9v0.9h-0.9zM276.1 75.7h0.9v0.9h-0.9zM287.6 80.3h0.9v0.9h-0.9zM293.3 86.7h0.9v0.9h-0.9zM293.6 70.9h0.9v0.9h-0.9zM272.6 82.7h0.9v0.9h-0.9zM283.6 71.6h0.9v0.9h-0.9zM277.0 83.3h0.9v0.9h-0.9zM300.1 85.5h0.9v0.9h-0.9zM291.3 82.5h0.9v0.9h-0.9zM300.6 82.3h0.9v0.9h-0.9zM272.2 77.4h0.9v0.9h-0.9zM279.6 78.0h0.9v0.9h-0.9zM301.0 85.8h0.9v0.9h-0.9zM309.3 87.3h0.9v0.9h-0.9zM302.0 92.6h0.9v0.9h-0.9zM268.9 93.4h0.9v0.9h-0.9zM284.6 81.5h0.9v0.9h-0.9zM277.1 84.2h0.9v0.9h-0.9zM292.6 81.9h0.9v0.9h-0.9zM271.5 78.6h0.9v0.9h-0.9zM290.0 67.8h0.9v0.9h-0.9zM275.9 68.6h0.9v0.9h-0.9zM303.8 85.3h0.9v0.9h-0.9zM270.5 80.2h0.9v0.9h-0.9zM269.3 86.2h0.9v0.9h-0.9zM294.1 82.4h0.9v0.9h-0.9zM279.1 77.3h0.9v0.9h-0.9zM276.9 76.2h0.9v0.9h-0.9zM300.1 84.6h0.9v0.9h-0.9zM277.4 82.9h0.9v0.9h-0.9zM285.2 79.7h0.9v0.9h-0.9zM269.8 84.2h0.9v0.9h-0.9zM282.2 64.6h0.9v0.9h-0.9zM272.1 75.3h0.9v0.9h-0.9zM270.4 81.9h0.9v0.9h-0.9zM282.5 78.4h0.9v0.9h-0.9zM284.1 76.6h0.9v0.9h-0.9zM274.8 81.7h0.9v0.9h-0.9zM305.5 86.4h0.9v0.9h-0.9zM283.6 79.5h0.9v0.9h-0.9zM279.5 79.6h0.9v0.9h-0.9zM277.3 82.8h0.9v0.9h-0.9zM283.2 89.5h0.9v0.9h-0.9zM307.4 85.7h0.9v0.9h-0.9zM288.6 94.7h0.9v0.9h-0.9zM303.5 80.8h0.9v0.9h-0.9zM300.7 91.7h0.9v0.9h-0.9zM284.9 86.9h0.9v0.9h-0.9zM279.0 68.8h0.9v0.9h-0.9zM310.7 81.2h0.9v0.9h-0.9zM282.7 78.5h0.9v0.9h-0.9zM269.5 81.3h0.9v0.9h-0.9zM291.9 92.6h0.9v0.9h-0.9zM288.9 84.2h0.9v0.9h-0.9zM280.0 67.0h0.9v0.9h-0.9zM275.6 85.3h0.9v0.9h-0.9zM300.2 82.3h0.9v0.9h-0.9zM277.2 76.4h0.9v0.9h-0.9zM270.6 74.3h0.9v0.9h-0.9zM274.3 81.9h0.9v0.9h-0.9zM274.3 91.1h0.9v0.9h-0.9zM274.6 86.0h0.9v0.9h-0.9zM289.9 68.9h0.9v0.9h-0.9zM279.6 78.1h0.9v0.9h-0.9zM299.7 84.7h0.9v0.9h-0.9zM279.1 85.8h0.9v0.9h-0.9zM275.2 82.0h0.9v0.9h-0.9zM286.2 76.4h0.9v0.9h-0.9zM278.9 86.5h0.9v0.9h-0.9zM285.0 71.9h0.9v0.9h-0.9zM278.8 76.0h0.9v0.9h-0.9zM283.5 83.9h0.9v0.9h-0.9zM269.4 76.5h0.9v0.9h-0.9zM275.8 79.9h0.9v0.9h-0.9zM272.3 83.8h0.9v0.9h-0.9zM290.2 89.9h0.9v0.9h-0.9zM296.0 78.8h0.9v0.9h-0.9zM293.3 87.0h0.9v0.9h-0.9zM274.7 73.9h0.9v0.9h-0.9zM287.4 85.4h0.9v0.9h-0.9zM279.8 80.4h0.9v0.9h-0.9zM273.6 78.5h0.9v0.9h-0.9zM285.3 76.5h0.9v0.9h-0.9zM268.6 77.5h0.9v0.9h-0.9zM273.3 86.9h0.9v0.9h-0.9zM301.1 73.2h0.9v0.9h-0.9zM308.9 84.4h0.9v0.9h-0.9zM269.4 75.8h0.9v0.9h-0.9zM303.1 74.4h0.9v0.9h-0.9zM286.7 83.4h0.9v0.9h-0.9z" fill="#000" fill-opacity="0.22"/>
<path d="M279.1 77.9h0.9v0.9h-0.9zM278.8 82.6h0.9v0.9h-0.9zM276.8 74.3h0.9v0.9h-0.9zM279.6 90.9h0.9v0.9h-0.9zM272.1 85.5h0.9v0.9h-0.9zM280.8 79.3h0.9v0.9h-0.9zM274.6 66.9h0.9v0.9h-0.9zM290.5 81.6h0.9v0.9h-0.9zM276.1 77.2h0.9v0.9h-0.9zM278.8 83.3h0.9v0.9h-0.9zM272.2 81.4h0.9v0.9h-0.9zM267.4 74.3h0.9v0.9h-0.9zM273.7 78.9h0.9v0.9h-0.9zM286.1 88.2h0.9v0.9h-0.9zM267.5 87.4h0.9v0.9h-0.9zM290.0 85.4h0.9v0.9h-0.9zM279.1 88.2h0.9v0.9h-0.9zM278.3 78.2h0.9v0.9h-0.9zM308.8 77.2h0.9v0.9h-0.9zM288.7 78.5h0.9v0.9h-0.9zM293.5 73.0h0.9v0.9h-0.9zM273.9 76.8h0.9v0.9h-0.9zM283.1 92.6h0.9v0.9h-0.9zM280.8 73.5h0.9v0.9h-0.9zM268.6 80.3h0.9v0.9h-0.9zM288.7 78.1h0.9v0.9h-0.9zM307.1 90.1h0.9v0.9h-0.9zM286.9 85.9h0.9v0.9h-0.9zM286.4 79.5h0.9v0.9h-0.9zM280.1 81.3h0.9v0.9h-0.9zM292.1 76.0h0.9v0.9h-0.9zM273.9 81.8h0.9v0.9h-0.9zM268.9 84.3h0.9v0.9h-0.9zM296.0 81.2h0.9v0.9h-0.9zM277.6 79.4h0.9v0.9h-0.9zM280.5 77.9h0.9v0.9h-0.9zM267.3 91.6h0.9v0.9h-0.9zM276.1 72.0h0.9v0.9h-0.9zM273.0 88.2h0.9v0.9h-0.9zM287.3 80.9h0.9v0.9h-0.9zM286.5 71.8h0.9v0.9h-0.9zM288.0 82.7h0.9v0.9h-0.9zM288.1 91.6h0.9v0.9h-0.9zM283.5 73.3h0.9v0.9h-0.9zM290.6 79.8h0.9v0.9h-0.9zM289.1 74.8h0.9v0.9h-0.9zM276.7 88.4h0.9v0.9h-0.9zM296.9 82.6h0.9v0.9h-0.9zM292.1 85.8h0.9v0.9h-0.9zM286.2 77.7h0.9v0.9h-0.9zM289.3 82.6h0.9v0.9h-0.9zM277.1 83.4h0.9v0.9h-0.9zM272.3 86.2h0.9v0.9h-0.9zM269.5 86.6h0.9v0.9h-0.9zM290.0 79.9h0.9v0.9h-0.9zM272.2 74.4h0.9v0.9h-0.9zM297.4 72.6h0.9v0.9h-0.9zM280.2 74.9h0.9v0.9h-0.9zM284.6 84.0h0.9v0.9h-0.9zM268.6 93.8h0.9v0.9h-0.9zM292.3 79.6h0.9v0.9h-0.9zM269.8 78.9h0.9v0.9h-0.9zM294.2 79.2h0.9v0.9h-0.9zM290.9 76.5h0.9v0.9h-0.9zM286.7 90.2h0.9v0.9h-0.9zM277.5 73.5h0.9v0.9h-0.9zM274.6 84.3h0.9v0.9h-0.9zM285.0 75.1h0.9v0.9h-0.9zM282.3 89.3h0.9v0.9h-0.9zM270.2 71.9h0.9v0.9h-0.9zM270.4 77.3h0.9v0.9h-0.9zM267.6 82.1h0.9v0.9h-0.9zM277.2 83.0h0.9v0.9h-0.9zM272.6 84.7h0.9v0.9h-0.9zM283.7 85.2h0.9v0.9h-0.9zM274.4 84.6h0.9v0.9h-0.9zM278.4 73.7h0.9v0.9h-0.9zM282.8 90.9h0.9v0.9h-0.9zM297.0 81.2h0.9v0.9h-0.9zM275.0 76.1h0.9v0.9h-0.9zM283.6 78.8h0.9v0.9h-0.9zM302.7 76.4h0.9v0.9h-0.9zM272.2 78.9h0.9v0.9h-0.9zM270.2 80.7h0.9v0.9h-0.9zM269.3 82.0h0.9v0.9h-0.9zM288.0 78.1h0.9v0.9h-0.9zM288.4 84.7h0.9v0.9h-0.9zM268.0 78.4h0.9v0.9h-0.9zM284.4 79.6h0.9v0.9h-0.9zM269.9 77.3h0.9v0.9h-0.9zM289.0 87.1h0.9v0.9h-0.9z" fill="#000" fill-opacity="0.22"/>
<path d="M270.5 71.5h0.9v0.9h-0.9zM280.0 75.0h0.9v0.9h-0.9zM270.0 78.2h0.9v0.9h-0.9zM279.2 79.7h0.9v0.9h-0.9zM298.0 81.1h0.9v0.9h-0.9zM278.2 78.2h0.9v0.9h-0.9zM291.7 76.5h0.9v0.9h-0.9zM310.2 80.3h0.9v0.9h-0.9zM292.4 72.2h0.9v0.9h-0.9zM273.4 74.3h0.9v0.9h-0.9zM297.5 83.3h0.9v0.9h-0.9zM290.5 83.7h0.9v0.9h-0.9zM282.4 76.1h0.9v0.9h-0.9zM284.5 86.3h0.9v0.9h-0.9zM271.7 78.3h0.9v0.9h-0.9zM281.5 86.3h0.9v0.9h-0.9zM272.8 80.2h0.9v0.9h-0.9zM275.9 82.9h0.9v0.9h-0.9zM288.0 83.8h0.9v0.9h-0.9zM303.9 79.0h0.9v0.9h-0.9zM282.6 78.4h0.9v0.9h-0.9zM273.3 88.6h0.9v0.9h-0.9zM273.6 74.2h0.9v0.9h-0.9zM279.7 86.5h0.9v0.9h-0.9zM303.0 87.2h0.9v0.9h-0.9zM276.9 82.8h0.9v0.9h-0.9zM271.7 89.0h0.9v0.9h-0.9zM267.7 87.9h0.9v0.9h-0.9zM273.2 84.4h0.9v0.9h-0.9zM283.3 69.6h0.9v0.9h-0.9zM302.1 73.9h0.9v0.9h-0.9zM284.6 79.2h0.9v0.9h-0.9zM286.3 74.1h0.9v0.9h-0.9zM282.8 66.3h0.9v0.9h-0.9zM281.0 83.7h0.9v0.9h-0.9zM297.4 82.3h0.9v0.9h-0.9zM279.0 83.2h0.9v0.9h-0.9zM278.8 79.8h0.9v0.9h-0.9zM273.9 82.8h0.9v0.9h-0.9zM295.2 81.2h0.9v0.9h-0.9zM277.5 76.8h0.9v0.9h-0.9zM271.2 84.6h0.9v0.9h-0.9zM267.7 89.0h0.9v0.9h-0.9zM295.1 81.5h0.9v0.9h-0.9zM269.0 84.3h0.9v0.9h-0.9zM268.4 77.8h0.9v0.9h-0.9zM289.2 89.2h0.9v0.9h-0.9zM272.2 86.7h0.9v0.9h-0.9zM304.2 88.6h0.9v0.9h-0.9zM268.1 79.5h0.9v0.9h-0.9zM274.5 76.0h0.9v0.9h-0.9zM290.0 72.5h0.9v0.9h-0.9zM295.9 81.9h0.9v0.9h-0.9zM288.0 78.0h0.9v0.9h-0.9zM294.2 79.3h0.9v0.9h-0.9zM291.8 79.9h0.9v0.9h-0.9zM307.4 80.1h0.9v0.9h-0.9zM285.4 89.1h0.9v0.9h-0.9zM273.9 80.5h0.9v0.9h-0.9zM273.5 81.2h0.9v0.9h-0.9zM268.1 82.5h0.9v0.9h-0.9zM276.2 76.9h0.9v0.9h-0.9zM282.4 83.4h0.9v0.9h-0.9zM283.4 91.5h0.9v0.9h-0.9zM268.9 79.5h0.9v0.9h-0.9zM295.2 76.7h0.9v0.9h-0.9zM292.6 82.4h0.9v0.9h-0.9zM289.3 84.1h0.9v0.9h-0.9zM286.0 75.6h0.9v0.9h-0.9zM271.4 78.4h0.9v0.9h-0.9zM294.0 78.1h0.9v0.9h-0.9zM268.5 75.7h0.9v0.9h-0.9zM293.3 75.4h0.9v0.9h-0.9zM283.6 86.0h0.9v0.9h-0.9zM275.1 78.8h0.9v0.9h-0.9zM267.7 87.5h0.9v0.9h-0.9zM284.7 86.4h0.9v0.9h-0.9zM276.3 74.7h0.9v0.9h-0.9zM268.5 77.2h0.9v0.9h-0.9zM289.3 73.7h0.9v0.9h-0.9zM290.9 70.1h0.9v0.9h-0.9zM284.0 76.3h0.9v0.9h-0.9zM301.2 77.9h0.9v0.9h-0.9zM281.7 83.7h0.9v0.9h-0.9zM291.9 77.1h0.9v0.9h-0.9zM280.2 88.3h0.9v0.9h-0.9zM275.7 79.2h0.9v0.9h-0.9zM271.0 79.4h0.9v0.9h-0.9zM276.5 71.9h0.9v0.9h-0.9zM275.2 82.4h0.9v0.9h-0.9zM307.1 85.0h0.9v0.9h-0.9z" fill="#000" fill-opacity="0.22"/>
<path d="M270.4 84.5h0.9v0.9h-0.9zM271.2 79.6h0.9v0.9h-0.9zM273.8 91.4h0.9v0.9h-0.9zM290.2 75.9h0.9v0.9h-0.9zM270.8 81.9h0.9v0.9h-0.9zM267.4 87.0h0.9v0.9h-0.9zM267.3 73.3h0.9v0.9h-0.9zM293.2 75.6h0.9v0.9h-0.9zM297.5 75.3h0.9v0.9h-0.9zM293.7 85.2h0.9v0.9h-0.9zM293.7 80.6h0.9v0.9h-0.9zM312.9 83.4h0.9v0.9h-0.9zM284.2 84.1h0.9v0.9h-0.9zM281.5 85.6h0.9v0.9h-0.9zM289.3 87.9h0.9v0.9h-0.9zM295.9 83.2h0.9v0.9h-0.9zM287.5 91.1h0.9v0.9h-0.9zM282.7 71.0h0.9v0.9h-0.9zM291.8 81.4h0.9v0.9h-0.9zM280.9 72.2h0.9v0.9h-0.9zM299.5 83.2h0.9v0.9h-0.9zM296.4 86.3h0.9v0.9h-0.9zM301.2 80.7h0.9v0.9h-0.9zM307.3 85.4h0.9v0.9h-0.9zM286.4 91.5h0.9v0.9h-0.9zM275.0 70.5h0.9v0.9h-0.9zM269.6 76.3h0.9v0.9h-0.9zM272.0 72.6h0.9v0.9h-0.9zM285.3 85.8h0.9v0.9h-0.9zM272.7 76.8h0.9v0.9h-0.9zM269.2 86.2h0.9v0.9h-0.9zM282.7 70.6h0.9v0.9h-0.9zM271.1 89.5h0.9v0.9h-0.9zM293.1 81.1h0.9v0.9h-0.9zM288.3 82.3h0.9v0.9h-0.9zM280.9 79.4h0.9v0.9h-0.9zM300.7 79.7h0.9v0.9h-0.9zM291.4 85.5h0.9v0.9h-0.9zM300.8 82.2h0.9v0.9h-0.9zM296.2 87.7h0.9v0.9h-0.9zM288.2 90.8h0.9v0.9h-0.9zM288.0 79.9h0.9v0.9h-0.9zM287.3 77.0h0.9v0.9h-0.9zM292.4 84.5h0.9v0.9h-0.9zM292.8 86.0h0.9v0.9h-0.9zM270.6 79.3h0.9v0.9h-0.9zM274.5 72.1h0.9v0.9h-0.9zM291.0 79.9h0.9v0.9h-0.9zM293.7 66.7h0.9v0.9h-0.9zM302.6 82.3h0.9v0.9h-0.9zM284.4 81.1h0.9v0.9h-0.9zM272.9 78.7h0.9v0.9h-0.9zM277.3 78.7h0.9v0.9h-0.9zM288.3 75.9h0.9v0.9h-0.9zM300.8 85.4h0.9v0.9h-0.9zM277.2 75.3h0.9v0.9h-0.9zM274.5 81.0h0.9v0.9h-0.9zM297.7 81.4h0.9v0.9h-0.9zM277.7 86.7h0.9v0.9h-0.9zM287.6 86.1h0.9v0.9h-0.9zM270.6 79.2h0.9v0.9h-0.9zM289.2 80.9h0.9v0.9h-0.9zM273.3 77.7h0.9v0.9h-0.9zM277.1 85.9h0.9v0.9h-0.9zM268.8 78.1h0.9v0.9h-0.9zM268.8 71.5h0.9v0.9h-0.9zM277.8 65.8h0.9v0.9h-0.9zM296.0 71.8h0.9v0.9h-0.9zM303.6 77.6h0.9v0.9h-0.9zM283.0 77.8h0.9v0.9h-0.9zM268.5 83.1h0.9v0.9h-0.9zM268.8 83.7h0.9v0.9h-0.9zM309.5 76.4h0.9v0.9h-0.9zM294.8 77.0h0.9v0.9h-0.9zM283.9 78.8h0.9v0.9h-0.9zM273.2 91.8h0.9v0.9h-0.9zM275.2 77.9h0.9v0.9h-0.9zM287.8 79.6h0.9v0.9h-0.9zM303.6 67.6h0.9v0.9h-0.9zM300.5 75.7h0.9v0.9h-0.9zM279.8 72.6h0.9v0.9h-0.9zM275.7 91.0h0.9v0.9h-0.9zM280.5 76.8h0.9v0.9h-0.9zM275.5 79.9h0.9v0.9h-0.9zM285.2 79.9h0.9v0.9h-0.9zM274.5 92.7h0.9v0.9h-0.9zM274.5 76.5h0.9v0.9h-0.9zM268.5 79.1h0.9v0.9h-0.9zM269.3 69.8h0.9v0.9h-0.9z" fill="#000" fill-opacity="0.22"/>
<path d="M268.0 84.6h0.9v0.9h-0.9zM292.5 84.9h0.9v0.9h-0.9zM282.5 73.6h0.9v0.9h-0.9zM286.8 73.9h0.9v0.9h-0.9zM270.4 80.4h0.9v0.9h-0.9zM288.1 75.1h0.9v0.9h-0.9zM303.6 87.3h0.9v0.9h-0.9zM273.3 80.8h0.9v0.9h-0.9zM284.6 78.9h0.9v0.9h-0.9zM308.5 77.5h0.9v0.9h-0.9zM287.2 73.6h0.9v0.9h-0.9zM288.1 83.4h0.9v0.9h-0.9zM301.0 75.9h0.9v0.9h-0.9zM284.8 77.8h0.9v0.9h-0.9zM283.1 71.0h0.9v0.9h-0.9zM298.7 80.1h0.9v0.9h-0.9zM267.7 83.5h0.9v0.9h-0.9zM291.9 81.2h0.9v0.9h-0.9zM299.6 82.2h0.9v0.9h-0.9zM284.9 69.2h0.9v0.9h-0.9zM284.0 75.6h0.9v0.9h-0.9zM279.4 74.8h0.9v0.9h-0.9zM291.3 85.0h0.9v0.9h-0.9zM299.7 78.6h0.9v0.9h-0.9zM288.8 80.6h0.9v0.9h-0.9zM284.1 76.8h0.9v0.9h-0.9zM293.1 79.4h0.9v0.9h-0.9zM281.5 91.6h0.9v0.9h-0.9zM298.1 81.4h0.9v0.9h-0.9zM280.4 77.1h0.9v0.9h-0.9zM267.9 80.5h0.9v0.9h-0.9zM273.3 78.7h0.9v0.9h-0.9zM267.6 71.2h0.9v0.9h-0.9zM274.8 79.0h0.9v0.9h-0.9zM276.0 69.8h0.9v0.9h-0.9zM276.2 76.8h0.9v0.9h-0.9zM270.0 79.7h0.9v0.9h-0.9zM270.1 79.0h0.9v0.9h-0.9zM273.7 76.6h0.9v0.9h-0.9zM268.1 78.5h0.9v0.9h-0.9zM278.7 79.6h0.9v0.9h-0.9zM313.3 81.4h0.9v0.9h-0.9zM284.5 89.2h0.9v0.9h-0.9zM283.7 89.3h0.9v0.9h-0.9zM285.9 78.3h0.9v0.9h-0.9zM276.0 75.0h0.9v0.9h-0.9zM289.6 88.0h0.9v0.9h-0.9zM276.4 73.8h0.9v0.9h-0.9zM307.3 78.5h0.9v0.9h-0.9zM286.2 88.1h0.9v0.9h-0.9zM275.9 77.2h0.9v0.9h-0.9zM292.3 74.2h0.9v0.9h-0.9zM272.2 78.2h0.9v0.9h-0.9zM269.6 85.8h0.9v0.9h-0.9zM274.7 85.1h0.9v0.9h-0.9zM286.2 88.6h0.9v0.9h-0.9zM296.2 88.6h0.9v0.9h-0.9zM277.1 81.1h0.9v0.9h-0.9zM290.0 86.1h0.9v0.9h-0.9zM273.9 72.1h0.9v0.9h-0.9zM274.0 75.6h0.9v0.9h-0.9zM289.9 85.6h0.9v0.9h-0.9zM285.9 91.6h0.9v0.9h-0.9zM269.6 81.8h0.9v0.9h-0.9zM275.6 92.5h0.9v0.9h-0.9zM276.3 73.2h0.9v0.9h-0.9zM267.8 76.6h0.9v0.9h-0.9zM269.5 74.0h0.9v0.9h-0.9zM298.0 78.4h0.9v0.9h-0.9zM283.5 90.2h0.9v0.9h-0.9zM270.3 88.6h0.9v0.9h-0.9zM268.3 72.7h0.9v0.9h-0.9zM278.1 74.0h0.9v0.9h-0.9zM269.5 74.0h0.9v0.9h-0.9zM294.5 71.3h0.9v0.9h-0.9zM275.7 87.4h0.9v0.9h-0.9zM279.4 75.7h0.9v0.9h-0.9zM295.8 77.2h0.9v0.9h-0.9zM293.5 84.6h0.9v0.9h-0.9zM305.8 79.9h0.9v0.9h-0.9zM298.4 85.5h0.9v0.9h-0.9zM291.9 82.0h0.9v0.9h-0.9zM294.7 71.6h0.9v0.9h-0.9zM283.4 83.1h0.9v0.9h-0.9zM285.3 83.2h0.9v0.9h-0.9zM295.6 79.5h0.9v0.9h-0.9zM293.4 81.0h0.9v0.9h-0.9zM292.3 80.3h0.9v0.9h-0.9zM273.8 84.6h0.9v0.9h-0.9zM274.3 76.9h0.9v0.9h-0.9zM276.9 73.0h0.9v0.9h-0.9z" fill="#000" fill-opacity="0.22"/>
<path d="M276.1 65.6h0.9v0.9h-0.9zM266.2 48.7h0.9v0.9h-0.9zM279.8 49.8h0.9v0.9h-0.9zM266.0 65.6h0.9v0.9h-0.9zM263.6 45.7h0.9v0.9h-0.9zM276.6 61.7h0.9v0.9h-0.9zM268.4 67.9h0.9v0.9h-0.9zM274.7 59.8h0.9v0.9h-0.9zM276.0 47.6h0.9v0.9h-0.9zM271.7 47.6h0.9v0.9h-0.9zM280.9 50.7h0.9v0.9h-0.9zM272.0 56.1h0.9v0.9h-0.9zM274.1 62.7h0.9v0.9h-0.9zM265.9 61.2h0.9v0.9h-0.9zM269.7 56.8h0.9v0.9h-0.9zM279.3 71.8h0.9v0.9h-0.9zM278.0 70.9h0.9v0.9h-0.9zM259.7 63.1h0.9v0.9h-0.9zM274.5 64.9h0.9v0.9h-0.9zM261.3 52.4h0.9v0.9h-0.9zM282.0 56.4h0.9v0.9h-0.9zM257.3 51.3h0.9v0.9h-0.9zM271.3 53.0h0.9v0.9h-0.9zM264.1 52.6h0.9v0.9h-0.9zM263.0 48.8h0.9v0.9h-0.9zM280.5 53.0h0.9v0.9h-0.9zM268.6 49.8h0.9v0.9h-0.9zM264.8 48.5h0.9v0.9h-0.9zM262.1 51.0h0.9v0.9h-0.9zM266.2 55.3h0.9v0.9h-0.9z" fill="#000" fill-opacity="0.2"/>
<path d="M268.6 57.7h0.9v0.9h-0.9zM265.8 67.6h0.9v0.9h-0.9zM267.8 63.9h0.9v0.9h-0.9zM280.5 70.1h0.9v0.9h-0.9zM258.9 61.7h0.9v0.9h-0.9zM263.6 50.0h0.9v0.9h-0.9zM272.6 68.0h0.9v0.9h-0.9zM277.8 63.7h0.9v0.9h-0.9zM264.7 48.6h0.9v0.9h-0.9zM278.0 65.2h0.9v0.9h-0.9zM264.6 71.8h0.9v0.9h-0.9zM258.8 56.9h0.9v0.9h-0.9zM271.3 59.6h0.9v0.9h-0.9zM265.3 66.7h0.9v0.9h-0.9zM274.5 63.7h0.9v0.9h-0.9zM271.6 66.2h0.9v0.9h-0.9zM280.7 71.7h0.9v0.9h-0.9zM278.8 48.2h0.9v0.9h-0.9zM278.2 50.8h0.9v0.9h-0.9zM260.7 61.2h0.9v0.9h-0.9zM261.6 56.0h0.9v0.9h-0.9zM273.4 45.5h0.9v0.9h-0.9zM272.1 62.7h0.9v0.9h-0.9zM272.0 51.8h0.9v0.9h-0.9zM260.8 59.6h0.9v0.9h-0.9zM264.3 68.0h0.9v0.9h-0.9zM265.3 53.1h0.9v0.9h-0.9zM270.9 48.1h0.9v0.9h-0.9zM259.2 70.1h0.9v0.9h-0.9zM260.7 71.1h0.9v0.9h-0.9z" fill="#000" fill-opacity="0.2"/>
<path d="M278.8 54.4h0.9v0.9h-0.9zM259.8 49.2h0.9v0.9h-0.9zM265.8 70.0h0.9v0.9h-0.9zM264.5 61.3h0.9v0.9h-0.9zM267.5 55.1h0.9v0.9h-0.9zM277.5 59.3h0.9v0.9h-0.9zM265.7 64.0h0.9v0.9h-0.9zM275.2 57.3h0.9v0.9h-0.9zM258.9 58.5h0.9v0.9h-0.9zM279.8 58.0h0.9v0.9h-0.9zM264.9 60.3h0.9v0.9h-0.9zM274.7 52.1h0.9v0.9h-0.9zM269.9 65.0h0.9v0.9h-0.9zM267.3 53.3h0.9v0.9h-0.9zM280.6 66.1h0.9v0.9h-0.9zM264.3 66.0h0.9v0.9h-0.9zM280.0 56.5h0.9v0.9h-0.9zM275.5 69.3h0.9v0.9h-0.9zM264.9 64.6h0.9v0.9h-0.9zM277.7 55.4h0.9v0.9h-0.9zM261.0 45.4h0.9v0.9h-0.9zM260.2 66.3h0.9v0.9h-0.9zM275.9 54.1h0.9v0.9h-0.9zM271.0 51.6h0.9v0.9h-0.9zM259.6 51.4h0.9v0.9h-0.9zM272.0 58.3h0.9v0.9h-0.9zM268.6 69.8h0.9v0.9h-0.9zM272.4 68.8h0.9v0.9h-0.9zM279.3 69.1h0.9v0.9h-0.9z" fill="#000" fill-opacity="0.2"/>
<path d="M259.1 59.0h0.9v0.9h-0.9zM273.5 61.4h0.9v0.9h-0.9zM257.7 67.0h0.9v0.9h-0.9zM259.5 58.7h0.9v0.9h-0.9zM271.4 52.9h0.9v0.9h-0.9zM268.6 70.8h0.9v0.9h-0.9zM259.7 65.2h0.9v0.9h-0.9zM278.3 69.6h0.9v0.9h-0.9zM272.4 59.1h0.9v0.9h-0.9zM269.3 61.7h0.9v0.9h-0.9zM267.8 50.4h0.9v0.9h-0.9zM265.1 58.2h0.9v0.9h-0.9zM265.6 56.3h0.9v0.9h-0.9zM269.6 70.4h0.9v0.9h-0.9zM258.6 70.3h0.9v0.9h-0.9zM261.9 65.4h0.9v0.9h-0.9zM268.5 54.8h0.9v0.9h-0.9zM260.8 61.6h0.9v0.9h-0.9zM276.8 56.6h0.9v0.9h-0.9zM259.8 50.8h0.9v0.9h-0.9zM270.6 52.7h0.9v0.9h-0.9zM270.2 53.3h0.9v0.9h-0.9zM277.1 58.1h0.9v0.9h-0.9zM271.3 65.6h0.9v0.9h-0.9zM271.7 57.5h0.9v0.9h-0.9zM257.1 69.2h0.9v0.9h-0.9zM258.3 56.3h0.9v0.9h-0.9zM262.8 60.5h0.9v0.9h-0.9zM257.2 53.1h0.9v0.9h-0.9z" fill="#000" fill-opacity="0.2"/>
<path d="M274.4 66.4h0.9v0.9h-0.9zM266.7 61.5h0.9v0.9h-0.9zM270.1 55.4h0.9v0.9h-0.9zM268.5 58.8h0.9v0.9h-0.9zM265.5 71.0h0.9v0.9h-0.9zM273.2 55.7h0.9v0.9h-0.9zM261.7 67.0h0.9v0.9h-0.9zM269.5 68.7h0.9v0.9h-0.9zM273.8 67.4h0.9v0.9h-0.9zM265.7 69.9h0.9v0.9h-0.9zM277.3 64.1h0.9v0.9h-0.9zM257.4 45.5h0.9v0.9h-0.9zM269.0 56.3h0.9v0.9h-0.9zM276.8 62.5h0.9v0.9h-0.9zM271.5 59.0h0.9v0.9h-0.9zM261.0 49.9h0.9v0.9h-0.9zM266.2 51.8h0.9v0.9h-0.9zM280.5 66.9h0.9v0.9h-0.9zM272.2 51.7h0.9v0.9h-0.9zM280.9 65.5h0.9v0.9h-0.9zM263.1 45.5h0.9v0.9h-0.9zM274.8 60.2h0.9v0.9h-0.9zM267.4 47.6h0.9v0.9h-0.9zM276.3 46.4h0.9v0.9h-0.9zM268.5 70.8h0.9v0.9h-0.9zM272.6 62.4h0.9v0.9h-0.9zM266.8 68.1h0.9v0.9h-0.9zM259.1 50.4h0.9v0.9h-0.9zM259.7 65.3h0.9v0.9h-0.9z" fill="#000" fill-opacity="0.2"/>
<path d="M263.2 59.8h0.9v0.9h-0.9zM259.1 47.2h0.9v0.9h-0.9zM277.5 52.9h0.9v0.9h-0.9zM257.1 70.3h0.9v0.9h-0.9zM268.9 64.2h0.9v0.9h-0.9zM262.0 56.8h0.9v0.9h-0.9zM281.3 60.3h0.9v0.9h-0.9zM261.5 54.3h0.9v0.9h-0.9zM259.1 68.3h0.9v0.9h-0.9zM262.8 61.8h0.9v0.9h-0.9zM276.7 64.0h0.9v0.9h-0.9zM280.8 56.8h0.9v0.9h-0.9zM261.1 51.9h0.9v0.9h-0.9zM280.1 56.2h0.9v0.9h-0.9zM268.2 50.7h0.9v0.9h-0.9zM279.2 46.5h0.9v0.9h-0.9zM275.2 58.8h0.9v0.9h-0.9zM265.7 52.8h0.9v0.9h-0.9zM270.3 45.6h0.9v0.9h-0.9zM266.1 53.7h0.9v0.9h-0.9zM258.0 49.9h0.9v0.9h-0.9zM266.4 58.6h0.9v0.9h-0.9zM262.1 54.8h0.9v0.9h-0.9zM268.8 57.0h0.9v0.9h-0.9zM271.0 45.6h0.9v0.9h-0.9zM257.1 52.7h0.9v0.9h-0.9zM277.6 52.4h0.9v0.9h-0.9zM270.9 56.7h0.9v0.9h-0.9zM263.7 60.2h0.9v0.9h-0.9z" fill="#000" fill-opacity="0.2"/>
<path d="M264.7 62.3h0.9v0.9h-0.9zM280.1 65.3h0.9v0.9h-0.9zM275.3 53.6h0.9v0.9h-0.9zM258.0 61.6h0.9v0.9h-0.9zM275.4 70.2h0.9v0.9h-0.9zM264.5 46.2h0.9v0.9h-0.9zM276.3 51.1h0.9v0.9h-0.9zM270.9 65.7h0.9v0.9h-0.9zM281.5 46.3h0.9v0.9h-0.9zM257.4 48.4h0.9v0.9h-0.9zM280.4 63.4h0.9v0.9h-0.9zM281.1 69.3h0.9v0.9h-0.9zM276.7 55.9h0.9v0.9h-0.9zM275.7 71.4h0.9v0.9h-0.9zM257.8 62.2h0.9v0.9h-0.9zM273.0 63.6h0.9v0.9h-0.9zM271.5 55.6h0.9v0.9h-0.9zM275.4 60.9h0.9v0.9h-0.9zM280.3 52.3h0.9v0.9h-0.9zM279.5 71.3h0.9v0.9h-0.9zM270.9 63.5h0.9v0.9h-0.9zM280.0 52.2h0.9v0.9h-0.9zM266.0 71.7h0.9v0.9h-0.9zM263.0 53.3h0.9v0.9h-0.9zM259.9 50.0h0.9v0.9h-0.9zM262.1 67.3h0.9v0.9h-0.9zM277.1 65.8h0.9v0.9h-0.9zM259.3 64.7h0.9v0.9h-0.9zM258.1 63.1h0.9v0.9h-0.9z" fill="#000" fill-opacity="0.2"/>
<path d="M268.2 50.5h0.9v0.9h-0.9zM262.4 65.0h0.9v0.9h-0.9zM276.0 47.0h0.9v0.9h-0.9zM267.6 59.6h0.9v0.9h-0.9zM258.5 52.0h0.9v0.9h-0.9zM278.7 52.5h0.9v0.9h-0.9zM273.6 71.4h0.9v0.9h-0.9zM275.1 65.3h0.9v0.9h-0.9zM263.3 46.6h0.9v0.9h-0.9zM278.4 54.8h0.9v0.9h-0.9zM262.5 69.3h0.9v0.9h-0.9zM266.3 53.4h0.9v0.9h-0.9zM269.7 68.9h0.9v0.9h-0.9zM280.7 69.9h0.9v0.9h-0.9zM273.6 52.4h0.9v0.9h-0.9zM260.9 53.0h0.9v0.9h-0.9zM258.2 68.6h0.9v0.9h-0.9zM262.1 50.3h0.9v0.9h-0.9zM267.4 62.3h0.9v0.9h-0.9zM268.2 46.0h0.9v0.9h-0.9zM277.0 67.3h0.9v0.9h-0.9zM266.3 57.1h0.9v0.9h-0.9zM267.0 63.9h0.9v0.9h-0.9zM258.1 55.9h0.9v0.9h-0.9zM257.6 63.7h0.9v0.9h-0.9zM275.8 45.6h0.9v0.9h-0.9zM262.9 58.9h0.9v0.9h-0.9zM276.8 61.9h0.9v0.9h-0.9zM273.3 68.8h0.9v0.9h-0.9z" fill="#000" fill-opacity="0.2"/>
<path d="M260.2 61.7h0.9v0.9h-0.9zM257.9 71.9h0.9v0.9h-0.9zM263.4 46.5h0.9v0.9h-0.9zM274.3 58.6h0.9v0.9h-0.9zM257.6 45.9h0.9v0.9h-0.9zM261.1 61.9h0.9v0.9h-0.9zM281.9 55.8h0.9v0.9h-0.9zM276.7 53.7h0.9v0.9h-0.9zM273.3 54.8h0.9v0.9h-0.9zM260.3 65.5h0.9v0.9h-0.9zM273.0 67.4h0.9v0.9h-0.9zM269.0 66.7h0.9v0.9h-0.9zM272.0 59.1h0.9v0.9h-0.9zM280.5 50.9h0.9v0.9h-0.9zM259.9 53.5h0.9v0.9h-0.9zM271.9 62.7h0.9v0.9h-0.9zM267.3 54.3h0.9v0.9h-0.9zM280.4 48.1h0.9v0.9h-0.9zM271.1 54.0h0.9v0.9h-0.9zM263.4 49.1h0.9v0.9h-0.9zM279.9 59.4h0.9v0.9h-0.9zM262.0 50.0h0.9v0.9h-0.9zM257.2 58.1h0.9v0.9h-0.9zM259.9 53.1h0.9v0.9h-0.9zM260.8 64.4h0.9v0.9h-0.9zM262.3 70.5h0.9v0.9h-0.9zM260.7 66.1h0.9v0.9h-0.9zM261.3 63.8h0.9v0.9h-0.9zM265.0 58.3h0.9v0.9h-0.9z" fill="#000" fill-opacity="0.2"/>
<path d="M267.6 51.1h0.9v0.9h-0.9zM264.6 63.6h0.9v0.9h-0.9zM264.2 68.8h0.9v0.9h-0.9zM271.9 70.9h0.9v0.9h-0.9zM268.1 52.3h0.9v0.9h-0.9zM258.0 58.1h0.9v0.9h-0.9zM274.2 46.3h0.9v0.9h-0.9zM259.2 71.8h0.9v0.9h-0.9zM265.9 67.0h0.9v0.9h-0.9zM266.4 45.1h0.9v0.9h-0.9zM271.2 47.0h0.9v0.9h-0.9zM272.3 47.3h0.9v0.9h-0.9zM274.4 59.4h0.9v0.9h-0.9zM278.4 62.1h0.9v0.9h-0.9zM272.9 47.7h0.9v0.9h-0.9zM260.3 62.0h0.9v0.9h-0.9zM268.0 69.7h0.9v0.9h-0.9zM275.5 49.1h0.9v0.9h-0.9zM260.2 52.8h0.9v0.9h-0.9zM269.7 56.5h0.9v0.9h-0.9zM264.7 56.5h0.9v0.9h-0.9zM263.6 50.5h0.9v0.9h-0.9zM270.4 50.2h0.9v0.9h-0.9zM261.0 65.7h0.9v0.9h-0.9zM265.5 49.5h0.9v0.9h-0.9zM266.3 47.6h0.9v0.9h-0.9zM264.9 62.6h0.9v0.9h-0.9zM267.7 64.7h0.9v0.9h-0.9zM268.8 66.3h0.9v0.9h-0.9z" fill="#000" fill-opacity="0.2"/>
<path d="M258.7 71.0h0.9v0.9h-0.9zM273.7 59.3h0.9v0.9h-0.9zM266.1 52.1h0.9v0.9h-0.9zM263.4 67.5h0.9v0.9h-0.9zM267.7 50.5h0.9v0.9h-0.9zM258.9 62.0h0.9v0.9h-0.9zM259.4 51.8h0.9v0.9h-0.9zM261.7 57.0h0.9v0.9h-0.9zM258.6 55.5h0.9v0.9h-0.9zM272.4 70.0h0.9v0.9h-0.9zM257.8 52.6h0.9v0.9h-0.9zM278.0 68.0h0.9v0.9h-0.9zM270.9 71.5h0.9v0.9h-0.9zM279.9 58.9h0.9v0.9h-0.9zM259.0 61.4h0.9v0.9h-0.9zM264.0 62.6h0.9v0.9h-0.9zM266.7 63.1h0.9v0.9h-0.9zM274.7 56.5h0.9v0.9h-0.9zM263.3 68.8h0.9v0.9h-0.9zM276.2 65.8h0.9v0.9h-0.9zM269.9 55.1h0.9v0.9h-0.9zM259.5 58.3h0.9v0.9h-0.9zM280.9 50.1h0.9v0.9h-0.9zM266.7 57.7h0.9v0.9h-0.9zM279.5 58.8h0.9v0.9h-0.9zM273.0 69.7h0.9v0.9h-0.9zM262.5 65.0h0.9v0.9h-0.9zM263.2 68.3h0.9v0.9h-0.9zM265.5 53.8h0.9v0.9h-0.9z" fill="#000" fill-opacity="0.2"/>
<path d="M276.5 60.0h0.9v0.9h-0.9zM280.0 52.7h0.9v0.9h-0.9zM270.4 50.4h0.9v0.9h-0.9zM267.4 68.6h0.9v0.9h-0.9zM279.1 53.7h0.9v0.9h-0.9zM271.8 52.7h0.9v0.9h-0.9zM265.4 57.9h0.9v0.9h-0.9zM280.2 60.7h0.9v0.9h-0.9zM261.6 49.4h0.9v0.9h-0.9zM274.7 70.0h0.9v0.9h-0.9zM261.7 61.7h0.9v0.9h-0.9zM263.0 52.9h0.9v0.9h-0.9zM267.6 60.2h0.9v0.9h-0.9zM266.7 45.0h0.9v0.9h-0.9zM263.7 48.5h0.9v0.9h-0.9zM273.4 53.2h0.9v0.9h-0.9zM264.3 54.3h0.9v0.9h-0.9zM278.8 63.7h0.9v0.9h-0.9zM273.6 63.3h0.9v0.9h-0.9zM275.5 48.6h0.9v0.9h-0.9zM274.1 59.1h0.9v0.9h-0.9zM260.3 67.7h0.9v0.9h-0.9zM260.7 62.7h0.9v0.9h-0.9zM277.1 65.8h0.9v0.9h-0.9zM281.6 55.3h0.9v0.9h-0.9zM264.0 46.5h0.9v0.9h-0.9zM276.8 49.5h0.9v0.9h-0.9zM272.4 56.2h0.9v0.9h-0.9zM271.2 64.0h0.9v0.9h-0.9z" fill="#000" fill-opacity="0.2"/>
<path d="M262.9 58.8h0.9v0.9h-0.9zM308.8 63.6h0.9v0.9h-0.9zM297.7 83.6h0.9v0.9h-0.9zM325.1 87.3h0.9v0.9h-0.9zM294.4 77.8h0.9v0.9h-0.9z" fill="#000" fill-opacity="0.2"/>
<path d="M283.6 17.4h0.9v0.9h-0.9zM306.1 68.9h0.9v0.9h-0.9zM277.9 40.1h0.9v0.9h-0.9zM287.0 17.2h0.9v0.9h-0.9zM283.5 51.5h0.9v0.9h-0.9z" fill="#000" fill-opacity="0.2"/>
<path d="M290.9 85.5h0.9v0.9h-0.9zM302.0 40.1h0.9v0.9h-0.9zM332.4 54.9h0.9v0.9h-0.9zM279.1 16.7h0.9v0.9h-0.9zM275.1 40.4h0.9v0.9h-0.9z" fill="#000" fill-opacity="0.2"/>
<path d="M270.7 84.6h0.9v0.9h-0.9zM303.3 30.7h0.9v0.9h-0.9zM256.2 73.9h0.9v0.9h-0.9zM313.8 25.7h0.9v0.9h-0.9zM275.5 74.9h0.9v0.9h-0.9z" fill="#000" fill-opacity="0.2"/>
<path d="M288.9 45.2h0.9v0.9h-0.9zM317.0 83.2h0.9v0.9h-0.9zM259.7 25.4h0.9v0.9h-0.9zM285.8 43.4h0.9v0.9h-0.9zM325.2 27.0h0.9v0.9h-0.9z" fill="#000" fill-opacity="0.2"/>
<path d="M279.7 21.4h0.9v0.9h-0.9zM328.6 45.2h0.9v0.9h-0.9zM304.3 57.7h0.9v0.9h-0.9zM260.7 80.8h0.9v0.9h-0.9zM266.2 50.5h0.9v0.9h-0.9z" fill="#000" fill-opacity="0.2"/>
<path d="M299.7 68.9h0.9v0.9h-0.9zM324.0 37.5h0.9v0.9h-0.9zM290.4 86.6h0.9v0.9h-0.9zM296.8 61.0h0.9v0.9h-0.9zM275.9 66.5h0.9v0.9h-0.9z" fill="#000" fill-opacity="0.2"/>
<path d="M274.4 83.5h0.9v0.9h-0.9zM328.2 24.4h0.9v0.9h-0.9zM311.9 82.7h0.9v0.9h-0.9zM316.8 62.1h0.9v0.9h-0.9zM305.7 53.1h0.9v0.9h-0.9z" fill="#000" fill-opacity="0.2"/>
<path d="M272.8 71.3h0.9v0.9h-0.9zM267.5 86.6h0.9v0.9h-0.9zM261.7 86.0h0.9v0.9h-0.9zM291.4 20.1h0.9v0.9h-0.9zM283.9 52.8h0.9v0.9h-0.9z" fill="#000" fill-opacity="0.2"/>
<path d="M261.0 33.9h0.9v0.9h-0.9zM302.2 27.3h0.9v0.9h-0.9zM328.6 38.5h0.9v0.9h-0.9zM264.7 69.8h0.9v0.9h-0.9zM321.5 48.8h0.9v0.9h-0.9z" fill="#000" fill-opacity="0.2"/>
<path d="M277.3 60.4h0.9v0.9h-0.9zM316.0 42.0h0.9v0.9h-0.9zM317.5 40.3h0.9v0.9h-0.9zM321.5 83.5h0.9v0.9h-0.9zM317.7 39.2h0.9v0.9h-0.9z" fill="#000" fill-opacity="0.2"/>
<path d="M261.7 74.5h0.9v0.9h-0.9zM311.4 30.8h0.9v0.9h-0.9zM310.3 24.1h0.9v0.9h-0.9zM333.5 19.2h0.9v0.9h-0.9zM262.8 86.8h0.9v0.9h-0.9z" fill="#000" fill-opacity="0.2"/>
</g>
<path d="M254 14.5H335.3V95.5" fill="none" stroke="#888" stroke-width="0.8"/>
<line x1="254.00" y1="14.30" x2="254.00" y2="95.80" stroke="#222" stroke-width="1.1"/>
<line x1="253.60" y1="95.50" x2="335.50" y2="95.50" stroke="#222" stroke-width="1.1"/>
<rect x="287.75" y="33.5" width="32.5" height="14.6" fill="none" stroke="#999" stroke-width="0.6"/>
<text x="303.30" y="24.80" font-size="9.6" text-anchor="middle" font-weight="bold">LSK</text>
<text x="302.20" y="32.40" font-size="7.3" text-anchor="middle" font-weight="bold">3.6</text>
<text x="252.00" y="24.40" font-size="4.4" text-anchor="end" fill="#111">10<tspan dy="-1.5" font-size="3">5</tspan></text>
<line x1="252.80" y1="22.90" x2="254.00" y2="22.90" stroke="#333" stroke-width="0.6"/>
<text x="252.00" y="42.10" font-size="4.4" text-anchor="end" fill="#111">10<tspan dy="-1.5" font-size="3">4</tspan></text>
<line x1="252.80" y1="40.60" x2="254.00" y2="40.60" stroke="#333" stroke-width="0.6"/>
<text x="252.00" y="60.50" font-size="4.4" text-anchor="end" fill="#111">10<tspan dy="-1.5" font-size="3">3</tspan></text>
<line x1="252.80" y1="59.00" x2="254.00" y2="59.00" stroke="#333" stroke-width="0.6"/>
<text x="252.00" y="79.50" font-size="4.4" text-anchor="end" fill="#111">10<tspan dy="-1.5" font-size="3">2</tspan></text>
<line x1="252.80" y1="78.00" x2="254.00" y2="78.00" stroke="#333" stroke-width="0.6"/>
<text x="252.00" y="88.50" font-size="4.4" text-anchor="end" fill="#111">0</text>
<line x1="252.80" y1="87.00" x2="254.00" y2="87.00" stroke="#333" stroke-width="0.6"/>
<text x="263.00" y="104.00" font-size="4.4" text-anchor="middle" fill="#111">0</text>
<text x="271.50" y="104.00" font-size="4.4" text-anchor="middle" fill="#111">10<tspan dy="-1.5" font-size="3">2</tspan></text>
<text x="291.00" y="104.00" font-size="4.4" text-anchor="middle" fill="#111">10<tspan dy="-1.5" font-size="3">3</tspan></text>
<text x="309.60" y="104.00" font-size="4.4" text-anchor="middle" fill="#111">10<tspan dy="-1.5" font-size="3">4</tspan></text>
<text x="326.00" y="104.00" font-size="4.4" text-anchor="middle" fill="#111">10<tspan dy="-1.5" font-size="3">5</tspan></text>
<text x="240.80" y="57.50" font-size="6.8" text-anchor="middle" fill="#111" transform="rotate(-90 240.8 57.5)" stroke="#111" stroke-width="0.1">Kit</text>
<text x="295.20" y="113.00" font-size="6.8" text-anchor="middle" fill="#111" stroke="#111" stroke-width="0.1">Sca</text>
<text x="7.15" y="134.25" font-size="17" font-weight="bold">B</text>
<line x1="48.50" y1="141.70" x2="62.00" y2="141.70" stroke="#000" stroke-width="1.5"/>
<text x="62.60" y="143.80" font-size="5.9" fill="#222">WT</text>
<line x1="48.50" y1="148.10" x2="62.00" y2="148.10" stroke="#999" stroke-width="1.2"/>
<text x="62.60" y="150.20" font-size="5.9" font-style="italic" fill="#222">Tgfb2<tspan dy="-2" font-size="3.6">+/-</tspan></text>
<line x1="42.50" y1="150.40" x2="42.50" y2="208.90" stroke="#222" stroke-width="0.9"/>
<line x1="41.20" y1="208.30" x2="42.50" y2="208.30" stroke="#222" stroke-width="0.7"/>
<text x="39.90" y="210.28" font-size="5.5" text-anchor="end" fill="#222">0</text>
<line x1="41.20" y1="195.73" x2="42.50" y2="195.73" stroke="#222" stroke-width="0.7"/>
<text x="39.90" y="197.71" font-size="5.5" text-anchor="end" fill="#222">50</text>
<line x1="41.20" y1="183.15" x2="42.50" y2="183.15" stroke="#222" stroke-width="0.7"/>
<text x="39.90" y="185.13" font-size="5.5" text-anchor="end" fill="#222">100</text>
<line x1="41.20" y1="170.58" x2="42.50" y2="170.58" stroke="#222" stroke-width="0.7"/>
<text x="39.90" y="172.56" font-size="5.5" text-anchor="end" fill="#222">150</text>
<line x1="41.20" y1="158.00" x2="42.50" y2="158.00" stroke="#222" stroke-width="0.7"/>
<text x="39.90" y="159.98" font-size="5.5" text-anchor="end" fill="#222">200</text>
<line x1="42.10" y1="208.50" x2="132.60" y2="208.50" stroke="#222" stroke-width="0.9"/>
<line x1="43.60" y1="208.50" x2="43.60" y2="209.80" stroke="#222" stroke-width="0.7"/>
<line x1="65.80" y1="208.50" x2="65.80" y2="209.80" stroke="#222" stroke-width="0.7"/>
<line x1="88.00" y1="208.50" x2="88.00" y2="209.80" stroke="#222" stroke-width="0.7"/>
<line x1="110.20" y1="208.50" x2="110.20" y2="209.80" stroke="#222" stroke-width="0.7"/>
<line x1="132.40" y1="208.50" x2="132.40" y2="209.80" stroke="#222" stroke-width="0.7"/>
<text x="55.70" y="216.00" font-size="5.6" text-anchor="middle" fill="#222">10</text>
<text x="77.90" y="216.00" font-size="5.6" text-anchor="middle" fill="#222">50</text>
<text x="100.10" y="216.00" font-size="5.6" text-anchor="middle" fill="#222">100</text>
<text x="122.30" y="216.00" font-size="5.6" text-anchor="middle" fill="#222">1000</text>
<text x="92.30" y="224.60" font-size="7.6" text-anchor="middle" fill="#111">Flt3L (ng/mL)</text>
<text x="17.60" y="179.00" font-size="6.0" text-anchor="middle" fill="#222" transform="rotate(-90 17.6 179)">Proliferation of cells</text>
<text x="24.40" y="180.30" font-size="5.65" text-anchor="middle" fill="#222" transform="rotate(-90 24.4 180.3)">(% of WT response at 50ng/mL)</text>
<line x1="54.40" y1="189.44" x2="54.40" y2="182.40" stroke="#222" stroke-width="0.8"/>
<line x1="52.80" y1="182.40" x2="56.00" y2="182.40" stroke="#222" stroke-width="0.8"/>
<line x1="76.60" y1="175.10" x2="76.60" y2="167.56" stroke="#222" stroke-width="0.8"/>
<line x1="75.00" y1="167.56" x2="78.20" y2="167.56" stroke="#222" stroke-width="0.8"/>
<line x1="98.80" y1="174.35" x2="98.80" y2="169.32" stroke="#222" stroke-width="0.8"/>
<line x1="97.20" y1="169.32" x2="100.40" y2="169.32" stroke="#222" stroke-width="0.8"/>
<line x1="121.00" y1="166.05" x2="121.00" y2="152.47" stroke="#222" stroke-width="0.8"/>
<line x1="119.40" y1="152.47" x2="122.60" y2="152.47" stroke="#222" stroke-width="0.8"/>
<line x1="55.00" y1="190.19" x2="55.00" y2="184.16" stroke="#444" stroke-width="0.8"/>
<line x1="53.40" y1="184.16" x2="56.60" y2="184.16" stroke="#444" stroke-width="0.8"/>
<line x1="77.20" y1="183.15" x2="77.20" y2="176.86" stroke="#444" stroke-width="0.8"/>
<line x1="75.60" y1="176.86" x2="78.80" y2="176.86" stroke="#444" stroke-width="0.8"/>
<line x1="99.40" y1="178.12" x2="99.40" y2="171.08" stroke="#444" stroke-width="0.8"/>
<line x1="97.80" y1="171.08" x2="101.00" y2="171.08" stroke="#444" stroke-width="0.8"/>
<line x1="121.60" y1="166.80" x2="121.60" y2="158.00" stroke="#444" stroke-width="0.8"/>
<line x1="120.00" y1="158.00" x2="123.20" y2="158.00" stroke="#444" stroke-width="0.8"/>
<line x1="54.70" y1="197.74" x2="54.70" y2="193.71" stroke="#777" stroke-width="0.8"/>
<line x1="53.10" y1="193.71" x2="56.30" y2="193.71" stroke="#777" stroke-width="0.8"/>
<line x1="76.90" y1="192.71" x2="76.90" y2="185.67" stroke="#777" stroke-width="0.8"/>
<line x1="75.30" y1="185.67" x2="78.50" y2="185.67" stroke="#777" stroke-width="0.8"/>
<line x1="99.10" y1="188.18" x2="99.10" y2="180.64" stroke="#777" stroke-width="0.8"/>
<line x1="97.50" y1="180.64" x2="100.70" y2="180.64" stroke="#777" stroke-width="0.8"/>
<line x1="121.30" y1="181.89" x2="121.30" y2="176.86" stroke="#777" stroke-width="0.8"/>
<line x1="119.70" y1="176.86" x2="122.90" y2="176.86" stroke="#777" stroke-width="0.8"/>
<polyline points="54.70,196.98 76.90,191.95 99.10,188.18 121.30,184.41" fill="none" stroke="#999" stroke-width="1.1" stroke-dasharray="1.6 1"/>
<polyline points="54.70,197.74 76.90,192.71 99.10,188.18 121.30,181.89" fill="none" stroke="#aaa" stroke-width="1.1"/>
<polyline points="54.70,189.44 76.90,175.10 99.10,174.35 121.30,166.05" fill="none" stroke="#111" stroke-width="0.9" stroke-dasharray="1.6 1"/>
<polyline points="54.70,190.19 76.90,183.15 99.10,178.12 121.30,166.80" fill="none" stroke="#111" stroke-width="0.9"/>
<circle cx="54.70" cy="196.98" r="1.3" fill="#999"/>
<circle cx="76.90" cy="191.95" r="1.3" fill="#999"/>
<circle cx="99.10" cy="188.18" r="1.3" fill="#999"/>
<circle cx="121.30" cy="184.41" r="1.3" fill="#999"/>
<rect x="53.50" y="196.54" width="2.40" height="2.40" fill="#aaa" stroke="none" stroke-width="1"/>
<rect x="75.70" y="191.51" width="2.40" height="2.40" fill="#aaa" stroke="none" stroke-width="1"/>
<rect x="97.90" y="186.98" width="2.40" height="2.40" fill="#aaa" stroke="none" stroke-width="1"/>
<rect x="120.10" y="180.69" width="2.40" height="2.40" fill="#aaa" stroke="none" stroke-width="1"/>
<circle cx="54.70" cy="190.19" r="1.3" fill="#111"/>
<circle cx="76.90" cy="183.15" r="1.3" fill="#111"/>
<circle cx="99.10" cy="178.12" r="1.3" fill="#111"/>
<circle cx="121.30" cy="166.80" r="1.3" fill="#111"/>
<circle cx="54.70" cy="189.44" r="2.0" fill="#000"/>
<circle cx="76.90" cy="175.10" r="2.0" fill="#000"/>
<circle cx="99.10" cy="174.35" r="2.0" fill="#000"/>
<circle cx="121.30" cy="166.05" r="2.0" fill="#000"/>
<polygon points="54.70,199.90 55.42,201.81 57.46,201.90 55.86,203.18 56.40,205.15 54.70,204.02 53.00,205.15 53.54,203.18 51.94,201.90 53.98,201.81" fill="#000"/>
<polygon points="76.90,195.10 77.62,197.01 79.66,197.10 78.06,198.38 78.60,200.35 76.90,199.22 75.20,200.35 75.74,198.38 74.14,197.10 76.18,197.01" fill="#000"/>
<polygon points="99.10,191.10 99.82,193.01 101.86,193.10 100.26,194.38 100.80,196.35 99.10,195.22 97.40,196.35 97.94,194.38 96.34,193.10 98.38,193.01" fill="#000"/>
<polygon points="121.30,187.10 122.02,189.01 124.06,189.10 122.46,190.38 123.00,192.35 121.30,191.22 119.60,192.35 120.14,190.38 118.54,189.10 120.58,189.01" fill="#000"/>
<line x1="155.40" y1="150.30" x2="155.40" y2="208.90" stroke="#222" stroke-width="0.9"/>
<line x1="154.10" y1="208.30" x2="155.40" y2="208.30" stroke="#222" stroke-width="0.7"/>
<text x="152.50" y="210.28" font-size="5.5" text-anchor="end" fill="#222">0</text>
<line x1="154.10" y1="194.02" x2="155.40" y2="194.02" stroke="#222" stroke-width="0.7"/>
<text x="152.50" y="196.00" font-size="5.5" text-anchor="end" fill="#222">100</text>
<line x1="154.10" y1="179.74" x2="155.40" y2="179.74" stroke="#222" stroke-width="0.7"/>
<text x="152.50" y="181.72" font-size="5.5" text-anchor="end" fill="#222">200</text>
<line x1="154.10" y1="165.46" x2="155.40" y2="165.46" stroke="#222" stroke-width="0.7"/>
<text x="152.50" y="167.44" font-size="5.5" text-anchor="end" fill="#222">300</text>
<line x1="154.10" y1="151.18" x2="155.40" y2="151.18" stroke="#222" stroke-width="0.7"/>
<text x="152.50" y="153.16" font-size="5.5" text-anchor="end" fill="#222">400</text>
<line x1="155.00" y1="208.50" x2="248.30" y2="208.50" stroke="#222" stroke-width="0.9"/>
<line x1="157.10" y1="208.50" x2="157.10" y2="209.80" stroke="#222" stroke-width="0.7"/>
<line x1="179.90" y1="208.50" x2="179.90" y2="209.80" stroke="#222" stroke-width="0.7"/>
<line x1="202.70" y1="208.50" x2="202.70" y2="209.80" stroke="#222" stroke-width="0.7"/>
<line x1="225.50" y1="208.50" x2="225.50" y2="209.80" stroke="#222" stroke-width="0.7"/>
<line x1="248.30" y1="208.50" x2="248.30" y2="209.80" stroke="#222" stroke-width="0.7"/>
<text x="168.20" y="216.60" font-size="5.6" text-anchor="middle" fill="#222">10</text>
<text x="191.40" y="216.60" font-size="5.6" text-anchor="middle" fill="#222">50</text>
<text x="214.60" y="216.60" font-size="5.6" text-anchor="middle" fill="#222">100</text>
<text x="237.80" y="216.60" font-size="5.6" text-anchor="middle" fill="#222">1000</text>
<text x="203.50" y="225.70" font-size="7.8" text-anchor="middle" fill="#111">KL/TPO (ng/mL)</text>
<line x1="190.20" y1="194.45" x2="190.20" y2="190.45" stroke="#222" stroke-width="0.9"/>
<line x1="188.60" y1="190.45" x2="191.80" y2="190.45" stroke="#222" stroke-width="0.9"/>
<line x1="213.40" y1="186.88" x2="213.40" y2="179.74" stroke="#222" stroke-width="0.9"/>
<line x1="211.80" y1="179.74" x2="215.00" y2="179.74" stroke="#222" stroke-width="0.9"/>
<line x1="236.60" y1="170.89" x2="236.60" y2="159.75" stroke="#222" stroke-width="0.9"/>
<line x1="235.00" y1="159.75" x2="238.20" y2="159.75" stroke="#222" stroke-width="0.9"/>
<polyline points="167.00,202.59 190.20,194.02 213.40,184.74 236.60,174.03" fill="none" stroke="#aaa" stroke-width="1.2"/>
<polyline points="167.00,202.59 190.20,194.45 213.40,186.88 236.60,170.89" fill="none" stroke="#111" stroke-width="1.3"/>
<path d="M165.40 201.39h3.2l-1.6 2.8z" fill="#aaa"/>
<path d="M188.60 192.82h3.2l-1.6 2.8z" fill="#aaa"/>
<path d="M211.80 183.54h3.2l-1.6 2.8z" fill="#aaa"/>
<path d="M235.00 172.83h3.2l-1.6 2.8z" fill="#aaa"/>
<circle cx="167.00" cy="202.59" r="1.5" fill="#111"/>
<circle cx="190.20" cy="194.45" r="1.5" fill="#111"/>
<circle cx="213.40" cy="186.88" r="1.5" fill="#111"/>
<circle cx="236.60" cy="170.89" r="1.5" fill="#111"/>
<line x1="275.20" y1="150.50" x2="275.20" y2="208.90" stroke="#222" stroke-width="0.9"/>
<line x1="273.90" y1="208.30" x2="275.20" y2="208.30" stroke="#222" stroke-width="0.7"/>
<text x="272.80" y="210.35" font-size="5.7" text-anchor="end" fill="#222">0</text>
<line x1="273.90" y1="194.03" x2="275.20" y2="194.03" stroke="#222" stroke-width="0.7"/>
<text x="272.80" y="196.08" font-size="5.7" text-anchor="end" fill="#222">50</text>
<line x1="273.90" y1="179.75" x2="275.20" y2="179.75" stroke="#222" stroke-width="0.7"/>
<text x="272.80" y="181.80" font-size="5.7" text-anchor="end" fill="#222">100</text>
<line x1="273.90" y1="165.48" x2="275.20" y2="165.48" stroke="#222" stroke-width="0.7"/>
<text x="272.80" y="167.53" font-size="5.7" text-anchor="end" fill="#222">150</text>
<line x1="273.90" y1="151.20" x2="275.20" y2="151.20" stroke="#222" stroke-width="0.7"/>
<text x="272.80" y="153.25" font-size="5.7" text-anchor="end" fill="#222">200</text>
<line x1="274.80" y1="208.50" x2="367.30" y2="208.50" stroke="#222" stroke-width="0.9"/>
<line x1="276.30" y1="208.50" x2="276.30" y2="209.80" stroke="#222" stroke-width="0.7"/>
<line x1="299.10" y1="208.50" x2="299.10" y2="209.80" stroke="#222" stroke-width="0.7"/>
<line x1="321.90" y1="208.50" x2="321.90" y2="209.80" stroke="#222" stroke-width="0.7"/>
<line x1="344.60" y1="208.50" x2="344.60" y2="209.80" stroke="#222" stroke-width="0.7"/>
<line x1="367.30" y1="208.50" x2="367.30" y2="209.80" stroke="#222" stroke-width="0.7"/>
<text x="287.90" y="217.00" font-size="5.6" text-anchor="middle" fill="#222">10</text>
<text x="310.80" y="217.00" font-size="5.6" text-anchor="middle" fill="#222">50</text>
<text x="333.70" y="217.00" font-size="5.6" text-anchor="middle" fill="#222">100</text>
<text x="356.60" y="217.00" font-size="5.6" text-anchor="middle" fill="#222">1000</text>
<text x="324.20" y="225.20" font-size="7.7" text-anchor="middle" fill="#111">IL-3 (ng/mL)</text>
<line x1="286.90" y1="178.89" x2="286.90" y2="174.04" stroke="#222" stroke-width="0.9"/>
<line x1="285.30" y1="174.04" x2="288.50" y2="174.04" stroke="#222" stroke-width="0.9"/>
<line x1="309.80" y1="177.47" x2="309.80" y2="166.33" stroke="#222" stroke-width="0.9"/>
<line x1="308.20" y1="166.33" x2="311.40" y2="166.33" stroke="#222" stroke-width="0.9"/>
<line x1="332.70" y1="162.62" x2="332.70" y2="154.06" stroke="#222" stroke-width="0.9"/>
<line x1="331.10" y1="154.06" x2="334.30" y2="154.06" stroke="#222" stroke-width="0.9"/>
<line x1="355.60" y1="182.03" x2="355.60" y2="177.47" stroke="#222" stroke-width="0.9"/>
<line x1="354.00" y1="177.47" x2="357.20" y2="177.47" stroke="#222" stroke-width="0.9"/>
<polyline points="286.90,178.89 309.80,177.47 332.70,169.76 355.60,189.74" fill="none" stroke="#aaa" stroke-width="1.2"/>
<polyline points="286.90,181.75 309.80,179.75 332.70,162.62 355.60,182.03" fill="none" stroke="#111" stroke-width="1.3"/>
<path d="M285.30 180.09h3.2l-1.6 -2.8z" fill="#aaa"/>
<path d="M308.20 178.67h3.2l-1.6 -2.8z" fill="#aaa"/>
<path d="M331.10 170.96h3.2l-1.6 -2.8z" fill="#aaa"/>
<path d="M354.00 190.94h3.2l-1.6 -2.8z" fill="#aaa"/>
<path d="M285.20 183.05h3.4l-1.7 -3z" fill="#111"/>
<path d="M308.10 181.05h3.4l-1.7 -3z" fill="#111"/>
<path d="M331.00 163.92h3.4l-1.7 -3z" fill="#111"/>
<path d="M353.90 183.33h3.4l-1.7 -3z" fill="#111"/>
<text x="8.00" y="253.50" font-size="17" font-weight="bold">C</text>
<line x1="42.80" y1="265.60" x2="42.80" y2="344.80" stroke="#666" stroke-width="1.3"/>
<line x1="41.50" y1="344.20" x2="42.80" y2="344.20" stroke="#666" stroke-width="0.7"/>
<text x="39.40" y="346.04" font-size="5.1" text-anchor="end" fill="#222">0</text>
<line x1="41.50" y1="331.16" x2="42.80" y2="331.16" stroke="#666" stroke-width="0.7"/>
<text x="39.40" y="333.00" font-size="5.1" text-anchor="end" fill="#222">50</text>
<line x1="41.50" y1="318.13" x2="42.80" y2="318.13" stroke="#666" stroke-width="0.7"/>
<text x="39.40" y="319.97" font-size="5.1" text-anchor="end" fill="#222">100</text>
<line x1="41.50" y1="305.09" x2="42.80" y2="305.09" stroke="#666" stroke-width="0.7"/>
<text x="39.40" y="306.93" font-size="5.1" text-anchor="end" fill="#222">150</text>
<line x1="41.50" y1="292.06" x2="42.80" y2="292.06" stroke="#666" stroke-width="0.7"/>
<text x="39.40" y="293.90" font-size="5.1" text-anchor="end" fill="#222">200</text>
<line x1="41.50" y1="279.02" x2="42.80" y2="279.02" stroke="#666" stroke-width="0.7"/>
<text x="39.40" y="280.86" font-size="5.1" text-anchor="end" fill="#222">250</text>
<line x1="41.50" y1="265.99" x2="42.80" y2="265.99" stroke="#666" stroke-width="0.7"/>
<text x="39.40" y="267.83" font-size="5.1" text-anchor="end" fill="#222">300</text>
<line x1="42.10" y1="344.40" x2="121.30" y2="344.40" stroke="#222" stroke-width="0.9"/>
<line x1="69.10" y1="344.40" x2="69.10" y2="345.70" stroke="#222" stroke-width="0.7"/>
<line x1="94.60" y1="344.40" x2="94.60" y2="345.70" stroke="#222" stroke-width="0.7"/>
<line x1="121.10" y1="344.40" x2="121.10" y2="345.70" stroke="#222" stroke-width="0.7"/>
<text x="42.70" y="353.00" font-size="5.8" text-anchor="middle" fill="#222">0</text>
<text x="69.10" y="353.00" font-size="5.8" text-anchor="middle" fill="#222">1</text>
<text x="94.60" y="353.00" font-size="5.8" text-anchor="middle" fill="#222">10</text>
<text x="121.10" y="353.00" font-size="5.8" text-anchor="middle" fill="#222">100</text>
<text x="87.00" y="361.60" font-size="7.5" text-anchor="middle" fill="#111">Flt3L (ng/mL)</text>
<text x="17.30" y="306.20" font-size="6.2" text-anchor="middle" fill="#222" transform="rotate(-90 17.3 306.2)">Proliferation of cells</text>
<text x="22.60" y="305.80" font-size="5.45" text-anchor="middle" fill="#222" transform="rotate(-90 22.6 305.8)">(% of <tspan font-style="italic">Tgfb2</tspan><tspan dy="-1.8" font-size="3.4">+/+</tspan><tspan dy="1.8"> response at 10ng/mL)</tspan></text>
<line x1="121.10" y1="280.85" x2="121.10" y2="277.72" stroke="#111" stroke-width="0.9"/>
<line x1="119.50" y1="277.72" x2="122.70" y2="277.72" stroke="#111" stroke-width="0.9"/>
<line x1="121.10" y1="305.09" x2="121.10" y2="302.49" stroke="#111" stroke-width="0.9"/>
<line x1="119.50" y1="302.49" x2="122.70" y2="302.49" stroke="#111" stroke-width="0.9"/>
<line x1="121.10" y1="324.39" x2="121.10" y2="321.78" stroke="#888" stroke-width="0.9"/>
<line x1="119.50" y1="321.78" x2="122.70" y2="321.78" stroke="#888" stroke-width="0.9"/>
<polyline points="42.70,344.20 69.10,343.42 94.60,333.77 121.10,324.39" fill="none" stroke="#aaa" stroke-width="1.0"/>
<polyline points="42.70,344.20 69.10,343.42 94.60,327.78 121.10,305.09" fill="none" stroke="#111" stroke-width="1.0"/>
<polyline points="42.70,344.20 69.10,343.42 94.60,318.13 121.10,280.85" fill="none" stroke="#111" stroke-width="1.0"/>
<circle cx="42.70" cy="344.20" r="1.8" fill="#aaa"/>
<circle cx="69.10" cy="343.42" r="1.8" fill="#aaa"/>
<circle cx="94.60" cy="333.77" r="1.8" fill="#aaa"/>
<circle cx="121.10" cy="324.39" r="1.8" fill="#aaa"/>
<circle cx="94.60" cy="327.78" r="2.0" fill="#000"/>
<circle cx="121.10" cy="305.09" r="2.0" fill="#000"/>
<circle cx="94.60" cy="318.13" r="2.1" fill="#000"/>
<circle cx="121.10" cy="280.85" r="2.1" fill="#000"/>
<polygon points="121.10,310.20 121.84,312.18 123.95,312.27 122.30,313.59 122.86,315.63 121.10,314.46 119.34,315.63 119.90,313.59 118.25,312.27 120.36,312.18" fill="#000"/>
<polygon points="121.10,328.60 121.84,330.58 123.95,330.67 122.30,331.99 122.86,334.03 121.10,332.86 119.34,334.03 119.90,331.99 118.25,330.67 120.36,330.58" fill="#000"/>
<line x1="159.70" y1="265.80" x2="159.70" y2="344.60" stroke="#666" stroke-width="1.3"/>
<line x1="158.40" y1="344.00" x2="159.70" y2="344.00" stroke="#666" stroke-width="0.7"/>
<text x="156.60" y="345.84" font-size="5.1" text-anchor="end" fill="#222">0</text>
<line x1="158.40" y1="331.03" x2="159.70" y2="331.03" stroke="#666" stroke-width="0.7"/>
<text x="156.60" y="332.87" font-size="5.1" text-anchor="end" fill="#222">100</text>
<line x1="158.40" y1="318.06" x2="159.70" y2="318.06" stroke="#666" stroke-width="0.7"/>
<text x="156.60" y="319.90" font-size="5.1" text-anchor="end" fill="#222">200</text>
<line x1="158.40" y1="305.09" x2="159.70" y2="305.09" stroke="#666" stroke-width="0.7"/>
<text x="156.60" y="306.93" font-size="5.1" text-anchor="end" fill="#222">300</text>
<line x1="158.40" y1="292.12" x2="159.70" y2="292.12" stroke="#666" stroke-width="0.7"/>
<text x="156.60" y="293.96" font-size="5.1" text-anchor="end" fill="#222">400</text>
<line x1="158.40" y1="279.15" x2="159.70" y2="279.15" stroke="#666" stroke-width="0.7"/>
<text x="156.60" y="280.99" font-size="5.1" text-anchor="end" fill="#222">500</text>
<line x1="158.40" y1="266.18" x2="159.70" y2="266.18" stroke="#666" stroke-width="0.7"/>
<text x="156.60" y="268.02" font-size="5.1" text-anchor="end" fill="#222">600</text>
<line x1="159.10" y1="344.20" x2="237.20" y2="344.20" stroke="#222" stroke-width="0.9"/>
<line x1="185.40" y1="344.20" x2="185.40" y2="345.50" stroke="#222" stroke-width="0.7"/>
<line x1="211.20" y1="344.20" x2="211.20" y2="345.50" stroke="#222" stroke-width="0.7"/>
<line x1="237.00" y1="344.20" x2="237.00" y2="345.50" stroke="#222" stroke-width="0.7"/>
<text x="160.00" y="353.00" font-size="5.8" text-anchor="middle" fill="#222">0</text>
<text x="185.40" y="353.00" font-size="5.8" text-anchor="middle" fill="#222">1</text>
<text x="211.20" y="353.00" font-size="5.8" text-anchor="middle" fill="#222">10</text>
<text x="237.00" y="353.00" font-size="5.8" text-anchor="middle" fill="#222">100</text>
<text x="206.40" y="363.20" font-size="7.3" text-anchor="middle" fill="#111">KL/TPO (ng/mL)</text>
<line x1="237.00" y1="286.93" x2="237.00" y2="276.56" stroke="#111" stroke-width="0.9"/>
<line x1="235.50" y1="276.56" x2="238.50" y2="276.56" stroke="#111" stroke-width="0.9"/>
<polyline points="160.00,344.00 185.40,342.96 211.20,331.03 237.00,290.17" fill="none" stroke="#111" stroke-width="1.0"/>
<polyline points="160.00,344.00 185.40,342.96 211.20,331.03 237.00,293.16" fill="none" stroke="#111" stroke-width="1.0"/>
<polyline points="160.00,344.00 185.40,342.70 211.20,331.03 237.00,286.93" fill="none" stroke="#aaa" stroke-width="1.0"/>
<rect x="158.50" y="342.50" width="3.00" height="3.00" fill="#111" stroke="none" stroke-width="1"/>
<rect x="183.90" y="341.46" width="3.00" height="3.00" fill="#111" stroke="none" stroke-width="1"/>
<rect x="209.70" y="329.53" width="3.00" height="3.00" fill="#111" stroke="none" stroke-width="1"/>
<rect x="235.50" y="288.67" width="3.00" height="3.00" fill="#111" stroke="none" stroke-width="1"/>
<rect x="235.50" y="291.66" width="3.00" height="3.00" fill="#111" stroke="none" stroke-width="1"/>
<rect x="158.40" y="342.40" width="3.20" height="3.20" fill="#aaa" stroke="none" stroke-width="1"/>
<rect x="183.80" y="341.10" width="3.20" height="3.20" fill="#aaa" stroke="none" stroke-width="1"/>
<rect x="209.60" y="329.43" width="3.20" height="3.20" fill="#aaa" stroke="none" stroke-width="1"/>
<rect x="235.40" y="285.33" width="3.20" height="3.20" fill="#aaa" stroke="none" stroke-width="1"/>
<line x1="167.80" y1="267.40" x2="179.90" y2="267.40" stroke="#000" stroke-width="1.4"/>
<text x="183.30" y="269.90" font-size="7.0" font-style="italic" stroke="#000" stroke-width="0.25">WT</text>
<line x1="167.80" y1="278.80" x2="179.90" y2="278.80" stroke="#000" stroke-width="1.4"/>
<text x="183.30" y="281.30" font-size="6.8" font-style="italic" stroke="#000" stroke-width="0.25">Tgfb2<tspan dx="0.5" dy="-3" font-size="5">+/-</tspan></text>
<line x1="167.80" y1="289.70" x2="179.90" y2="289.70" stroke="#aaa" stroke-width="1.4"/>
<text x="181.80" y="292.20" font-size="6.8" font-style="italic" stroke="#000" stroke-width="0.25">Tgfb2<tspan dx="0.8" dy="-3" font-size="5">-/-</tspan></text>
<text x="263.40" y="256.00" font-size="17" font-weight="bold">D</text>
<line x1="302.40" y1="257.20" x2="312.10" y2="257.20" stroke="#222" stroke-width="1.1"/>
<text x="313.60" y="259.30" font-size="6.05" fill="#222">DMSO</text>
<line x1="302.40" y1="264.40" x2="312.10" y2="264.40" stroke="#999" stroke-width="0.9"/>
<text x="313.60" y="266.50" font-size="6.0" fill="#222">SB-431542</text>
<line x1="301.70" y1="273.00" x2="301.70" y2="342.60" stroke="#888" stroke-width="0.8"/>
<line x1="300.40" y1="341.90" x2="301.70" y2="341.90" stroke="#888" stroke-width="0.7"/>
<text x="299.00" y="343.99" font-size="5.8" text-anchor="end" fill="#222">0</text>
<line x1="300.40" y1="330.44" x2="301.70" y2="330.44" stroke="#888" stroke-width="0.7"/>
<text x="299.00" y="332.53" font-size="5.8" text-anchor="end" fill="#222">50</text>
<line x1="300.40" y1="318.98" x2="301.70" y2="318.98" stroke="#888" stroke-width="0.7"/>
<text x="299.00" y="321.07" font-size="5.8" text-anchor="end" fill="#222">100</text>
<line x1="300.40" y1="307.52" x2="301.70" y2="307.52" stroke="#888" stroke-width="0.7"/>
<text x="299.00" y="309.61" font-size="5.8" text-anchor="end" fill="#222">150</text>
<line x1="300.40" y1="296.06" x2="301.70" y2="296.06" stroke="#888" stroke-width="0.7"/>
<text x="299.00" y="298.15" font-size="5.8" text-anchor="end" fill="#222">200</text>
<line x1="300.40" y1="284.60" x2="301.70" y2="284.60" stroke="#888" stroke-width="0.7"/>
<text x="299.00" y="286.69" font-size="5.8" text-anchor="end" fill="#222">250</text>
<line x1="300.40" y1="273.14" x2="301.70" y2="273.14" stroke="#888" stroke-width="0.7"/>
<text x="299.00" y="275.23" font-size="5.8" text-anchor="end" fill="#222">300</text>
<line x1="301.30" y1="342.20" x2="391.70" y2="342.20" stroke="#222" stroke-width="0.9"/>
<line x1="331.30" y1="342.20" x2="331.30" y2="343.50" stroke="#222" stroke-width="0.7"/>
<line x1="361.40" y1="342.20" x2="361.40" y2="343.50" stroke="#222" stroke-width="0.7"/>
<line x1="391.50" y1="342.20" x2="391.50" y2="343.50" stroke="#222" stroke-width="0.7"/>
<text x="301.20" y="349.60" font-size="5.8" text-anchor="middle" fill="#222">0</text>
<text x="331.30" y="349.60" font-size="5.8" text-anchor="middle" fill="#222">1</text>
<text x="361.40" y="349.60" font-size="5.8" text-anchor="middle" fill="#222">10</text>
<text x="391.50" y="349.60" font-size="5.8" text-anchor="middle" fill="#222">100</text>
<text x="349.70" y="360.60" font-size="8.0" text-anchor="middle" fill="#111">Flt3L (ng/mL)</text>
<text x="276.90" y="311.50" font-size="6.0" text-anchor="middle" fill="#222" transform="rotate(-90 276.9 311.5)">Proliferation of cells</text>
<text x="283.00" y="310.30" font-size="6.1" text-anchor="middle" fill="#222" transform="rotate(-90 283 310.3)">(% of DMSO at 10ng/mL)</text>
<line x1="331.30" y1="332.73" x2="331.30" y2="325.86" stroke="#666" stroke-width="0.6"/>
<line x1="330.10" y1="325.86" x2="332.50" y2="325.86" stroke="#666" stroke-width="0.6"/>
<line x1="391.50" y1="295.60" x2="391.50" y2="278.87" stroke="#666" stroke-width="0.6"/>
<line x1="390.30" y1="278.87" x2="392.70" y2="278.87" stroke="#666" stroke-width="0.6"/>
<line x1="391.50" y1="322.42" x2="391.50" y2="317.83" stroke="#666" stroke-width="0.6"/>
<line x1="390.30" y1="317.83" x2="392.70" y2="317.83" stroke="#666" stroke-width="0.6"/>
<polyline points="301.20,341.90 331.30,333.88 361.40,328.84 391.50,322.42" fill="none" stroke="#999" stroke-width="0.8"/>
<polyline points="301.20,341.90 331.30,332.73 361.40,318.98 391.50,295.60" fill="none" stroke="#111" stroke-width="1.1"/>
<circle cx="331.30" cy="333.88" r="0.9" fill="#999"/>
<circle cx="361.40" cy="328.84" r="0.9" fill="#999"/>
<circle cx="391.50" cy="322.42" r="0.9" fill="#999"/>
<rect x="330.30" y="331.73" width="2.00" height="2.00" fill="#000" stroke="none" stroke-width="1"/>
<rect x="360.40" y="317.98" width="2.00" height="2.00" fill="#000" stroke="none" stroke-width="1"/>
<rect x="390.50" y="294.60" width="2.00" height="2.00" fill="#000" stroke="none" stroke-width="1"/>
<polygon points="390.80,326.10 391.49,327.95 393.46,328.03 391.92,329.26 392.45,331.17 390.80,330.08 389.15,331.17 389.68,329.26 388.14,328.03 390.11,327.95" fill="#000"/>
<line x1="420.00" y1="273.00" x2="420.00" y2="342.40" stroke="#999" stroke-width="0.9"/>
<line x1="418.70" y1="341.60" x2="420.00" y2="341.60" stroke="#999" stroke-width="0.7"/>
<text x="416.40" y="343.76" font-size="6.0" text-anchor="end" fill="#222">0</text>
<line x1="418.70" y1="327.94" x2="420.00" y2="327.94" stroke="#999" stroke-width="0.7"/>
<text x="416.40" y="330.10" font-size="6.0" text-anchor="end" fill="#222">100</text>
<line x1="418.70" y1="314.28" x2="420.00" y2="314.28" stroke="#999" stroke-width="0.7"/>
<text x="416.40" y="316.44" font-size="6.0" text-anchor="end" fill="#222">200</text>
<line x1="418.70" y1="300.62" x2="420.00" y2="300.62" stroke="#999" stroke-width="0.7"/>
<text x="416.40" y="302.78" font-size="6.0" text-anchor="end" fill="#222">300</text>
<line x1="418.70" y1="286.96" x2="420.00" y2="286.96" stroke="#999" stroke-width="0.7"/>
<text x="416.40" y="289.12" font-size="6.0" text-anchor="end" fill="#222">400</text>
<line x1="418.70" y1="273.30" x2="420.00" y2="273.30" stroke="#999" stroke-width="0.7"/>
<text x="416.40" y="275.46" font-size="6.0" text-anchor="end" fill="#222">500</text>
<line x1="419.60" y1="342.00" x2="508.60" y2="342.00" stroke="#222" stroke-width="0.9"/>
<line x1="449.80" y1="342.00" x2="449.80" y2="343.30" stroke="#222" stroke-width="0.7"/>
<line x1="479.20" y1="342.00" x2="479.20" y2="343.30" stroke="#222" stroke-width="0.7"/>
<line x1="508.40" y1="342.00" x2="508.40" y2="343.30" stroke="#222" stroke-width="0.7"/>
<text x="420.40" y="349.80" font-size="5.8" text-anchor="middle" fill="#222">0</text>
<text x="449.80" y="349.80" font-size="5.8" text-anchor="middle" fill="#222">1</text>
<text x="479.20" y="349.80" font-size="5.8" text-anchor="middle" fill="#222">10</text>
<text x="508.40" y="349.80" font-size="5.8" text-anchor="middle" fill="#222">100</text>
<text x="468.60" y="361.40" font-size="7.9" text-anchor="middle" fill="#111">KL/TPO (ng/mL)</text>
<line x1="449.80" y1="336.14" x2="449.80" y2="332.72" stroke="#888" stroke-width="0.6"/>
<line x1="448.60" y1="332.72" x2="451.00" y2="332.72" stroke="#888" stroke-width="0.6"/>
<line x1="479.20" y1="326.57" x2="479.20" y2="320.43" stroke="#888" stroke-width="0.6"/>
<line x1="478.00" y1="320.43" x2="480.40" y2="320.43" stroke="#888" stroke-width="0.6"/>
<line x1="508.40" y1="301.30" x2="508.40" y2="277.40" stroke="#888" stroke-width="0.6"/>
<line x1="507.20" y1="277.40" x2="509.60" y2="277.40" stroke="#888" stroke-width="0.6"/>
<polyline points="420.40,341.60 449.80,336.14 479.20,326.57 508.40,301.30" fill="none" stroke="#999" stroke-width="0.9"/>
<polyline points="420.40,341.60 449.80,337.50 479.20,327.94 508.40,308.13" fill="none" stroke="#111" stroke-width="1.1"/>
<circle cx="449.80" cy="336.14" r="1.1" fill="#aaa"/>
<circle cx="479.20" cy="326.57" r="1.1" fill="#aaa"/>
<circle cx="508.40" cy="301.30" r="1.1" fill="#aaa"/>
<rect x="448.70" y="336.40" width="2.20" height="2.20" fill="#000" stroke="none" stroke-width="1"/>
<rect x="478.10" y="326.84" width="2.20" height="2.20" fill="#000" stroke="none" stroke-width="1"/>
<rect x="507.30" y="307.03" width="2.20" height="2.20" fill="#000" stroke="none" stroke-width="1"/>
<text x="3.30" y="390.20" font-size="17" font-weight="bold">E</text>
<line x1="43.80" y1="391.80" x2="58.20" y2="391.80" stroke="#222" stroke-width="1.5"/>
<text x="59.00" y="394.10" font-size="6.3" fill="#222">WT</text>
<line x1="43.80" y1="399.40" x2="58.20" y2="399.40" stroke="#999" stroke-width="0.9"/>
<text x="59.00" y="401.70" font-size="6.6" font-style="italic" fill="#222">Tgfb2<tspan dy="-2.3" font-size="4">+/-</tspan></text>
<line x1="39.50" y1="403.50" x2="39.50" y2="474.20" stroke="#222" stroke-width="0.9"/>
<line x1="38.20" y1="473.30" x2="39.50" y2="473.30" stroke="#222" stroke-width="0.7"/>
<text x="37.40" y="475.46" font-size="6.0" text-anchor="end" fill="#222">0</text>
<line x1="38.20" y1="459.43" x2="39.50" y2="459.43" stroke="#222" stroke-width="0.7"/>
<text x="37.40" y="461.59" font-size="6.0" text-anchor="end" fill="#222">50</text>
<line x1="38.20" y1="445.55" x2="39.50" y2="445.55" stroke="#222" stroke-width="0.7"/>
<text x="37.40" y="447.71" font-size="6.0" text-anchor="end" fill="#222">100</text>
<line x1="38.20" y1="431.68" x2="39.50" y2="431.68" stroke="#222" stroke-width="0.7"/>
<text x="37.40" y="433.84" font-size="6.0" text-anchor="end" fill="#222">150</text>
<line x1="38.20" y1="417.80" x2="39.50" y2="417.80" stroke="#222" stroke-width="0.7"/>
<text x="37.40" y="419.96" font-size="6.0" text-anchor="end" fill="#222">200</text>
<line x1="38.20" y1="403.93" x2="39.50" y2="403.93" stroke="#222" stroke-width="0.7"/>
<text x="37.40" y="406.09" font-size="6.0" text-anchor="end" fill="#222">250</text>
<line x1="39.10" y1="473.80" x2="153.80" y2="473.80" stroke="#222" stroke-width="0.9"/>
<line x1="78.60" y1="473.80" x2="78.60" y2="475.10" stroke="#222" stroke-width="0.7"/>
<line x1="116.20" y1="473.80" x2="116.20" y2="475.10" stroke="#222" stroke-width="0.7"/>
<line x1="153.80" y1="473.80" x2="153.80" y2="475.10" stroke="#222" stroke-width="0.7"/>
<text x="59.80" y="482.20" font-size="5.8" text-anchor="middle" fill="#222">10</text>
<text x="97.40" y="482.20" font-size="5.8" text-anchor="middle" fill="#222">50</text>
<text x="135.00" y="482.20" font-size="5.8" text-anchor="middle" fill="#222">100</text>
<text x="98.40" y="493.30" font-size="8.6" text-anchor="middle" fill="#111">Flt3L (ng/mL)</text>
<text x="14.00" y="441.20" font-size="6.45" text-anchor="middle" fill="#222" transform="rotate(-90 14 441.2)">Proliferation of cells</text>
<text x="21.40" y="441.30" font-size="6.5" text-anchor="middle" fill="#222" transform="rotate(-90 21.4 441.3)">(% of WT response at 50ng/mL)</text>
<line x1="97.40" y1="440.56" x2="97.40" y2="429.45" stroke="#999" stroke-width="0.9"/>
<line x1="95.70" y1="429.45" x2="99.10" y2="429.45" stroke="#999" stroke-width="0.9"/>
<line x1="135.00" y1="434.73" x2="135.00" y2="417.80" stroke="#999" stroke-width="0.9"/>
<line x1="133.30" y1="417.80" x2="136.70" y2="417.80" stroke="#999" stroke-width="0.9"/>
<line x1="135.00" y1="444.72" x2="135.00" y2="440.00" stroke="#666" stroke-width="0.8"/>
<line x1="133.80" y1="440.00" x2="136.20" y2="440.00" stroke="#666" stroke-width="0.8"/>
<polyline points="59.80,458.59 97.40,440.56 135.00,434.73" fill="none" stroke="#aaa" stroke-width="0.9"/>
<polyline points="59.80,455.54 97.40,446.38 135.00,444.72" fill="none" stroke="#222" stroke-width="0.9"/>
<circle cx="59.80" cy="458.59" r="2.2" fill="#999"/>
<circle cx="97.40" cy="440.56" r="2.2" fill="#999"/>
<circle cx="135.00" cy="434.73" r="2.2" fill="#999"/>
<circle cx="59.80" cy="455.54" r="2.2" fill="#000"/>
<circle cx="97.40" cy="446.38" r="2.2" fill="#000"/>
<circle cx="135.00" cy="444.72" r="2.2" fill="#000"/>
<text x="196.70" y="392.30" font-size="17" font-weight="bold">F</text>
<rect x="236.80" y="386.80" width="3.20" height="3.20" fill="#000" stroke="none" stroke-width="1"/>
<text x="241.00" y="391.00" font-size="6.6">WT</text>
<rect x="236.80" y="393.80" width="3.20" height="3.20" fill="#999" stroke="none" stroke-width="1"/>
<text x="241.00" y="397.90" font-size="6.8" font-style="italic">Tgfb2<tspan dy="-2.2" font-size="4">+/-</tspan></text>
<line x1="233.30" y1="407.40" x2="233.30" y2="490.00" stroke="#999" stroke-width="0.9"/>
<line x1="232.00" y1="488.80" x2="233.30" y2="488.80" stroke="#999" stroke-width="0.7"/>
<text x="226.30" y="491.00" font-size="6.1" text-anchor="middle" fill="#222">0</text>
<line x1="232.00" y1="478.71" x2="233.30" y2="478.71" stroke="#999" stroke-width="0.7"/>
<text x="226.30" y="480.91" font-size="6.1" text-anchor="middle" fill="#222">20</text>
<line x1="232.00" y1="468.62" x2="233.30" y2="468.62" stroke="#999" stroke-width="0.7"/>
<text x="226.30" y="470.82" font-size="6.1" text-anchor="middle" fill="#222">40</text>
<line x1="232.00" y1="458.53" x2="233.30" y2="458.53" stroke="#999" stroke-width="0.7"/>
<text x="226.30" y="460.73" font-size="6.1" text-anchor="middle" fill="#222">60</text>
<line x1="232.00" y1="448.44" x2="233.30" y2="448.44" stroke="#999" stroke-width="0.7"/>
<text x="226.30" y="450.64" font-size="6.1" text-anchor="middle" fill="#222">80</text>
<line x1="232.00" y1="438.35" x2="233.30" y2="438.35" stroke="#999" stroke-width="0.7"/>
<text x="226.30" y="440.55" font-size="6.1" text-anchor="middle" fill="#222">100</text>
<line x1="232.00" y1="428.26" x2="233.30" y2="428.26" stroke="#999" stroke-width="0.7"/>
<text x="226.30" y="430.46" font-size="6.1" text-anchor="middle" fill="#222">120</text>
<line x1="232.00" y1="418.17" x2="233.30" y2="418.17" stroke="#999" stroke-width="0.7"/>
<text x="226.30" y="420.37" font-size="6.1" text-anchor="middle" fill="#222">140</text>
<line x1="232.00" y1="408.08" x2="233.30" y2="408.08" stroke="#999" stroke-width="0.7"/>
<text x="226.30" y="410.28" font-size="6.1" text-anchor="middle" fill="#222">160</text>
<line x1="233.30" y1="489.60" x2="279.40" y2="489.60" stroke="#222" stroke-width="0.9"/>
<line x1="247.60" y1="426.75" x2="247.60" y2="413.12" stroke="#444" stroke-width="0.7"/>
<line x1="247.60" y1="413.12" x2="247.60" y2="413.12" stroke="#444" stroke-width="0.7"/>
<line x1="267.80" y1="458.53" x2="267.80" y2="454.49" stroke="#444" stroke-width="0.7"/>
<line x1="267.80" y1="454.49" x2="267.80" y2="454.49" stroke="#444" stroke-width="0.7"/>
<rect x="237.70" y="426.75" width="19.70" height="62.05" fill="#000" stroke="none" stroke-width="1"/>
<rect x="257.90" y="458.53" width="19.60" height="30.27" fill="#999" stroke="#555" stroke-width="0.5"/>
<text x="267.30" y="453.20" font-size="5.5" text-anchor="middle">*</text>
<text x="209.20" y="446.80" font-size="6.65" text-anchor="middle" fill="#222" transform="rotate(-90 209.2 446.8)">Colony size</text>
<text x="216.20" y="447.40" font-size="6.57" text-anchor="middle" fill="#222" transform="rotate(-90 216.2 447.4)">(number of cells/well)</text>
<line x1="316.10" y1="404.70" x2="316.10" y2="489.90" stroke="#999" stroke-width="0.9"/>
<line x1="314.80" y1="488.90" x2="316.10" y2="488.90" stroke="#999" stroke-width="0.7"/>
<text x="308.10" y="491.06" font-size="6.0" text-anchor="middle" fill="#222">0</text>
<line x1="314.80" y1="474.90" x2="316.10" y2="474.90" stroke="#999" stroke-width="0.7"/>
<text x="308.10" y="477.06" font-size="6.0" text-anchor="middle" fill="#222">0.05</text>
<line x1="314.80" y1="460.90" x2="316.10" y2="460.90" stroke="#999" stroke-width="0.7"/>
<text x="308.10" y="463.06" font-size="6.0" text-anchor="middle" fill="#222">0.1</text>
<line x1="314.80" y1="446.90" x2="316.10" y2="446.90" stroke="#999" stroke-width="0.7"/>
<text x="308.10" y="449.06" font-size="6.0" text-anchor="middle" fill="#222">0.15</text>
<line x1="314.80" y1="432.90" x2="316.10" y2="432.90" stroke="#999" stroke-width="0.7"/>
<text x="308.10" y="435.06" font-size="6.0" text-anchor="middle" fill="#222">0.2</text>
<line x1="314.80" y1="418.90" x2="316.10" y2="418.90" stroke="#999" stroke-width="0.7"/>
<text x="308.10" y="421.06" font-size="6.0" text-anchor="middle" fill="#222">0.25</text>
<line x1="314.80" y1="404.90" x2="316.10" y2="404.90" stroke="#999" stroke-width="0.7"/>
<text x="308.10" y="407.06" font-size="6.0" text-anchor="middle" fill="#222">0.3</text>
<line x1="316.10" y1="489.50" x2="362.00" y2="489.50" stroke="#222" stroke-width="0.9"/>
<line x1="330.00" y1="431.50" x2="330.00" y2="420.30" stroke="#777" stroke-width="0.7"/>
<line x1="330.00" y1="420.30" x2="330.00" y2="420.30" stroke="#777" stroke-width="0.7"/>
<line x1="350.00" y1="427.86" x2="350.00" y2="414.70" stroke="#777" stroke-width="0.7"/>
<line x1="350.00" y1="414.70" x2="350.00" y2="414.70" stroke="#777" stroke-width="0.7"/>
<rect x="320.40" y="431.50" width="19.20" height="57.40" fill="#000" stroke="none" stroke-width="1"/>
<rect x="340.10" y="427.86" width="19.60" height="61.04" fill="#999" stroke="#555" stroke-width="0.5"/>
<text x="291.10" y="446.30" font-size="6.6" text-anchor="middle" fill="#222" transform="rotate(-90 291.1 446.3)">Clonal efficiency</text>
<text x="299.20" y="445.60" font-size="6.9" text-anchor="middle" fill="#222" transform="rotate(-90 299.2 445.6)">(positive wells/seeded wells)</text>
</svg>
</body></html>
